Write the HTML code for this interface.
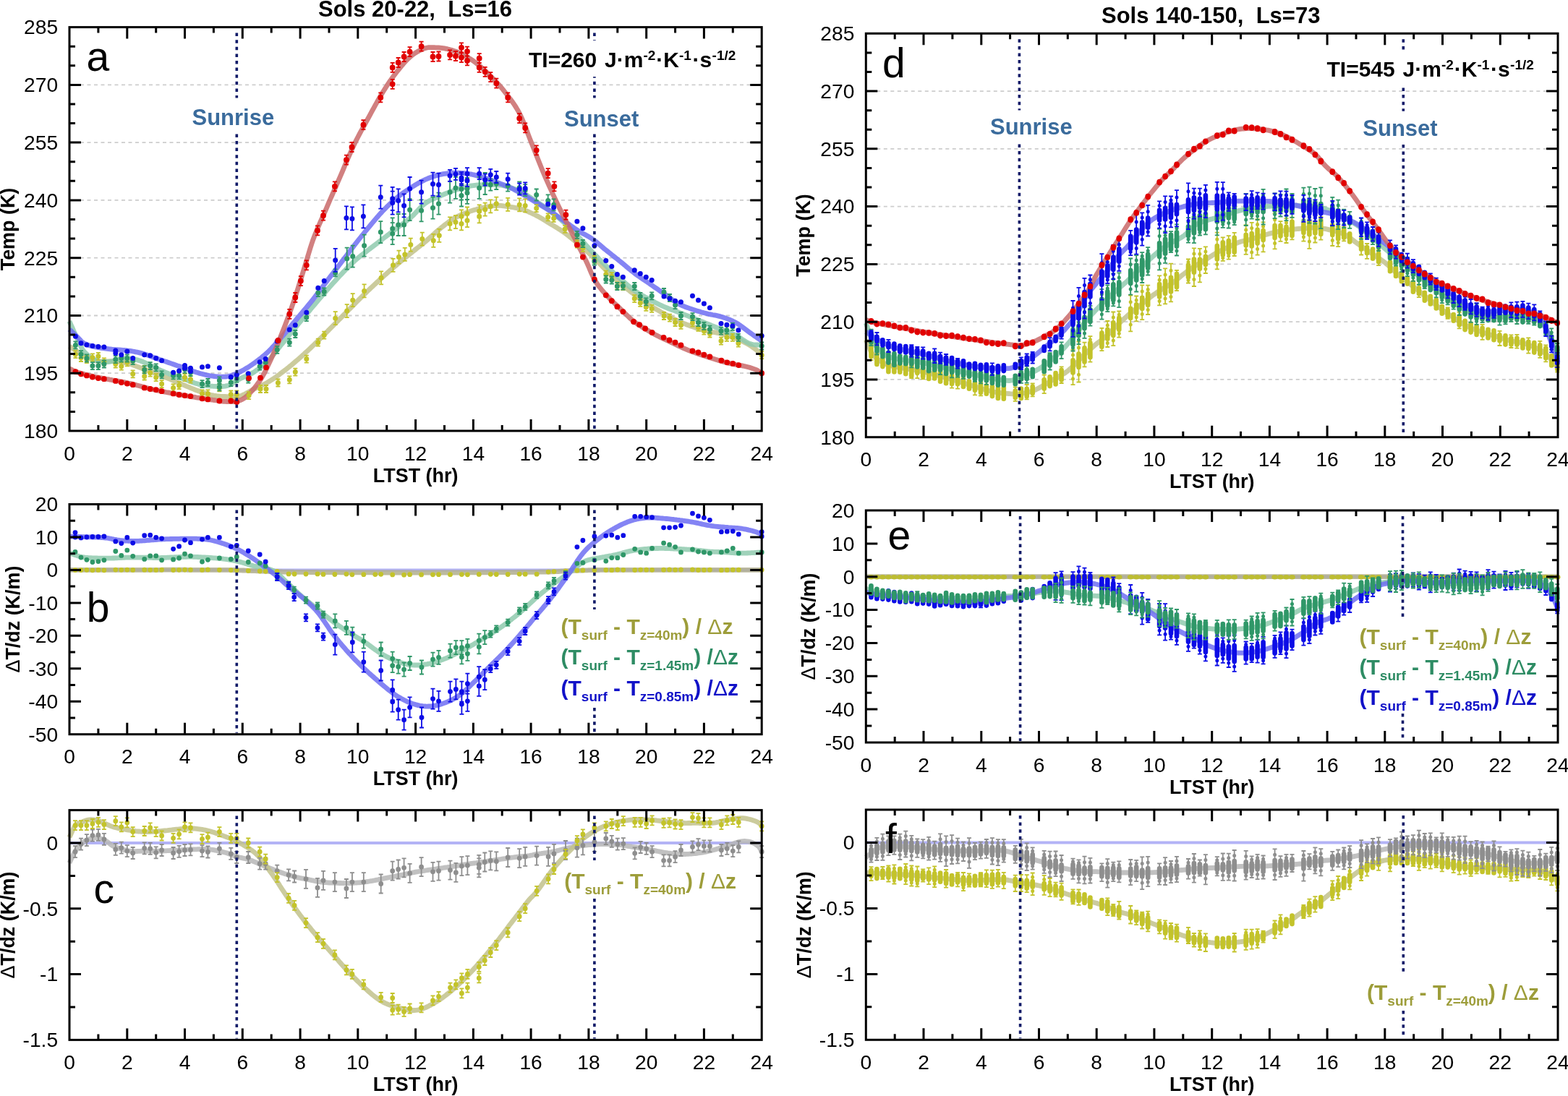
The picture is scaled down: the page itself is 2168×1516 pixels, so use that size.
<!DOCTYPE html>
<html><head><meta charset="utf-8"><title>Figure</title>
<style>html,body{margin:0;padding:0;background:#fff;} svg{display:block;}</style></head>
<body><svg width="2168" height="1516" viewBox="0 0 2168 1516" font-family="'Liberation Sans', Arial, sans-serif">
<rect width="2168" height="1516" fill="#fff"/>
<path d="M111.0 516.2H1038.2M111.0 436.5H1038.2M111.0 356.7H1038.2M111.0 276.9H1038.2M111.0 197.1H1038.2M111.0 117.4H1038.2" stroke="#cdcdcd" stroke-width="1.8" stroke-dasharray="5 4.5" fill="none"/>
<path d="M96.0 479.0L98.0 480.3L100.0 481.6L102.0 483.0L104.0 484.3L106.0 485.7L108.0 487.0L110.0 488.3L112.0 489.5L113.9 490.7L115.9 491.8L117.9 492.8L119.9 493.8L121.9 494.8L123.9 495.7L125.9 496.6L127.9 497.4L129.9 498.1L131.9 498.7L133.9 499.3L135.9 499.7L137.9 500.1L139.9 500.2L141.9 500.2L143.9 500.2L145.9 500.1L147.8 499.9L149.8 499.8L151.8 499.7L153.8 499.7L155.8 499.7L157.8 499.9L159.8 500.0L161.8 500.2L163.8 500.4L165.8 500.6L167.8 500.9L169.8 501.2L171.8 501.6L173.8 502.0L175.8 502.4L177.8 502.9L179.8 503.5L181.7 504.1L183.7 504.8L185.7 505.6L187.7 506.3L189.7 507.1L191.7 507.8L193.7 508.6L195.7 509.3L197.7 510.0L199.7 510.8L201.7 511.5L203.7 512.2L205.7 513.0L207.7 513.7L209.7 514.5L211.7 515.2L213.7 516.0L215.6 516.8L217.6 517.5L219.6 518.3L221.6 519.1L223.6 519.9L225.6 520.7L227.6 521.5L229.6 522.3L231.6 523.1L233.6 523.9L235.6 524.7L237.6 525.6L239.6 526.4L241.6 527.3L243.6 528.1L245.6 529.0L247.6 529.9L249.6 530.7L251.5 531.6L253.5 532.4L255.5 533.2L257.5 534.1L259.5 534.9L261.5 535.7L263.5 536.6L265.5 537.4L267.5 538.2L269.5 539.0L271.5 539.8L273.5 540.5L275.5 541.2L277.5 541.9L279.5 542.6L281.5 543.3L283.5 543.9L285.4 544.5L287.4 545.1L289.4 545.7L291.4 546.2L293.4 546.7L295.4 547.1L297.4 547.4L299.4 547.7L301.4 547.9L303.4 548.1L305.4 548.3L307.4 548.4L309.4 548.5L311.4 548.5L313.4 548.6L315.4 548.7L317.4 548.8L319.3 548.9L321.3 549.0L323.3 549.1L325.3 549.0L327.3 548.9L329.3 548.6L331.3 548.1L333.3 547.5L335.3 546.6L337.3 545.7L339.3 544.7L341.3 543.6L343.3 542.5L345.3 541.3L347.3 540.2L349.3 539.1L351.3 538.0L353.2 537.1L355.2 536.1L357.2 535.2L359.2 534.3L361.2 533.4L363.2 532.4L365.2 531.5L367.2 530.5L369.2 529.4L371.2 528.2L373.2 527.0L375.2 525.7L377.2 524.4L379.2 523.1L381.2 521.7L383.2 520.2L385.2 518.8L387.1 517.3L389.1 515.8L391.1 514.3L393.1 512.8L395.1 511.3L397.1 509.7L399.1 508.1L401.1 506.4L403.1 504.8L405.1 503.1L407.1 501.4L409.1 499.7L411.1 498.0L413.1 496.3L415.1 494.5L417.1 492.7L419.1 490.9L421.0 489.1L423.0 487.3L425.0 485.5L427.0 483.6L429.0 481.7L431.0 479.8L433.0 477.9L435.0 476.0L437.0 474.0L439.0 472.1L441.0 470.1L443.0 468.1L445.0 466.1L447.0 464.1L449.0 462.1L451.0 460.1L453.0 458.1L454.9 456.1L456.9 454.1L458.9 452.1L460.9 450.1L462.9 448.1L464.9 446.1L466.9 444.1L468.9 442.0L470.9 440.0L472.9 438.0L474.9 436.0L476.9 434.0L478.9 431.9L480.9 429.9L482.9 427.9L484.9 425.9L486.9 423.8L488.9 421.8L490.8 419.8L492.8 417.8L494.8 415.9L496.8 413.9L498.8 411.9L500.8 409.9L502.8 407.9L504.8 406.0L506.8 404.0L508.8 402.1L510.8 400.2L512.8 398.3L514.8 396.5L516.8 394.6L518.8 392.7L520.8 390.9L522.8 389.1L524.7 387.3L526.7 385.4L528.7 383.6L530.7 381.8L532.7 380.0L534.7 378.3L536.7 376.5L538.7 374.7L540.7 373.0L542.7 371.2L544.7 369.5L546.7 367.8L548.7 366.1L550.7 364.4L552.7 362.7L554.7 361.1L556.7 359.4L558.6 357.8L560.6 356.2L562.6 354.6L564.6 353.0L566.6 351.4L568.6 349.8L570.6 348.2L572.6 346.6L574.6 345.0L576.6 343.4L578.6 341.9L580.6 340.3L582.6 338.7L584.6 337.1L586.6 335.5L588.6 333.8L590.6 332.1L592.5 330.4L594.5 328.6L596.5 326.8L598.5 325.0L600.5 323.2L602.5 321.4L604.5 319.6L606.5 317.9L608.5 316.3L610.5 314.7L612.5 313.1L614.5 311.5L616.5 309.9L618.5 308.4L620.5 306.9L622.5 305.5L624.5 304.2L626.4 302.9L628.4 301.7L630.4 300.6L632.4 299.6L634.4 298.6L636.4 297.7L638.4 296.8L640.4 295.9L642.4 295.1L644.4 294.3L646.4 293.6L648.4 292.8L650.4 292.1L652.4 291.4L654.4 290.8L656.4 290.2L658.4 289.7L660.3 289.1L662.3 288.6L664.3 288.1L666.3 287.6L668.3 287.2L670.3 286.8L672.3 286.3L674.3 285.9L676.3 285.6L678.3 285.3L680.3 285.0L682.3 284.7L684.3 284.5L686.3 284.4L688.3 284.3L690.3 284.3L692.3 284.4L694.3 284.6L696.2 284.9L698.2 285.1L700.2 285.4L702.2 285.7L704.2 286.0L706.2 286.3L708.2 286.6L710.2 286.9L712.2 287.3L714.2 287.7L716.2 288.1L718.2 288.6L720.2 289.1L722.2 289.8L724.2 290.4L726.2 291.2L728.2 291.9L730.1 292.7L732.1 293.6L734.1 294.5L736.1 295.4L738.1 296.3L740.1 297.3L742.1 298.4L744.1 299.4L746.1 300.6L748.1 301.7L750.1 302.9L752.1 304.2L754.1 305.4L756.1 306.6L758.1 307.9L760.1 309.1L762.1 310.3L764.0 311.4L766.0 312.6L768.0 313.8L770.0 315.0L772.0 316.3L774.0 317.5L776.0 318.9L778.0 320.2L780.0 321.6L782.0 323.1L784.0 324.6L786.0 326.2L788.0 327.8L790.0 329.4L792.0 331.0L794.0 332.7L796.0 334.3L797.9 336.0L799.9 337.7L801.9 339.4L803.9 341.1L805.9 342.8L807.9 344.5L809.9 346.2L811.9 348.0L813.9 349.8L815.9 351.6L817.9 353.4L819.9 355.3L821.9 357.3L823.9 359.2L825.9 361.3L827.9 363.3L829.9 365.4L831.8 367.5L833.8 369.5L835.8 371.5L837.8 373.5L839.8 375.4L841.8 377.3L843.8 379.1L845.8 381.0L847.8 382.8L849.8 384.6L851.8 386.4L853.8 388.1L855.8 389.9L857.8 391.6L859.8 393.3L861.8 395.1L863.8 396.7L865.7 398.4L867.7 400.1L869.7 401.7L871.7 403.3L873.7 404.9L875.7 406.4L877.7 408.0L879.7 409.5L881.7 410.9L883.7 412.4L885.7 413.8L887.7 415.2L889.7 416.6L891.7 417.9L893.7 419.2L895.7 420.6L897.7 421.8L899.6 423.1L901.6 424.4L903.6 425.6L905.6 426.8L907.6 427.9L909.6 429.1L911.6 430.2L913.6 431.4L915.6 432.5L917.6 433.6L919.6 434.7L921.6 435.8L923.6 436.9L925.6 437.9L927.6 439.0L929.6 440.0L931.6 441.0L933.6 442.0L935.5 443.0L937.5 443.9L939.5 444.8L941.5 445.7L943.5 446.5L945.5 447.4L947.5 448.2L949.5 449.0L951.5 449.7L953.5 450.5L955.5 451.2L957.5 451.9L959.5 452.6L961.5 453.2L963.5 453.9L965.5 454.5L967.5 455.1L969.4 455.6L971.4 456.2L973.4 456.7L975.4 457.2L977.4 457.7L979.4 458.2L981.4 458.6L983.4 458.9L985.4 459.3L987.4 459.6L989.4 459.9L991.4 460.3L993.4 460.6L995.4 461.1L997.4 461.6L999.4 462.1L1001.4 462.6L1003.3 463.2L1005.3 463.8L1007.3 464.4L1009.3 465.0L1011.3 465.7L1013.3 466.4L1015.3 467.2L1017.3 468.0L1019.3 468.8L1021.3 469.7L1023.3 470.6L1025.3 471.5L1027.3 472.4L1029.3 473.4L1031.3 474.5L1033.3 475.6L1035.3 476.7L1037.2 477.9L1039.2 479.2L1041.2 480.6L1043.2 482.0L1045.2 483.6L1047.2 485.1L1049.2 486.6L1051.2 488.2L1053.2 489.6" fill="none" stroke="#c2c28c" stroke-width="6.8" stroke-linejoin="round" stroke-linecap="butt" opacity="0.85"/>
<path d="M96.0 444.4L98.0 449.0L100.0 453.5L102.0 458.1L104.0 462.5L106.0 466.8L108.0 471.1L110.0 475.4L112.0 479.6L113.9 483.2L115.9 485.9L117.9 488.0L119.9 489.9L121.9 491.7L123.9 493.3L125.9 494.7L127.9 496.0L129.9 497.1L131.9 498.1L133.9 499.0L135.9 499.7L137.9 500.3L139.9 500.7L141.9 500.9L143.9 501.0L145.9 500.9L147.8 500.7L149.8 500.5L151.8 500.3L153.8 500.0L155.8 499.7L157.8 499.3L159.8 498.7L161.8 497.9L163.8 497.2L165.8 496.5L167.8 496.0L169.8 495.8L171.8 495.6L173.8 495.6L175.8 495.6L177.8 495.8L179.8 496.0L181.7 496.3L183.7 496.6L185.7 497.0L187.7 497.4L189.7 497.9L191.7 498.4L193.7 499.0L195.7 499.7L197.7 500.5L199.7 501.4L201.7 502.3L203.7 503.3L205.7 504.3L207.7 505.4L209.7 506.4L211.7 507.4L213.7 508.4L215.6 509.3L217.6 510.2L219.6 511.1L221.6 512.0L223.6 512.9L225.6 513.7L227.6 514.6L229.6 515.4L231.6 516.2L233.6 517.0L235.6 517.8L237.6 518.6L239.6 519.3L241.6 520.0L243.6 520.7L245.6 521.4L247.6 522.0L249.6 522.7L251.5 523.4L253.5 524.1L255.5 524.7L257.5 525.4L259.5 526.2L261.5 526.9L263.5 527.7L265.5 528.5L267.5 529.2L269.5 529.9L271.5 530.5L273.5 531.1L275.5 531.7L277.5 532.1L279.5 532.5L281.5 532.9L283.5 533.2L285.4 533.5L287.4 533.7L289.4 533.9L291.4 534.1L293.4 534.2L295.4 534.3L297.4 534.4L299.4 534.5L301.4 534.6L303.4 534.6L305.4 534.6L307.4 534.5L309.4 534.4L311.4 534.1L313.4 533.7L315.4 533.2L317.4 532.5L319.3 531.6L321.3 530.5L323.3 529.2L325.3 527.9L327.3 526.6L329.3 525.3L331.3 524.2L333.3 523.2L335.3 522.3L337.3 521.4L339.3 520.6L341.3 519.7L343.3 518.9L345.3 517.9L347.3 516.9L349.3 515.9L351.3 514.6L353.2 513.3L355.2 511.9L357.2 510.5L359.2 509.0L361.2 507.4L363.2 505.7L365.2 504.0L367.2 502.2L369.2 500.3L371.2 498.3L373.2 496.2L375.2 493.9L377.2 491.6L379.2 489.2L381.2 486.7L383.2 484.2L385.2 481.7L387.1 479.2L389.1 476.7L391.1 474.3L393.1 471.8L395.1 469.4L397.1 467.0L399.1 464.5L401.1 462.0L403.1 459.6L405.1 457.1L407.1 454.7L409.1 452.3L411.1 449.8L413.1 447.4L415.1 445.0L417.1 442.6L419.1 440.2L421.0 437.8L423.0 435.4L425.0 433.1L427.0 430.7L429.0 428.3L431.0 425.9L433.0 423.6L435.0 421.2L437.0 418.8L439.0 416.5L441.0 414.1L443.0 411.8L445.0 409.5L447.0 407.2L449.0 404.9L451.0 402.6L453.0 400.3L454.9 398.0L456.9 395.8L458.9 393.5L460.9 391.3L462.9 389.1L464.9 386.9L466.9 384.7L468.9 382.5L470.9 380.4L472.9 378.3L474.9 376.2L476.9 374.1L478.9 372.0L480.9 370.0L482.9 368.0L484.9 366.0L486.9 364.1L488.9 362.2L490.8 360.4L492.8 358.7L494.8 357.0L496.8 355.4L498.8 353.8L500.8 352.3L502.8 350.7L504.8 349.2L506.8 347.7L508.8 346.1L510.8 344.6L512.8 343.0L514.8 341.5L516.8 340.0L518.8 338.5L520.8 337.0L522.8 335.5L524.7 334.0L526.7 332.5L528.7 330.9L530.7 329.4L532.7 327.9L534.7 326.3L536.7 324.8L538.7 323.2L540.7 321.7L542.7 320.1L544.7 318.6L546.7 317.0L548.7 315.5L550.7 314.0L552.7 312.5L554.7 311.1L556.7 309.6L558.6 308.2L560.6 306.7L562.6 305.2L564.6 303.6L566.6 302.0L568.6 300.3L570.6 298.5L572.6 296.5L574.6 294.4L576.6 292.2L578.6 290.0L580.6 287.9L582.6 285.9L584.6 284.0L586.6 282.3L588.6 280.8L590.6 279.5L592.5 278.4L594.5 277.3L596.5 276.3L598.5 275.4L600.5 274.5L602.5 273.7L604.5 272.8L606.5 272.0L608.5 271.1L610.5 270.2L612.5 269.3L614.5 268.5L616.5 267.7L618.5 266.9L620.5 266.1L622.5 265.3L624.5 264.6L626.4 263.9L628.4 263.2L630.4 262.5L632.4 261.8L634.4 261.2L636.4 260.5L638.4 259.9L640.4 259.3L642.4 258.8L644.4 258.3L646.4 257.9L648.4 257.5L650.4 257.1L652.4 256.8L654.4 256.6L656.4 256.4L658.4 256.2L660.3 256.0L662.3 255.9L664.3 255.8L666.3 255.7L668.3 255.6L670.3 255.5L672.3 255.4L674.3 255.4L676.3 255.4L678.3 255.4L680.3 255.4L682.3 255.4L684.3 255.5L686.3 255.6L688.3 255.8L690.3 256.0L692.3 256.2L694.3 256.5L696.2 256.8L698.2 257.3L700.2 257.8L702.2 258.3L704.2 258.9L706.2 259.6L708.2 260.2L710.2 261.0L712.2 261.7L714.2 262.5L716.2 263.3L718.2 264.3L720.2 265.2L722.2 266.3L724.2 267.4L726.2 268.5L728.2 269.8L730.1 271.1L732.1 272.4L734.1 273.7L736.1 275.0L738.1 276.4L740.1 277.7L742.1 279.0L744.1 280.4L746.1 281.7L748.1 283.0L750.1 284.4L752.1 285.8L754.1 287.2L756.1 288.6L758.1 290.1L760.1 291.6L762.1 293.1L764.0 294.6L766.0 296.2L768.0 297.8L770.0 299.4L772.0 301.0L774.0 302.7L776.0 304.4L778.0 306.2L780.0 308.0L782.0 309.8L784.0 311.7L786.0 313.6L788.0 315.5L790.0 317.5L792.0 319.5L794.0 321.6L796.0 323.6L797.9 325.7L799.9 327.7L801.9 329.9L803.9 332.0L805.9 334.2L807.9 336.4L809.9 338.7L811.9 340.9L813.9 343.1L815.9 345.3L817.9 347.4L819.9 349.5L821.9 351.6L823.9 353.7L825.9 355.7L827.9 357.8L829.9 359.8L831.8 361.8L833.8 363.7L835.8 365.7L837.8 367.6L839.8 369.5L841.8 371.4L843.8 373.3L845.8 375.1L847.8 376.9L849.8 378.7L851.8 380.5L853.8 382.3L855.8 384.0L857.8 385.8L859.8 387.5L861.8 389.2L863.8 390.9L865.7 392.7L867.7 394.3L869.7 396.0L871.7 397.6L873.7 399.2L875.7 400.7L877.7 402.1L879.7 403.5L881.7 404.8L883.7 406.1L885.7 407.3L887.7 408.4L889.7 409.6L891.7 410.7L893.7 411.7L895.7 412.8L897.7 413.9L899.6 415.0L901.6 416.1L903.6 417.1L905.6 418.2L907.6 419.2L909.6 420.2L911.6 421.2L913.6 422.2L915.6 423.1L917.6 424.0L919.6 424.9L921.6 425.7L923.6 426.5L925.6 427.3L927.6 428.0L929.6 428.7L931.6 429.4L933.6 430.2L935.5 430.9L937.5 431.7L939.5 432.5L941.5 433.2L943.5 434.0L945.5 434.8L947.5 435.6L949.5 436.4L951.5 437.2L953.5 438.0L955.5 438.8L957.5 439.6L959.5 440.4L961.5 441.2L963.5 442.0L965.5 442.8L967.5 443.6L969.4 444.4L971.4 445.2L973.4 446.0L975.4 446.8L977.4 447.6L979.4 448.4L981.4 449.2L983.4 450.1L985.4 450.9L987.4 451.7L989.4 452.5L991.4 453.3L993.4 454.1L995.4 455.0L997.4 455.8L999.4 456.5L1001.4 457.3L1003.3 458.0L1005.3 458.8L1007.3 459.5L1009.3 460.3L1011.3 461.1L1013.3 461.9L1015.3 462.8L1017.3 463.8L1019.3 464.9L1021.3 466.1L1023.3 467.4L1025.3 468.8L1027.3 470.1L1029.3 471.4L1031.3 472.7L1033.3 473.8L1035.3 474.8L1037.2 475.6L1039.2 476.1L1041.2 476.5L1043.2 476.8L1045.2 476.9L1047.2 477.0L1049.2 477.1L1051.2 477.2L1053.2 477.4" fill="none" stroke="#8fcaae" stroke-width="6.8" stroke-linejoin="round" stroke-linecap="butt" opacity="0.85"/>
<path d="M96.0 455.6L98.0 457.5L100.0 459.4L102.0 461.3L104.0 463.3L106.0 465.2L108.0 467.2L110.0 469.4L112.0 471.6L113.9 473.4L115.9 474.7L117.9 475.7L119.9 476.5L121.9 477.3L123.9 477.9L125.9 478.4L127.9 478.9L129.9 479.4L131.9 479.8L133.9 480.2L135.9 480.6L137.9 481.0L139.9 481.4L141.9 481.7L143.9 481.9L145.9 482.2L147.8 482.4L149.8 482.6L151.8 482.8L153.8 483.0L155.8 483.3L157.8 483.4L159.8 483.6L161.8 483.7L163.8 483.9L165.8 484.0L167.8 484.1L169.8 484.3L171.8 484.4L173.8 484.6L175.8 484.9L177.8 485.1L179.8 485.4L181.7 485.7L183.7 486.0L185.7 486.4L187.7 486.8L189.7 487.2L191.7 487.6L193.7 488.1L195.7 488.6L197.7 489.1L199.7 489.8L201.7 490.4L203.7 491.1L205.7 491.8L207.7 492.6L209.7 493.3L211.7 494.1L213.7 494.8L215.6 495.5L217.6 496.2L219.6 496.9L221.6 497.6L223.6 498.3L225.6 498.9L227.6 499.6L229.6 500.3L231.6 501.0L233.6 501.7L235.6 502.4L237.6 503.1L239.6 503.8L241.6 504.5L243.6 505.2L245.6 505.9L247.6 506.5L249.6 507.2L251.5 507.9L253.5 508.6L255.5 509.3L257.5 510.0L259.5 510.7L261.5 511.5L263.5 512.2L265.5 512.9L267.5 513.7L269.5 514.3L271.5 515.0L273.5 515.6L275.5 516.2L277.5 516.8L279.5 517.3L281.5 517.8L283.5 518.3L285.4 518.8L287.4 519.2L289.4 519.6L291.4 519.9L293.4 520.2L295.4 520.5L297.4 520.7L299.4 520.9L301.4 521.0L303.4 521.1L305.4 521.2L307.4 521.2L309.4 521.1L311.4 521.0L313.4 520.8L315.4 520.5L317.4 520.1L319.3 519.6L321.3 519.0L323.3 518.2L325.3 517.4L327.3 516.6L329.3 515.6L331.3 514.6L333.3 513.6L335.3 512.5L337.3 511.4L339.3 510.2L341.3 509.0L343.3 507.8L345.3 506.5L347.3 505.2L349.3 503.8L351.3 502.4L353.2 501.0L355.2 499.5L357.2 498.0L359.2 496.4L361.2 494.9L363.2 493.2L365.2 491.5L367.2 489.8L369.2 488.0L371.2 486.1L373.2 484.1L375.2 482.1L377.2 479.9L379.2 477.8L381.2 475.6L383.2 473.3L385.2 471.1L387.1 468.8L389.1 466.5L391.1 464.2L393.1 461.9L395.1 459.5L397.1 457.2L399.1 454.8L401.1 452.4L403.1 449.9L405.1 447.5L407.1 445.1L409.1 442.7L411.1 440.3L413.1 437.9L415.1 435.6L417.1 433.2L419.1 430.8L421.0 428.5L423.0 426.1L425.0 423.7L427.0 421.3L429.0 418.8L431.0 416.3L433.0 413.8L435.0 411.2L437.0 408.6L439.0 406.0L441.0 403.4L443.0 400.7L445.0 398.1L447.0 395.4L449.0 392.8L451.0 390.2L453.0 387.6L454.9 385.0L456.9 382.4L458.9 379.8L460.9 377.2L462.9 374.6L464.9 372.0L466.9 369.4L468.9 366.8L470.9 364.2L472.9 361.5L474.9 358.9L476.9 356.3L478.9 353.7L480.9 351.1L482.9 348.4L484.9 345.8L486.9 343.3L488.9 340.7L490.8 338.1L492.8 335.6L494.8 333.0L496.8 330.5L498.8 328.0L500.8 325.5L502.8 323.0L504.8 320.5L506.8 318.1L508.8 315.6L510.8 313.2L512.8 310.8L514.8 308.4L516.8 306.0L518.8 303.6L520.8 301.3L522.8 299.0L524.7 296.8L526.7 294.6L528.7 292.4L530.7 290.4L532.7 288.3L534.7 286.3L536.7 284.4L538.7 282.5L540.7 280.6L542.7 278.8L544.7 277.0L546.7 275.3L548.7 273.6L550.7 272.0L552.7 270.4L554.7 268.9L556.7 267.5L558.6 266.0L560.6 264.7L562.6 263.3L564.6 262.0L566.6 260.7L568.6 259.4L570.6 258.1L572.6 256.9L574.6 255.6L576.6 254.4L578.6 253.3L580.6 252.2L582.6 251.1L584.6 250.1L586.6 249.1L588.6 248.2L590.6 247.3L592.5 246.5L594.5 245.7L596.5 245.0L598.5 244.3L600.5 243.7L602.5 243.1L604.5 242.5L606.5 242.0L608.5 241.5L610.5 241.1L612.5 240.7L614.5 240.4L616.5 240.1L618.5 239.8L620.5 239.6L622.5 239.4L624.5 239.3L626.4 239.2L628.4 239.1L630.4 239.1L632.4 239.1L634.4 239.1L636.4 239.2L638.4 239.3L640.4 239.5L642.4 239.7L644.4 239.9L646.4 240.2L648.4 240.5L650.4 240.8L652.4 241.2L654.4 241.7L656.4 242.1L658.4 242.6L660.3 243.2L662.3 243.7L664.3 244.3L666.3 244.9L668.3 245.5L670.3 246.1L672.3 246.8L674.3 247.5L676.3 248.2L678.3 248.9L680.3 249.7L682.3 250.4L684.3 251.2L686.3 251.9L688.3 252.7L690.3 253.4L692.3 254.2L694.3 254.9L696.2 255.7L698.2 256.5L700.2 257.3L702.2 258.1L704.2 259.0L706.2 259.9L708.2 260.8L710.2 261.8L712.2 262.9L714.2 264.0L716.2 265.1L718.2 266.2L720.2 267.3L722.2 268.5L724.2 269.7L726.2 270.8L728.2 272.0L730.1 273.2L732.1 274.4L734.1 275.6L736.1 276.9L738.1 278.1L740.1 279.3L742.1 280.5L744.1 281.7L746.1 282.9L748.1 284.1L750.1 285.3L752.1 286.5L754.1 287.7L756.1 289.0L758.1 290.2L760.1 291.5L762.1 292.9L764.0 294.3L766.0 295.7L768.0 297.1L770.0 298.5L772.0 300.0L774.0 301.4L776.0 302.8L778.0 304.3L780.0 305.7L782.0 307.1L784.0 308.5L786.0 309.9L788.0 311.3L790.0 312.7L792.0 314.1L794.0 315.5L796.0 316.8L797.9 318.2L799.9 319.4L801.9 320.6L803.9 321.8L805.9 322.9L807.9 324.0L809.9 325.1L811.9 326.2L813.9 327.3L815.9 328.5L817.9 329.8L819.9 331.2L821.9 332.7L823.9 334.2L825.9 335.8L827.9 337.5L829.9 339.2L831.8 340.9L833.8 342.6L835.8 344.3L837.8 345.9L839.8 347.5L841.8 349.1L843.8 350.7L845.8 352.3L847.8 353.9L849.8 355.5L851.8 357.1L853.8 358.7L855.8 360.3L857.8 361.9L859.8 363.5L861.8 365.1L863.8 366.8L865.7 368.5L867.7 370.1L869.7 371.8L871.7 373.4L873.7 375.1L875.7 376.6L877.7 378.2L879.7 379.7L881.7 381.1L883.7 382.5L885.7 383.9L887.7 385.3L889.7 386.6L891.7 388.0L893.7 389.3L895.7 390.7L897.7 392.0L899.6 393.4L901.6 394.8L903.6 396.2L905.6 397.6L907.6 398.9L909.6 400.3L911.6 401.7L913.6 403.1L915.6 404.5L917.6 405.9L919.6 407.3L921.6 408.8L923.6 410.3L925.6 411.8L927.6 413.3L929.6 414.7L931.6 416.2L933.6 417.5L935.5 418.8L937.5 420.0L939.5 421.0L941.5 422.0L943.5 422.9L945.5 423.7L947.5 424.5L949.5 425.2L951.5 425.9L953.5 426.6L955.5 427.3L957.5 427.9L959.5 428.6L961.5 429.3L963.5 429.9L965.5 430.5L967.5 431.1L969.4 431.7L971.4 432.2L973.4 432.8L975.4 433.3L977.4 433.8L979.4 434.3L981.4 434.7L983.4 435.1L985.4 435.5L987.4 435.8L989.4 436.2L991.4 436.6L993.4 437.1L995.4 437.6L997.4 438.2L999.4 438.8L1001.4 439.5L1003.3 440.1L1005.3 440.8L1007.3 441.6L1009.3 442.4L1011.3 443.3L1013.3 444.2L1015.3 445.2L1017.3 446.3L1019.3 447.4L1021.3 448.7L1023.3 450.1L1025.3 451.5L1027.3 453.0L1029.3 454.5L1031.3 456.0L1033.3 457.5L1035.3 459.0L1037.2 460.4L1039.2 461.8L1041.2 463.2L1043.2 464.6L1045.2 466.0L1047.2 467.4L1049.2 468.8L1051.2 470.2L1053.2 471.6" fill="none" stroke="#6e6ef2" stroke-width="6.8" stroke-linejoin="round" stroke-linecap="butt" opacity="0.85"/>
<path d="M96.0 509.8L98.0 510.9L100.0 511.9L102.0 513.0L104.0 513.9L106.0 514.6L108.0 515.2L110.0 515.8L112.0 516.4L113.9 516.9L115.9 517.4L117.9 518.0L119.9 518.5L121.9 518.9L123.9 519.4L125.9 519.9L127.9 520.3L129.9 520.8L131.9 521.2L133.9 521.7L135.9 522.1L137.9 522.5L139.9 522.9L141.9 523.3L143.9 523.7L145.9 524.0L147.8 524.4L149.8 524.7L151.8 525.1L153.8 525.4L155.8 525.8L157.8 526.1L159.8 526.5L161.8 526.8L163.8 527.2L165.8 527.5L167.8 527.9L169.8 528.3L171.8 528.7L173.8 529.1L175.8 529.5L177.8 530.0L179.8 530.4L181.7 530.9L183.7 531.4L185.7 531.9L187.7 532.4L189.7 533.0L191.7 533.5L193.7 534.0L195.7 534.6L197.7 535.1L199.7 535.7L201.7 536.2L203.7 536.7L205.7 537.2L207.7 537.7L209.7 538.2L211.7 538.7L213.7 539.2L215.6 539.6L217.6 540.1L219.6 540.5L221.6 540.9L223.6 541.3L225.6 541.7L227.6 542.1L229.6 542.5L231.6 542.8L233.6 543.2L235.6 543.6L237.6 543.9L239.6 544.3L241.6 544.7L243.6 545.0L245.6 545.3L247.6 545.7L249.6 546.0L251.5 546.4L253.5 546.7L255.5 547.1L257.5 547.4L259.5 547.8L261.5 548.1L263.5 548.4L265.5 548.8L267.5 549.1L269.5 549.4L271.5 549.8L273.5 550.1L275.5 550.4L277.5 550.7L279.5 551.1L281.5 551.4L283.5 551.7L285.4 552.0L287.4 552.3L289.4 552.6L291.4 552.9L293.4 553.2L295.4 553.5L297.4 553.7L299.4 554.0L301.4 554.3L303.4 554.6L305.4 554.8L307.4 555.1L309.4 555.3L311.4 555.4L313.4 555.5L315.4 555.6L317.4 555.6L319.3 555.6L321.3 555.6L323.3 555.5L325.3 555.3L327.3 555.0L329.3 554.6L331.3 554.0L333.3 553.2L335.3 552.2L337.3 551.0L339.3 549.6L341.3 547.9L343.3 546.0L345.3 544.0L347.3 541.8L349.3 539.6L351.3 537.3L353.2 534.9L355.2 532.3L357.2 529.5L359.2 526.7L361.2 523.6L363.2 520.2L365.2 516.6L367.2 512.7L369.2 508.6L371.2 504.4L373.2 500.0L375.2 495.7L377.2 491.3L379.2 486.7L381.2 482.1L383.2 477.5L385.2 472.7L387.1 467.8L389.1 462.8L391.1 457.8L393.1 452.6L395.1 447.4L397.1 442.1L399.1 436.7L401.1 431.2L403.1 425.6L405.1 419.9L407.1 414.0L409.1 408.0L411.1 401.7L413.1 395.4L415.1 389.0L417.1 382.5L419.1 376.0L421.0 369.6L423.0 363.2L425.0 356.6L427.0 349.9L429.0 343.3L431.0 337.0L433.0 331.2L435.0 325.9L437.0 320.9L439.0 316.1L441.0 311.5L443.0 306.9L445.0 302.5L447.0 298.0L449.0 293.4L451.0 288.8L453.0 284.2L454.9 279.6L456.9 275.0L458.9 270.5L460.9 265.9L462.9 261.4L464.9 256.8L466.9 252.2L468.9 247.7L470.9 243.0L472.9 238.3L474.9 233.6L476.9 228.8L478.9 224.1L480.9 219.4L482.9 214.8L484.9 210.3L486.9 205.9L488.9 201.6L490.8 197.5L492.8 193.6L494.8 189.7L496.8 185.9L498.8 182.2L500.8 178.5L502.8 174.9L504.8 171.3L506.8 167.6L508.8 164.0L510.8 160.3L512.8 156.6L514.8 152.9L516.8 149.3L518.8 145.6L520.8 142.1L522.8 138.5L524.7 135.1L526.7 131.7L528.7 128.4L530.7 125.2L532.7 122.1L534.7 119.0L536.7 116.0L538.7 113.0L540.7 110.1L542.7 107.3L544.7 104.6L546.7 101.9L548.7 99.3L550.7 96.8L552.7 94.3L554.7 91.8L556.7 89.5L558.6 87.2L560.6 85.0L562.6 82.9L564.6 80.9L566.6 79.1L568.6 77.4L570.6 75.8L572.6 74.3L574.6 73.0L576.6 71.8L578.6 70.7L580.6 69.6L582.6 68.7L584.6 67.9L586.6 67.1L588.6 66.5L590.6 66.0L592.5 65.7L594.5 65.6L596.5 65.6L598.5 65.6L600.5 65.7L602.5 65.8L604.5 65.8L606.5 65.9L608.5 66.1L610.5 66.3L612.5 66.6L614.5 66.9L616.5 67.3L618.5 67.7L620.5 68.2L622.5 68.8L624.5 69.3L626.4 69.9L628.4 70.6L630.4 71.3L632.4 72.0L634.4 72.8L636.4 73.7L638.4 74.6L640.4 75.6L642.4 76.7L644.4 77.8L646.4 79.0L648.4 80.3L650.4 81.6L652.4 82.9L654.4 84.3L656.4 85.8L658.4 87.3L660.3 88.8L662.3 90.5L664.3 92.2L666.3 93.9L668.3 95.7L670.3 97.5L672.3 99.4L674.3 101.3L676.3 103.3L678.3 105.3L680.3 107.3L682.3 109.3L684.3 111.4L686.3 113.5L688.3 115.7L690.3 117.9L692.3 120.2L694.3 122.5L696.2 124.9L698.2 127.5L700.2 130.0L702.2 132.6L704.2 135.2L706.2 137.8L708.2 140.5L710.2 143.4L712.2 146.4L714.2 149.6L716.2 153.0L718.2 156.7L720.2 160.8L722.2 165.2L724.2 170.0L726.2 175.0L728.2 180.2L730.1 185.4L732.1 190.6L734.1 195.8L736.1 200.8L738.1 205.8L740.1 210.8L742.1 215.9L744.1 221.0L746.1 226.0L748.1 231.0L750.1 235.9L752.1 240.6L754.1 245.3L756.1 249.9L758.1 254.4L760.1 258.8L762.1 263.2L764.0 267.6L766.0 271.9L768.0 276.2L770.0 280.4L772.0 284.6L774.0 288.7L776.0 292.8L778.0 296.8L780.0 300.8L782.0 304.8L784.0 308.8L786.0 312.8L788.0 316.7L790.0 320.6L792.0 324.5L794.0 328.4L796.0 332.3L797.9 336.2L799.9 340.2L801.9 344.1L803.9 348.0L805.9 352.0L807.9 356.0L809.9 360.0L811.9 364.3L813.9 368.8L815.9 373.6L817.9 378.3L819.9 382.7L821.9 386.7L823.9 390.0L825.9 393.0L827.9 395.7L829.9 398.3L831.8 400.7L833.8 403.0L835.8 405.2L837.8 407.4L839.8 409.6L841.8 411.7L843.8 413.8L845.8 415.8L847.8 417.7L849.8 419.6L851.8 421.5L853.8 423.4L855.8 425.3L857.8 427.2L859.8 429.1L861.8 431.1L863.8 433.0L865.7 435.0L867.7 436.9L869.7 438.8L871.7 440.7L873.7 442.4L875.7 444.0L877.7 445.6L879.7 447.0L881.7 448.4L883.7 449.7L885.7 451.0L887.7 452.3L889.7 453.5L891.7 454.7L893.7 455.9L895.7 457.1L897.7 458.2L899.6 459.3L901.6 460.5L903.6 461.6L905.6 462.7L907.6 463.7L909.6 464.8L911.6 465.8L913.6 466.7L915.6 467.7L917.6 468.7L919.6 469.6L921.6 470.5L923.6 471.5L925.6 472.4L927.6 473.4L929.6 474.3L931.6 475.3L933.6 476.2L935.5 477.2L937.5 478.1L939.5 479.1L941.5 480.0L943.5 480.9L945.5 481.8L947.5 482.7L949.5 483.5L951.5 484.4L953.5 485.2L955.5 485.9L957.5 486.7L959.5 487.4L961.5 488.1L963.5 488.8L965.5 489.5L967.5 490.2L969.4 490.8L971.4 491.5L973.4 492.1L975.4 492.7L977.4 493.4L979.4 494.0L981.4 494.7L983.4 495.3L985.4 495.9L987.4 496.6L989.4 497.2L991.4 497.8L993.4 498.4L995.4 499.0L997.4 499.6L999.4 500.2L1001.4 500.7L1003.3 501.3L1005.3 501.8L1007.3 502.3L1009.3 502.7L1011.3 503.1L1013.3 503.5L1015.3 503.9L1017.3 504.3L1019.3 504.6L1021.3 505.0L1023.3 505.4L1025.3 505.7L1027.3 506.1L1029.3 506.5L1031.3 507.0L1033.3 507.5L1035.3 508.0L1037.2 508.6L1039.2 509.2L1041.2 509.9L1043.2 510.6L1045.2 511.4L1047.2 512.4L1049.2 513.7L1051.2 515.0L1053.2 516.2" fill="none" stroke="#c96a6a" stroke-width="6.8" stroke-linejoin="round" stroke-linecap="butt" opacity="0.85"/>
<path d="M104.4 485.2V495.2M101.4 485.2h6M101.4 495.2h6M112.0 490.0V500.0M109.0 490.0h6M109.0 500.0h6M119.9 492.1V502.1M116.9 492.1h6M116.9 502.1h6M127.9 489.4V499.4M124.9 489.4h6M124.9 499.4h6M135.9 487.8V497.8M132.9 487.8h6M132.9 497.8h6M143.9 495.3V505.3M140.9 495.3h6M140.9 505.3h6M159.8 498.5V508.5M156.8 498.5h6M156.8 508.5h6M167.8 501.7V511.7M164.8 501.7h6M164.8 511.7h6M175.8 496.3V506.3M172.8 496.3h6M172.8 506.3h6M183.7 512.3V522.3M180.7 512.3h6M180.7 522.3h6M199.7 505.9V515.9M196.7 505.9h6M196.7 515.9h6M199.7 515.5V525.5M196.7 515.5h6M196.7 525.5h6M207.7 510.7V520.7M204.7 510.7h6M204.7 520.7h6M215.7 517.1V527.1M212.7 517.1h6M212.7 527.1h6M223.6 526.1V536.1M220.6 526.1h6M220.6 536.1h6M239.6 531.4V541.4M236.6 531.4h6M236.6 541.4h6M247.6 528.2V538.2M244.6 528.2h6M244.6 538.2h6M255.5 517.1V527.1M252.5 517.1h6M252.5 527.1h6M263.5 519.7V529.7M260.5 519.7h6M260.5 529.7h6M279.5 539.4V549.4M276.5 539.4h6M276.5 549.4h6M287.4 539.4V549.4M284.4 539.4h6M284.4 549.4h6M303.4 531.4V541.4M300.4 531.4h6M300.4 541.4h6M319.3 540.5V550.5M316.3 540.5h6M316.3 550.5h6M327.3 540.5V550.5M324.3 540.5h6M324.3 550.5h6M344.1 542.1V552.1M341.1 542.1h6M341.1 552.1h6M360.0 533.0V543.0M357.0 533.0h6M357.0 543.0h6M368.0 533.0V543.0M365.0 533.0h6M365.0 543.0h6M384.4 524.5V534.5M381.4 524.5h6M381.4 534.5h6M400.3 520.3V530.3M397.3 520.3h6M397.3 530.3h6M408.3 509.6V519.6M405.3 509.6h6M405.3 519.6h6M423.8 491.6V501.6M420.8 491.6h6M420.8 501.6h6M439.8 468.7V478.7M436.8 468.7h6M436.8 478.7h6M448.2 458.6V468.6M445.2 458.6h6M445.2 468.6h6M463.7 431.2V449.2M460.7 431.2h6M460.7 449.2h6M479.7 421.1V439.1M476.7 421.1h6M476.7 439.1h6M487.7 406.2V424.2M484.7 406.2h6M484.7 424.2h6M503.6 393.4V411.4M500.6 393.4h6M500.6 411.4h6M527.1 375.3V393.3M524.1 375.3h6M524.1 393.3h6M543.5 357.8V375.8M540.5 357.8h6M540.5 375.8h6M551.5 346.6V364.6M548.5 346.6h6M548.5 364.6h6M559.8 342.9V360.9M556.8 342.9h6M556.8 360.9h6M567.8 329.6V347.6M564.8 329.6h6M564.8 347.6h6M583.8 321.6V339.6M580.8 321.6h6M580.8 339.6h6M599.3 323.8V341.8M596.3 323.8h6M596.3 341.8h6M607.3 316.8V334.8M604.3 316.8h6M604.3 334.8h6M622.1 300.4V318.4M619.1 300.4h6M619.1 318.4h6M630.0 298.2V316.2M627.0 298.2h6M627.0 316.2h6M638.0 290.3V308.3M635.0 290.3h6M635.0 308.3h6M638.0 300.4V318.4M635.0 300.4h6M635.0 318.4h6M646.0 286.5V304.5M643.0 286.5h6M643.0 304.5h6M646.0 296.1V314.1M643.0 296.1h6M643.0 314.1h6M662.7 283.3V301.3M659.7 283.3h6M659.7 301.3h6M662.7 290.3V308.3M659.7 290.3h6M659.7 308.3h6M670.7 280.7V298.7M667.7 280.7h6M667.7 298.7h6M678.3 276.4V294.4M675.3 276.4h6M675.3 294.4h6M686.3 272.7V290.7M683.3 272.7h6M683.3 290.7h6M702.2 273.8V291.8M699.2 273.8h6M699.2 291.8h6M718.2 274.3V292.3M715.2 274.3h6M715.2 292.3h6M726.2 275.4V293.4M723.2 275.4h6M723.2 293.4h6M741.7 283.1V293.1M738.7 283.1h6M738.7 293.1h6M757.7 295.3V305.3M754.7 295.3h6M754.7 305.3h6M765.6 296.9V306.9M762.6 296.9h6M762.6 306.9h6M781.2 311.8V321.8M778.2 311.8h6M778.2 321.8h6M797.9 332.5V342.5M794.9 332.5h6M794.9 342.5h6M805.9 337.9V347.9M802.9 337.9h6M802.9 347.9h6M821.9 353.8V363.8M818.9 353.8h6M818.9 363.8h6M837.8 374.6V384.6M834.8 374.6h6M834.8 384.6h6M845.8 377.2V387.2M842.8 377.2h6M842.8 387.2h6M853.4 390.5V400.5M850.4 390.5h6M850.4 400.5h6M861.4 391.0V401.0M858.4 391.0h6M858.4 401.0h6M877.3 408.1V418.1M874.3 408.1h6M874.3 418.1h6M885.3 413.9V423.9M882.3 413.9h6M882.3 423.9h6M893.3 419.8V429.8M890.3 419.8h6M890.3 429.8h6M901.2 421.9V431.9M898.2 421.9h6M898.2 431.9h6M918.0 432.0V442.0M915.0 432.0h6M915.0 442.0h6M926.0 434.6V444.6M923.0 434.6h6M923.0 444.6h6M933.6 441.0V451.0M930.6 441.0h6M930.6 451.0h6M941.5 444.8V454.8M938.5 444.8h6M938.5 454.8h6M957.5 441.6V451.6M954.5 441.6h6M954.5 451.6h6M965.5 447.9V457.9M962.5 447.9h6M962.5 457.9h6M973.4 452.7V462.7M970.4 452.7h6M970.4 462.7h6M981.4 456.5V466.5M978.4 456.5h6M978.4 466.5h6M997.0 466.6V476.6M994.0 466.6h6M994.0 476.6h6M1004.9 461.8V471.8M1001.9 461.8h6M1001.9 471.8h6M1012.9 461.8V471.8M1009.9 461.8h6M1009.9 471.8h6M1020.9 469.7V479.7M1017.9 469.7h6M1017.9 479.7h6M1053.2 486.2V496.2M1050.2 486.2h6M1050.2 496.2h6" stroke="#c3c32a" stroke-width="1.8" fill="none"/><path d="M100.9 490.2a3.5 3.5 0 1 0 7.0 0a3.5 3.5 0 1 0 -7.0 0M108.5 495.0a3.5 3.5 0 1 0 7.0 0a3.5 3.5 0 1 0 -7.0 0M116.4 497.1a3.5 3.5 0 1 0 7.0 0a3.5 3.5 0 1 0 -7.0 0M124.4 494.4a3.5 3.5 0 1 0 7.0 0a3.5 3.5 0 1 0 -7.0 0M132.4 492.8a3.5 3.5 0 1 0 7.0 0a3.5 3.5 0 1 0 -7.0 0M140.4 500.3a3.5 3.5 0 1 0 7.0 0a3.5 3.5 0 1 0 -7.0 0M156.3 503.5a3.5 3.5 0 1 0 7.0 0a3.5 3.5 0 1 0 -7.0 0M164.3 506.7a3.5 3.5 0 1 0 7.0 0a3.5 3.5 0 1 0 -7.0 0M172.3 501.3a3.5 3.5 0 1 0 7.0 0a3.5 3.5 0 1 0 -7.0 0M180.2 517.3a3.5 3.5 0 1 0 7.0 0a3.5 3.5 0 1 0 -7.0 0M196.2 510.9a3.5 3.5 0 1 0 7.0 0a3.5 3.5 0 1 0 -7.0 0M196.2 520.5a3.5 3.5 0 1 0 7.0 0a3.5 3.5 0 1 0 -7.0 0M204.2 515.7a3.5 3.5 0 1 0 7.0 0a3.5 3.5 0 1 0 -7.0 0M212.2 522.1a3.5 3.5 0 1 0 7.0 0a3.5 3.5 0 1 0 -7.0 0M220.1 531.1a3.5 3.5 0 1 0 7.0 0a3.5 3.5 0 1 0 -7.0 0M236.1 536.4a3.5 3.5 0 1 0 7.0 0a3.5 3.5 0 1 0 -7.0 0M244.1 533.2a3.5 3.5 0 1 0 7.0 0a3.5 3.5 0 1 0 -7.0 0M252.0 522.1a3.5 3.5 0 1 0 7.0 0a3.5 3.5 0 1 0 -7.0 0M260.0 524.7a3.5 3.5 0 1 0 7.0 0a3.5 3.5 0 1 0 -7.0 0M276.0 544.4a3.5 3.5 0 1 0 7.0 0a3.5 3.5 0 1 0 -7.0 0M283.9 544.4a3.5 3.5 0 1 0 7.0 0a3.5 3.5 0 1 0 -7.0 0M299.9 536.4a3.5 3.5 0 1 0 7.0 0a3.5 3.5 0 1 0 -7.0 0M315.8 545.5a3.5 3.5 0 1 0 7.0 0a3.5 3.5 0 1 0 -7.0 0M323.8 545.5a3.5 3.5 0 1 0 7.0 0a3.5 3.5 0 1 0 -7.0 0M340.6 547.1a3.5 3.5 0 1 0 7.0 0a3.5 3.5 0 1 0 -7.0 0M356.5 538.0a3.5 3.5 0 1 0 7.0 0a3.5 3.5 0 1 0 -7.0 0M364.5 538.0a3.5 3.5 0 1 0 7.0 0a3.5 3.5 0 1 0 -7.0 0M380.9 529.5a3.5 3.5 0 1 0 7.0 0a3.5 3.5 0 1 0 -7.0 0M396.8 525.3a3.5 3.5 0 1 0 7.0 0a3.5 3.5 0 1 0 -7.0 0M404.8 514.6a3.5 3.5 0 1 0 7.0 0a3.5 3.5 0 1 0 -7.0 0M420.3 496.6a3.5 3.5 0 1 0 7.0 0a3.5 3.5 0 1 0 -7.0 0M436.3 473.7a3.5 3.5 0 1 0 7.0 0a3.5 3.5 0 1 0 -7.0 0M444.7 463.6a3.5 3.5 0 1 0 7.0 0a3.5 3.5 0 1 0 -7.0 0M460.2 440.2a3.5 3.5 0 1 0 7.0 0a3.5 3.5 0 1 0 -7.0 0M476.2 430.1a3.5 3.5 0 1 0 7.0 0a3.5 3.5 0 1 0 -7.0 0M484.2 415.2a3.5 3.5 0 1 0 7.0 0a3.5 3.5 0 1 0 -7.0 0M500.1 402.4a3.5 3.5 0 1 0 7.0 0a3.5 3.5 0 1 0 -7.0 0M523.6 384.3a3.5 3.5 0 1 0 7.0 0a3.5 3.5 0 1 0 -7.0 0M540.0 366.8a3.5 3.5 0 1 0 7.0 0a3.5 3.5 0 1 0 -7.0 0M548.0 355.6a3.5 3.5 0 1 0 7.0 0a3.5 3.5 0 1 0 -7.0 0M556.3 351.9a3.5 3.5 0 1 0 7.0 0a3.5 3.5 0 1 0 -7.0 0M564.3 338.6a3.5 3.5 0 1 0 7.0 0a3.5 3.5 0 1 0 -7.0 0M580.3 330.6a3.5 3.5 0 1 0 7.0 0a3.5 3.5 0 1 0 -7.0 0M595.8 332.8a3.5 3.5 0 1 0 7.0 0a3.5 3.5 0 1 0 -7.0 0M603.8 325.8a3.5 3.5 0 1 0 7.0 0a3.5 3.5 0 1 0 -7.0 0M618.6 309.4a3.5 3.5 0 1 0 7.0 0a3.5 3.5 0 1 0 -7.0 0M626.5 307.2a3.5 3.5 0 1 0 7.0 0a3.5 3.5 0 1 0 -7.0 0M634.5 299.3a3.5 3.5 0 1 0 7.0 0a3.5 3.5 0 1 0 -7.0 0M634.5 309.4a3.5 3.5 0 1 0 7.0 0a3.5 3.5 0 1 0 -7.0 0M642.5 295.5a3.5 3.5 0 1 0 7.0 0a3.5 3.5 0 1 0 -7.0 0M642.5 305.1a3.5 3.5 0 1 0 7.0 0a3.5 3.5 0 1 0 -7.0 0M659.2 292.3a3.5 3.5 0 1 0 7.0 0a3.5 3.5 0 1 0 -7.0 0M659.2 299.3a3.5 3.5 0 1 0 7.0 0a3.5 3.5 0 1 0 -7.0 0M667.2 289.7a3.5 3.5 0 1 0 7.0 0a3.5 3.5 0 1 0 -7.0 0M674.8 285.4a3.5 3.5 0 1 0 7.0 0a3.5 3.5 0 1 0 -7.0 0M682.8 281.7a3.5 3.5 0 1 0 7.0 0a3.5 3.5 0 1 0 -7.0 0M698.7 282.8a3.5 3.5 0 1 0 7.0 0a3.5 3.5 0 1 0 -7.0 0M714.7 283.3a3.5 3.5 0 1 0 7.0 0a3.5 3.5 0 1 0 -7.0 0M722.7 284.4a3.5 3.5 0 1 0 7.0 0a3.5 3.5 0 1 0 -7.0 0M738.2 288.1a3.5 3.5 0 1 0 7.0 0a3.5 3.5 0 1 0 -7.0 0M754.2 300.3a3.5 3.5 0 1 0 7.0 0a3.5 3.5 0 1 0 -7.0 0M762.1 301.9a3.5 3.5 0 1 0 7.0 0a3.5 3.5 0 1 0 -7.0 0M777.7 316.8a3.5 3.5 0 1 0 7.0 0a3.5 3.5 0 1 0 -7.0 0M794.4 337.5a3.5 3.5 0 1 0 7.0 0a3.5 3.5 0 1 0 -7.0 0M802.4 342.9a3.5 3.5 0 1 0 7.0 0a3.5 3.5 0 1 0 -7.0 0M818.4 358.8a3.5 3.5 0 1 0 7.0 0a3.5 3.5 0 1 0 -7.0 0M834.3 379.6a3.5 3.5 0 1 0 7.0 0a3.5 3.5 0 1 0 -7.0 0M842.3 382.2a3.5 3.5 0 1 0 7.0 0a3.5 3.5 0 1 0 -7.0 0M849.9 395.5a3.5 3.5 0 1 0 7.0 0a3.5 3.5 0 1 0 -7.0 0M857.9 396.0a3.5 3.5 0 1 0 7.0 0a3.5 3.5 0 1 0 -7.0 0M873.8 413.1a3.5 3.5 0 1 0 7.0 0a3.5 3.5 0 1 0 -7.0 0M881.8 418.9a3.5 3.5 0 1 0 7.0 0a3.5 3.5 0 1 0 -7.0 0M889.8 424.8a3.5 3.5 0 1 0 7.0 0a3.5 3.5 0 1 0 -7.0 0M897.7 426.9a3.5 3.5 0 1 0 7.0 0a3.5 3.5 0 1 0 -7.0 0M914.5 437.0a3.5 3.5 0 1 0 7.0 0a3.5 3.5 0 1 0 -7.0 0M922.5 439.6a3.5 3.5 0 1 0 7.0 0a3.5 3.5 0 1 0 -7.0 0M930.1 446.0a3.5 3.5 0 1 0 7.0 0a3.5 3.5 0 1 0 -7.0 0M938.0 449.8a3.5 3.5 0 1 0 7.0 0a3.5 3.5 0 1 0 -7.0 0M954.0 446.6a3.5 3.5 0 1 0 7.0 0a3.5 3.5 0 1 0 -7.0 0M962.0 452.9a3.5 3.5 0 1 0 7.0 0a3.5 3.5 0 1 0 -7.0 0M969.9 457.7a3.5 3.5 0 1 0 7.0 0a3.5 3.5 0 1 0 -7.0 0M977.9 461.5a3.5 3.5 0 1 0 7.0 0a3.5 3.5 0 1 0 -7.0 0M993.5 471.6a3.5 3.5 0 1 0 7.0 0a3.5 3.5 0 1 0 -7.0 0M1001.4 466.8a3.5 3.5 0 1 0 7.0 0a3.5 3.5 0 1 0 -7.0 0M1009.4 466.8a3.5 3.5 0 1 0 7.0 0a3.5 3.5 0 1 0 -7.0 0M1017.4 474.7a3.5 3.5 0 1 0 7.0 0a3.5 3.5 0 1 0 -7.0 0M1049.7 491.2a3.5 3.5 0 1 0 7.0 0a3.5 3.5 0 1 0 -7.0 0" fill="#c3c32a"/>
<path d="M104.4 472.4V482.4M101.4 472.4h6M101.4 482.4h6M112.0 485.2V495.2M109.0 485.2h6M109.0 495.2h6M119.9 490.5V500.5M116.9 490.5h6M116.9 500.5h6M127.9 501.1V511.1M124.9 501.1h6M124.9 511.1h6M135.9 501.1V511.1M132.9 501.1h6M132.9 511.1h6M143.9 498.5V508.5M140.9 498.5h6M140.9 508.5h6M159.8 492.1V502.1M156.8 492.1h6M156.8 502.1h6M167.8 490.5V500.5M164.8 490.5h6M164.8 500.5h6M175.8 490.5V500.5M172.8 490.5h6M172.8 500.5h6M183.7 494.2V504.2M180.7 494.2h6M180.7 504.2h6M199.7 506.4V516.4M196.7 506.4h6M196.7 516.4h6M207.7 501.1V511.1M204.7 501.1h6M204.7 511.1h6M215.7 503.3V513.3M212.7 503.3h6M212.7 513.3h6M223.6 513.4V523.4M220.6 513.4h6M220.6 523.4h6M239.6 514.4V524.4M236.6 514.4h6M236.6 524.4h6M247.6 514.4V524.4M244.6 514.4h6M244.6 524.4h6M255.5 505.9V515.9M252.5 505.9h6M252.5 515.9h6M263.5 510.2V520.2M260.5 510.2h6M260.5 520.2h6M279.5 526.1V536.1M276.5 526.1h6M276.5 536.1h6M287.4 524.0V534.0M284.4 524.0h6M284.4 534.0h6M303.4 521.3V531.3M300.4 521.3h6M300.4 531.3h6M303.4 530.4V540.4M300.4 530.4h6M300.4 540.4h6M319.3 524.0V534.0M316.3 524.0h6M316.3 534.0h6M327.3 518.7V528.7M324.3 518.7h6M324.3 528.7h6M343.3 519.7V529.7M340.3 519.7h6M340.3 529.7h6M359.2 501.7V511.7M356.2 501.7h6M356.2 511.7h6M367.2 496.3V506.3M364.2 496.3h6M364.2 506.3h6M383.2 478.8V488.8M380.2 478.8h6M380.2 488.8h6M400.3 468.7V478.7M397.3 468.7h6M397.3 478.7h6M408.3 457.0V467.0M405.3 457.0h6M405.3 467.0h6M423.8 434.1V444.1M420.8 434.1h6M420.8 444.1h6M439.8 400.1V410.1M436.8 400.1h6M436.8 410.1h6M448.2 398.5V408.5M445.2 398.5h6M445.2 408.5h6M463.7 372.4V382.4M460.7 372.4h6M460.7 382.4h6M479.7 342.7V372.7M476.7 342.7h6M476.7 372.7h6M487.7 339.6V369.6M484.7 339.6h6M484.7 369.6h6M503.6 324.7V354.7M500.6 324.7h6M500.6 354.7h6M526.3 306.1V336.1M523.3 306.1h6M523.3 336.1h6M542.7 301.3V331.3M539.7 301.3h6M539.7 331.3h6M542.7 308.2V338.2M539.7 308.2h6M539.7 338.2h6M550.7 296.0V326.0M547.7 296.0h6M547.7 326.0h6M558.6 296.0V326.0M555.6 296.0h6M555.6 326.0h6M566.6 275.2V305.2M563.6 275.2h6M563.6 305.2h6M582.6 276.3V306.3M579.6 276.3h6M579.6 306.3h6M598.5 272.6V302.6M595.5 272.6h6M595.5 302.6h6M606.5 266.7V296.7M603.5 266.7h6M603.5 296.7h6M622.1 250.7V280.7M619.1 250.7h6M619.1 280.7h6M630.0 244.9V274.9M627.0 244.9h6M627.0 274.9h6M638.0 246.5V276.5M635.0 246.5h6M635.0 276.5h6M638.0 255.5V285.5M635.0 255.5h6M635.0 285.5h6M646.0 246.0V276.0M643.0 246.0h6M643.0 276.0h6M646.0 251.8V281.8M643.0 251.8h6M643.0 281.8h6M662.7 244.9V274.9M659.7 244.9h6M659.7 274.9h6M670.7 239.0V269.0M667.7 239.0h6M667.7 269.0h6M678.3 247.6V263.6M675.3 247.6h6M675.3 263.6h6M686.3 246.0V262.0M683.3 246.0h6M683.3 262.0h6M702.2 248.7V264.7M699.2 248.7h6M699.2 264.7h6M718.2 251.4V267.4M715.2 251.4h6M715.2 267.4h6M726.2 255.1V271.1M723.2 255.1h6M723.2 271.1h6M741.7 261.5V277.5M738.7 261.5h6M738.7 277.5h6M757.7 269.4V285.4M754.7 269.4h6M754.7 285.4h6M765.6 275.3V291.3M762.6 275.3h6M762.6 291.3h6M797.9 319.8V329.8M794.9 319.8h6M794.9 329.8h6M805.9 332.0V342.0M802.9 332.0h6M802.9 342.0h6M821.9 356.5V366.5M818.9 356.5h6M818.9 366.5h6M837.8 381.5V391.5M834.8 381.5h6M834.8 391.5h6M845.8 382.5V392.5M842.8 382.5h6M842.8 392.5h6M853.4 391.0V401.0M850.4 391.0h6M850.4 401.0h6M861.4 390.5V400.5M858.4 390.5h6M858.4 400.5h6M877.3 391.0V401.0M874.3 391.0h6M874.3 401.0h6M885.3 404.9V414.9M882.3 404.9h6M882.3 414.9h6M893.3 412.3V422.3M890.3 412.3h6M890.3 422.3h6M901.2 404.3V414.3M898.2 404.3h6M898.2 414.3h6M918.0 399.0V409.0M915.0 399.0h6M915.0 409.0h6M926.0 407.0V417.0M923.0 407.0h6M923.0 417.0h6M933.6 417.1V427.1M930.6 417.1h6M930.6 427.1h6M941.5 432.0V442.0M938.5 432.0h6M938.5 442.0h6M957.5 433.1V443.1M954.5 433.1h6M954.5 443.1h6M965.5 441.0V451.0M962.5 441.0h6M962.5 451.0h6M973.4 445.8V455.8M970.4 445.8h6M970.4 455.8h6M981.4 450.6V460.6M978.4 450.6h6M978.4 460.6h6M997.0 452.7V462.7M994.0 452.7h6M994.0 462.7h6M1004.9 451.7V461.7M1001.9 451.7h6M1001.9 461.7h6M1012.9 446.9V456.9M1009.9 446.9h6M1009.9 456.9h6M1020.9 461.8V471.8M1017.9 461.8h6M1017.9 471.8h6M1053.2 473.5V483.5M1050.2 473.5h6M1050.2 483.5h6" stroke="#2f9768" stroke-width="1.8" fill="none"/><path d="M100.9 477.4a3.5 3.5 0 1 0 7.0 0a3.5 3.5 0 1 0 -7.0 0M108.5 490.2a3.5 3.5 0 1 0 7.0 0a3.5 3.5 0 1 0 -7.0 0M116.4 495.5a3.5 3.5 0 1 0 7.0 0a3.5 3.5 0 1 0 -7.0 0M124.4 506.1a3.5 3.5 0 1 0 7.0 0a3.5 3.5 0 1 0 -7.0 0M132.4 506.1a3.5 3.5 0 1 0 7.0 0a3.5 3.5 0 1 0 -7.0 0M140.4 503.5a3.5 3.5 0 1 0 7.0 0a3.5 3.5 0 1 0 -7.0 0M156.3 497.1a3.5 3.5 0 1 0 7.0 0a3.5 3.5 0 1 0 -7.0 0M164.3 495.5a3.5 3.5 0 1 0 7.0 0a3.5 3.5 0 1 0 -7.0 0M172.3 495.5a3.5 3.5 0 1 0 7.0 0a3.5 3.5 0 1 0 -7.0 0M180.2 499.2a3.5 3.5 0 1 0 7.0 0a3.5 3.5 0 1 0 -7.0 0M196.2 511.4a3.5 3.5 0 1 0 7.0 0a3.5 3.5 0 1 0 -7.0 0M204.2 506.1a3.5 3.5 0 1 0 7.0 0a3.5 3.5 0 1 0 -7.0 0M212.2 508.3a3.5 3.5 0 1 0 7.0 0a3.5 3.5 0 1 0 -7.0 0M220.1 518.4a3.5 3.5 0 1 0 7.0 0a3.5 3.5 0 1 0 -7.0 0M236.1 519.4a3.5 3.5 0 1 0 7.0 0a3.5 3.5 0 1 0 -7.0 0M244.1 519.4a3.5 3.5 0 1 0 7.0 0a3.5 3.5 0 1 0 -7.0 0M252.0 510.9a3.5 3.5 0 1 0 7.0 0a3.5 3.5 0 1 0 -7.0 0M260.0 515.2a3.5 3.5 0 1 0 7.0 0a3.5 3.5 0 1 0 -7.0 0M276.0 531.1a3.5 3.5 0 1 0 7.0 0a3.5 3.5 0 1 0 -7.0 0M283.9 529.0a3.5 3.5 0 1 0 7.0 0a3.5 3.5 0 1 0 -7.0 0M299.9 526.3a3.5 3.5 0 1 0 7.0 0a3.5 3.5 0 1 0 -7.0 0M299.9 535.4a3.5 3.5 0 1 0 7.0 0a3.5 3.5 0 1 0 -7.0 0M315.8 529.0a3.5 3.5 0 1 0 7.0 0a3.5 3.5 0 1 0 -7.0 0M323.8 523.7a3.5 3.5 0 1 0 7.0 0a3.5 3.5 0 1 0 -7.0 0M339.8 524.7a3.5 3.5 0 1 0 7.0 0a3.5 3.5 0 1 0 -7.0 0M355.7 506.7a3.5 3.5 0 1 0 7.0 0a3.5 3.5 0 1 0 -7.0 0M363.7 501.3a3.5 3.5 0 1 0 7.0 0a3.5 3.5 0 1 0 -7.0 0M379.7 483.8a3.5 3.5 0 1 0 7.0 0a3.5 3.5 0 1 0 -7.0 0M396.8 473.7a3.5 3.5 0 1 0 7.0 0a3.5 3.5 0 1 0 -7.0 0M404.8 462.0a3.5 3.5 0 1 0 7.0 0a3.5 3.5 0 1 0 -7.0 0M420.3 439.1a3.5 3.5 0 1 0 7.0 0a3.5 3.5 0 1 0 -7.0 0M436.3 405.1a3.5 3.5 0 1 0 7.0 0a3.5 3.5 0 1 0 -7.0 0M444.7 403.5a3.5 3.5 0 1 0 7.0 0a3.5 3.5 0 1 0 -7.0 0M460.2 377.4a3.5 3.5 0 1 0 7.0 0a3.5 3.5 0 1 0 -7.0 0M476.2 357.7a3.5 3.5 0 1 0 7.0 0a3.5 3.5 0 1 0 -7.0 0M484.2 354.6a3.5 3.5 0 1 0 7.0 0a3.5 3.5 0 1 0 -7.0 0M500.1 339.7a3.5 3.5 0 1 0 7.0 0a3.5 3.5 0 1 0 -7.0 0M522.8 321.1a3.5 3.5 0 1 0 7.0 0a3.5 3.5 0 1 0 -7.0 0M539.2 316.3a3.5 3.5 0 1 0 7.0 0a3.5 3.5 0 1 0 -7.0 0M539.2 323.2a3.5 3.5 0 1 0 7.0 0a3.5 3.5 0 1 0 -7.0 0M547.2 311.0a3.5 3.5 0 1 0 7.0 0a3.5 3.5 0 1 0 -7.0 0M555.1 311.0a3.5 3.5 0 1 0 7.0 0a3.5 3.5 0 1 0 -7.0 0M563.1 290.2a3.5 3.5 0 1 0 7.0 0a3.5 3.5 0 1 0 -7.0 0M579.1 291.3a3.5 3.5 0 1 0 7.0 0a3.5 3.5 0 1 0 -7.0 0M595.0 287.6a3.5 3.5 0 1 0 7.0 0a3.5 3.5 0 1 0 -7.0 0M603.0 281.7a3.5 3.5 0 1 0 7.0 0a3.5 3.5 0 1 0 -7.0 0M618.6 265.7a3.5 3.5 0 1 0 7.0 0a3.5 3.5 0 1 0 -7.0 0M626.5 259.9a3.5 3.5 0 1 0 7.0 0a3.5 3.5 0 1 0 -7.0 0M634.5 261.5a3.5 3.5 0 1 0 7.0 0a3.5 3.5 0 1 0 -7.0 0M634.5 270.5a3.5 3.5 0 1 0 7.0 0a3.5 3.5 0 1 0 -7.0 0M642.5 261.0a3.5 3.5 0 1 0 7.0 0a3.5 3.5 0 1 0 -7.0 0M642.5 266.8a3.5 3.5 0 1 0 7.0 0a3.5 3.5 0 1 0 -7.0 0M659.2 259.9a3.5 3.5 0 1 0 7.0 0a3.5 3.5 0 1 0 -7.0 0M667.2 254.0a3.5 3.5 0 1 0 7.0 0a3.5 3.5 0 1 0 -7.0 0M674.8 255.6a3.5 3.5 0 1 0 7.0 0a3.5 3.5 0 1 0 -7.0 0M682.8 254.0a3.5 3.5 0 1 0 7.0 0a3.5 3.5 0 1 0 -7.0 0M698.7 256.7a3.5 3.5 0 1 0 7.0 0a3.5 3.5 0 1 0 -7.0 0M714.7 259.4a3.5 3.5 0 1 0 7.0 0a3.5 3.5 0 1 0 -7.0 0M722.7 263.1a3.5 3.5 0 1 0 7.0 0a3.5 3.5 0 1 0 -7.0 0M738.2 269.5a3.5 3.5 0 1 0 7.0 0a3.5 3.5 0 1 0 -7.0 0M754.2 277.4a3.5 3.5 0 1 0 7.0 0a3.5 3.5 0 1 0 -7.0 0M762.1 283.3a3.5 3.5 0 1 0 7.0 0a3.5 3.5 0 1 0 -7.0 0M794.4 324.8a3.5 3.5 0 1 0 7.0 0a3.5 3.5 0 1 0 -7.0 0M802.4 337.0a3.5 3.5 0 1 0 7.0 0a3.5 3.5 0 1 0 -7.0 0M818.4 361.5a3.5 3.5 0 1 0 7.0 0a3.5 3.5 0 1 0 -7.0 0M834.3 386.5a3.5 3.5 0 1 0 7.0 0a3.5 3.5 0 1 0 -7.0 0M842.3 387.5a3.5 3.5 0 1 0 7.0 0a3.5 3.5 0 1 0 -7.0 0M849.9 396.0a3.5 3.5 0 1 0 7.0 0a3.5 3.5 0 1 0 -7.0 0M857.9 395.5a3.5 3.5 0 1 0 7.0 0a3.5 3.5 0 1 0 -7.0 0M873.8 396.0a3.5 3.5 0 1 0 7.0 0a3.5 3.5 0 1 0 -7.0 0M881.8 409.9a3.5 3.5 0 1 0 7.0 0a3.5 3.5 0 1 0 -7.0 0M889.8 417.3a3.5 3.5 0 1 0 7.0 0a3.5 3.5 0 1 0 -7.0 0M897.7 409.3a3.5 3.5 0 1 0 7.0 0a3.5 3.5 0 1 0 -7.0 0M914.5 404.0a3.5 3.5 0 1 0 7.0 0a3.5 3.5 0 1 0 -7.0 0M922.5 412.0a3.5 3.5 0 1 0 7.0 0a3.5 3.5 0 1 0 -7.0 0M930.1 422.1a3.5 3.5 0 1 0 7.0 0a3.5 3.5 0 1 0 -7.0 0M938.0 437.0a3.5 3.5 0 1 0 7.0 0a3.5 3.5 0 1 0 -7.0 0M954.0 438.1a3.5 3.5 0 1 0 7.0 0a3.5 3.5 0 1 0 -7.0 0M962.0 446.0a3.5 3.5 0 1 0 7.0 0a3.5 3.5 0 1 0 -7.0 0M969.9 450.8a3.5 3.5 0 1 0 7.0 0a3.5 3.5 0 1 0 -7.0 0M977.9 455.6a3.5 3.5 0 1 0 7.0 0a3.5 3.5 0 1 0 -7.0 0M993.5 457.7a3.5 3.5 0 1 0 7.0 0a3.5 3.5 0 1 0 -7.0 0M1001.4 456.7a3.5 3.5 0 1 0 7.0 0a3.5 3.5 0 1 0 -7.0 0M1009.4 451.9a3.5 3.5 0 1 0 7.0 0a3.5 3.5 0 1 0 -7.0 0M1017.4 466.8a3.5 3.5 0 1 0 7.0 0a3.5 3.5 0 1 0 -7.0 0M1049.7 478.5a3.5 3.5 0 1 0 7.0 0a3.5 3.5 0 1 0 -7.0 0" fill="#2f9768"/>
<path d="M463.7 343.9V375.9M460.7 343.9h6M460.7 375.9h6M478.9 285.4V317.4M475.9 285.4h6M475.9 317.4h6M486.9 286.4V318.4M483.9 286.4h6M483.9 318.4h6M502.4 283.3V315.3M499.4 283.3h6M499.4 315.3h6M526.3 256.7V288.7M523.3 256.7h6M523.3 288.7h6M542.7 258.8V290.8M539.7 258.8h6M539.7 290.8h6M542.7 264.6V296.6M539.7 264.6h6M539.7 296.6h6M550.7 261.4V293.4M547.7 261.4h6M547.7 293.4h6M558.6 268.4V300.4M555.6 268.4h6M555.6 300.4h6M566.6 245.0V277.0M563.6 245.0h6M563.6 277.0h6M582.6 249.7V281.7M579.6 249.7h6M579.6 281.7h6M598.5 238.6V270.6M595.5 238.6h6M595.5 270.6h6M606.5 239.6V271.6M603.5 239.6h6M603.5 271.6h6M622.1 234.9V250.9M619.1 234.9h6M619.1 250.9h6M630.0 232.8V248.8M627.0 232.8h6M627.0 248.8h6M638.0 238.1V254.1M635.0 238.1h6M635.0 254.1h6M638.0 240.7V256.7M635.0 240.7h6M635.0 256.7h6M646.0 232.2V248.2M643.0 232.2h6M643.0 248.2h6M646.0 241.8V257.8M643.0 241.8h6M643.0 257.8h6M662.7 232.2V248.2M659.7 232.2h6M659.7 248.2h6M670.7 240.7V256.7M667.7 240.7h6M667.7 256.7h6M678.3 233.8V249.8M675.3 233.8h6M675.3 249.8h6M686.3 237.0V253.0M683.3 237.0h6M683.3 253.0h6M702.2 239.7V255.7M699.2 239.7h6M699.2 255.7h6M718.2 253.5V269.5M715.2 253.5h6M715.2 269.5h6M726.2 252.4V268.4M723.2 252.4h6M723.2 268.4h6" stroke="#0c0ce6" stroke-width="1.8" fill="none"/><path d="M100.9 465.2a3.5 3.5 0 1 0 7.0 0a3.5 3.5 0 1 0 -7.0 0M108.5 474.7a3.5 3.5 0 1 0 7.0 0a3.5 3.5 0 1 0 -7.0 0M116.4 476.9a3.5 3.5 0 1 0 7.0 0a3.5 3.5 0 1 0 -7.0 0M124.4 478.5a3.5 3.5 0 1 0 7.0 0a3.5 3.5 0 1 0 -7.0 0M132.4 479.5a3.5 3.5 0 1 0 7.0 0a3.5 3.5 0 1 0 -7.0 0M140.4 480.1a3.5 3.5 0 1 0 7.0 0a3.5 3.5 0 1 0 -7.0 0M156.3 484.9a3.5 3.5 0 1 0 7.0 0a3.5 3.5 0 1 0 -7.0 0M156.3 488.6a3.5 3.5 0 1 0 7.0 0a3.5 3.5 0 1 0 -7.0 0M164.3 490.7a3.5 3.5 0 1 0 7.0 0a3.5 3.5 0 1 0 -7.0 0M172.3 485.9a3.5 3.5 0 1 0 7.0 0a3.5 3.5 0 1 0 -7.0 0M180.2 495.5a3.5 3.5 0 1 0 7.0 0a3.5 3.5 0 1 0 -7.0 0M196.2 490.7a3.5 3.5 0 1 0 7.0 0a3.5 3.5 0 1 0 -7.0 0M204.2 491.8a3.5 3.5 0 1 0 7.0 0a3.5 3.5 0 1 0 -7.0 0M212.2 495.5a3.5 3.5 0 1 0 7.0 0a3.5 3.5 0 1 0 -7.0 0M220.1 498.7a3.5 3.5 0 1 0 7.0 0a3.5 3.5 0 1 0 -7.0 0M236.1 515.2a3.5 3.5 0 1 0 7.0 0a3.5 3.5 0 1 0 -7.0 0M244.1 513.0a3.5 3.5 0 1 0 7.0 0a3.5 3.5 0 1 0 -7.0 0M252.0 505.6a3.5 3.5 0 1 0 7.0 0a3.5 3.5 0 1 0 -7.0 0M252.0 509.3a3.5 3.5 0 1 0 7.0 0a3.5 3.5 0 1 0 -7.0 0M260.0 509.3a3.5 3.5 0 1 0 7.0 0a3.5 3.5 0 1 0 -7.0 0M260.0 513.6a3.5 3.5 0 1 0 7.0 0a3.5 3.5 0 1 0 -7.0 0M276.0 507.7a3.5 3.5 0 1 0 7.0 0a3.5 3.5 0 1 0 -7.0 0M283.9 506.7a3.5 3.5 0 1 0 7.0 0a3.5 3.5 0 1 0 -7.0 0M299.9 508.8a3.5 3.5 0 1 0 7.0 0a3.5 3.5 0 1 0 -7.0 0M315.8 521.5a3.5 3.5 0 1 0 7.0 0a3.5 3.5 0 1 0 -7.0 0M323.8 518.4a3.5 3.5 0 1 0 7.0 0a3.5 3.5 0 1 0 -7.0 0M339.8 516.8a3.5 3.5 0 1 0 7.0 0a3.5 3.5 0 1 0 -7.0 0M355.7 500.8a3.5 3.5 0 1 0 7.0 0a3.5 3.5 0 1 0 -7.0 0M363.7 496.6a3.5 3.5 0 1 0 7.0 0a3.5 3.5 0 1 0 -7.0 0M379.7 472.1a3.5 3.5 0 1 0 7.0 0a3.5 3.5 0 1 0 -7.0 0M396.8 456.1a3.5 3.5 0 1 0 7.0 0a3.5 3.5 0 1 0 -7.0 0M404.8 449.8a3.5 3.5 0 1 0 7.0 0a3.5 3.5 0 1 0 -7.0 0M420.3 432.2a3.5 3.5 0 1 0 7.0 0a3.5 3.5 0 1 0 -7.0 0M436.3 398.2a3.5 3.5 0 1 0 7.0 0a3.5 3.5 0 1 0 -7.0 0M444.7 388.6a3.5 3.5 0 1 0 7.0 0a3.5 3.5 0 1 0 -7.0 0M460.2 359.9a3.5 3.5 0 1 0 7.0 0a3.5 3.5 0 1 0 -7.0 0M475.4 301.4a3.5 3.5 0 1 0 7.0 0a3.5 3.5 0 1 0 -7.0 0M483.4 302.4a3.5 3.5 0 1 0 7.0 0a3.5 3.5 0 1 0 -7.0 0M498.9 299.3a3.5 3.5 0 1 0 7.0 0a3.5 3.5 0 1 0 -7.0 0M522.8 272.7a3.5 3.5 0 1 0 7.0 0a3.5 3.5 0 1 0 -7.0 0M539.2 274.8a3.5 3.5 0 1 0 7.0 0a3.5 3.5 0 1 0 -7.0 0M539.2 280.6a3.5 3.5 0 1 0 7.0 0a3.5 3.5 0 1 0 -7.0 0M547.2 277.4a3.5 3.5 0 1 0 7.0 0a3.5 3.5 0 1 0 -7.0 0M555.1 284.4a3.5 3.5 0 1 0 7.0 0a3.5 3.5 0 1 0 -7.0 0M563.1 261.0a3.5 3.5 0 1 0 7.0 0a3.5 3.5 0 1 0 -7.0 0M579.1 265.7a3.5 3.5 0 1 0 7.0 0a3.5 3.5 0 1 0 -7.0 0M595.0 254.6a3.5 3.5 0 1 0 7.0 0a3.5 3.5 0 1 0 -7.0 0M603.0 255.6a3.5 3.5 0 1 0 7.0 0a3.5 3.5 0 1 0 -7.0 0M618.6 242.9a3.5 3.5 0 1 0 7.0 0a3.5 3.5 0 1 0 -7.0 0M626.5 240.8a3.5 3.5 0 1 0 7.0 0a3.5 3.5 0 1 0 -7.0 0M634.5 246.1a3.5 3.5 0 1 0 7.0 0a3.5 3.5 0 1 0 -7.0 0M634.5 248.7a3.5 3.5 0 1 0 7.0 0a3.5 3.5 0 1 0 -7.0 0M642.5 240.2a3.5 3.5 0 1 0 7.0 0a3.5 3.5 0 1 0 -7.0 0M642.5 249.8a3.5 3.5 0 1 0 7.0 0a3.5 3.5 0 1 0 -7.0 0M659.2 240.2a3.5 3.5 0 1 0 7.0 0a3.5 3.5 0 1 0 -7.0 0M667.2 248.7a3.5 3.5 0 1 0 7.0 0a3.5 3.5 0 1 0 -7.0 0M674.8 241.8a3.5 3.5 0 1 0 7.0 0a3.5 3.5 0 1 0 -7.0 0M682.8 245.0a3.5 3.5 0 1 0 7.0 0a3.5 3.5 0 1 0 -7.0 0M698.7 247.7a3.5 3.5 0 1 0 7.0 0a3.5 3.5 0 1 0 -7.0 0M714.7 261.5a3.5 3.5 0 1 0 7.0 0a3.5 3.5 0 1 0 -7.0 0M722.7 260.4a3.5 3.5 0 1 0 7.0 0a3.5 3.5 0 1 0 -7.0 0M754.2 282.2a3.5 3.5 0 1 0 7.0 0a3.5 3.5 0 1 0 -7.0 0M762.1 287.0a3.5 3.5 0 1 0 7.0 0a3.5 3.5 0 1 0 -7.0 0M794.4 306.2a3.5 3.5 0 1 0 7.0 0a3.5 3.5 0 1 0 -7.0 0M802.4 315.7a3.5 3.5 0 1 0 7.0 0a3.5 3.5 0 1 0 -7.0 0M818.4 339.7a3.5 3.5 0 1 0 7.0 0a3.5 3.5 0 1 0 -7.0 0M834.3 360.4a3.5 3.5 0 1 0 7.0 0a3.5 3.5 0 1 0 -7.0 0M842.3 368.4a3.5 3.5 0 1 0 7.0 0a3.5 3.5 0 1 0 -7.0 0M849.9 379.6a3.5 3.5 0 1 0 7.0 0a3.5 3.5 0 1 0 -7.0 0M857.9 383.3a3.5 3.5 0 1 0 7.0 0a3.5 3.5 0 1 0 -7.0 0M873.8 373.7a3.5 3.5 0 1 0 7.0 0a3.5 3.5 0 1 0 -7.0 0M881.8 378.5a3.5 3.5 0 1 0 7.0 0a3.5 3.5 0 1 0 -7.0 0M889.8 383.3a3.5 3.5 0 1 0 7.0 0a3.5 3.5 0 1 0 -7.0 0M897.7 387.5a3.5 3.5 0 1 0 7.0 0a3.5 3.5 0 1 0 -7.0 0M914.5 409.9a3.5 3.5 0 1 0 7.0 0a3.5 3.5 0 1 0 -7.0 0M922.5 413.1a3.5 3.5 0 1 0 7.0 0a3.5 3.5 0 1 0 -7.0 0M930.1 416.2a3.5 3.5 0 1 0 7.0 0a3.5 3.5 0 1 0 -7.0 0M938.0 417.8a3.5 3.5 0 1 0 7.0 0a3.5 3.5 0 1 0 -7.0 0M954.0 409.3a3.5 3.5 0 1 0 7.0 0a3.5 3.5 0 1 0 -7.0 0M962.0 415.2a3.5 3.5 0 1 0 7.0 0a3.5 3.5 0 1 0 -7.0 0M969.9 420.0a3.5 3.5 0 1 0 7.0 0a3.5 3.5 0 1 0 -7.0 0M977.9 425.8a3.5 3.5 0 1 0 7.0 0a3.5 3.5 0 1 0 -7.0 0M993.5 447.6a3.5 3.5 0 1 0 7.0 0a3.5 3.5 0 1 0 -7.0 0M1001.4 449.2a3.5 3.5 0 1 0 7.0 0a3.5 3.5 0 1 0 -7.0 0M1009.4 450.8a3.5 3.5 0 1 0 7.0 0a3.5 3.5 0 1 0 -7.0 0M1017.4 456.7a3.5 3.5 0 1 0 7.0 0a3.5 3.5 0 1 0 -7.0 0M1049.7 464.6a3.5 3.5 0 1 0 7.0 0a3.5 3.5 0 1 0 -7.0 0" fill="#0c0ce6"/>
<path d="M400.3 427.8V440.8M397.3 427.8h6M397.3 440.8h6M408.3 405.0V418.0M405.3 405.0h6M405.3 418.0h6M415.9 382.1V395.1M412.9 382.1h6M412.9 395.1h6M423.8 360.3V373.3M420.8 360.3h6M420.8 373.3h6M439.0 312.4V325.4M436.0 312.4h6M436.0 325.4h6M447.0 291.7V304.7M444.0 291.7h6M444.0 304.7h6M462.9 251.3V264.3M459.9 251.3h6M459.9 264.3h6M478.9 214.6V227.6M475.9 214.6h6M475.9 227.6h6M486.5 197.0V210.0M483.5 197.0h6M483.5 210.0h6M502.4 166.2V179.2M499.4 166.2h6M499.4 179.2h6M526.3 128.4V141.4M523.3 128.4h6M523.3 141.4h6M542.7 109.8V122.8M539.7 109.8h6M539.7 122.8h6M542.7 86.9V99.9M539.7 86.9h6M539.7 99.9h6M550.7 80.0V93.0M547.7 80.0h6M547.7 93.0h6M558.6 72.0V85.0M555.6 72.0h6M555.6 85.0h6M566.6 65.1V78.1M563.6 65.1h6M563.6 78.1h6M582.6 57.7V70.7M579.6 57.7h6M579.6 70.7h6M598.5 72.0V85.0M595.5 72.0h6M595.5 85.0h6M606.5 71.5V84.5M603.5 71.5h6M603.5 84.5h6M622.1 69.4V82.4M619.1 69.4h6M619.1 82.4h6M630.0 71.0V84.0M627.0 71.0h6M627.0 84.0h6M638.0 59.3V72.3M635.0 59.3h6M635.0 72.3h6M638.0 73.1V86.1M635.0 73.1h6M635.0 86.1h6M646.0 64.6V77.6M643.0 64.6h6M643.0 77.6h6M646.0 77.4V90.4M643.0 77.4h6M643.0 90.4h6M662.7 74.2V87.2M659.7 74.2h6M659.7 87.2h6M662.7 86.9V99.9M659.7 86.9h6M659.7 99.9h6M670.7 92.8V105.8M667.7 92.8h6M667.7 105.8h6M678.3 100.2V113.2M675.3 100.2h6M675.3 113.2h6M686.3 108.7V121.7M683.3 108.7h6M683.3 121.7h6M702.2 128.4V141.4M699.2 128.4h6M699.2 141.4h6M718.2 157.1V170.1M715.2 157.1h6M715.2 170.1h6M726.2 170.4V183.4M723.2 170.4h6M723.2 183.4h6M741.7 201.3V214.3M738.7 201.3h6M738.7 214.3h6M757.7 233.2V246.2M754.7 233.2h6M754.7 246.2h6M766.4 251.3V264.3M763.4 251.3h6M763.4 264.3h6M782.4 290.6V303.6M779.4 290.6h6M779.4 303.6h6" stroke="#e10000" stroke-width="1.8" fill="none"/><path d="M100.5 514.1a3.9 3.9 0 1 0 7.8 0a3.9 3.9 0 1 0 -7.8 0M108.1 517.3a3.9 3.9 0 1 0 7.8 0a3.9 3.9 0 1 0 -7.8 0M116.0 519.4a3.9 3.9 0 1 0 7.8 0a3.9 3.9 0 1 0 -7.8 0M124.0 521.5a3.9 3.9 0 1 0 7.8 0a3.9 3.9 0 1 0 -7.8 0M132.0 523.1a3.9 3.9 0 1 0 7.8 0a3.9 3.9 0 1 0 -7.8 0M140.0 524.2a3.9 3.9 0 1 0 7.8 0a3.9 3.9 0 1 0 -7.8 0M155.9 526.9a3.9 3.9 0 1 0 7.8 0a3.9 3.9 0 1 0 -7.8 0M163.9 529.0a3.9 3.9 0 1 0 7.8 0a3.9 3.9 0 1 0 -7.8 0M171.9 530.6a3.9 3.9 0 1 0 7.8 0a3.9 3.9 0 1 0 -7.8 0M179.8 532.2a3.9 3.9 0 1 0 7.8 0a3.9 3.9 0 1 0 -7.8 0M195.8 536.4a3.9 3.9 0 1 0 7.8 0a3.9 3.9 0 1 0 -7.8 0M203.8 538.0a3.9 3.9 0 1 0 7.8 0a3.9 3.9 0 1 0 -7.8 0M211.8 539.1a3.9 3.9 0 1 0 7.8 0a3.9 3.9 0 1 0 -7.8 0M219.7 541.2a3.9 3.9 0 1 0 7.8 0a3.9 3.9 0 1 0 -7.8 0M235.7 544.4a3.9 3.9 0 1 0 7.8 0a3.9 3.9 0 1 0 -7.8 0M243.7 546.0a3.9 3.9 0 1 0 7.8 0a3.9 3.9 0 1 0 -7.8 0M251.6 547.1a3.9 3.9 0 1 0 7.8 0a3.9 3.9 0 1 0 -7.8 0M259.6 548.1a3.9 3.9 0 1 0 7.8 0a3.9 3.9 0 1 0 -7.8 0M275.6 551.3a3.9 3.9 0 1 0 7.8 0a3.9 3.9 0 1 0 -7.8 0M283.5 552.4a3.9 3.9 0 1 0 7.8 0a3.9 3.9 0 1 0 -7.8 0M299.5 554.5a3.9 3.9 0 1 0 7.8 0a3.9 3.9 0 1 0 -7.8 0M315.4 554.5a3.9 3.9 0 1 0 7.8 0a3.9 3.9 0 1 0 -7.8 0M323.4 556.1a3.9 3.9 0 1 0 7.8 0a3.9 3.9 0 1 0 -7.8 0M340.2 523.1a3.9 3.9 0 1 0 7.8 0a3.9 3.9 0 1 0 -7.8 0M356.1 522.6a3.9 3.9 0 1 0 7.8 0a3.9 3.9 0 1 0 -7.8 0M364.1 508.3a3.9 3.9 0 1 0 7.8 0a3.9 3.9 0 1 0 -7.8 0M380.5 471.0a3.9 3.9 0 1 0 7.8 0a3.9 3.9 0 1 0 -7.8 0M396.4 434.3a3.9 3.9 0 1 0 7.8 0a3.9 3.9 0 1 0 -7.8 0M404.4 411.5a3.9 3.9 0 1 0 7.8 0a3.9 3.9 0 1 0 -7.8 0M412.0 388.6a3.9 3.9 0 1 0 7.8 0a3.9 3.9 0 1 0 -7.8 0M419.9 366.8a3.9 3.9 0 1 0 7.8 0a3.9 3.9 0 1 0 -7.8 0M435.1 318.9a3.9 3.9 0 1 0 7.8 0a3.9 3.9 0 1 0 -7.8 0M443.1 298.2a3.9 3.9 0 1 0 7.8 0a3.9 3.9 0 1 0 -7.8 0M459.0 257.8a3.9 3.9 0 1 0 7.8 0a3.9 3.9 0 1 0 -7.8 0M475.0 221.1a3.9 3.9 0 1 0 7.8 0a3.9 3.9 0 1 0 -7.8 0M482.6 203.5a3.9 3.9 0 1 0 7.8 0a3.9 3.9 0 1 0 -7.8 0M498.5 172.7a3.9 3.9 0 1 0 7.8 0a3.9 3.9 0 1 0 -7.8 0M522.4 134.9a3.9 3.9 0 1 0 7.8 0a3.9 3.9 0 1 0 -7.8 0M538.8 116.3a3.9 3.9 0 1 0 7.8 0a3.9 3.9 0 1 0 -7.8 0M538.8 93.4a3.9 3.9 0 1 0 7.8 0a3.9 3.9 0 1 0 -7.8 0M546.8 86.5a3.9 3.9 0 1 0 7.8 0a3.9 3.9 0 1 0 -7.8 0M554.7 78.5a3.9 3.9 0 1 0 7.8 0a3.9 3.9 0 1 0 -7.8 0M562.7 71.6a3.9 3.9 0 1 0 7.8 0a3.9 3.9 0 1 0 -7.8 0M578.7 64.2a3.9 3.9 0 1 0 7.8 0a3.9 3.9 0 1 0 -7.8 0M594.6 78.5a3.9 3.9 0 1 0 7.8 0a3.9 3.9 0 1 0 -7.8 0M602.6 78.0a3.9 3.9 0 1 0 7.8 0a3.9 3.9 0 1 0 -7.8 0M618.2 75.9a3.9 3.9 0 1 0 7.8 0a3.9 3.9 0 1 0 -7.8 0M626.1 77.5a3.9 3.9 0 1 0 7.8 0a3.9 3.9 0 1 0 -7.8 0M634.1 65.8a3.9 3.9 0 1 0 7.8 0a3.9 3.9 0 1 0 -7.8 0M634.1 79.6a3.9 3.9 0 1 0 7.8 0a3.9 3.9 0 1 0 -7.8 0M642.1 71.1a3.9 3.9 0 1 0 7.8 0a3.9 3.9 0 1 0 -7.8 0M642.1 83.9a3.9 3.9 0 1 0 7.8 0a3.9 3.9 0 1 0 -7.8 0M658.8 80.7a3.9 3.9 0 1 0 7.8 0a3.9 3.9 0 1 0 -7.8 0M658.8 93.4a3.9 3.9 0 1 0 7.8 0a3.9 3.9 0 1 0 -7.8 0M666.8 99.3a3.9 3.9 0 1 0 7.8 0a3.9 3.9 0 1 0 -7.8 0M674.4 106.7a3.9 3.9 0 1 0 7.8 0a3.9 3.9 0 1 0 -7.8 0M682.4 115.2a3.9 3.9 0 1 0 7.8 0a3.9 3.9 0 1 0 -7.8 0M698.3 134.9a3.9 3.9 0 1 0 7.8 0a3.9 3.9 0 1 0 -7.8 0M714.3 163.6a3.9 3.9 0 1 0 7.8 0a3.9 3.9 0 1 0 -7.8 0M722.3 176.9a3.9 3.9 0 1 0 7.8 0a3.9 3.9 0 1 0 -7.8 0M737.8 207.8a3.9 3.9 0 1 0 7.8 0a3.9 3.9 0 1 0 -7.8 0M753.8 239.7a3.9 3.9 0 1 0 7.8 0a3.9 3.9 0 1 0 -7.8 0M762.5 257.8a3.9 3.9 0 1 0 7.8 0a3.9 3.9 0 1 0 -7.8 0M778.5 297.1a3.9 3.9 0 1 0 7.8 0a3.9 3.9 0 1 0 -7.8 0M794.0 338.6a3.9 3.9 0 1 0 7.8 0a3.9 3.9 0 1 0 -7.8 0M802.0 355.6a3.9 3.9 0 1 0 7.8 0a3.9 3.9 0 1 0 -7.8 0M818.0 386.5a3.9 3.9 0 1 0 7.8 0a3.9 3.9 0 1 0 -7.8 0M833.9 408.3a3.9 3.9 0 1 0 7.8 0a3.9 3.9 0 1 0 -7.8 0M841.9 416.2a3.9 3.9 0 1 0 7.8 0a3.9 3.9 0 1 0 -7.8 0M849.5 424.2a3.9 3.9 0 1 0 7.8 0a3.9 3.9 0 1 0 -7.8 0M857.5 431.1a3.9 3.9 0 1 0 7.8 0a3.9 3.9 0 1 0 -7.8 0M872.2 445.0a3.9 3.9 0 1 0 7.8 0a3.9 3.9 0 1 0 -7.8 0M880.2 449.2a3.9 3.9 0 1 0 7.8 0a3.9 3.9 0 1 0 -7.8 0M888.2 454.5a3.9 3.9 0 1 0 7.8 0a3.9 3.9 0 1 0 -7.8 0M897.7 459.9a3.9 3.9 0 1 0 7.8 0a3.9 3.9 0 1 0 -7.8 0M913.7 466.8a3.9 3.9 0 1 0 7.8 0a3.9 3.9 0 1 0 -7.8 0M921.7 470.5a3.9 3.9 0 1 0 7.8 0a3.9 3.9 0 1 0 -7.8 0M929.7 473.7a3.9 3.9 0 1 0 7.8 0a3.9 3.9 0 1 0 -7.8 0M937.6 477.4a3.9 3.9 0 1 0 7.8 0a3.9 3.9 0 1 0 -7.8 0M953.6 485.4a3.9 3.9 0 1 0 7.8 0a3.9 3.9 0 1 0 -7.8 0M961.6 487.5a3.9 3.9 0 1 0 7.8 0a3.9 3.9 0 1 0 -7.8 0M969.5 490.7a3.9 3.9 0 1 0 7.8 0a3.9 3.9 0 1 0 -7.8 0M977.5 493.4a3.9 3.9 0 1 0 7.8 0a3.9 3.9 0 1 0 -7.8 0M993.5 498.7a3.9 3.9 0 1 0 7.8 0a3.9 3.9 0 1 0 -7.8 0M1001.4 501.3a3.9 3.9 0 1 0 7.8 0a3.9 3.9 0 1 0 -7.8 0M1009.4 502.9a3.9 3.9 0 1 0 7.8 0a3.9 3.9 0 1 0 -7.8 0M1017.4 505.1a3.9 3.9 0 1 0 7.8 0a3.9 3.9 0 1 0 -7.8 0M1049.3 516.2a3.9 3.9 0 1 0 7.8 0a3.9 3.9 0 1 0 -7.8 0" fill="#e10000"/>
<path d="M1212.3 524.9H2139.0M1212.3 445.2H2139.0M1212.3 365.4H2139.0M1212.3 285.6H2139.0M1212.3 205.8H2139.0M1212.3 126.1H2139.0" stroke="#cdcdcd" stroke-width="1.8" stroke-dasharray="5 4.5" fill="none"/>
<path d="M1197.3 470.2L1199.3 474.7L1201.3 479.5L1203.3 484.1L1205.3 488.0L1207.3 490.8L1209.3 493.1L1211.3 495.1L1213.2 496.8L1215.2 498.2L1217.2 499.5L1219.2 500.7L1221.2 501.8L1223.2 502.9L1225.2 503.8L1227.2 504.5L1229.2 505.1L1231.2 505.6L1233.2 506.1L1235.2 506.5L1237.2 506.9L1239.2 507.4L1241.1 507.8L1243.1 508.2L1245.1 508.5L1247.1 508.9L1249.1 509.3L1251.1 509.6L1253.1 509.9L1255.1 510.3L1257.1 510.6L1259.1 510.9L1261.1 511.3L1263.1 511.6L1265.1 512.0L1267.1 512.3L1269.1 512.7L1271.0 513.1L1273.0 513.5L1275.0 513.9L1277.0 514.4L1279.0 514.8L1281.0 515.3L1283.0 515.8L1285.0 516.3L1287.0 516.8L1289.0 517.3L1291.0 517.9L1293.0 518.4L1295.0 518.9L1297.0 519.5L1298.9 520.0L1300.9 520.6L1302.9 521.2L1304.9 521.7L1306.9 522.3L1308.9 522.9L1310.9 523.4L1312.9 524.0L1314.9 524.6L1316.9 525.2L1318.9 525.7L1320.9 526.3L1322.9 526.9L1324.9 527.5L1326.9 528.2L1328.8 528.8L1330.8 529.4L1332.8 530.0L1334.8 530.6L1336.8 531.3L1338.8 531.9L1340.8 532.5L1342.8 533.1L1344.8 533.8L1346.8 534.4L1348.8 535.0L1350.8 535.6L1352.8 536.2L1354.8 536.8L1356.7 537.4L1358.7 538.0L1360.7 538.6L1362.7 539.2L1364.7 539.7L1366.7 540.3L1368.7 540.8L1370.7 541.3L1372.7 541.7L1374.7 542.1L1376.7 542.4L1378.7 542.8L1380.7 543.1L1382.7 543.3L1384.7 543.6L1386.6 543.8L1388.6 544.0L1390.6 544.2L1392.6 544.4L1394.6 544.5L1396.6 544.7L1398.6 544.8L1400.6 544.9L1402.6 545.0L1404.6 545.0L1406.6 544.9L1408.6 544.8L1410.6 544.6L1412.6 544.3L1414.6 544.0L1416.5 543.7L1418.5 543.3L1420.5 542.8L1422.5 542.3L1424.5 541.8L1426.5 541.2L1428.5 540.5L1430.5 539.7L1432.5 538.8L1434.5 537.8L1436.5 536.7L1438.5 535.6L1440.5 534.4L1442.5 533.3L1444.4 532.1L1446.4 531.0L1448.4 529.8L1450.4 528.6L1452.4 527.4L1454.4 526.2L1456.4 525.0L1458.4 523.8L1460.4 522.6L1462.4 521.5L1464.4 520.5L1466.4 519.4L1468.4 518.4L1470.4 517.2L1472.4 516.0L1474.3 514.6L1476.3 513.1L1478.3 511.4L1480.3 509.7L1482.3 507.8L1484.3 505.9L1486.3 504.0L1488.3 502.0L1490.3 500.1L1492.3 498.0L1494.3 495.8L1496.3 493.6L1498.3 491.4L1500.3 489.5L1502.2 487.6L1504.2 485.8L1506.2 484.0L1508.2 482.3L1510.2 480.6L1512.2 478.9L1514.2 477.2L1516.2 475.5L1518.2 473.9L1520.2 472.4L1522.2 470.8L1524.2 469.3L1526.2 467.7L1528.2 466.0L1530.2 464.3L1532.1 462.5L1534.1 460.5L1536.1 458.5L1538.1 456.5L1540.1 454.4L1542.1 452.4L1544.1 450.4L1546.1 448.5L1548.1 446.6L1550.1 444.7L1552.1 442.9L1554.1 441.1L1556.1 439.3L1558.1 437.5L1560.0 435.7L1562.0 434.0L1564.0 432.4L1566.0 430.8L1568.0 429.2L1570.0 427.6L1572.0 426.0L1574.0 424.4L1576.0 422.8L1578.0 421.2L1580.0 419.6L1582.0 417.9L1584.0 416.3L1586.0 414.6L1588.0 413.0L1589.9 411.5L1591.9 410.0L1593.9 408.5L1595.9 407.1L1597.9 405.8L1599.9 404.4L1601.9 403.1L1603.9 401.8L1605.9 400.5L1607.9 399.2L1609.9 398.0L1611.9 396.9L1613.9 395.8L1615.9 394.6L1617.8 393.5L1619.8 392.3L1621.8 390.9L1623.8 389.4L1625.8 387.9L1627.8 386.2L1629.8 384.6L1631.8 382.9L1633.8 381.2L1635.8 379.6L1637.8 378.1L1639.8 376.6L1641.8 375.1L1643.8 373.7L1645.8 372.3L1647.7 371.0L1649.7 369.6L1651.7 368.3L1653.7 367.0L1655.7 365.8L1657.7 364.6L1659.7 363.5L1661.7 362.3L1663.7 361.1L1665.7 360.0L1667.7 358.8L1669.7 357.5L1671.7 356.2L1673.7 354.9L1675.7 353.6L1677.6 352.3L1679.6 351.1L1681.6 349.9L1683.6 348.8L1685.6 347.7L1687.6 346.8L1689.6 345.8L1691.6 344.9L1693.6 344.0L1695.6 343.1L1697.6 342.2L1699.6 341.2L1701.6 340.3L1703.6 339.3L1705.5 338.3L1707.5 337.4L1709.5 336.5L1711.5 335.7L1713.5 334.9L1715.5 334.3L1717.5 333.8L1719.5 333.3L1721.5 332.9L1723.5 332.5L1725.5 332.1L1727.5 331.6L1729.5 331.0L1731.5 330.4L1733.5 329.8L1735.4 329.1L1737.4 328.5L1739.4 327.8L1741.4 327.2L1743.4 326.6L1745.4 326.0L1747.4 325.4L1749.4 324.8L1751.4 324.2L1753.4 323.7L1755.4 323.1L1757.4 322.6L1759.4 322.1L1761.4 321.7L1763.3 321.2L1765.3 320.8L1767.3 320.4L1769.3 320.0L1771.3 319.6L1773.3 319.3L1775.3 318.9L1777.3 318.6L1779.3 318.3L1781.3 318.0L1783.3 317.7L1785.3 317.4L1787.3 317.2L1789.3 317.0L1791.3 316.8L1793.2 316.6L1795.2 316.5L1797.2 316.4L1799.2 316.2L1801.2 316.1L1803.2 316.0L1805.2 315.9L1807.2 315.7L1809.2 315.5L1811.2 315.2L1813.2 315.0L1815.2 314.9L1817.2 314.8L1819.2 314.8L1821.1 314.9L1823.1 315.1L1825.1 315.4L1827.1 315.6L1829.1 316.0L1831.1 316.3L1833.1 316.7L1835.1 317.1L1837.1 317.6L1839.1 318.1L1841.1 318.5L1843.1 319.0L1845.1 319.4L1847.1 319.9L1849.1 320.5L1851.0 321.0L1853.0 321.7L1855.0 322.5L1857.0 323.3L1859.0 324.3L1861.0 325.4L1863.0 326.7L1865.0 328.1L1867.0 329.5L1869.0 331.0L1871.0 332.5L1873.0 334.0L1875.0 335.5L1877.0 336.9L1878.9 338.3L1880.9 339.7L1882.9 341.1L1884.9 342.5L1886.9 343.8L1888.9 345.2L1890.9 346.6L1892.9 348.0L1894.9 349.4L1896.9 350.8L1898.9 352.1L1900.9 353.5L1902.9 354.8L1904.9 356.1L1906.9 357.4L1908.8 358.8L1910.8 360.2L1912.8 361.6L1914.8 363.2L1916.8 364.8L1918.8 366.5L1920.8 368.3L1922.8 370.2L1924.8 372.1L1926.8 374.0L1928.8 375.9L1930.8 377.8L1932.8 379.6L1934.8 381.3L1936.7 383.0L1938.7 384.6L1940.7 386.2L1942.7 387.7L1944.7 389.2L1946.7 390.7L1948.7 392.2L1950.7 393.7L1952.7 395.3L1954.7 396.9L1956.7 398.5L1958.7 400.0L1960.7 401.7L1962.7 403.3L1964.7 404.9L1966.6 406.5L1968.6 408.1L1970.6 409.7L1972.6 411.3L1974.6 412.9L1976.6 414.6L1978.6 416.2L1980.6 417.9L1982.6 419.5L1984.6 421.1L1986.6 422.7L1988.6 424.3L1990.6 425.9L1992.6 427.4L1994.6 428.9L1996.5 430.3L1998.5 431.7L2000.5 433.1L2002.5 434.5L2004.5 435.9L2006.5 437.2L2008.5 438.5L2010.5 439.8L2012.5 441.2L2014.5 442.5L2016.5 443.8L2018.5 445.1L2020.5 446.3L2022.5 447.6L2024.4 448.8L2026.4 449.9L2028.4 451.0L2030.4 452.1L2032.4 453.0L2034.4 453.9L2036.4 454.8L2038.4 455.6L2040.4 456.3L2042.4 457.0L2044.4 457.7L2046.4 458.4L2048.4 459.1L2050.4 459.8L2052.4 460.5L2054.3 461.1L2056.3 461.7L2058.3 462.3L2060.3 462.9L2062.3 463.5L2064.3 464.1L2066.3 464.6L2068.3 465.2L2070.3 465.9L2072.3 466.5L2074.3 467.1L2076.3 467.8L2078.3 468.4L2080.3 469.1L2082.2 469.7L2084.2 470.3L2086.2 470.8L2088.2 471.3L2090.2 471.8L2092.2 472.1L2094.2 472.5L2096.2 472.8L2098.2 473.1L2100.2 473.4L2102.2 473.8L2104.2 474.2L2106.2 474.7L2108.2 475.3L2110.2 475.9L2112.1 476.6L2114.1 477.3L2116.1 478.1L2118.1 478.9L2120.1 479.7L2122.1 480.6L2124.1 481.5L2126.1 482.4L2128.1 483.4L2130.1 484.4L2132.1 485.6L2134.1 487.0L2136.1 488.6L2138.1 490.3L2140.0 492.2L2142.0 494.3L2144.0 496.5L2146.0 498.7L2148.0 501.2L2150.0 503.8L2152.0 506.4L2154.0 509.0" fill="none" stroke="#c2c28c" stroke-width="6.8" stroke-linejoin="round" stroke-linecap="butt" opacity="0.85"/>
<path d="M1197.3 446.8L1199.3 452.4L1201.3 458.3L1203.3 463.9L1205.3 468.8L1207.3 472.6L1209.3 475.8L1211.3 478.7L1213.2 481.4L1215.2 483.7L1217.2 485.9L1219.2 487.8L1221.2 489.5L1223.2 491.0L1225.2 492.2L1227.2 493.1L1229.2 493.9L1231.2 494.4L1233.2 494.9L1235.2 495.3L1237.2 495.8L1239.2 496.2L1241.1 496.6L1243.1 497.0L1245.1 497.3L1247.1 497.6L1249.1 497.9L1251.1 498.2L1253.1 498.5L1255.1 498.8L1257.1 499.1L1259.1 499.3L1261.1 499.6L1263.1 499.9L1265.1 500.2L1267.1 500.4L1269.1 500.8L1271.0 501.1L1273.0 501.4L1275.0 501.8L1277.0 502.1L1279.0 502.5L1281.0 502.9L1283.0 503.4L1285.0 503.8L1287.0 504.2L1289.0 504.7L1291.0 505.2L1293.0 505.6L1295.0 506.1L1297.0 506.6L1298.9 507.0L1300.9 507.5L1302.9 508.0L1304.9 508.5L1306.9 509.0L1308.9 509.4L1310.9 509.9L1312.9 510.4L1314.9 510.8L1316.9 511.3L1318.9 511.7L1320.9 512.2L1322.9 512.7L1324.9 513.1L1326.9 513.6L1328.8 514.1L1330.8 514.6L1332.8 515.0L1334.8 515.5L1336.8 516.0L1338.8 516.4L1340.8 516.9L1342.8 517.4L1344.8 517.8L1346.8 518.2L1348.8 518.7L1350.8 519.1L1352.8 519.5L1354.8 519.9L1356.7 520.3L1358.7 520.7L1360.7 521.1L1362.7 521.5L1364.7 521.9L1366.7 522.4L1368.7 522.8L1370.7 523.2L1372.7 523.6L1374.7 524.0L1376.7 524.3L1378.7 524.7L1380.7 525.0L1382.7 525.3L1384.7 525.6L1386.6 525.9L1388.6 526.1L1390.6 526.3L1392.6 526.4L1394.6 526.5L1396.6 526.5L1398.6 526.2L1400.6 525.7L1402.6 525.0L1404.6 524.2L1406.6 523.4L1408.6 522.5L1410.6 521.7L1412.6 521.0L1414.6 520.3L1416.5 519.5L1418.5 518.8L1420.5 518.0L1422.5 517.2L1424.5 516.3L1426.5 515.4L1428.5 514.5L1430.5 513.5L1432.5 512.4L1434.5 511.3L1436.5 510.2L1438.5 509.0L1440.5 507.7L1442.5 506.4L1444.4 505.0L1446.4 503.5L1448.4 502.0L1450.4 500.5L1452.4 498.9L1454.4 497.2L1456.4 495.5L1458.4 493.7L1460.4 491.9L1462.4 490.1L1464.4 488.2L1466.4 486.3L1468.4 484.3L1470.4 482.3L1472.4 480.2L1474.3 478.0L1476.3 475.8L1478.3 473.5L1480.3 471.1L1482.3 468.6L1484.3 466.1L1486.3 463.6L1488.3 461.0L1490.3 458.5L1492.3 455.8L1494.3 453.1L1496.3 450.3L1498.3 447.7L1500.3 445.2L1502.2 442.9L1504.2 440.7L1506.2 438.5L1508.2 436.3L1510.2 434.2L1512.2 432.1L1514.2 430.0L1516.2 427.9L1518.2 425.9L1520.2 423.8L1522.2 421.7L1524.2 419.7L1526.2 417.7L1528.2 415.7L1530.2 413.8L1532.1 411.9L1534.1 410.1L1536.1 408.3L1538.1 406.6L1540.1 404.8L1542.1 403.1L1544.1 401.4L1546.1 399.6L1548.1 397.9L1550.1 396.1L1552.1 394.4L1554.1 392.7L1556.1 391.0L1558.1 389.2L1560.0 387.4L1562.0 385.5L1564.0 383.6L1566.0 381.7L1568.0 379.7L1570.0 377.7L1572.0 375.7L1574.0 373.7L1576.0 371.8L1578.0 369.8L1580.0 367.9L1582.0 366.0L1584.0 364.1L1586.0 362.2L1588.0 360.3L1589.9 358.5L1591.9 356.7L1593.9 354.9L1595.9 353.1L1597.9 351.3L1599.9 349.6L1601.9 347.9L1603.9 346.3L1605.9 344.7L1607.9 343.2L1609.9 341.9L1611.9 340.5L1613.9 339.3L1615.9 338.1L1617.8 336.9L1619.8 335.7L1621.8 334.5L1623.8 333.4L1625.8 332.4L1627.8 331.4L1629.8 330.4L1631.8 329.3L1633.8 328.2L1635.8 326.9L1637.8 325.4L1639.8 323.6L1641.8 321.7L1643.8 319.6L1645.8 317.5L1647.7 315.4L1649.7 313.6L1651.7 312.0L1653.7 310.7L1655.7 309.6L1657.7 308.6L1659.7 307.9L1661.7 307.1L1663.7 306.5L1665.7 305.8L1667.7 305.2L1669.7 304.5L1671.7 303.9L1673.7 303.4L1675.7 302.9L1677.6 302.3L1679.6 301.8L1681.6 301.3L1683.6 300.7L1685.6 300.1L1687.6 299.5L1689.6 298.9L1691.6 298.2L1693.6 297.6L1695.6 297.0L1697.6 296.4L1699.6 295.7L1701.6 295.1L1703.6 294.4L1705.5 293.7L1707.5 293.1L1709.5 292.5L1711.5 291.9L1713.5 291.4L1715.5 290.9L1717.5 290.5L1719.5 290.2L1721.5 289.9L1723.5 289.6L1725.5 289.3L1727.5 288.9L1729.5 288.6L1731.5 288.2L1733.5 287.8L1735.4 287.5L1737.4 287.1L1739.4 286.7L1741.4 286.4L1743.4 286.1L1745.4 285.9L1747.4 285.8L1749.4 285.6L1751.4 285.5L1753.4 285.4L1755.4 285.3L1757.4 285.2L1759.4 285.0L1761.4 284.9L1763.3 284.7L1765.3 284.6L1767.3 284.4L1769.3 284.3L1771.3 284.1L1773.3 284.0L1775.3 284.0L1777.3 283.9L1779.3 283.9L1781.3 283.9L1783.3 283.9L1785.3 283.9L1787.3 284.0L1789.3 284.0L1791.3 284.1L1793.2 284.2L1795.2 284.4L1797.2 284.6L1799.2 284.7L1801.2 284.9L1803.2 285.0L1805.2 285.1L1807.2 285.1L1809.2 285.1L1811.2 285.1L1813.2 285.1L1815.2 285.1L1817.2 285.2L1819.2 285.5L1821.1 285.8L1823.1 286.3L1825.1 286.8L1827.1 287.3L1829.1 287.9L1831.1 288.5L1833.1 289.2L1835.1 289.9L1837.1 290.7L1839.1 291.5L1841.1 292.3L1843.1 293.2L1845.1 294.1L1847.1 295.1L1849.1 296.1L1851.0 297.2L1853.0 298.2L1855.0 299.3L1857.0 300.4L1859.0 301.5L1861.0 302.5L1863.0 303.6L1865.0 304.7L1867.0 305.8L1869.0 306.9L1871.0 308.1L1873.0 309.3L1875.0 310.6L1877.0 311.9L1878.9 313.3L1880.9 314.8L1882.9 316.3L1884.9 317.9L1886.9 319.6L1888.9 321.2L1890.9 322.9L1892.9 324.6L1894.9 326.3L1896.9 328.0L1898.9 329.7L1900.9 331.5L1902.9 333.2L1904.9 335.0L1906.9 336.9L1908.8 338.7L1910.8 340.5L1912.8 342.2L1914.8 344.0L1916.8 345.7L1918.8 347.3L1920.8 348.9L1922.8 350.5L1924.8 352.1L1926.8 353.7L1928.8 355.3L1930.8 356.9L1932.8 358.5L1934.8 360.1L1936.7 361.7L1938.7 363.3L1940.7 364.9L1942.7 366.5L1944.7 368.1L1946.7 369.7L1948.7 371.3L1950.7 372.9L1952.7 374.5L1954.7 376.1L1956.7 377.7L1958.7 379.4L1960.7 381.0L1962.7 382.6L1964.7 384.2L1966.6 385.8L1968.6 387.4L1970.6 389.0L1972.6 390.6L1974.6 392.2L1976.6 393.8L1978.6 395.3L1980.6 396.9L1982.6 398.5L1984.6 400.0L1986.6 401.6L1988.6 403.1L1990.6 404.6L1992.6 406.1L1994.6 407.6L1996.5 409.1L1998.5 410.6L2000.5 412.1L2002.5 413.5L2004.5 415.0L2006.5 416.4L2008.5 417.8L2010.5 419.1L2012.5 420.4L2014.5 421.7L2016.5 423.0L2018.5 424.2L2020.5 425.5L2022.5 426.7L2024.4 427.8L2026.4 428.9L2028.4 429.9L2030.4 430.8L2032.4 431.7L2034.4 432.4L2036.4 433.2L2038.4 433.8L2040.4 434.4L2042.4 435.0L2044.4 435.5L2046.4 436.0L2048.4 436.4L2050.4 436.8L2052.4 437.1L2054.3 437.4L2056.3 437.6L2058.3 437.8L2060.3 437.9L2062.3 438.0L2064.3 438.1L2066.3 438.1L2068.3 438.2L2070.3 438.3L2072.3 438.3L2074.3 438.4L2076.3 438.4L2078.3 438.3L2080.3 438.3L2082.2 438.3L2084.2 438.3L2086.2 438.2L2088.2 438.2L2090.2 438.2L2092.2 438.2L2094.2 438.1L2096.2 438.0L2098.2 438.0L2100.2 437.9L2102.2 437.9L2104.2 438.0L2106.2 438.2L2108.2 438.4L2110.2 438.6L2112.1 438.8L2114.1 439.1L2116.1 439.4L2118.1 439.8L2120.1 440.3L2122.1 440.9L2124.1 441.6L2126.1 442.5L2128.1 443.7L2130.1 445.4L2132.1 447.5L2134.1 449.9L2136.1 452.6L2138.1 455.8L2140.0 459.3L2142.0 463.0L2144.0 466.8L2146.0 470.6L2148.0 474.4L2150.0 478.3L2152.0 482.2L2154.0 486.1" fill="none" stroke="#8fcaae" stroke-width="6.8" stroke-linejoin="round" stroke-linecap="butt" opacity="0.85"/>
<path d="M1197.3 459.0L1199.3 460.4L1201.3 461.8L1203.3 463.2L1205.3 464.6L1207.3 465.9L1209.3 467.1L1211.3 468.4L1213.2 469.6L1215.2 470.8L1217.2 472.0L1219.2 473.1L1221.2 474.2L1223.2 475.2L1225.2 476.2L1227.2 477.1L1229.2 478.0L1231.2 478.9L1233.2 479.6L1235.2 480.3L1237.2 480.9L1239.2 481.4L1241.1 482.0L1243.1 482.5L1245.1 482.9L1247.1 483.4L1249.1 483.8L1251.1 484.3L1253.1 484.7L1255.1 485.1L1257.1 485.6L1259.1 486.0L1261.1 486.4L1263.1 486.8L1265.1 487.2L1267.1 487.6L1269.1 488.1L1271.0 488.5L1273.0 489.0L1275.0 489.4L1277.0 489.9L1279.0 490.4L1281.0 491.0L1283.0 491.5L1285.0 492.0L1287.0 492.6L1289.0 493.1L1291.0 493.7L1293.0 494.3L1295.0 494.8L1297.0 495.4L1298.9 496.0L1300.9 496.5L1302.9 497.1L1304.9 497.6L1306.9 498.2L1308.9 498.7L1310.9 499.2L1312.9 499.7L1314.9 500.2L1316.9 500.6L1318.9 501.1L1320.9 501.5L1322.9 502.0L1324.9 502.4L1326.9 502.9L1328.8 503.3L1330.8 503.7L1332.8 504.1L1334.8 504.5L1336.8 504.9L1338.8 505.3L1340.8 505.7L1342.8 506.0L1344.8 506.3L1346.8 506.7L1348.8 507.0L1350.8 507.3L1352.8 507.5L1354.8 507.8L1356.7 508.0L1358.7 508.2L1360.7 508.4L1362.7 508.6L1364.7 508.8L1366.7 509.0L1368.7 509.2L1370.7 509.3L1372.7 509.5L1374.7 509.6L1376.7 509.7L1378.7 509.8L1380.7 509.8L1382.7 509.9L1384.7 509.9L1386.6 509.9L1388.6 509.9L1390.6 509.8L1392.6 509.7L1394.6 509.6L1396.6 509.4L1398.6 508.9L1400.6 508.3L1402.6 507.5L1404.6 506.6L1406.6 505.7L1408.6 504.7L1410.6 503.7L1412.6 502.7L1414.6 501.6L1416.5 500.6L1418.5 499.5L1420.5 498.3L1422.5 497.1L1424.5 495.9L1426.5 494.6L1428.5 493.3L1430.5 491.9L1432.5 490.4L1434.5 488.8L1436.5 487.1L1438.5 485.5L1440.5 483.8L1442.5 482.1L1444.4 480.5L1446.4 478.9L1448.4 477.3L1450.4 475.8L1452.4 474.2L1454.4 472.6L1456.4 471.0L1458.4 469.3L1460.4 467.5L1462.4 465.7L1464.4 463.8L1466.4 461.9L1468.4 459.9L1470.4 457.9L1472.4 455.8L1474.3 453.6L1476.3 451.3L1478.3 449.0L1480.3 446.6L1482.3 444.2L1484.3 441.6L1486.3 438.9L1488.3 435.9L1490.3 432.8L1492.3 428.9L1494.3 424.5L1496.3 419.9L1498.3 415.6L1500.3 412.1L1502.2 409.1L1504.2 406.3L1506.2 403.7L1508.2 401.2L1510.2 398.8L1512.2 396.4L1514.2 394.0L1516.2 391.6L1518.2 389.3L1520.2 387.0L1522.2 384.7L1524.2 382.5L1526.2 380.2L1528.2 377.9L1530.2 375.5L1532.1 372.9L1534.1 370.3L1536.1 367.5L1538.1 364.7L1540.1 362.0L1542.1 359.3L1544.1 356.7L1546.1 354.3L1548.1 352.0L1550.1 349.9L1552.1 347.9L1554.1 345.9L1556.1 343.9L1558.1 341.8L1560.0 339.7L1562.0 337.4L1564.0 335.0L1566.0 332.5L1568.0 329.9L1570.0 327.4L1572.0 324.9L1574.0 322.5L1576.0 320.2L1578.0 318.0L1580.0 315.8L1582.0 313.7L1584.0 311.7L1586.0 309.8L1588.0 308.0L1589.9 306.2L1591.9 304.7L1593.9 303.3L1595.9 302.0L1597.9 300.8L1599.9 299.7L1601.9 298.6L1603.9 297.6L1605.9 296.6L1607.9 295.7L1609.9 294.8L1611.9 294.0L1613.9 293.2L1615.9 292.5L1617.8 291.8L1619.8 291.1L1621.8 290.4L1623.8 289.7L1625.8 289.0L1627.8 288.4L1629.8 287.7L1631.8 287.1L1633.8 286.5L1635.8 285.9L1637.8 285.4L1639.8 284.9L1641.8 284.4L1643.8 284.0L1645.8 283.6L1647.7 283.2L1649.7 282.8L1651.7 282.5L1653.7 282.2L1655.7 281.9L1657.7 281.7L1659.7 281.5L1661.7 281.3L1663.7 281.1L1665.7 280.9L1667.7 280.8L1669.7 280.7L1671.7 280.6L1673.7 280.6L1675.7 280.5L1677.6 280.5L1679.6 280.4L1681.6 280.3L1683.6 280.2L1685.6 280.0L1687.6 279.8L1689.6 279.6L1691.6 279.3L1693.6 279.1L1695.6 278.9L1697.6 278.7L1699.6 278.6L1701.6 278.5L1703.6 278.4L1705.5 278.3L1707.5 278.3L1709.5 278.2L1711.5 278.2L1713.5 278.2L1715.5 278.1L1717.5 278.1L1719.5 278.1L1721.5 278.1L1723.5 278.2L1725.5 278.2L1727.5 278.2L1729.5 278.2L1731.5 278.2L1733.5 278.1L1735.4 278.1L1737.4 278.1L1739.4 278.1L1741.4 278.1L1743.4 278.2L1745.4 278.2L1747.4 278.2L1749.4 278.3L1751.4 278.3L1753.4 278.4L1755.4 278.5L1757.4 278.6L1759.4 278.8L1761.4 278.9L1763.3 279.1L1765.3 279.2L1767.3 279.4L1769.3 279.6L1771.3 279.9L1773.3 280.2L1775.3 280.5L1777.3 280.8L1779.3 281.2L1781.3 281.7L1783.3 282.1L1785.3 282.6L1787.3 283.0L1789.3 283.5L1791.3 283.9L1793.2 284.4L1795.2 284.9L1797.2 285.4L1799.2 285.9L1801.2 286.4L1803.2 286.9L1805.2 287.4L1807.2 288.0L1809.2 288.5L1811.2 289.1L1813.2 289.7L1815.2 290.2L1817.2 290.8L1819.2 291.3L1821.1 291.7L1823.1 292.1L1825.1 292.5L1827.1 292.9L1829.1 293.2L1831.1 293.6L1833.1 293.9L1835.1 294.3L1837.1 294.7L1839.1 295.2L1841.1 295.7L1843.1 296.2L1845.1 296.7L1847.1 297.3L1849.1 297.9L1851.0 298.5L1853.0 299.1L1855.0 299.8L1857.0 300.6L1859.0 301.4L1861.0 302.2L1863.0 303.1L1865.0 304.0L1867.0 305.0L1869.0 306.0L1871.0 307.0L1873.0 308.1L1875.0 309.2L1877.0 310.4L1878.9 311.6L1880.9 312.9L1882.9 314.2L1884.9 315.6L1886.9 317.0L1888.9 318.5L1890.9 319.9L1892.9 321.4L1894.9 322.8L1896.9 324.2L1898.9 325.6L1900.9 326.9L1902.9 328.3L1904.9 329.6L1906.9 331.0L1908.8 332.3L1910.8 333.7L1912.8 335.1L1914.8 336.6L1916.8 338.1L1918.8 339.6L1920.8 341.2L1922.8 342.8L1924.8 344.5L1926.8 346.1L1928.8 347.7L1930.8 349.4L1932.8 351.0L1934.8 352.6L1936.7 354.2L1938.7 355.8L1940.7 357.5L1942.7 359.1L1944.7 360.7L1946.7 362.3L1948.7 363.9L1950.7 365.5L1952.7 367.1L1954.7 368.7L1956.7 370.3L1958.7 371.8L1960.7 373.4L1962.7 375.0L1964.7 376.6L1966.6 378.1L1968.6 379.6L1970.6 381.2L1972.6 382.6L1974.6 384.1L1976.6 385.5L1978.6 386.9L1980.6 388.3L1982.6 389.6L1984.6 391.0L1986.6 392.4L1988.6 393.7L1990.6 395.1L1992.6 396.5L1994.6 397.9L1996.5 399.4L1998.5 400.8L2000.5 402.3L2002.5 403.7L2004.5 405.2L2006.5 406.6L2008.5 408.1L2010.5 409.5L2012.5 410.9L2014.5 412.4L2016.5 413.9L2018.5 415.3L2020.5 416.8L2022.5 418.3L2024.4 419.6L2026.4 421.0L2028.4 422.2L2030.4 423.4L2032.4 424.4L2034.4 425.4L2036.4 426.4L2038.4 427.2L2040.4 428.1L2042.4 428.8L2044.4 429.5L2046.4 430.1L2048.4 430.5L2050.4 430.9L2052.4 431.2L2054.3 431.4L2056.3 431.4L2058.3 431.4L2060.3 431.3L2062.3 431.2L2064.3 431.1L2066.3 431.0L2068.3 430.8L2070.3 430.7L2072.3 430.5L2074.3 430.3L2076.3 430.0L2078.3 429.7L2080.3 429.5L2082.2 429.2L2084.2 429.0L2086.2 428.8L2088.2 428.6L2090.2 428.5L2092.2 428.4L2094.2 428.2L2096.2 428.1L2098.2 428.0L2100.2 428.0L2102.2 428.1L2104.2 428.2L2106.2 428.5L2108.2 428.9L2110.2 429.4L2112.1 429.9L2114.1 430.5L2116.1 431.2L2118.1 432.0L2120.1 433.0L2122.1 434.0L2124.1 435.3L2126.1 436.6L2128.1 438.4L2130.1 440.7L2132.1 443.6L2134.1 446.9L2136.1 450.8L2138.1 455.3L2140.0 460.4L2142.0 465.9L2144.0 471.6L2146.0 477.2L2148.0 483.1L2150.0 489.2L2152.0 495.4L2154.0 501.5" fill="none" stroke="#6e6ef2" stroke-width="6.8" stroke-linejoin="round" stroke-linecap="butt" opacity="0.85"/>
<path d="M1197.3 442.5L1199.3 443.2L1201.3 444.0L1203.3 444.7L1205.3 445.4L1207.3 445.9L1209.3 446.3L1211.3 446.7L1213.2 447.1L1215.2 447.5L1217.2 447.9L1219.2 448.3L1221.2 448.7L1223.2 449.1L1225.2 449.4L1227.2 449.8L1229.2 450.1L1231.2 450.5L1233.2 450.9L1235.2 451.2L1237.2 451.6L1239.2 452.0L1241.1 452.4L1243.1 452.8L1245.1 453.1L1247.1 453.5L1249.1 453.9L1251.1 454.3L1253.1 454.7L1255.1 455.0L1257.1 455.4L1259.1 455.8L1261.1 456.2L1263.1 456.5L1265.1 456.9L1267.1 457.3L1269.1 457.6L1271.0 458.0L1273.0 458.4L1275.0 458.7L1277.0 459.1L1279.0 459.4L1281.0 459.7L1283.0 460.1L1285.0 460.4L1287.0 460.7L1289.0 461.1L1291.0 461.4L1293.0 461.7L1295.0 462.0L1297.0 462.4L1298.9 462.7L1300.9 463.0L1302.9 463.3L1304.9 463.6L1306.9 463.9L1308.9 464.3L1310.9 464.6L1312.9 464.9L1314.9 465.2L1316.9 465.5L1318.9 465.8L1320.9 466.1L1322.9 466.4L1324.9 466.7L1326.9 467.0L1328.8 467.3L1330.8 467.6L1332.8 467.9L1334.8 468.2L1336.8 468.5L1338.8 468.8L1340.8 469.1L1342.8 469.3L1344.8 469.6L1346.8 469.9L1348.8 470.2L1350.8 470.5L1352.8 470.8L1354.8 471.0L1356.7 471.3L1358.7 471.6L1360.7 471.9L1362.7 472.2L1364.7 472.5L1366.7 472.7L1368.7 473.0L1370.7 473.3L1372.7 473.6L1374.7 473.9L1376.7 474.1L1378.7 474.4L1380.7 474.7L1382.7 474.9L1384.7 475.2L1386.6 475.5L1388.6 475.7L1390.6 476.0L1392.6 476.2L1394.6 476.4L1396.6 476.7L1398.6 476.9L1400.6 477.2L1402.6 477.5L1404.6 477.6L1406.6 477.7L1408.6 477.7L1410.6 477.6L1412.6 477.3L1414.6 477.0L1416.5 476.6L1418.5 476.1L1420.5 475.6L1422.5 475.0L1424.5 474.3L1426.5 473.7L1428.5 473.0L1430.5 472.2L1432.5 471.3L1434.5 470.4L1436.5 469.4L1438.5 468.4L1440.5 467.3L1442.5 466.2L1444.4 465.1L1446.4 464.1L1448.4 463.0L1450.4 462.0L1452.4 460.9L1454.4 459.7L1456.4 458.4L1458.4 456.9L1460.4 455.3L1462.4 453.6L1464.4 451.8L1466.4 449.8L1468.4 447.8L1470.4 445.7L1472.4 443.5L1474.3 441.3L1476.3 439.1L1478.3 436.8L1480.3 434.4L1482.3 432.0L1484.3 429.5L1486.3 427.0L1488.3 424.4L1490.3 421.8L1492.3 419.1L1494.3 416.5L1496.3 413.8L1498.3 411.1L1500.3 408.3L1502.2 405.4L1504.2 402.3L1506.2 399.0L1508.2 395.2L1510.2 391.2L1512.2 387.2L1514.2 383.3L1516.2 379.8L1518.2 376.4L1520.2 373.0L1522.2 369.7L1524.2 366.5L1526.2 363.3L1528.2 360.1L1530.2 356.9L1532.1 353.7L1534.1 350.5L1536.1 347.4L1538.1 344.3L1540.1 341.2L1542.1 338.0L1544.1 334.9L1546.1 331.8L1548.1 328.6L1550.1 325.4L1552.1 322.2L1554.1 319.0L1556.1 315.8L1558.1 312.7L1560.0 309.7L1562.0 306.7L1564.0 303.8L1566.0 300.9L1568.0 298.1L1570.0 295.4L1572.0 292.6L1574.0 289.9L1576.0 287.2L1578.0 284.5L1580.0 281.9L1582.0 279.3L1584.0 276.7L1586.0 274.1L1588.0 271.5L1589.9 269.0L1591.9 266.5L1593.9 264.1L1595.9 261.6L1597.9 259.1L1599.9 256.7L1601.9 254.4L1603.9 252.0L1605.9 249.8L1607.9 247.6L1609.9 245.6L1611.9 243.6L1613.9 241.7L1615.9 239.8L1617.8 237.9L1619.8 236.0L1621.8 234.0L1623.8 232.0L1625.8 229.9L1627.8 227.8L1629.8 225.7L1631.8 223.7L1633.8 221.7L1635.8 219.7L1637.8 217.9L1639.8 216.1L1641.8 214.5L1643.8 212.8L1645.8 211.2L1647.7 209.7L1649.7 208.2L1651.7 206.7L1653.7 205.2L1655.7 203.7L1657.7 202.2L1659.7 200.8L1661.7 199.4L1663.7 198.0L1665.7 196.7L1667.7 195.5L1669.7 194.4L1671.7 193.3L1673.7 192.3L1675.7 191.3L1677.6 190.4L1679.6 189.5L1681.6 188.6L1683.6 187.8L1685.6 186.9L1687.6 186.1L1689.6 185.4L1691.6 184.6L1693.6 183.9L1695.6 183.2L1697.6 182.6L1699.6 182.0L1701.6 181.4L1703.6 180.8L1705.5 180.3L1707.5 179.8L1709.5 179.4L1711.5 179.0L1713.5 178.7L1715.5 178.4L1717.5 178.2L1719.5 178.0L1721.5 177.8L1723.5 177.7L1725.5 177.7L1727.5 177.7L1729.5 177.7L1731.5 177.7L1733.5 177.8L1735.4 177.9L1737.4 178.1L1739.4 178.3L1741.4 178.5L1743.4 178.7L1745.4 179.0L1747.4 179.2L1749.4 179.5L1751.4 179.9L1753.4 180.2L1755.4 180.6L1757.4 181.1L1759.4 181.6L1761.4 182.1L1763.3 182.7L1765.3 183.4L1767.3 184.0L1769.3 184.8L1771.3 185.5L1773.3 186.4L1775.3 187.2L1777.3 188.2L1779.3 189.2L1781.3 190.2L1783.3 191.3L1785.3 192.4L1787.3 193.6L1789.3 194.7L1791.3 195.8L1793.2 196.9L1795.2 198.1L1797.2 199.3L1799.2 200.5L1801.2 201.7L1803.2 202.9L1805.2 204.2L1807.2 205.5L1809.2 206.7L1811.2 208.0L1813.2 209.3L1815.2 210.8L1817.2 212.3L1819.2 214.0L1821.1 215.9L1823.1 218.1L1825.1 220.5L1827.1 222.9L1829.1 225.4L1831.1 227.7L1833.1 229.9L1835.1 231.8L1837.1 233.6L1839.1 235.3L1841.1 236.9L1843.1 238.5L1845.1 240.2L1847.1 242.0L1849.1 244.0L1851.0 246.2L1853.0 248.4L1855.0 250.7L1857.0 253.0L1859.0 255.4L1861.0 257.9L1863.0 260.4L1865.0 262.9L1867.0 265.4L1869.0 268.0L1871.0 270.7L1873.0 273.4L1875.0 276.2L1877.0 279.1L1878.9 281.9L1880.9 284.7L1882.9 287.6L1884.9 290.3L1886.9 293.1L1888.9 295.7L1890.9 298.4L1892.9 301.0L1894.9 303.5L1896.9 306.1L1898.9 308.7L1900.9 311.3L1902.9 313.8L1904.9 316.5L1906.9 319.1L1908.8 321.9L1910.8 324.7L1912.8 327.6L1914.8 330.4L1916.8 333.2L1918.8 335.9L1920.8 338.4L1922.8 340.7L1924.8 342.9L1926.8 345.0L1928.8 347.1L1930.8 349.0L1932.8 350.9L1934.8 352.7L1936.7 354.6L1938.7 356.3L1940.7 358.1L1942.7 359.9L1944.7 361.6L1946.7 363.2L1948.7 364.9L1950.7 366.4L1952.7 368.0L1954.7 369.5L1956.7 370.9L1958.7 372.3L1960.7 373.6L1962.7 374.8L1964.7 376.0L1966.6 377.1L1968.6 378.2L1970.6 379.3L1972.6 380.4L1974.6 381.5L1976.6 382.7L1978.6 383.9L1980.6 385.2L1982.6 386.4L1984.6 387.7L1986.6 389.0L1988.6 390.3L1990.6 391.5L1992.6 392.7L1994.6 393.8L1996.5 394.8L1998.5 395.8L2000.5 396.6L2002.5 397.4L2004.5 398.2L2006.5 398.9L2008.5 399.6L2010.5 400.3L2012.5 401.0L2014.5 401.8L2016.5 402.6L2018.5 403.4L2020.5 404.2L2022.5 405.1L2024.4 406.0L2026.4 406.8L2028.4 407.7L2030.4 408.5L2032.4 409.3L2034.4 410.1L2036.4 410.8L2038.4 411.5L2040.4 412.2L2042.4 412.9L2044.4 413.5L2046.4 414.2L2048.4 414.8L2050.4 415.4L2052.4 416.1L2054.3 416.7L2056.3 417.3L2058.3 418.0L2060.3 418.6L2062.3 419.2L2064.3 419.8L2066.3 420.4L2068.3 421.0L2070.3 421.6L2072.3 422.2L2074.3 422.7L2076.3 423.3L2078.3 423.8L2080.3 424.3L2082.2 424.7L2084.2 425.2L2086.2 425.7L2088.2 426.2L2090.2 426.7L2092.2 427.2L2094.2 427.7L2096.2 428.2L2098.2 428.7L2100.2 429.2L2102.2 429.7L2104.2 430.2L2106.2 430.7L2108.2 431.2L2110.2 431.7L2112.1 432.2L2114.1 432.6L2116.1 433.1L2118.1 433.6L2120.1 434.0L2122.1 434.5L2124.1 435.0L2126.1 435.5L2128.1 436.1L2130.1 436.6L2132.1 437.3L2134.1 438.0L2136.1 438.7L2138.1 439.5L2140.0 440.3L2142.0 441.1L2144.0 442.0L2146.0 442.9L2148.0 443.9L2150.0 445.0L2152.0 446.2L2154.0 447.3" fill="none" stroke="#c96a6a" stroke-width="6.8" stroke-linejoin="round" stroke-linecap="butt" opacity="0.85"/>
<path d="M1204.5 477.2V498.2M1201.5 477.2h6M1201.5 498.2h6M1260.3 498.7V523.0M1257.3 498.7h6M1257.3 523.0h6M1268.3 499.2V523.2M1265.3 499.2h6M1265.3 523.2h6M1276.2 505.3V524.3M1273.2 505.3h6M1273.2 524.3h6M1316.1 515.8V536.6M1313.1 515.8h6M1313.1 536.6h6M1324.1 512.7V537.7M1321.1 512.7h6M1321.1 537.7h6M1348.0 522.7V546.4M1345.0 522.7h6M1345.0 546.4h6M1356.0 528.9V547.3M1353.0 528.9h6M1353.0 547.3h6M1403.8 535.5V554.9M1400.8 535.5h6M1400.8 554.9h6M1419.7 532.0V552.4M1416.7 532.0h6M1416.7 552.4h6M1427.7 530.5V548.3M1424.7 530.5h6M1424.7 548.3h6M1443.7 518.5V544.2M1440.7 518.5h6M1440.7 544.2h6M1467.6 507.4V530.0M1464.6 507.4h6M1464.6 530.0h6M1483.5 483.6V532.1M1480.5 483.6h6M1480.5 532.1h6M1491.5 472.5V528.5M1488.5 472.5h6M1488.5 528.5h6M1499.5 473.7V507.4M1496.5 473.7h6M1496.5 507.4h6M1507.4 465.1V500.7M1504.4 465.1h6M1504.4 500.7h6M1523.4 453.8V485.2M1520.4 453.8h6M1520.4 485.2h6M1531.3 444.0V480.0M1528.3 444.0h6M1528.3 480.0h6M1539.3 431.5V478.1M1536.3 431.5h6M1536.3 478.1h6M1547.3 430.5V466.6M1544.3 430.5h6M1544.3 466.6h6M1563.2 408.5V458.3M1560.2 408.5h6M1560.2 458.3h6M1571.2 409.5V444.4M1568.2 409.5h6M1568.2 444.4h6M1579.2 394.3V442.2M1576.2 394.3h6M1576.2 442.2h6M1587.2 394.7V435.0M1584.2 394.7h6M1584.2 435.0h6M1603.1 381.4V422.4M1600.1 381.4h6M1600.1 422.4h6M1611.1 371.4V420.4M1608.1 371.4h6M1608.1 420.4h6M1619.0 364.6V417.3M1616.0 364.6h6M1616.0 417.3h6M1627.0 373.8V402.1M1624.0 373.8h6M1624.0 402.1h6M1643.0 358.5V391.5M1640.0 358.5h6M1640.0 391.5h6M1650.9 343.3V396.0M1647.9 343.3h6M1647.9 396.0h6M1658.9 343.8V390.3M1655.9 343.8h6M1655.9 390.3h6M1666.9 341.3V378.0M1663.9 341.3h6M1663.9 378.0h6M1682.8 321.6V372.3M1679.8 321.6h6M1679.8 372.3h6M1690.8 328.3V360.9M1687.8 328.3h6M1687.8 360.9h6M1698.8 326.2V358.7M1695.8 326.2h6M1695.8 358.7h6M1706.7 321.8V354.0M1703.7 321.8h6M1703.7 354.0h6M1722.7 311.2V351.9M1719.7 311.2h6M1719.7 351.9h6M1730.7 307.9V357.4M1727.7 307.9h6M1727.7 357.4h6M1738.6 303.2V352.6M1735.6 303.2h6M1735.6 352.6h6M1746.6 307.4V348.3M1743.6 307.4h6M1743.6 348.3h6M1762.6 295.4V344.3M1759.6 295.4h6M1759.6 344.3h6M1770.5 306.1V333.8M1767.5 306.1h6M1767.5 333.8h6M1778.5 302.1V336.0M1775.5 302.1h6M1775.5 336.0h6M1786.5 300.7V331.3M1783.5 300.7h6M1783.5 331.3h6M1802.4 299.3V333.6M1799.4 299.3h6M1799.4 333.6h6M1810.4 292.0V343.9M1807.4 292.0h6M1807.4 343.9h6M1818.4 291.4V335.5M1815.4 291.4h6M1815.4 335.5h6M1826.3 300.0V331.6M1823.3 300.0h6M1823.3 331.6h6M1842.3 292.7V340.0M1839.3 292.7h6M1839.3 340.0h6M1850.2 299.4V341.1M1847.2 299.4h6M1847.2 341.1h6M1858.2 314.0V333.3M1855.2 314.0h6M1855.2 333.3h6M1882.1 329.2V352.5M1879.1 329.2h6M1879.1 352.5h6M1890.1 337.0V357.9M1887.1 337.0h6M1887.1 357.9h6M1906.1 346.0V367.1M1903.1 346.0h6M1903.1 367.1h6M1961.9 393.2V411.2M1958.9 393.2h6M1958.9 411.2h6M2001.7 425.4V440.9M1998.7 425.4h6M1998.7 440.9h6M2017.7 431.8V454.3M2014.7 431.8h6M2014.7 454.3h6M2049.6 448.9V469.8M2046.6 448.9h6M2046.6 469.8h6M2073.5 457.8V478.0M2070.5 457.8h6M2070.5 478.0h6M2089.4 463.4V481.0M2086.4 463.4h6M2086.4 481.0h6M2097.4 462.8V481.6M2094.4 462.8h6M2094.4 481.6h6M2113.3 467.4V488.7M2110.3 467.4h6M2110.3 488.7h6M2129.3 471.8V494.9M2126.3 471.8h6M2126.3 494.9h6M2137.3 477.4V500.3M2134.3 477.4h6M2134.3 500.3h6M2153.2 498.6V514.5M2150.2 498.6h6M2150.2 514.5h6" stroke="#c3c32a" stroke-width="1.8" fill="none"/><path d="M1321.6 516.8a2.5 2.5 0 1 0 5.0 0a2.5 2.5 0 1 0 -5.0 0M1481.0 491.0a2.5 2.5 0 1 0 5.0 0a2.5 2.5 0 1 0 -5.0 0M1481.0 523.9a2.5 2.5 0 1 0 5.0 0a2.5 2.5 0 1 0 -5.0 0M1489.0 481.1a2.5 2.5 0 1 0 5.0 0a2.5 2.5 0 1 0 -5.0 0M1489.0 518.2a2.5 2.5 0 1 0 5.0 0a2.5 2.5 0 1 0 -5.0 0M1504.9 469.8a2.5 2.5 0 1 0 5.0 0a2.5 2.5 0 1 0 -5.0 0M1528.8 449.9a2.5 2.5 0 1 0 5.0 0a2.5 2.5 0 1 0 -5.0 0M1528.8 474.4a2.5 2.5 0 1 0 5.0 0a2.5 2.5 0 1 0 -5.0 0M1536.8 438.9a2.5 2.5 0 1 0 5.0 0a2.5 2.5 0 1 0 -5.0 0M1536.8 471.0a2.5 2.5 0 1 0 5.0 0a2.5 2.5 0 1 0 -5.0 0M1544.8 435.2a2.5 2.5 0 1 0 5.0 0a2.5 2.5 0 1 0 -5.0 0M1544.8 461.2a2.5 2.5 0 1 0 5.0 0a2.5 2.5 0 1 0 -5.0 0M1560.7 417.7a2.5 2.5 0 1 0 5.0 0a2.5 2.5 0 1 0 -5.0 0M1560.7 449.1a2.5 2.5 0 1 0 5.0 0a2.5 2.5 0 1 0 -5.0 0M1568.7 415.3a2.5 2.5 0 1 0 5.0 0a2.5 2.5 0 1 0 -5.0 0M1568.7 438.7a2.5 2.5 0 1 0 5.0 0a2.5 2.5 0 1 0 -5.0 0M1576.7 403.1a2.5 2.5 0 1 0 5.0 0a2.5 2.5 0 1 0 -5.0 0M1576.7 434.6a2.5 2.5 0 1 0 5.0 0a2.5 2.5 0 1 0 -5.0 0M1584.7 400.5a2.5 2.5 0 1 0 5.0 0a2.5 2.5 0 1 0 -5.0 0M1584.7 428.5a2.5 2.5 0 1 0 5.0 0a2.5 2.5 0 1 0 -5.0 0M1600.6 387.2a2.5 2.5 0 1 0 5.0 0a2.5 2.5 0 1 0 -5.0 0M1600.6 416.5a2.5 2.5 0 1 0 5.0 0a2.5 2.5 0 1 0 -5.0 0M1608.6 380.0a2.5 2.5 0 1 0 5.0 0a2.5 2.5 0 1 0 -5.0 0M1608.6 413.1a2.5 2.5 0 1 0 5.0 0a2.5 2.5 0 1 0 -5.0 0M1616.5 374.2a2.5 2.5 0 1 0 5.0 0a2.5 2.5 0 1 0 -5.0 0M1616.5 410.4a2.5 2.5 0 1 0 5.0 0a2.5 2.5 0 1 0 -5.0 0M1640.5 362.6a2.5 2.5 0 1 0 5.0 0a2.5 2.5 0 1 0 -5.0 0M1640.5 387.4a2.5 2.5 0 1 0 5.0 0a2.5 2.5 0 1 0 -5.0 0M1648.4 350.9a2.5 2.5 0 1 0 5.0 0a2.5 2.5 0 1 0 -5.0 0M1648.4 386.4a2.5 2.5 0 1 0 5.0 0a2.5 2.5 0 1 0 -5.0 0M1656.4 351.3a2.5 2.5 0 1 0 5.0 0a2.5 2.5 0 1 0 -5.0 0M1656.4 381.0a2.5 2.5 0 1 0 5.0 0a2.5 2.5 0 1 0 -5.0 0M1664.4 348.0a2.5 2.5 0 1 0 5.0 0a2.5 2.5 0 1 0 -5.0 0M1664.4 372.0a2.5 2.5 0 1 0 5.0 0a2.5 2.5 0 1 0 -5.0 0M1680.3 330.9a2.5 2.5 0 1 0 5.0 0a2.5 2.5 0 1 0 -5.0 0M1680.3 365.4a2.5 2.5 0 1 0 5.0 0a2.5 2.5 0 1 0 -5.0 0M1688.3 356.7a2.5 2.5 0 1 0 5.0 0a2.5 2.5 0 1 0 -5.0 0M1696.3 354.1a2.5 2.5 0 1 0 5.0 0a2.5 2.5 0 1 0 -5.0 0M1720.2 318.0a2.5 2.5 0 1 0 5.0 0a2.5 2.5 0 1 0 -5.0 0M1720.2 345.7a2.5 2.5 0 1 0 5.0 0a2.5 2.5 0 1 0 -5.0 0M1728.2 315.5a2.5 2.5 0 1 0 5.0 0a2.5 2.5 0 1 0 -5.0 0M1728.2 348.9a2.5 2.5 0 1 0 5.0 0a2.5 2.5 0 1 0 -5.0 0M1736.1 310.5a2.5 2.5 0 1 0 5.0 0a2.5 2.5 0 1 0 -5.0 0M1736.1 344.5a2.5 2.5 0 1 0 5.0 0a2.5 2.5 0 1 0 -5.0 0M1744.1 313.2a2.5 2.5 0 1 0 5.0 0a2.5 2.5 0 1 0 -5.0 0M1744.1 340.1a2.5 2.5 0 1 0 5.0 0a2.5 2.5 0 1 0 -5.0 0M1760.1 303.8a2.5 2.5 0 1 0 5.0 0a2.5 2.5 0 1 0 -5.0 0M1760.1 336.5a2.5 2.5 0 1 0 5.0 0a2.5 2.5 0 1 0 -5.0 0M1776.0 308.0a2.5 2.5 0 1 0 5.0 0a2.5 2.5 0 1 0 -5.0 0M1776.0 330.8a2.5 2.5 0 1 0 5.0 0a2.5 2.5 0 1 0 -5.0 0M1799.9 304.2a2.5 2.5 0 1 0 5.0 0a2.5 2.5 0 1 0 -5.0 0M1799.9 327.8a2.5 2.5 0 1 0 5.0 0a2.5 2.5 0 1 0 -5.0 0M1807.9 299.1a2.5 2.5 0 1 0 5.0 0a2.5 2.5 0 1 0 -5.0 0M1807.9 334.1a2.5 2.5 0 1 0 5.0 0a2.5 2.5 0 1 0 -5.0 0M1815.9 299.5a2.5 2.5 0 1 0 5.0 0a2.5 2.5 0 1 0 -5.0 0M1815.9 329.0a2.5 2.5 0 1 0 5.0 0a2.5 2.5 0 1 0 -5.0 0M1839.8 302.0a2.5 2.5 0 1 0 5.0 0a2.5 2.5 0 1 0 -5.0 0M1839.8 332.6a2.5 2.5 0 1 0 5.0 0a2.5 2.5 0 1 0 -5.0 0M1847.7 306.6a2.5 2.5 0 1 0 5.0 0a2.5 2.5 0 1 0 -5.0 0M1847.7 335.7a2.5 2.5 0 1 0 5.0 0a2.5 2.5 0 1 0 -5.0 0" fill="#c3c32a"/><g fill="#c3c32a"><rect x="1201.2" y="477.4" width="6.6" height="18.8" rx="3.3"/><rect x="1209.1" y="486.9" width="6.6" height="20.4" rx="3.3"/><rect x="1217.1" y="492.4" width="6.6" height="18.0" rx="3.3"/><rect x="1225.1" y="494.8" width="6.6" height="22.8" rx="3.3"/><rect x="1233.1" y="497.8" width="6.6" height="20.0" rx="3.3"/><rect x="1241.0" y="497.5" width="6.6" height="20.5" rx="3.3"/><rect x="1249.0" y="500.1" width="6.6" height="20.4" rx="3.3"/><rect x="1257.0" y="500.6" width="6.6" height="22.7" rx="3.3"/><rect x="1265.0" y="502.7" width="6.6" height="16.7" rx="3.3"/><rect x="1272.9" y="506.4" width="6.6" height="17.9" rx="3.3"/><rect x="1280.9" y="505.5" width="6.6" height="21.7" rx="3.3"/><rect x="1288.9" y="508.0" width="6.6" height="18.7" rx="3.3"/><rect x="1296.8" y="509.6" width="6.6" height="21.5" rx="3.3"/><rect x="1304.8" y="511.8" width="6.6" height="21.8" rx="3.3"/><rect x="1312.8" y="515.9" width="6.6" height="18.4" rx="3.3"/><rect x="1320.8" y="517.6" width="6.6" height="16.9" rx="3.3"/><rect x="1328.7" y="520.8" width="6.6" height="17.5" rx="3.3"/><rect x="1336.7" y="524.1" width="6.6" height="17.0" rx="3.3"/><rect x="1344.7" y="526.2" width="6.6" height="16.9" rx="3.3"/><rect x="1352.7" y="528.0" width="6.6" height="18.2" rx="3.3"/><rect x="1360.6" y="530.0" width="6.6" height="18.0" rx="3.3"/><rect x="1368.6" y="531.5" width="6.6" height="19.9" rx="3.3"/><rect x="1376.6" y="533.8" width="6.6" height="20.5" rx="3.3"/><rect x="1384.5" y="532.9" width="6.6" height="22.2" rx="3.3"/><rect x="1400.5" y="537.2" width="6.6" height="16.1" rx="3.3"/><rect x="1408.5" y="534.3" width="6.6" height="19.9" rx="3.3"/><rect x="1416.4" y="534.6" width="6.6" height="16.9" rx="3.3"/><rect x="1424.4" y="531.5" width="6.6" height="15.7" rx="3.3"/><rect x="1440.4" y="522.0" width="6.6" height="18.9" rx="3.3"/><rect x="1448.3" y="518.1" width="6.6" height="19.3" rx="3.3"/><rect x="1456.3" y="512.7" width="6.6" height="22.1" rx="3.3"/><rect x="1464.3" y="508.4" width="6.6" height="20.3" rx="3.3"/><rect x="1480.2" y="495.1" width="6.6" height="23.8" rx="3.3"/><rect x="1488.2" y="486.3" width="6.6" height="24.9" rx="3.3"/><rect x="1496.2" y="478.1" width="6.6" height="25.6" rx="3.3"/><rect x="1504.1" y="471.1" width="6.6" height="26.4" rx="3.3"/><rect x="1520.1" y="457.2" width="6.6" height="25.9" rx="3.3"/><rect x="1528.0" y="452.5" width="6.6" height="19.6" rx="3.3"/><rect x="1536.0" y="443.0" width="6.6" height="24.3" rx="3.3"/><rect x="1544.0" y="436.5" width="6.6" height="22.7" rx="3.3"/><rect x="1559.9" y="423.6" width="6.6" height="19.6" rx="3.3"/><rect x="1567.9" y="417.9" width="6.6" height="18.4" rx="3.3"/><rect x="1575.9" y="408.6" width="6.6" height="21.8" rx="3.3"/><rect x="1583.9" y="403.1" width="6.6" height="22.3" rx="3.3"/><rect x="1599.8" y="389.7" width="6.6" height="24.2" rx="3.3"/><rect x="1607.8" y="385.3" width="6.6" height="23.9" rx="3.3"/><rect x="1615.7" y="380.5" width="6.6" height="26.3" rx="3.3"/><rect x="1623.7" y="375.4" width="6.6" height="25.2" rx="3.3"/><rect x="1639.7" y="363.4" width="6.6" height="23.2" rx="3.3"/><rect x="1647.6" y="355.2" width="6.6" height="24.8" rx="3.3"/><rect x="1655.6" y="355.5" width="6.6" height="19.5" rx="3.3"/><rect x="1663.6" y="351.4" width="6.6" height="17.9" rx="3.3"/><rect x="1679.5" y="336.8" width="6.6" height="24.9" rx="3.3"/><rect x="1687.5" y="332.0" width="6.6" height="23.9" rx="3.3"/><rect x="1695.5" y="329.8" width="6.6" height="23.1" rx="3.3"/><rect x="1703.4" y="325.5" width="6.6" height="26.6" rx="3.3"/><rect x="1719.4" y="321.6" width="6.6" height="21.3" rx="3.3"/><rect x="1727.4" y="319.7" width="6.6" height="24.0" rx="3.3"/><rect x="1735.3" y="314.6" width="6.6" height="25.1" rx="3.3"/><rect x="1743.3" y="315.7" width="6.6" height="19.5" rx="3.3"/><rect x="1759.3" y="308.8" width="6.6" height="23.4" rx="3.3"/><rect x="1767.2" y="308.8" width="6.6" height="21.1" rx="3.3"/><rect x="1775.2" y="310.6" width="6.6" height="18.2" rx="3.3"/><rect x="1783.2" y="303.3" width="6.6" height="26.1" rx="3.3"/><rect x="1799.1" y="305.8" width="6.6" height="19.5" rx="3.3"/><rect x="1807.1" y="302.9" width="6.6" height="24.6" rx="3.3"/><rect x="1815.1" y="304.3" width="6.6" height="21.5" rx="3.3"/><rect x="1823.0" y="301.2" width="6.6" height="26.2" rx="3.3"/><rect x="1839.0" y="308.0" width="6.6" height="20.4" rx="3.3"/><rect x="1846.9" y="310.4" width="6.6" height="23.3" rx="3.3"/><rect x="1854.9" y="313.7" width="6.6" height="18.4" rx="3.3"/><rect x="1862.9" y="319.9" width="6.6" height="17.8" rx="3.3"/><rect x="1878.8" y="331.5" width="6.6" height="16.5" rx="3.3"/><rect x="1886.8" y="338.8" width="6.6" height="14.8" rx="3.3"/><rect x="1894.8" y="341.2" width="6.6" height="19.9" rx="3.3"/><rect x="1902.8" y="347.4" width="6.6" height="18.1" rx="3.3"/><rect x="1918.7" y="359.2" width="6.6" height="19.3" rx="3.3"/><rect x="1926.7" y="367.3" width="6.6" height="18.0" rx="3.3"/><rect x="1934.6" y="374.9" width="6.6" height="17.6" rx="3.3"/><rect x="1942.6" y="381.4" width="6.6" height="14.5" rx="3.3"/><rect x="1950.6" y="386.9" width="6.6" height="20.2" rx="3.3"/><rect x="1958.6" y="395.1" width="6.6" height="14.4" rx="3.3"/><rect x="1966.5" y="401.5" width="6.6" height="17.6" rx="3.3"/><rect x="1974.5" y="406.6" width="6.6" height="17.1" rx="3.3"/><rect x="1982.5" y="411.6" width="6.6" height="18.1" rx="3.3"/><rect x="1990.5" y="420.6" width="6.6" height="16.5" rx="3.3"/><rect x="1998.4" y="425.6" width="6.6" height="15.4" rx="3.3"/><rect x="2006.4" y="431.8" width="6.6" height="15.2" rx="3.3"/><rect x="2014.4" y="434.1" width="6.6" height="18.6" rx="3.3"/><rect x="2022.3" y="440.5" width="6.6" height="18.9" rx="3.3"/><rect x="2030.3" y="444.3" width="6.6" height="18.6" rx="3.3"/><rect x="2038.3" y="448.0" width="6.6" height="18.2" rx="3.3"/><rect x="2046.3" y="450.6" width="6.6" height="16.2" rx="3.3"/><rect x="2054.2" y="452.5" width="6.6" height="18.3" rx="3.3"/><rect x="2062.2" y="454.1" width="6.6" height="19.4" rx="3.3"/><rect x="2070.2" y="460.0" width="6.6" height="14.5" rx="3.3"/><rect x="2078.2" y="460.9" width="6.6" height="19.0" rx="3.3"/><rect x="2086.1" y="464.5" width="6.6" height="15.2" rx="3.3"/><rect x="2094.1" y="464.5" width="6.6" height="15.6" rx="3.3"/><rect x="2102.1" y="467.0" width="6.6" height="17.7" rx="3.3"/><rect x="2110.0" y="469.4" width="6.6" height="16.2" rx="3.3"/><rect x="2118.0" y="470.7" width="6.6" height="20.2" rx="3.3"/><rect x="2126.0" y="474.1" width="6.6" height="19.0" rx="3.3"/><rect x="2134.0" y="478.3" width="6.6" height="20.3" rx="3.3"/><rect x="2141.9" y="488.9" width="6.6" height="19.8" rx="3.3"/><rect x="2149.9" y="499.4" width="6.6" height="14.7" rx="3.3"/></g>
<path d="M1204.5 455.7V478.2M1201.5 455.7h6M1201.5 478.2h6M1212.4 471.2V490.5M1209.4 471.2h6M1209.4 490.5h6M1260.3 490.1V508.4M1257.3 490.1h6M1257.3 508.4h6M1300.1 496.6V518.2M1297.1 496.6h6M1297.1 518.2h6M1316.1 498.5V522.4M1313.1 498.5h6M1313.1 522.4h6M1324.1 502.1V521.7M1321.1 502.1h6M1321.1 521.7h6M1332.0 501.2V523.8M1329.0 501.2h6M1329.0 523.8h6M1348.0 510.2V527.8M1345.0 510.2h6M1345.0 527.8h6M1356.0 512.2V530.4M1353.0 512.2h6M1353.0 530.4h6M1363.9 508.3V531.8M1360.9 508.3h6M1360.9 531.8h6M1411.8 511.3V529.8M1408.8 511.3h6M1408.8 529.8h6M1419.7 506.5V529.7M1416.7 506.5h6M1416.7 529.7h6M1451.6 488.2V511.5M1448.6 488.2h6M1448.6 511.5h6M1467.6 473.3V496.1M1464.6 473.3h6M1464.6 496.1h6M1483.5 446.5V485.5M1480.5 446.5h6M1480.5 485.5h6M1491.5 440.5V476.1M1488.5 440.5h6M1488.5 476.1h6M1499.5 423.7V467.9M1496.5 423.7h6M1496.5 467.9h6M1507.4 423.2V450.6M1504.4 423.2h6M1504.4 450.6h6M1523.4 400.2V441.7M1520.4 400.2h6M1520.4 441.7h6M1531.3 394.4V431.2M1528.3 394.4h6M1528.3 431.2h6M1539.3 378.5V423.3M1536.3 378.5h6M1536.3 423.3h6M1547.3 377.4V425.1M1544.3 377.4h6M1544.3 425.1h6M1563.2 357.5V407.6M1560.2 357.5h6M1560.2 407.6h6M1571.2 353.2V403.5M1568.2 353.2h6M1568.2 403.5h6M1579.2 349.2V391.0M1576.2 349.2h6M1576.2 391.0h6M1587.2 342.2V380.5M1584.2 342.2h6M1584.2 380.5h6M1603.1 316.8V373.4M1600.1 316.8h6M1600.1 373.4h6M1611.1 320.1V363.8M1608.1 320.1h6M1608.1 363.8h6M1619.0 320.1V349.2M1616.0 320.1h6M1616.0 349.2h6M1627.0 310.3V353.5M1624.0 310.3h6M1624.0 353.5h6M1643.0 301.1V335.7M1640.0 301.1h6M1640.0 335.7h6M1650.9 290.0V336.1M1647.9 290.0h6M1647.9 336.1h6M1658.9 291.6V325.5M1655.9 291.6h6M1655.9 325.5h6M1666.9 287.6V324.3M1663.9 287.6h6M1663.9 324.3h6M1682.8 273.3V325.4M1679.8 273.3h6M1679.8 325.4h6M1690.8 284.0V314.8M1687.8 284.0h6M1687.8 314.8h6M1698.8 273.7V315.5M1695.8 273.7h6M1695.8 315.5h6M1706.7 277.4V311.1M1703.7 277.4h6M1703.7 311.1h6M1722.7 267.8V312.0M1719.7 267.8h6M1719.7 312.0h6M1730.7 273.8V302.6M1727.7 273.8h6M1727.7 302.6h6M1738.6 274.3V304.2M1735.6 274.3h6M1735.6 304.2h6M1746.6 261.8V310.5M1743.6 261.8h6M1743.6 310.5h6M1762.6 267.5V302.1M1759.6 267.5h6M1759.6 302.1h6M1770.5 269.1V299.5M1767.5 269.1h6M1767.5 299.5h6M1778.5 261.5V305.2M1775.5 261.5h6M1775.5 305.2h6M1786.5 267.8V300.9M1783.5 267.8h6M1783.5 300.9h6M1802.4 259.7V304.6M1799.4 259.7h6M1799.4 304.6h6M1810.4 258.6V308.6M1807.4 258.6h6M1807.4 308.6h6M1818.4 261.0V309.5M1815.4 261.0h6M1815.4 309.5h6M1826.3 259.4V316.1M1823.3 259.4h6M1823.3 316.1h6M1842.3 272.9V312.7M1839.3 272.9h6M1839.3 312.7h6M1850.2 276.7V317.1M1847.2 276.7h6M1847.2 317.1h6M1858.2 289.7V315.2M1855.2 289.7h6M1855.2 315.2h6M1866.2 292.9V315.9M1863.2 292.9h6M1863.2 315.9h6M1882.1 301.8V330.8M1879.1 301.8h6M1879.1 330.8h6M1898.1 317.9V338.2M1895.1 317.9h6M1895.1 338.2h6M1906.1 325.5V347.2M1903.1 325.5h6M1903.1 347.2h6M1930.0 345.9V367.5M1927.0 345.9h6M1927.0 367.5h6M1937.9 352.7V376.1M1934.9 352.7h6M1934.9 376.1h6M1945.9 355.9V382.1M1942.9 355.9h6M1942.9 382.1h6M1953.9 365.1V388.9M1950.9 365.1h6M1950.9 388.9h6M1961.9 373.6V393.8M1958.9 373.6h6M1958.9 393.8h6M1969.8 379.1V399.2M1966.8 379.1h6M1966.8 399.2h6M1985.8 393.5V411.3M1982.8 393.5h6M1982.8 411.3h6M1993.8 396.1V419.1M1990.8 396.1h6M1990.8 419.1h6M2001.7 403.3V421.3M1998.7 403.3h6M1998.7 421.3h6M2009.7 407.9V427.7M2006.7 407.9h6M2006.7 427.7h6M2017.7 410.8V436.0M2014.7 410.8h6M2014.7 436.0h6M2033.6 419.9V445.8M2030.6 419.9h6M2030.6 445.8h6M2041.6 420.1V448.8M2038.6 420.1h6M2038.6 448.8h6M2049.6 427.6V446.2M2046.6 427.6h6M2046.6 446.2h6M2073.5 421.8V449.6M2070.5 421.8h6M2070.5 449.6h6M2081.5 426.7V448.3M2078.5 426.7h6M2078.5 448.3h6M2089.4 428.9V444.9M2086.4 428.9h6M2086.4 444.9h6M2097.4 430.1V448.0M2094.4 430.1h6M2094.4 448.0h6M2113.3 426.1V447.9M2110.3 426.1h6M2110.3 447.9h6M2121.3 429.7V449.5M2118.3 429.7h6M2118.3 449.5h6M2137.3 444.9V463.7M2134.3 444.9h6M2134.3 463.7h6M2145.2 454.3V483.6M2142.2 454.3h6M2142.2 483.6h6M2153.2 475.0V496.0M2150.2 475.0h6M2150.2 496.0h6" stroke="#2f9768" stroke-width="1.8" fill="none"/><path d="M1481.0 451.3a2.5 2.5 0 1 0 5.0 0a2.5 2.5 0 1 0 -5.0 0M1481.0 481.1a2.5 2.5 0 1 0 5.0 0a2.5 2.5 0 1 0 -5.0 0M1489.0 445.7a2.5 2.5 0 1 0 5.0 0a2.5 2.5 0 1 0 -5.0 0M1489.0 470.1a2.5 2.5 0 1 0 5.0 0a2.5 2.5 0 1 0 -5.0 0M1497.0 431.3a2.5 2.5 0 1 0 5.0 0a2.5 2.5 0 1 0 -5.0 0M1497.0 461.0a2.5 2.5 0 1 0 5.0 0a2.5 2.5 0 1 0 -5.0 0M1520.9 407.0a2.5 2.5 0 1 0 5.0 0a2.5 2.5 0 1 0 -5.0 0M1520.9 434.7a2.5 2.5 0 1 0 5.0 0a2.5 2.5 0 1 0 -5.0 0M1528.8 398.9a2.5 2.5 0 1 0 5.0 0a2.5 2.5 0 1 0 -5.0 0M1528.8 427.0a2.5 2.5 0 1 0 5.0 0a2.5 2.5 0 1 0 -5.0 0M1536.8 385.9a2.5 2.5 0 1 0 5.0 0a2.5 2.5 0 1 0 -5.0 0M1536.8 419.1a2.5 2.5 0 1 0 5.0 0a2.5 2.5 0 1 0 -5.0 0M1544.8 383.9a2.5 2.5 0 1 0 5.0 0a2.5 2.5 0 1 0 -5.0 0M1544.8 416.4a2.5 2.5 0 1 0 5.0 0a2.5 2.5 0 1 0 -5.0 0M1560.7 365.8a2.5 2.5 0 1 0 5.0 0a2.5 2.5 0 1 0 -5.0 0M1560.7 399.9a2.5 2.5 0 1 0 5.0 0a2.5 2.5 0 1 0 -5.0 0M1568.7 360.0a2.5 2.5 0 1 0 5.0 0a2.5 2.5 0 1 0 -5.0 0M1568.7 395.4a2.5 2.5 0 1 0 5.0 0a2.5 2.5 0 1 0 -5.0 0M1576.7 354.3a2.5 2.5 0 1 0 5.0 0a2.5 2.5 0 1 0 -5.0 0M1576.7 385.7a2.5 2.5 0 1 0 5.0 0a2.5 2.5 0 1 0 -5.0 0M1584.7 347.1a2.5 2.5 0 1 0 5.0 0a2.5 2.5 0 1 0 -5.0 0M1584.7 375.6a2.5 2.5 0 1 0 5.0 0a2.5 2.5 0 1 0 -5.0 0M1600.6 326.5a2.5 2.5 0 1 0 5.0 0a2.5 2.5 0 1 0 -5.0 0M1600.6 364.2a2.5 2.5 0 1 0 5.0 0a2.5 2.5 0 1 0 -5.0 0M1608.6 325.5a2.5 2.5 0 1 0 5.0 0a2.5 2.5 0 1 0 -5.0 0M1608.6 357.2a2.5 2.5 0 1 0 5.0 0a2.5 2.5 0 1 0 -5.0 0M1624.5 315.8a2.5 2.5 0 1 0 5.0 0a2.5 2.5 0 1 0 -5.0 0M1624.5 347.1a2.5 2.5 0 1 0 5.0 0a2.5 2.5 0 1 0 -5.0 0M1640.5 307.2a2.5 2.5 0 1 0 5.0 0a2.5 2.5 0 1 0 -5.0 0M1640.5 330.9a2.5 2.5 0 1 0 5.0 0a2.5 2.5 0 1 0 -5.0 0M1648.4 295.4a2.5 2.5 0 1 0 5.0 0a2.5 2.5 0 1 0 -5.0 0M1648.4 329.2a2.5 2.5 0 1 0 5.0 0a2.5 2.5 0 1 0 -5.0 0M1656.4 321.4a2.5 2.5 0 1 0 5.0 0a2.5 2.5 0 1 0 -5.0 0M1664.4 291.8a2.5 2.5 0 1 0 5.0 0a2.5 2.5 0 1 0 -5.0 0M1680.3 283.1a2.5 2.5 0 1 0 5.0 0a2.5 2.5 0 1 0 -5.0 0M1680.3 316.0a2.5 2.5 0 1 0 5.0 0a2.5 2.5 0 1 0 -5.0 0M1688.3 289.0a2.5 2.5 0 1 0 5.0 0a2.5 2.5 0 1 0 -5.0 0M1688.3 310.3a2.5 2.5 0 1 0 5.0 0a2.5 2.5 0 1 0 -5.0 0M1696.3 281.2a2.5 2.5 0 1 0 5.0 0a2.5 2.5 0 1 0 -5.0 0M1696.3 308.5a2.5 2.5 0 1 0 5.0 0a2.5 2.5 0 1 0 -5.0 0M1704.2 281.5a2.5 2.5 0 1 0 5.0 0a2.5 2.5 0 1 0 -5.0 0M1704.2 307.0a2.5 2.5 0 1 0 5.0 0a2.5 2.5 0 1 0 -5.0 0M1720.2 276.8a2.5 2.5 0 1 0 5.0 0a2.5 2.5 0 1 0 -5.0 0M1720.2 303.9a2.5 2.5 0 1 0 5.0 0a2.5 2.5 0 1 0 -5.0 0M1728.2 279.0a2.5 2.5 0 1 0 5.0 0a2.5 2.5 0 1 0 -5.0 0M1728.2 298.4a2.5 2.5 0 1 0 5.0 0a2.5 2.5 0 1 0 -5.0 0M1736.1 298.9a2.5 2.5 0 1 0 5.0 0a2.5 2.5 0 1 0 -5.0 0M1744.1 270.1a2.5 2.5 0 1 0 5.0 0a2.5 2.5 0 1 0 -5.0 0M1744.1 301.8a2.5 2.5 0 1 0 5.0 0a2.5 2.5 0 1 0 -5.0 0M1760.1 273.6a2.5 2.5 0 1 0 5.0 0a2.5 2.5 0 1 0 -5.0 0M1760.1 296.6a2.5 2.5 0 1 0 5.0 0a2.5 2.5 0 1 0 -5.0 0M1776.0 269.5a2.5 2.5 0 1 0 5.0 0a2.5 2.5 0 1 0 -5.0 0M1776.0 298.3a2.5 2.5 0 1 0 5.0 0a2.5 2.5 0 1 0 -5.0 0M1784.0 272.1a2.5 2.5 0 1 0 5.0 0a2.5 2.5 0 1 0 -5.0 0M1799.9 268.5a2.5 2.5 0 1 0 5.0 0a2.5 2.5 0 1 0 -5.0 0M1799.9 297.5a2.5 2.5 0 1 0 5.0 0a2.5 2.5 0 1 0 -5.0 0M1807.9 267.8a2.5 2.5 0 1 0 5.0 0a2.5 2.5 0 1 0 -5.0 0M1807.9 301.1a2.5 2.5 0 1 0 5.0 0a2.5 2.5 0 1 0 -5.0 0M1815.9 270.6a2.5 2.5 0 1 0 5.0 0a2.5 2.5 0 1 0 -5.0 0M1815.9 300.5a2.5 2.5 0 1 0 5.0 0a2.5 2.5 0 1 0 -5.0 0M1823.8 270.7a2.5 2.5 0 1 0 5.0 0a2.5 2.5 0 1 0 -5.0 0M1823.8 304.8a2.5 2.5 0 1 0 5.0 0a2.5 2.5 0 1 0 -5.0 0M1839.8 278.9a2.5 2.5 0 1 0 5.0 0a2.5 2.5 0 1 0 -5.0 0M1839.8 306.8a2.5 2.5 0 1 0 5.0 0a2.5 2.5 0 1 0 -5.0 0M1847.7 283.9a2.5 2.5 0 1 0 5.0 0a2.5 2.5 0 1 0 -5.0 0M1847.7 309.3a2.5 2.5 0 1 0 5.0 0a2.5 2.5 0 1 0 -5.0 0M1855.7 309.9a2.5 2.5 0 1 0 5.0 0a2.5 2.5 0 1 0 -5.0 0M1879.6 306.0a2.5 2.5 0 1 0 5.0 0a2.5 2.5 0 1 0 -5.0 0M1879.6 326.0a2.5 2.5 0 1 0 5.0 0a2.5 2.5 0 1 0 -5.0 0M1935.4 371.9a2.5 2.5 0 1 0 5.0 0a2.5 2.5 0 1 0 -5.0 0M1943.4 360.2a2.5 2.5 0 1 0 5.0 0a2.5 2.5 0 1 0 -5.0 0M1943.4 377.9a2.5 2.5 0 1 0 5.0 0a2.5 2.5 0 1 0 -5.0 0M1951.4 384.3a2.5 2.5 0 1 0 5.0 0a2.5 2.5 0 1 0 -5.0 0M1991.3 415.0a2.5 2.5 0 1 0 5.0 0a2.5 2.5 0 1 0 -5.0 0M2039.1 426.0a2.5 2.5 0 1 0 5.0 0a2.5 2.5 0 1 0 -5.0 0M2039.1 444.5a2.5 2.5 0 1 0 5.0 0a2.5 2.5 0 1 0 -5.0 0M2071.0 426.9a2.5 2.5 0 1 0 5.0 0a2.5 2.5 0 1 0 -5.0 0M2142.7 459.9a2.5 2.5 0 1 0 5.0 0a2.5 2.5 0 1 0 -5.0 0M2142.7 478.1a2.5 2.5 0 1 0 5.0 0a2.5 2.5 0 1 0 -5.0 0" fill="#2f9768"/><g fill="#2f9768"><rect x="1201.2" y="457.0" width="6.6" height="19.7" rx="3.3"/><rect x="1209.1" y="472.1" width="6.6" height="17.0" rx="3.3"/><rect x="1217.1" y="478.7" width="6.6" height="17.9" rx="3.3"/><rect x="1225.1" y="484.2" width="6.6" height="20.7" rx="3.3"/><rect x="1233.1" y="485.7" width="6.6" height="22.6" rx="3.3"/><rect x="1241.0" y="489.1" width="6.6" height="16.8" rx="3.3"/><rect x="1249.0" y="490.4" width="6.6" height="16.1" rx="3.3"/><rect x="1257.0" y="490.8" width="6.6" height="15.9" rx="3.3"/><rect x="1265.0" y="490.5" width="6.6" height="20.3" rx="3.3"/><rect x="1272.9" y="493.0" width="6.6" height="19.0" rx="3.3"/><rect x="1280.9" y="493.7" width="6.6" height="22.8" rx="3.3"/><rect x="1288.9" y="497.1" width="6.6" height="18.0" rx="3.3"/><rect x="1296.8" y="498.6" width="6.6" height="16.2" rx="3.3"/><rect x="1304.8" y="497.6" width="6.6" height="22.6" rx="3.3"/><rect x="1312.8" y="501.0" width="6.6" height="17.2" rx="3.3"/><rect x="1320.8" y="504.5" width="6.6" height="16.2" rx="3.3"/><rect x="1328.7" y="504.6" width="6.6" height="18.1" rx="3.3"/><rect x="1336.7" y="507.7" width="6.6" height="16.4" rx="3.3"/><rect x="1344.7" y="510.9" width="6.6" height="17.0" rx="3.3"/><rect x="1352.7" y="512.5" width="6.6" height="16.6" rx="3.3"/><rect x="1360.6" y="512.1" width="6.6" height="17.6" rx="3.3"/><rect x="1368.6" y="516.0" width="6.6" height="17.2" rx="3.3"/><rect x="1376.6" y="515.8" width="6.6" height="20.3" rx="3.3"/><rect x="1384.5" y="518.8" width="6.6" height="17.2" rx="3.3"/><rect x="1400.5" y="516.4" width="6.6" height="18.1" rx="3.3"/><rect x="1408.5" y="511.8" width="6.6" height="16.3" rx="3.3"/><rect x="1416.4" y="508.5" width="6.6" height="18.9" rx="3.3"/><rect x="1424.4" y="507.5" width="6.6" height="17.0" rx="3.3"/><rect x="1440.4" y="496.0" width="6.6" height="21.5" rx="3.3"/><rect x="1448.3" y="488.1" width="6.6" height="21.0" rx="3.3"/><rect x="1456.3" y="483.8" width="6.6" height="20.0" rx="3.3"/><rect x="1464.3" y="475.9" width="6.6" height="16.0" rx="3.3"/><rect x="1480.2" y="452.7" width="6.6" height="27.4" rx="3.3"/><rect x="1488.2" y="447.6" width="6.6" height="19.9" rx="3.3"/><rect x="1496.2" y="435.5" width="6.6" height="22.0" rx="3.3"/><rect x="1504.1" y="424.7" width="6.6" height="23.6" rx="3.3"/><rect x="1520.1" y="410.5" width="6.6" height="20.5" rx="3.3"/><rect x="1528.0" y="400.1" width="6.6" height="26.0" rx="3.3"/><rect x="1536.0" y="390.0" width="6.6" height="28.2" rx="3.3"/><rect x="1544.0" y="387.0" width="6.6" height="24.0" rx="3.3"/><rect x="1559.9" y="370.8" width="6.6" height="24.6" rx="3.3"/><rect x="1567.9" y="363.6" width="6.6" height="27.1" rx="3.3"/><rect x="1575.9" y="356.0" width="6.6" height="27.8" rx="3.3"/><rect x="1583.9" y="348.6" width="6.6" height="25.4" rx="3.3"/><rect x="1599.8" y="332.9" width="6.6" height="25.5" rx="3.3"/><rect x="1607.8" y="327.5" width="6.6" height="26.5" rx="3.3"/><rect x="1615.7" y="321.6" width="6.6" height="26.6" rx="3.3"/><rect x="1623.7" y="317.9" width="6.6" height="26.1" rx="3.3"/><rect x="1639.7" y="310.0" width="6.6" height="19.3" rx="3.3"/><rect x="1647.6" y="297.5" width="6.6" height="28.2" rx="3.3"/><rect x="1655.6" y="294.7" width="6.6" height="25.8" rx="3.3"/><rect x="1663.6" y="292.7" width="6.6" height="27.9" rx="3.3"/><rect x="1679.5" y="289.7" width="6.6" height="20.2" rx="3.3"/><rect x="1687.5" y="290.6" width="6.6" height="18.5" rx="3.3"/><rect x="1695.5" y="285.3" width="6.6" height="19.6" rx="3.3"/><rect x="1703.4" y="282.4" width="6.6" height="24.0" rx="3.3"/><rect x="1719.4" y="282.5" width="6.6" height="16.7" rx="3.3"/><rect x="1727.4" y="281.0" width="6.6" height="16.5" rx="3.3"/><rect x="1735.3" y="278.7" width="6.6" height="18.2" rx="3.3"/><rect x="1743.3" y="275.0" width="6.6" height="21.3" rx="3.3"/><rect x="1759.3" y="276.4" width="6.6" height="17.9" rx="3.3"/><rect x="1767.2" y="273.2" width="6.6" height="21.9" rx="3.3"/><rect x="1775.2" y="274.3" width="6.6" height="20.4" rx="3.3"/><rect x="1783.2" y="273.1" width="6.6" height="23.4" rx="3.3"/><rect x="1799.1" y="273.9" width="6.6" height="19.9" rx="3.3"/><rect x="1807.1" y="273.7" width="6.6" height="23.2" rx="3.3"/><rect x="1815.1" y="276.8" width="6.6" height="18.0" rx="3.3"/><rect x="1823.0" y="278.7" width="6.6" height="18.0" rx="3.3"/><rect x="1839.0" y="281.7" width="6.6" height="22.5" rx="3.3"/><rect x="1846.9" y="287.8" width="6.6" height="17.0" rx="3.3"/><rect x="1854.9" y="294.1" width="6.6" height="13.8" rx="3.3"/><rect x="1862.9" y="296.7" width="6.6" height="15.4" rx="3.3"/><rect x="1878.8" y="307.0" width="6.6" height="17.6" rx="3.3"/><rect x="1886.8" y="312.8" width="6.6" height="18.8" rx="3.3"/><rect x="1894.8" y="319.9" width="6.6" height="16.5" rx="3.3"/><rect x="1902.8" y="327.1" width="6.6" height="18.2" rx="3.3"/><rect x="1918.7" y="341.7" width="6.6" height="18.6" rx="3.3"/><rect x="1926.7" y="347.8" width="6.6" height="18.9" rx="3.3"/><rect x="1934.6" y="354.6" width="6.6" height="16.4" rx="3.3"/><rect x="1942.6" y="361.2" width="6.6" height="15.8" rx="3.3"/><rect x="1950.6" y="369.1" width="6.6" height="14.0" rx="3.3"/><rect x="1958.6" y="375.7" width="6.6" height="15.1" rx="3.3"/><rect x="1966.5" y="380.0" width="6.6" height="18.6" rx="3.3"/><rect x="1974.5" y="385.7" width="6.6" height="18.7" rx="3.3"/><rect x="1982.5" y="394.9" width="6.6" height="13.7" rx="3.3"/><rect x="1990.5" y="398.7" width="6.6" height="15.6" rx="3.3"/><rect x="1998.4" y="403.6" width="6.6" height="16.4" rx="3.3"/><rect x="2006.4" y="410.6" width="6.6" height="15.7" rx="3.3"/><rect x="2014.4" y="414.3" width="6.6" height="17.1" rx="3.3"/><rect x="2022.3" y="419.6" width="6.6" height="18.3" rx="3.3"/><rect x="2030.3" y="423.8" width="6.6" height="18.1" rx="3.3"/><rect x="2038.3" y="428.7" width="6.6" height="14.8" rx="3.3"/><rect x="2046.3" y="427.1" width="6.6" height="17.6" rx="3.3"/><rect x="2054.2" y="428.5" width="6.6" height="17.9" rx="3.3"/><rect x="2062.2" y="429.1" width="6.6" height="17.4" rx="3.3"/><rect x="2070.2" y="428.8" width="6.6" height="17.4" rx="3.3"/><rect x="2078.2" y="429.4" width="6.6" height="17.8" rx="3.3"/><rect x="2086.1" y="429.8" width="6.6" height="14.2" rx="3.3"/><rect x="2094.1" y="431.0" width="6.6" height="14.4" rx="3.3"/><rect x="2102.1" y="430.2" width="6.6" height="18.7" rx="3.3"/><rect x="2110.0" y="428.2" width="6.6" height="18.8" rx="3.3"/><rect x="2118.0" y="432.3" width="6.6" height="16.4" rx="3.3"/><rect x="2126.0" y="436.2" width="6.6" height="18.2" rx="3.3"/><rect x="2134.0" y="445.5" width="6.6" height="17.7" rx="3.3"/><rect x="2141.9" y="462.3" width="6.6" height="13.7" rx="3.3"/><rect x="2149.9" y="477.1" width="6.6" height="17.1" rx="3.3"/></g>
<path d="M1204.5 457.1V470.5M1201.5 457.1h6M1201.5 470.5h6M1212.4 460.0V477.3M1209.4 460.0h6M1209.4 477.3h6M1228.4 469.9V487.0M1225.4 469.9h6M1225.4 487.0h6M1260.3 477.1V493.7M1257.3 477.1h6M1257.3 493.7h6M1268.3 480.0V494.8M1265.3 480.0h6M1265.3 494.8h6M1276.2 480.3V496.5M1273.2 480.3h6M1273.2 496.5h6M1292.2 482.4V502.0M1289.2 482.4h6M1289.2 502.0h6M1300.1 487.7V502.8M1297.1 487.7h6M1297.1 502.8h6M1308.1 490.0V504.8M1305.1 490.0h6M1305.1 504.8h6M1324.1 495.8V509.6M1321.1 495.8h6M1321.1 509.6h6M1371.9 502.4V518.8M1368.9 502.4h6M1368.9 518.8h6M1411.8 494.3V511.2M1408.8 494.3h6M1408.8 511.2h6M1419.7 489.5V506.0M1416.7 489.5h6M1416.7 506.0h6M1427.7 486.9V502.5M1424.7 486.9h6M1424.7 502.5h6M1451.6 467.1V485.4M1448.6 467.1h6M1448.6 485.4h6M1467.6 453.0V468.7M1464.6 453.0h6M1464.6 468.7h6M1483.5 416.0V465.9M1480.5 416.0h6M1480.5 465.9h6M1491.5 397.9V460.8M1488.5 397.9h6M1488.5 460.8h6M1499.5 384.8V440.5M1496.5 384.8h6M1496.5 440.5h6M1507.4 380.5V428.2M1504.4 380.5h6M1504.4 428.2h6M1523.4 351.2V414.7M1520.4 351.2h6M1520.4 414.7h6M1531.3 357.4V392.0M1528.3 357.4h6M1528.3 392.0h6M1539.3 338.9V386.2M1536.3 338.9h6M1536.3 386.2h6M1547.3 332.2V374.9M1544.3 332.2h6M1544.3 374.9h6M1563.2 318.9V353.2M1560.2 318.9h6M1560.2 353.2h6M1571.2 296.7V351.7M1568.2 296.7h6M1568.2 351.7h6M1579.2 294.3V339.6M1576.2 294.3h6M1576.2 339.6h6M1587.2 283.8V326.5M1584.2 283.8h6M1584.2 326.5h6M1603.1 278.3V315.6M1600.1 278.3h6M1600.1 315.6h6M1611.1 271.4V322.1M1608.1 271.4h6M1608.1 322.1h6M1619.0 271.5V314.3M1616.0 271.5h6M1616.0 314.3h6M1627.0 263.1V313.4M1624.0 263.1h6M1624.0 313.4h6M1643.0 253.4V317.2M1640.0 253.4h6M1640.0 317.2h6M1650.9 260.7V302.7M1647.9 260.7h6M1647.9 302.7h6M1658.9 260.6V299.5M1655.9 260.6h6M1655.9 299.5h6M1666.9 255.8V301.0M1663.9 255.8h6M1663.9 301.0h6M1682.8 251.8V306.3M1679.8 251.8h6M1679.8 306.3h6M1690.8 252.1V304.7M1687.8 252.1h6M1687.8 304.7h6M1698.8 266.3V291.8M1695.8 266.3h6M1695.8 291.8h6M1706.7 267.8V288.4M1703.7 267.8h6M1703.7 288.4h6M1722.7 268.3V291.0M1719.7 268.3h6M1719.7 291.0h6M1730.7 264.1V293.4M1727.7 264.1h6M1727.7 293.4h6M1738.6 266.3V289.1M1735.6 266.3h6M1735.6 289.1h6M1746.6 267.6V289.6M1743.6 267.6h6M1743.6 289.6h6M1762.6 267.7V291.0M1759.6 267.7h6M1759.6 291.0h6M1770.5 264.4V295.4M1767.5 264.4h6M1767.5 295.4h6M1778.5 264.6V298.4M1775.5 264.6h6M1775.5 298.4h6M1786.5 270.0V295.9M1783.5 270.0h6M1783.5 295.9h6M1802.4 269.8V306.8M1799.4 269.8h6M1799.4 306.8h6M1810.4 274.3V304.5M1807.4 274.3h6M1807.4 304.5h6M1818.4 276.4V306.0M1815.4 276.4h6M1815.4 306.0h6M1826.3 282.8V301.1M1823.3 282.8h6M1823.3 301.1h6M1842.3 277.8V311.9M1839.3 277.8h6M1839.3 311.9h6M1850.2 289.8V310.3M1847.2 289.8h6M1847.2 310.3h6M1858.2 290.8V311.5M1855.2 290.8h6M1855.2 311.5h6M1882.1 301.4V327.1M1879.1 301.4h6M1879.1 327.1h6M1890.1 307.3V330.8M1887.1 307.3h6M1887.1 330.8h6M1898.1 314.0V333.3M1895.1 314.0h6M1895.1 333.3h6M1906.1 321.9V340.8M1903.1 321.9h6M1903.1 340.8h6M1922.0 332.4V351.4M1919.0 332.4h6M1919.0 351.4h6M1930.0 339.4V357.6M1927.0 339.4h6M1927.0 357.6h6M1945.9 350.7V370.7M1942.9 350.7h6M1942.9 370.7h6M1953.9 359.1V377.1M1950.9 359.1h6M1950.9 377.1h6M1977.8 378.3V393.7M1974.8 378.3h6M1974.8 393.7h6M1985.8 384.7V401.0M1982.8 384.7h6M1982.8 401.0h6M2001.7 395.3V412.4M1998.7 395.3h6M1998.7 412.4h6M2009.7 401.3V419.0M2006.7 401.3h6M2006.7 419.0h6M2017.7 403.8V424.0M2014.7 403.8h6M2014.7 424.0h6M2025.6 410.5V428.9M2022.6 410.5h6M2022.6 428.9h6M2033.6 414.0V434.3M2030.6 414.0h6M2030.6 434.3h6M2041.6 419.2V437.9M2038.6 419.2h6M2038.6 437.9h6M2049.6 424.6V440.3M2046.6 424.6h6M2046.6 440.3h6M2057.5 419.4V442.6M2054.5 419.4h6M2054.5 442.6h6M2065.5 424.6V439.8M2062.5 424.6h6M2062.5 439.8h6M2073.5 422.5V435.2M2070.5 422.5h6M2070.5 435.2h6M2089.4 418.4V439.0M2086.4 418.4h6M2086.4 439.0h6M2097.4 417.7V440.0M2094.4 417.7h6M2094.4 440.0h6M2105.4 416.9V438.8M2102.4 416.9h6M2102.4 438.8h6M2113.3 419.7V441.2M2110.3 419.7h6M2110.3 441.2h6M2121.3 421.4V443.3M2118.3 421.4h6M2118.3 443.3h6M2129.3 430.3V445.5M2126.3 430.3h6M2126.3 445.5h6M2137.3 444.4V465.1M2134.3 444.4h6M2134.3 465.1h6M2145.2 464.6V487.3M2142.2 464.6h6M2142.2 487.3h6M2153.2 488.2V508.2M2150.2 488.2h6M2150.2 508.2h6" stroke="#0c0ce6" stroke-width="1.8" fill="none"/><path d="M1481.0 425.9a2.5 2.5 0 1 0 5.0 0a2.5 2.5 0 1 0 -5.0 0M1481.0 457.5a2.5 2.5 0 1 0 5.0 0a2.5 2.5 0 1 0 -5.0 0M1489.0 409.6a2.5 2.5 0 1 0 5.0 0a2.5 2.5 0 1 0 -5.0 0M1489.0 450.7a2.5 2.5 0 1 0 5.0 0a2.5 2.5 0 1 0 -5.0 0M1497.0 394.4a2.5 2.5 0 1 0 5.0 0a2.5 2.5 0 1 0 -5.0 0M1497.0 431.9a2.5 2.5 0 1 0 5.0 0a2.5 2.5 0 1 0 -5.0 0M1504.9 386.7a2.5 2.5 0 1 0 5.0 0a2.5 2.5 0 1 0 -5.0 0M1504.9 419.4a2.5 2.5 0 1 0 5.0 0a2.5 2.5 0 1 0 -5.0 0M1520.9 363.4a2.5 2.5 0 1 0 5.0 0a2.5 2.5 0 1 0 -5.0 0M1520.9 404.2a2.5 2.5 0 1 0 5.0 0a2.5 2.5 0 1 0 -5.0 0M1528.8 362.5a2.5 2.5 0 1 0 5.0 0a2.5 2.5 0 1 0 -5.0 0M1528.8 387.1a2.5 2.5 0 1 0 5.0 0a2.5 2.5 0 1 0 -5.0 0M1536.8 347.3a2.5 2.5 0 1 0 5.0 0a2.5 2.5 0 1 0 -5.0 0M1536.8 379.6a2.5 2.5 0 1 0 5.0 0a2.5 2.5 0 1 0 -5.0 0M1544.8 338.3a2.5 2.5 0 1 0 5.0 0a2.5 2.5 0 1 0 -5.0 0M1544.8 368.3a2.5 2.5 0 1 0 5.0 0a2.5 2.5 0 1 0 -5.0 0M1560.7 348.6a2.5 2.5 0 1 0 5.0 0a2.5 2.5 0 1 0 -5.0 0M1568.7 307.1a2.5 2.5 0 1 0 5.0 0a2.5 2.5 0 1 0 -5.0 0M1568.7 343.6a2.5 2.5 0 1 0 5.0 0a2.5 2.5 0 1 0 -5.0 0M1576.7 300.9a2.5 2.5 0 1 0 5.0 0a2.5 2.5 0 1 0 -5.0 0M1576.7 331.3a2.5 2.5 0 1 0 5.0 0a2.5 2.5 0 1 0 -5.0 0M1584.7 292.7a2.5 2.5 0 1 0 5.0 0a2.5 2.5 0 1 0 -5.0 0M1584.7 320.7a2.5 2.5 0 1 0 5.0 0a2.5 2.5 0 1 0 -5.0 0M1600.6 284.5a2.5 2.5 0 1 0 5.0 0a2.5 2.5 0 1 0 -5.0 0M1600.6 310.0a2.5 2.5 0 1 0 5.0 0a2.5 2.5 0 1 0 -5.0 0M1608.6 279.6a2.5 2.5 0 1 0 5.0 0a2.5 2.5 0 1 0 -5.0 0M1608.6 312.7a2.5 2.5 0 1 0 5.0 0a2.5 2.5 0 1 0 -5.0 0M1616.5 277.0a2.5 2.5 0 1 0 5.0 0a2.5 2.5 0 1 0 -5.0 0M1616.5 307.6a2.5 2.5 0 1 0 5.0 0a2.5 2.5 0 1 0 -5.0 0M1624.5 273.1a2.5 2.5 0 1 0 5.0 0a2.5 2.5 0 1 0 -5.0 0M1624.5 304.8a2.5 2.5 0 1 0 5.0 0a2.5 2.5 0 1 0 -5.0 0M1640.5 264.8a2.5 2.5 0 1 0 5.0 0a2.5 2.5 0 1 0 -5.0 0M1640.5 305.2a2.5 2.5 0 1 0 5.0 0a2.5 2.5 0 1 0 -5.0 0M1648.4 267.0a2.5 2.5 0 1 0 5.0 0a2.5 2.5 0 1 0 -5.0 0M1648.4 296.9a2.5 2.5 0 1 0 5.0 0a2.5 2.5 0 1 0 -5.0 0M1656.4 267.7a2.5 2.5 0 1 0 5.0 0a2.5 2.5 0 1 0 -5.0 0M1656.4 293.3a2.5 2.5 0 1 0 5.0 0a2.5 2.5 0 1 0 -5.0 0M1664.4 263.1a2.5 2.5 0 1 0 5.0 0a2.5 2.5 0 1 0 -5.0 0M1664.4 294.8a2.5 2.5 0 1 0 5.0 0a2.5 2.5 0 1 0 -5.0 0M1680.3 261.2a2.5 2.5 0 1 0 5.0 0a2.5 2.5 0 1 0 -5.0 0M1680.3 297.8a2.5 2.5 0 1 0 5.0 0a2.5 2.5 0 1 0 -5.0 0M1688.3 261.3a2.5 2.5 0 1 0 5.0 0a2.5 2.5 0 1 0 -5.0 0M1688.3 296.9a2.5 2.5 0 1 0 5.0 0a2.5 2.5 0 1 0 -5.0 0M1696.3 270.5a2.5 2.5 0 1 0 5.0 0a2.5 2.5 0 1 0 -5.0 0M1696.3 287.5a2.5 2.5 0 1 0 5.0 0a2.5 2.5 0 1 0 -5.0 0M1728.2 269.4a2.5 2.5 0 1 0 5.0 0a2.5 2.5 0 1 0 -5.0 0M1728.2 288.5a2.5 2.5 0 1 0 5.0 0a2.5 2.5 0 1 0 -5.0 0M1744.1 285.4a2.5 2.5 0 1 0 5.0 0a2.5 2.5 0 1 0 -5.0 0M1760.1 286.7a2.5 2.5 0 1 0 5.0 0a2.5 2.5 0 1 0 -5.0 0M1768.0 270.4a2.5 2.5 0 1 0 5.0 0a2.5 2.5 0 1 0 -5.0 0M1768.0 289.7a2.5 2.5 0 1 0 5.0 0a2.5 2.5 0 1 0 -5.0 0M1776.0 270.2a2.5 2.5 0 1 0 5.0 0a2.5 2.5 0 1 0 -5.0 0M1776.0 292.4a2.5 2.5 0 1 0 5.0 0a2.5 2.5 0 1 0 -5.0 0M1799.9 276.4a2.5 2.5 0 1 0 5.0 0a2.5 2.5 0 1 0 -5.0 0M1799.9 299.2a2.5 2.5 0 1 0 5.0 0a2.5 2.5 0 1 0 -5.0 0M1807.9 278.8a2.5 2.5 0 1 0 5.0 0a2.5 2.5 0 1 0 -5.0 0M1807.9 300.1a2.5 2.5 0 1 0 5.0 0a2.5 2.5 0 1 0 -5.0 0M1815.9 281.1a2.5 2.5 0 1 0 5.0 0a2.5 2.5 0 1 0 -5.0 0M1815.9 301.5a2.5 2.5 0 1 0 5.0 0a2.5 2.5 0 1 0 -5.0 0M1839.8 283.6a2.5 2.5 0 1 0 5.0 0a2.5 2.5 0 1 0 -5.0 0M1839.8 306.0a2.5 2.5 0 1 0 5.0 0a2.5 2.5 0 1 0 -5.0 0M1879.6 323.0a2.5 2.5 0 1 0 5.0 0a2.5 2.5 0 1 0 -5.0 0M1887.6 311.4a2.5 2.5 0 1 0 5.0 0a2.5 2.5 0 1 0 -5.0 0M1887.6 326.6a2.5 2.5 0 1 0 5.0 0a2.5 2.5 0 1 0 -5.0 0M2055.0 424.0a2.5 2.5 0 1 0 5.0 0a2.5 2.5 0 1 0 -5.0 0M2142.7 483.2a2.5 2.5 0 1 0 5.0 0a2.5 2.5 0 1 0 -5.0 0" fill="#0c0ce6"/><g fill="#0c0ce6"><rect x="1201.2" y="457.0" width="6.6" height="14.0" rx="3.3"/><rect x="1209.1" y="462.5" width="6.6" height="12.6" rx="3.3"/><rect x="1217.1" y="466.9" width="6.6" height="14.0" rx="3.3"/><rect x="1225.1" y="471.4" width="6.6" height="12.1" rx="3.3"/><rect x="1233.1" y="472.3" width="6.6" height="14.1" rx="3.3"/><rect x="1241.0" y="475.1" width="6.6" height="14.7" rx="3.3"/><rect x="1249.0" y="475.7" width="6.6" height="15.0" rx="3.3"/><rect x="1257.0" y="477.3" width="6.6" height="15.3" rx="3.3"/><rect x="1265.0" y="480.4" width="6.6" height="12.7" rx="3.3"/><rect x="1272.9" y="482.3" width="6.6" height="12.2" rx="3.3"/><rect x="1280.9" y="485.4" width="6.6" height="13.3" rx="3.3"/><rect x="1288.9" y="485.5" width="6.6" height="14.3" rx="3.3"/><rect x="1296.8" y="489.4" width="6.6" height="12.9" rx="3.3"/><rect x="1304.8" y="491.3" width="6.6" height="12.9" rx="3.3"/><rect x="1312.8" y="491.7" width="6.6" height="14.7" rx="3.3"/><rect x="1320.8" y="496.1" width="6.6" height="12.4" rx="3.3"/><rect x="1328.7" y="496.0" width="6.6" height="13.6" rx="3.3"/><rect x="1336.7" y="500.3" width="6.6" height="11.6" rx="3.3"/><rect x="1344.7" y="499.4" width="6.6" height="14.0" rx="3.3"/><rect x="1352.7" y="501.6" width="6.6" height="12.3" rx="3.3"/><rect x="1360.6" y="501.1" width="6.6" height="15.2" rx="3.3"/><rect x="1368.6" y="504.7" width="6.6" height="12.1" rx="3.3"/><rect x="1376.6" y="503.1" width="6.6" height="15.0" rx="3.3"/><rect x="1384.5" y="501.9" width="6.6" height="14.5" rx="3.3"/><rect x="1400.5" y="500.5" width="6.6" height="11.5" rx="3.3"/><rect x="1408.5" y="495.8" width="6.6" height="15.3" rx="3.3"/><rect x="1416.4" y="491.0" width="6.6" height="14.5" rx="3.3"/><rect x="1424.4" y="487.2" width="6.6" height="13.3" rx="3.3"/><rect x="1440.4" y="476.2" width="6.6" height="12.1" rx="3.3"/><rect x="1448.3" y="469.7" width="6.6" height="12.6" rx="3.3"/><rect x="1456.3" y="462.6" width="6.6" height="12.3" rx="3.3"/><rect x="1464.3" y="452.9" width="6.6" height="14.1" rx="3.3"/><rect x="1480.2" y="432.4" width="6.6" height="19.9" rx="3.3"/><rect x="1488.2" y="418.0" width="6.6" height="25.9" rx="3.3"/><rect x="1496.2" y="400.8" width="6.6" height="25.7" rx="3.3"/><rect x="1504.1" y="389.6" width="6.6" height="24.3" rx="3.3"/><rect x="1520.1" y="372.2" width="6.6" height="24.8" rx="3.3"/><rect x="1528.0" y="364.3" width="6.6" height="21.1" rx="3.3"/><rect x="1536.0" y="352.5" width="6.6" height="23.9" rx="3.3"/><rect x="1544.0" y="341.0" width="6.6" height="24.0" rx="3.3"/><rect x="1559.9" y="323.5" width="6.6" height="23.8" rx="3.3"/><rect x="1567.9" y="314.2" width="6.6" height="24.5" rx="3.3"/><rect x="1575.9" y="304.2" width="6.6" height="22.1" rx="3.3"/><rect x="1583.9" y="298.2" width="6.6" height="19.9" rx="3.3"/><rect x="1599.8" y="287.5" width="6.6" height="20.3" rx="3.3"/><rect x="1607.8" y="284.5" width="6.6" height="22.2" rx="3.3"/><rect x="1615.7" y="279.1" width="6.6" height="25.2" rx="3.3"/><rect x="1623.7" y="279.7" width="6.6" height="19.8" rx="3.3"/><rect x="1639.7" y="272.9" width="6.6" height="23.6" rx="3.3"/><rect x="1647.6" y="270.0" width="6.6" height="24.2" rx="3.3"/><rect x="1655.6" y="271.5" width="6.6" height="19.0" rx="3.3"/><rect x="1663.6" y="267.1" width="6.6" height="24.9" rx="3.3"/><rect x="1679.5" y="267.2" width="6.6" height="25.5" rx="3.3"/><rect x="1687.5" y="267.2" width="6.6" height="25.2" rx="3.3"/><rect x="1695.5" y="271.5" width="6.6" height="15.0" rx="3.3"/><rect x="1703.4" y="269.0" width="6.6" height="18.0" rx="3.3"/><rect x="1719.4" y="271.3" width="6.6" height="16.5" rx="3.3"/><rect x="1727.4" y="271.3" width="6.6" height="15.6" rx="3.3"/><rect x="1735.3" y="270.1" width="6.6" height="18.2" rx="3.3"/><rect x="1743.3" y="270.8" width="6.6" height="13.7" rx="3.3"/><rect x="1759.3" y="271.1" width="6.6" height="14.6" rx="3.3"/><rect x="1767.2" y="273.0" width="6.6" height="14.2" rx="3.3"/><rect x="1775.2" y="272.6" width="6.6" height="17.2" rx="3.3"/><rect x="1783.2" y="274.2" width="6.6" height="17.1" rx="3.3"/><rect x="1799.1" y="279.8" width="6.6" height="15.1" rx="3.3"/><rect x="1807.1" y="280.0" width="6.6" height="18.9" rx="3.3"/><rect x="1815.1" y="282.5" width="6.6" height="17.7" rx="3.3"/><rect x="1823.0" y="284.5" width="6.6" height="14.1" rx="3.3"/><rect x="1839.0" y="286.2" width="6.6" height="17.4" rx="3.3"/><rect x="1846.9" y="289.6" width="6.6" height="18.8" rx="3.3"/><rect x="1854.9" y="294.4" width="6.6" height="13.1" rx="3.3"/><rect x="1862.9" y="297.4" width="6.6" height="13.3" rx="3.3"/><rect x="1878.8" y="305.8" width="6.6" height="16.4" rx="3.3"/><rect x="1886.8" y="312.2" width="6.6" height="13.5" rx="3.3"/><rect x="1894.8" y="316.9" width="6.6" height="13.2" rx="3.3"/><rect x="1902.8" y="324.3" width="6.6" height="13.7" rx="3.3"/><rect x="1918.7" y="335.6" width="6.6" height="13.1" rx="3.3"/><rect x="1926.7" y="341.0" width="6.6" height="13.9" rx="3.3"/><rect x="1934.6" y="348.8" width="6.6" height="15.5" rx="3.3"/><rect x="1942.6" y="355.1" width="6.6" height="12.7" rx="3.3"/><rect x="1950.6" y="360.8" width="6.6" height="14.8" rx="3.3"/><rect x="1958.6" y="365.6" width="6.6" height="16.6" rx="3.3"/><rect x="1966.5" y="373.4" width="6.6" height="14.2" rx="3.3"/><rect x="1974.5" y="379.5" width="6.6" height="13.1" rx="3.3"/><rect x="1982.5" y="386.4" width="6.6" height="13.5" rx="3.3"/><rect x="1990.5" y="389.9" width="6.6" height="15.0" rx="3.3"/><rect x="1998.4" y="397.3" width="6.6" height="12.6" rx="3.3"/><rect x="2006.4" y="403.0" width="6.6" height="13.0" rx="3.3"/><rect x="2014.4" y="407.4" width="6.6" height="13.1" rx="3.3"/><rect x="2022.3" y="412.2" width="6.6" height="16.4" rx="3.3"/><rect x="2030.3" y="418.0" width="6.6" height="13.8" rx="3.3"/><rect x="2038.3" y="420.9" width="6.6" height="15.4" rx="3.3"/><rect x="2046.3" y="424.6" width="6.6" height="13.8" rx="3.3"/><rect x="2054.2" y="425.3" width="6.6" height="13.9" rx="3.3"/><rect x="2062.2" y="425.0" width="6.6" height="14.1" rx="3.3"/><rect x="2070.2" y="422.8" width="6.6" height="12.4" rx="3.3"/><rect x="2078.2" y="420.2" width="6.6" height="15.9" rx="3.3"/><rect x="2086.1" y="421.1" width="6.6" height="14.8" rx="3.3"/><rect x="2094.1" y="421.0" width="6.6" height="16.2" rx="3.3"/><rect x="2102.1" y="419.3" width="6.6" height="16.2" rx="3.3"/><rect x="2110.0" y="422.3" width="6.6" height="14.5" rx="3.3"/><rect x="2118.0" y="424.7" width="6.6" height="15.9" rx="3.3"/><rect x="2126.0" y="431.1" width="6.6" height="14.4" rx="3.3"/><rect x="2134.0" y="447.4" width="6.6" height="14.5" rx="3.3"/><rect x="2141.9" y="467.8" width="6.6" height="14.6" rx="3.3"/><rect x="2149.9" y="489.8" width="6.6" height="15.7" rx="3.3"/></g>
<g fill="#e10000"><rect x="1200.7" y="440.0" width="7.6" height="8.9" rx="3.8"/><rect x="1208.6" y="443.8" width="7.6" height="8.6" rx="3.8"/><rect x="1216.6" y="443.2" width="7.6" height="8.6" rx="3.8"/><rect x="1224.6" y="444.5" width="7.6" height="8.8" rx="3.8"/><rect x="1232.6" y="446.5" width="7.6" height="8.7" rx="3.8"/><rect x="1240.5" y="449.1" width="7.6" height="8.4" rx="3.8"/><rect x="1248.5" y="448.9" width="7.6" height="9.0" rx="3.8"/><rect x="1256.5" y="452.4" width="7.6" height="9.0" rx="3.8"/><rect x="1264.5" y="454.4" width="7.6" height="9.0" rx="3.8"/><rect x="1272.4" y="455.6" width="7.6" height="8.8" rx="3.8"/><rect x="1280.4" y="456.1" width="7.6" height="8.7" rx="3.8"/><rect x="1288.4" y="457.1" width="7.6" height="8.6" rx="3.8"/><rect x="1296.3" y="459.4" width="7.6" height="9.0" rx="3.8"/><rect x="1304.3" y="460.3" width="7.6" height="8.8" rx="3.8"/><rect x="1312.3" y="459.8" width="7.6" height="8.9" rx="3.8"/><rect x="1320.3" y="461.3" width="7.6" height="8.6" rx="3.8"/><rect x="1328.2" y="462.7" width="7.6" height="8.7" rx="3.8"/><rect x="1336.2" y="464.4" width="7.6" height="8.5" rx="3.8"/><rect x="1344.2" y="465.0" width="7.6" height="8.6" rx="3.8"/><rect x="1352.2" y="466.6" width="7.6" height="8.5" rx="3.8"/><rect x="1360.1" y="469.4" width="7.6" height="8.7" rx="3.8"/><rect x="1368.1" y="470.5" width="7.6" height="8.5" rx="3.8"/><rect x="1376.1" y="471.0" width="7.6" height="9.0" rx="3.8"/><rect x="1384.0" y="470.2" width="7.6" height="8.7" rx="3.8"/><rect x="1400.0" y="474.2" width="7.6" height="9.0" rx="3.8"/><rect x="1408.0" y="474.2" width="7.6" height="8.7" rx="3.8"/><rect x="1415.9" y="470.2" width="7.6" height="9.1" rx="3.8"/><rect x="1423.9" y="469.6" width="7.6" height="8.6" rx="3.8"/><rect x="1439.9" y="461.4" width="7.6" height="8.8" rx="3.8"/><rect x="1447.8" y="457.7" width="7.6" height="8.7" rx="3.8"/><rect x="1455.8" y="450.6" width="7.6" height="8.9" rx="3.8"/><rect x="1463.8" y="443.5" width="7.6" height="8.5" rx="3.8"/><rect x="1479.7" y="426.3" width="7.6" height="8.8" rx="3.8"/><rect x="1487.7" y="415.7" width="7.6" height="8.7" rx="3.8"/><rect x="1495.7" y="403.4" width="7.6" height="9.1" rx="3.8"/><rect x="1503.6" y="391.9" width="7.6" height="8.6" rx="3.8"/><rect x="1519.6" y="362.2" width="7.6" height="8.8" rx="3.8"/><rect x="1527.5" y="351.7" width="7.6" height="8.4" rx="3.8"/><rect x="1535.5" y="337.8" width="7.6" height="9.1" rx="3.8"/><rect x="1543.5" y="325.4" width="7.6" height="8.9" rx="3.8"/><rect x="1559.4" y="299.2" width="7.6" height="8.8" rx="3.8"/><rect x="1567.4" y="290.1" width="7.6" height="8.6" rx="3.8"/><rect x="1575.4" y="279.7" width="7.6" height="8.6" rx="3.8"/><rect x="1583.4" y="267.8" width="7.6" height="8.6" rx="3.8"/><rect x="1599.3" y="247.7" width="7.6" height="8.7" rx="3.8"/><rect x="1607.3" y="239.8" width="7.6" height="8.5" rx="3.8"/><rect x="1615.2" y="232.8" width="7.6" height="8.4" rx="3.8"/><rect x="1623.2" y="223.4" width="7.6" height="8.8" rx="3.8"/><rect x="1639.2" y="208.7" width="7.6" height="8.6" rx="3.8"/><rect x="1647.1" y="201.7" width="7.6" height="9.0" rx="3.8"/><rect x="1655.1" y="198.0" width="7.6" height="8.6" rx="3.8"/><rect x="1663.1" y="191.4" width="7.6" height="8.5" rx="3.8"/><rect x="1679.0" y="183.3" width="7.6" height="8.7" rx="3.8"/><rect x="1687.0" y="182.1" width="7.6" height="8.5" rx="3.8"/><rect x="1695.0" y="176.6" width="7.6" height="9.0" rx="3.8"/><rect x="1702.9" y="176.8" width="7.6" height="8.8" rx="3.8"/><rect x="1718.9" y="172.0" width="7.6" height="8.6" rx="3.8"/><rect x="1726.9" y="172.3" width="7.6" height="8.8" rx="3.8"/><rect x="1734.8" y="173.2" width="7.6" height="9.0" rx="3.8"/><rect x="1742.8" y="175.3" width="7.6" height="8.9" rx="3.8"/><rect x="1758.8" y="178.0" width="7.6" height="9.0" rx="3.8"/><rect x="1766.7" y="181.0" width="7.6" height="8.8" rx="3.8"/><rect x="1774.7" y="185.7" width="7.6" height="8.5" rx="3.8"/><rect x="1782.7" y="188.7" width="7.6" height="9.0" rx="3.8"/><rect x="1798.6" y="197.3" width="7.6" height="9.1" rx="3.8"/><rect x="1806.6" y="202.0" width="7.6" height="8.5" rx="3.8"/><rect x="1814.6" y="209.7" width="7.6" height="8.5" rx="3.8"/><rect x="1822.5" y="218.5" width="7.6" height="9.1" rx="3.8"/><rect x="1838.5" y="233.2" width="7.6" height="8.9" rx="3.8"/><rect x="1846.4" y="241.6" width="7.6" height="8.6" rx="3.8"/><rect x="1854.4" y="249.0" width="7.6" height="8.6" rx="3.8"/><rect x="1862.4" y="260.0" width="7.6" height="8.6" rx="3.8"/><rect x="1878.3" y="282.1" width="7.6" height="8.4" rx="3.8"/><rect x="1886.3" y="292.3" width="7.6" height="8.7" rx="3.8"/><rect x="1894.3" y="302.4" width="7.6" height="9.0" rx="3.8"/><rect x="1902.3" y="313.3" width="7.6" height="9.1" rx="3.8"/><rect x="1918.2" y="335.4" width="7.6" height="8.6" rx="3.8"/><rect x="1926.2" y="345.0" width="7.6" height="8.8" rx="3.8"/><rect x="1934.1" y="350.9" width="7.6" height="8.8" rx="3.8"/><rect x="1942.1" y="358.6" width="7.6" height="8.5" rx="3.8"/><rect x="1950.1" y="363.7" width="7.6" height="8.5" rx="3.8"/><rect x="1958.1" y="369.3" width="7.6" height="9.0" rx="3.8"/><rect x="1966.0" y="374.5" width="7.6" height="9.0" rx="3.8"/><rect x="1974.0" y="379.7" width="7.6" height="8.9" rx="3.8"/><rect x="1982.0" y="385.7" width="7.6" height="8.5" rx="3.8"/><rect x="1990.0" y="387.8" width="7.6" height="9.0" rx="3.8"/><rect x="1997.9" y="391.4" width="7.6" height="8.8" rx="3.8"/><rect x="2005.9" y="394.9" width="7.6" height="8.8" rx="3.8"/><rect x="2013.9" y="397.9" width="7.6" height="8.8" rx="3.8"/><rect x="2021.8" y="401.9" width="7.6" height="8.9" rx="3.8"/><rect x="2029.8" y="404.7" width="7.6" height="8.5" rx="3.8"/><rect x="2037.8" y="407.9" width="7.6" height="9.0" rx="3.8"/><rect x="2045.8" y="409.5" width="7.6" height="9.0" rx="3.8"/><rect x="2053.7" y="414.2" width="7.6" height="9.0" rx="3.8"/><rect x="2061.7" y="416.4" width="7.6" height="8.9" rx="3.8"/><rect x="2069.7" y="417.5" width="7.6" height="8.5" rx="3.8"/><rect x="2077.7" y="420.6" width="7.6" height="8.5" rx="3.8"/><rect x="2085.6" y="422.4" width="7.6" height="8.8" rx="3.8"/><rect x="2093.6" y="425.3" width="7.6" height="8.7" rx="3.8"/><rect x="2101.6" y="426.1" width="7.6" height="8.8" rx="3.8"/><rect x="2109.5" y="429.4" width="7.6" height="8.7" rx="3.8"/><rect x="2117.5" y="429.4" width="7.6" height="8.9" rx="3.8"/><rect x="2125.5" y="432.6" width="7.6" height="8.7" rx="3.8"/><rect x="2133.5" y="434.7" width="7.6" height="8.7" rx="3.8"/><rect x="2141.4" y="438.8" width="7.6" height="9.1" rx="3.8"/><rect x="2149.4" y="442.2" width="7.6" height="8.8" rx="3.8"/></g>
<path d="M96.0 788.4H1053.2" stroke="#b3b3f6" stroke-width="4"/>
<path d="M96.0 788.4L98.0 788.4L100.0 788.4L102.0 788.4L104.0 788.4L106.0 788.4L108.0 788.4L110.0 788.4L112.0 788.4L113.9 788.4L115.9 788.4L117.9 788.4L119.9 788.4L121.9 788.4L123.9 788.4L125.9 788.4L127.9 788.4L129.9 788.4L131.9 788.4L133.9 788.4L135.9 788.4L137.9 788.4L139.9 788.4L141.9 788.4L143.9 788.4L145.9 788.4L147.8 788.4L149.8 788.4L151.8 788.4L153.8 788.4L155.8 788.4L157.8 788.3L159.8 788.3L161.8 788.3L163.8 788.3L165.8 788.3L167.8 788.3L169.8 788.3L171.8 788.3L173.8 788.3L175.8 788.3L177.8 788.3L179.8 788.3L181.7 788.3L183.7 788.3L185.7 788.3L187.7 788.3L189.7 788.3L191.7 788.3L193.7 788.3L195.7 788.3L197.7 788.3L199.7 788.3L201.7 788.3L203.7 788.3L205.7 788.3L207.7 788.3L209.7 788.3L211.7 788.3L213.7 788.3L215.6 788.3L217.6 788.3L219.6 788.3L221.6 788.3L223.6 788.3L225.6 788.2L227.6 788.2L229.6 788.2L231.6 788.2L233.6 788.2L235.6 788.2L237.6 788.2L239.6 788.2L241.6 788.2L243.6 788.2L245.6 788.2L247.6 788.2L249.6 788.2L251.5 788.2L253.5 788.2L255.5 788.2L257.5 788.2L259.5 788.3L261.5 788.3L263.5 788.3L265.5 788.3L267.5 788.3L269.5 788.3L271.5 788.3L273.5 788.3L275.5 788.3L277.5 788.3L279.5 788.3L281.5 788.3L283.5 788.3L285.4 788.3L287.4 788.3L289.4 788.3L291.4 788.3L293.4 788.3L295.4 788.3L297.4 788.3L299.4 788.3L301.4 788.3L303.4 788.4L305.4 788.4L307.4 788.4L309.4 788.4L311.4 788.4L313.4 788.4L315.4 788.4L317.4 788.4L319.3 788.5L321.3 788.5L323.3 788.5L325.3 788.6L327.3 788.7L329.3 788.7L331.3 788.8L333.3 788.9L335.3 789.0L337.3 789.0L339.3 789.1L341.3 789.2L343.3 789.3L345.3 789.4L347.3 789.5L349.3 789.6L351.3 789.6L353.2 789.7L355.2 789.8L357.2 789.8L359.2 789.9L361.2 790.0L363.2 790.1L365.2 790.2L367.2 790.2L369.2 790.3L371.2 790.4L373.2 790.5L375.2 790.6L377.2 790.7L379.2 790.7L381.2 790.8L383.2 790.9L385.2 790.9L387.1 791.0L389.1 791.0L391.1 791.1L393.1 791.1L395.1 791.1L397.1 791.2L399.1 791.2L401.1 791.2L403.1 791.2L405.1 791.2L407.1 791.3L409.1 791.3L411.1 791.3L413.1 791.3L415.1 791.3L417.1 791.4L419.1 791.4L421.0 791.4L423.0 791.4L425.0 791.4L427.0 791.4L429.0 791.5L431.0 791.5L433.0 791.5L435.0 791.5L437.0 791.5L439.0 791.5L441.0 791.6L443.0 791.6L445.0 791.6L447.0 791.6L449.0 791.6L451.0 791.6L453.0 791.6L454.9 791.7L456.9 791.7L458.9 791.7L460.9 791.7L462.9 791.7L464.9 791.7L466.9 791.7L468.9 791.7L470.9 791.8L472.9 791.8L474.9 791.8L476.9 791.8L478.9 791.8L480.9 791.8L482.9 791.8L484.9 791.8L486.9 791.8L488.9 791.8L490.8 791.9L492.8 791.9L494.8 791.9L496.8 791.9L498.8 791.9L500.8 791.9L502.8 791.9L504.8 791.9L506.8 791.9L508.8 791.9L510.8 791.9L512.8 791.9L514.8 792.0L516.8 792.0L518.8 792.0L520.8 792.0L522.8 792.0L524.7 792.0L526.7 792.0L528.7 792.0L530.7 792.0L532.7 792.0L534.7 792.0L536.7 792.0L538.7 792.0L540.7 792.0L542.7 792.0L544.7 792.0L546.7 792.0L548.7 792.0L550.7 792.0L552.7 792.0L554.7 792.0L556.7 792.0L558.6 792.0L560.6 792.0L562.6 792.0L564.6 792.0L566.6 792.0L568.6 792.0L570.6 792.1L572.6 792.1L574.6 792.1L576.6 792.1L578.6 792.1L580.6 792.1L582.6 792.0L584.6 792.0L586.6 792.0L588.6 792.0L590.6 792.0L592.5 792.0L594.5 792.0L596.5 792.0L598.5 792.0L600.5 792.0L602.5 792.0L604.5 792.0L606.5 792.0L608.5 792.0L610.5 792.0L612.5 792.0L614.5 792.0L616.5 792.0L618.5 792.0L620.5 792.0L622.5 792.0L624.5 792.0L626.4 792.0L628.4 792.0L630.4 792.0L632.4 792.0L634.4 792.0L636.4 792.0L638.4 792.0L640.4 792.0L642.4 792.0L644.4 792.0L646.4 791.9L648.4 791.9L650.4 791.9L652.4 791.9L654.4 791.9L656.4 791.9L658.4 791.9L660.3 791.9L662.3 791.9L664.3 791.9L666.3 791.9L668.3 791.9L670.3 791.8L672.3 791.8L674.3 791.8L676.3 791.8L678.3 791.8L680.3 791.8L682.3 791.8L684.3 791.8L686.3 791.8L688.3 791.7L690.3 791.7L692.3 791.7L694.3 791.7L696.2 791.7L698.2 791.7L700.2 791.7L702.2 791.7L704.2 791.6L706.2 791.6L708.2 791.6L710.2 791.6L712.2 791.6L714.2 791.6L716.2 791.5L718.2 791.5L720.2 791.5L722.2 791.5L724.2 791.5L726.2 791.4L728.2 791.4L730.1 791.4L732.1 791.4L734.1 791.4L736.1 791.3L738.1 791.3L740.1 791.3L742.1 791.3L744.1 791.3L746.1 791.2L748.1 791.2L750.1 791.2L752.1 791.2L754.1 791.1L756.1 791.1L758.1 791.1L760.1 791.0L762.1 790.9L764.0 790.9L766.0 790.8L768.0 790.7L770.0 790.6L772.0 790.5L774.0 790.3L776.0 790.2L778.0 790.1L780.0 790.0L782.0 789.9L784.0 789.8L786.0 789.7L788.0 789.6L790.0 789.5L792.0 789.4L794.0 789.3L796.0 789.3L797.9 789.2L799.9 789.1L801.9 789.1L803.9 789.0L805.9 788.9L807.9 788.9L809.9 788.8L811.9 788.8L813.9 788.7L815.9 788.7L817.9 788.6L819.9 788.6L821.9 788.5L823.9 788.5L825.9 788.5L827.9 788.5L829.9 788.4L831.8 788.4L833.8 788.4L835.8 788.4L837.8 788.4L839.8 788.4L841.8 788.4L843.8 788.4L845.8 788.4L847.8 788.4L849.8 788.4L851.8 788.4L853.8 788.4L855.8 788.4L857.8 788.3L859.8 788.3L861.8 788.3L863.8 788.3L865.7 788.3L867.7 788.3L869.7 788.3L871.7 788.3L873.7 788.3L875.7 788.3L877.7 788.3L879.7 788.3L881.7 788.3L883.7 788.3L885.7 788.3L887.7 788.3L889.7 788.3L891.7 788.3L893.7 788.3L895.7 788.3L897.7 788.3L899.6 788.3L901.6 788.3L903.6 788.3L905.6 788.3L907.6 788.3L909.6 788.3L911.6 788.3L913.6 788.3L915.6 788.3L917.6 788.3L919.6 788.3L921.6 788.3L923.6 788.3L925.6 788.3L927.6 788.3L929.6 788.3L931.6 788.3L933.6 788.3L935.5 788.3L937.5 788.3L939.5 788.3L941.5 788.3L943.5 788.3L945.5 788.3L947.5 788.3L949.5 788.3L951.5 788.3L953.5 788.3L955.5 788.3L957.5 788.3L959.5 788.3L961.5 788.3L963.5 788.3L965.5 788.3L967.5 788.3L969.4 788.3L971.4 788.3L973.4 788.3L975.4 788.4L977.4 788.4L979.4 788.4L981.4 788.4L983.4 788.4L985.4 788.4L987.4 788.4L989.4 788.4L991.4 788.4L993.4 788.4L995.4 788.4L997.4 788.4L999.4 788.4L1001.4 788.4L1003.3 788.4L1005.3 788.4L1007.3 788.4L1009.3 788.4L1011.3 788.4L1013.3 788.4L1015.3 788.4L1017.3 788.4L1019.3 788.4L1021.3 788.4L1023.3 788.4L1025.3 788.4L1027.3 788.4L1029.3 788.4L1031.3 788.4L1033.3 788.4L1035.3 788.4L1037.2 788.4L1039.2 788.4L1041.2 788.4L1043.2 788.4L1045.2 788.4L1047.2 788.4L1049.2 788.4L1051.2 788.4L1053.2 788.4" fill="none" stroke="#b0ae8e" stroke-width="6.8" stroke-linejoin="round" stroke-linecap="butt" opacity="0.85"/>
<path d="M96.0 764.8L98.0 765.5L100.0 766.2L102.0 767.0L104.0 767.7L106.0 768.4L108.0 769.1L110.0 769.7L112.0 770.2L113.9 770.5L115.9 770.8L117.9 771.1L119.9 771.3L121.9 771.5L123.9 771.6L125.9 771.7L127.9 771.8L129.9 771.9L131.9 772.0L133.9 772.0L135.9 772.1L137.9 772.2L139.9 772.2L141.9 772.2L143.9 772.2L145.9 772.2L147.8 772.2L149.8 772.2L151.8 772.1L153.8 772.1L155.8 772.0L157.8 772.0L159.8 771.9L161.8 771.8L163.8 771.7L165.8 771.6L167.8 771.5L169.8 771.4L171.8 771.3L173.8 771.2L175.8 771.2L177.8 771.1L179.8 771.1L181.7 771.1L183.7 771.1L185.7 771.1L187.7 771.1L189.7 771.1L191.7 771.1L193.7 771.1L195.7 771.1L197.7 771.1L199.7 771.1L201.7 771.2L203.7 771.2L205.7 771.3L207.7 771.3L209.7 771.4L211.7 771.5L213.7 771.5L215.6 771.6L217.6 771.6L219.6 771.6L221.6 771.6L223.6 771.5L225.6 771.5L227.6 771.4L229.6 771.3L231.6 771.2L233.6 771.1L235.6 771.0L237.6 770.9L239.6 770.8L241.6 770.7L243.6 770.6L245.6 770.6L247.6 770.5L249.6 770.5L251.5 770.4L253.5 770.3L255.5 770.3L257.5 770.3L259.5 770.2L261.5 770.2L263.5 770.2L265.5 770.2L267.5 770.3L269.5 770.3L271.5 770.4L273.5 770.5L275.5 770.6L277.5 770.7L279.5 770.8L281.5 770.9L283.5 771.0L285.4 771.1L287.4 771.2L289.4 771.4L291.4 771.5L293.4 771.6L295.4 771.8L297.4 771.9L299.4 772.1L301.4 772.3L303.4 772.5L305.4 772.7L307.4 772.9L309.4 773.2L311.4 773.4L313.4 773.7L315.4 774.0L317.4 774.3L319.3 774.6L321.3 775.0L323.3 775.3L325.3 775.7L327.3 776.2L329.3 776.6L331.3 777.1L333.3 777.6L335.3 778.2L337.3 778.8L339.3 779.4L341.3 780.0L343.3 780.7L345.3 781.3L347.3 781.9L349.3 782.4L351.3 783.0L353.2 783.4L355.2 783.9L357.2 784.2L359.2 784.6L361.2 785.0L363.2 785.3L365.2 785.7L367.2 786.1L369.2 786.5L371.2 787.1L373.2 787.6L375.2 788.3L377.2 789.1L379.2 790.2L381.2 791.4L383.2 792.9L385.2 794.6L387.1 796.4L389.1 798.2L391.1 800.2L393.1 802.1L395.1 804.1L397.1 806.1L399.1 808.0L401.1 809.8L403.1 811.7L405.1 813.7L407.1 815.6L409.1 817.5L411.1 819.4L413.1 821.2L415.1 823.0L417.1 824.8L419.1 826.5L421.0 828.2L423.0 829.8L425.0 831.4L427.0 833.0L429.0 834.6L431.0 836.2L433.0 837.8L435.0 839.3L437.0 840.9L439.0 842.5L441.0 844.1L443.0 845.8L445.0 847.4L447.0 849.0L449.0 850.7L451.0 852.3L453.0 853.9L454.9 855.5L456.9 857.1L458.9 858.6L460.9 860.1L462.9 861.5L464.9 863.0L466.9 864.4L468.9 865.8L470.9 867.1L472.9 868.5L474.9 869.8L476.9 871.1L478.9 872.4L480.9 873.7L482.9 875.0L484.9 876.3L486.9 877.5L488.9 878.7L490.8 879.9L492.8 881.1L494.8 882.3L496.8 883.5L498.8 884.7L500.8 885.9L502.8 887.2L504.8 888.5L506.8 889.9L508.8 891.3L510.8 892.7L512.8 894.2L514.8 895.7L516.8 897.2L518.8 898.6L520.8 900.0L522.8 901.4L524.7 902.7L526.7 903.9L528.7 905.1L530.7 906.2L532.7 907.3L534.7 908.4L536.7 909.4L538.7 910.4L540.7 911.3L542.7 912.2L544.7 913.1L546.7 913.9L548.7 914.6L550.7 915.3L552.7 916.0L554.7 916.7L556.7 917.3L558.6 917.8L560.6 918.3L562.6 918.8L564.6 919.1L566.6 919.5L568.6 919.7L570.6 919.9L572.6 920.0L574.6 920.0L576.6 920.0L578.6 920.0L580.6 919.8L582.6 919.7L584.6 919.4L586.6 919.2L588.6 918.9L590.6 918.6L592.5 918.2L594.5 917.8L596.5 917.3L598.5 916.8L600.5 916.2L602.5 915.7L604.5 915.0L606.5 914.4L608.5 913.7L610.5 912.9L612.5 912.2L614.5 911.4L616.5 910.6L618.5 909.8L620.5 908.9L622.5 908.0L624.5 907.1L626.4 906.2L628.4 905.2L630.4 904.2L632.4 903.3L634.4 902.3L636.4 901.2L638.4 900.2L640.4 899.2L642.4 898.1L644.4 897.0L646.4 895.9L648.4 894.8L650.4 893.7L652.4 892.5L654.4 891.4L656.4 890.2L658.4 889.1L660.3 887.9L662.3 886.8L664.3 885.6L666.3 884.4L668.3 883.2L670.3 882.0L672.3 880.8L674.3 879.6L676.3 878.3L678.3 877.1L680.3 875.8L682.3 874.5L684.3 873.2L686.3 871.8L688.3 870.5L690.3 869.1L692.3 867.8L694.3 866.4L696.2 865.0L698.2 863.5L700.2 862.1L702.2 860.6L704.2 859.0L706.2 857.5L708.2 855.9L710.2 854.4L712.2 852.8L714.2 851.1L716.2 849.5L718.2 847.8L720.2 846.1L722.2 844.4L724.2 842.7L726.2 840.9L728.2 839.1L730.1 837.2L732.1 835.3L734.1 833.5L736.1 831.6L738.1 829.8L740.1 827.9L742.1 826.2L744.1 824.4L746.1 822.7L748.1 821.1L750.1 819.4L752.1 817.8L754.1 816.2L756.1 814.6L758.1 813.0L760.1 811.4L762.1 809.9L764.0 808.4L766.0 806.9L768.0 805.5L770.0 804.1L772.0 802.7L774.0 801.3L776.0 800.0L778.0 798.6L780.0 797.3L782.0 795.9L784.0 794.5L786.0 793.1L788.0 791.7L790.0 790.1L792.0 788.5L794.0 786.8L796.0 785.1L797.9 783.4L799.9 781.8L801.9 780.3L803.9 778.9L805.9 777.7L807.9 776.7L809.9 775.8L811.9 775.1L813.9 774.5L815.9 774.0L817.9 773.6L819.9 773.2L821.9 772.9L823.9 772.6L825.9 772.2L827.9 771.8L829.9 771.4L831.8 771.0L833.8 770.6L835.8 770.3L837.8 769.9L839.8 769.5L841.8 769.2L843.8 768.8L845.8 768.5L847.8 768.1L849.8 767.7L851.8 767.2L853.8 766.8L855.8 766.2L857.8 765.7L859.8 765.2L861.8 764.6L863.8 764.1L865.7 763.6L867.7 763.1L869.7 762.6L871.7 762.2L873.7 761.8L875.7 761.5L877.7 761.2L879.7 760.9L881.7 760.6L883.7 760.4L885.7 760.1L887.7 759.9L889.7 759.7L891.7 759.5L893.7 759.4L895.7 759.2L897.7 759.0L899.6 758.9L901.6 758.8L903.6 758.7L905.6 758.6L907.6 758.5L909.6 758.5L911.6 758.4L913.6 758.4L915.6 758.4L917.6 758.4L919.6 758.5L921.6 758.5L923.6 758.6L925.6 758.7L927.6 758.8L929.6 758.9L931.6 759.0L933.6 759.1L935.5 759.2L937.5 759.3L939.5 759.4L941.5 759.5L943.5 759.6L945.5 759.7L947.5 759.8L949.5 760.0L951.5 760.1L953.5 760.2L955.5 760.4L957.5 760.5L959.5 760.7L961.5 760.9L963.5 761.1L965.5 761.3L967.5 761.5L969.4 761.7L971.4 762.0L973.4 762.2L975.4 762.4L977.4 762.6L979.4 762.8L981.4 763.0L983.4 763.1L985.4 763.2L987.4 763.3L989.4 763.4L991.4 763.4L993.4 763.5L995.4 763.6L997.4 763.6L999.4 763.7L1001.4 763.8L1003.3 763.9L1005.3 764.0L1007.3 764.2L1009.3 764.3L1011.3 764.5L1013.3 764.6L1015.3 764.8L1017.3 764.9L1019.3 765.1L1021.3 765.2L1023.3 765.2L1025.3 765.2L1027.3 765.2L1029.3 765.2L1031.3 765.1L1033.3 765.0L1035.3 764.9L1037.2 764.8L1039.2 764.7L1041.2 764.6L1043.2 764.5L1045.2 764.3L1047.2 764.2L1049.2 764.1L1051.2 764.0L1053.2 763.9" fill="none" stroke="#8fcaae" stroke-width="6.8" stroke-linejoin="round" stroke-linecap="butt" opacity="0.85"/>
<path d="M96.0 742.0L98.0 742.1L100.0 742.2L102.0 742.2L104.0 742.3L106.0 742.4L108.0 742.4L110.0 742.5L112.0 742.5L113.9 742.6L115.9 742.6L117.9 742.7L119.9 742.7L121.9 742.8L123.9 742.8L125.9 742.9L127.9 743.0L129.9 743.0L131.9 743.1L133.9 743.2L135.9 743.3L137.9 743.4L139.9 743.5L141.9 743.7L143.9 743.8L145.9 744.0L147.8 744.2L149.8 744.5L151.8 744.9L153.8 745.2L155.8 745.7L157.8 746.1L159.8 746.4L161.8 746.8L163.8 747.1L165.8 747.4L167.8 747.6L169.8 747.8L171.8 748.0L173.8 748.1L175.8 748.2L177.8 748.3L179.8 748.4L181.7 748.4L183.7 748.5L185.7 748.5L187.7 748.4L189.7 748.4L191.7 748.3L193.7 748.2L195.7 748.1L197.7 747.9L199.7 747.8L201.7 747.6L203.7 747.4L205.7 747.3L207.7 747.1L209.7 746.9L211.7 746.8L213.7 746.6L215.6 746.5L217.6 746.3L219.6 746.2L221.6 746.1L223.6 746.0L225.6 745.9L227.6 745.8L229.6 745.7L231.6 745.7L233.6 745.6L235.6 745.5L237.6 745.5L239.6 745.4L241.6 745.4L243.6 745.3L245.6 745.3L247.6 745.3L249.6 745.2L251.5 745.2L253.5 745.2L255.5 745.2L257.5 745.2L259.5 745.2L261.5 745.2L263.5 745.2L265.5 745.2L267.5 745.2L269.5 745.2L271.5 745.2L273.5 745.3L275.5 745.4L277.5 745.4L279.5 745.6L281.5 745.7L283.5 745.9L285.4 746.1L287.4 746.3L289.4 746.7L291.4 747.0L293.4 747.5L295.4 747.9L297.4 748.5L299.4 749.0L301.4 749.6L303.4 750.2L305.4 750.8L307.4 751.5L309.4 752.1L311.4 752.8L313.4 753.5L315.4 754.2L317.4 755.0L319.3 755.8L321.3 756.6L323.3 757.4L325.3 758.3L327.3 759.3L329.3 760.2L331.3 761.3L333.3 762.3L335.3 763.4L337.3 764.6L339.3 765.8L341.3 767.0L343.3 768.2L345.3 769.5L347.3 770.8L349.3 772.1L351.3 773.4L353.2 774.8L355.2 776.2L357.2 777.6L359.2 779.1L361.2 780.6L363.2 782.1L365.2 783.6L367.2 785.1L369.2 786.6L371.2 788.1L373.2 789.6L375.2 791.1L377.2 792.6L379.2 794.1L381.2 795.6L383.2 797.3L385.2 799.0L387.1 800.7L389.1 802.5L391.1 804.3L393.1 806.1L395.1 807.9L397.1 809.7L399.1 811.4L401.1 813.0L403.1 814.7L405.1 816.2L407.1 817.8L409.1 819.3L411.1 820.9L413.1 822.4L415.1 824.0L417.1 825.6L419.1 827.3L421.0 829.0L423.0 830.7L425.0 832.5L427.0 834.3L429.0 836.1L431.0 838.0L433.0 840.0L435.0 842.0L437.0 844.2L439.0 846.6L441.0 849.1L443.0 851.8L445.0 854.6L447.0 857.5L449.0 860.4L451.0 863.4L453.0 866.3L454.9 869.3L456.9 872.2L458.9 874.9L460.9 877.6L462.9 880.2L464.9 882.7L466.9 885.2L468.9 887.6L470.9 890.1L472.9 892.4L474.9 894.8L476.9 897.1L478.9 899.4L480.9 901.6L482.9 903.9L484.9 906.0L486.9 908.2L488.9 910.3L490.8 912.3L492.8 914.4L494.8 916.3L496.8 918.3L498.8 920.3L500.8 922.2L502.8 924.1L504.8 926.0L506.8 927.9L508.8 929.7L510.8 931.6L512.8 933.4L514.8 935.1L516.8 936.9L518.8 938.7L520.8 940.4L522.8 942.1L524.7 943.8L526.7 945.5L528.7 947.1L530.7 948.8L532.7 950.5L534.7 952.2L536.7 953.8L538.7 955.4L540.7 956.9L542.7 958.4L544.7 959.9L546.7 961.3L548.7 962.6L550.7 963.8L552.7 965.0L554.7 966.2L556.7 967.3L558.6 968.3L560.6 969.3L562.6 970.3L564.6 971.1L566.6 971.9L568.6 972.7L570.6 973.4L572.6 974.0L574.6 974.6L576.6 975.1L578.6 975.6L580.6 976.0L582.6 976.3L584.6 976.6L586.6 976.8L588.6 977.0L590.6 977.1L592.5 977.0L594.5 977.0L596.5 976.8L598.5 976.6L600.5 976.2L602.5 975.9L604.5 975.4L606.5 974.9L608.5 974.4L610.5 973.8L612.5 973.1L614.5 972.4L616.5 971.7L618.5 970.9L620.5 970.0L622.5 969.2L624.5 968.2L626.4 967.2L628.4 966.1L630.4 964.9L632.4 963.7L634.4 962.3L636.4 960.9L638.4 959.3L640.4 957.7L642.4 955.9L644.4 954.1L646.4 952.2L648.4 950.3L650.4 948.3L652.4 946.4L654.4 944.4L656.4 942.5L658.4 940.6L660.3 938.7L662.3 936.7L664.3 934.7L666.3 932.7L668.3 930.7L670.3 928.7L672.3 926.7L674.3 924.7L676.3 922.7L678.3 920.7L680.3 918.7L682.3 916.8L684.3 914.8L686.3 912.9L688.3 910.9L690.3 909.0L692.3 907.0L694.3 905.0L696.2 903.0L698.2 901.0L700.2 898.9L702.2 896.8L704.2 894.6L706.2 892.4L708.2 890.2L710.2 888.0L712.2 885.7L714.2 883.5L716.2 881.2L718.2 878.9L720.2 876.6L722.2 874.3L724.2 872.0L726.2 869.7L728.2 867.4L730.1 865.0L732.1 862.7L734.1 860.3L736.1 857.9L738.1 855.5L740.1 853.2L742.1 850.8L744.1 848.4L746.1 846.0L748.1 843.7L750.1 841.4L752.1 839.0L754.1 836.7L756.1 834.3L758.1 831.9L760.1 829.5L762.1 827.0L764.0 824.5L766.0 821.9L768.0 819.3L770.0 816.6L772.0 813.9L774.0 811.1L776.0 808.3L778.0 805.5L780.0 802.7L782.0 799.9L784.0 797.0L786.0 794.2L788.0 791.4L790.0 788.5L792.0 785.5L794.0 782.4L796.0 779.4L797.9 776.3L799.9 773.4L801.9 770.5L803.9 767.8L805.9 765.3L807.9 763.0L809.9 760.8L811.9 758.7L813.9 756.8L815.9 755.0L817.9 753.2L819.9 751.6L821.9 749.9L823.9 748.3L825.9 746.8L827.9 745.2L829.9 743.7L831.8 742.2L833.8 740.8L835.8 739.4L837.8 738.0L839.8 736.7L841.8 735.4L843.8 734.2L845.8 733.0L847.8 731.8L849.8 730.7L851.8 729.6L853.8 728.5L855.8 727.4L857.8 726.4L859.8 725.4L861.8 724.5L863.8 723.6L865.7 722.8L867.7 721.9L869.7 721.2L871.7 720.5L873.7 719.9L875.7 719.3L877.7 718.7L879.7 718.3L881.7 717.8L883.7 717.4L885.7 717.1L887.7 716.8L889.7 716.6L891.7 716.3L893.7 716.2L895.7 716.0L897.7 716.0L899.6 716.0L901.6 716.0L903.6 716.1L905.6 716.2L907.6 716.4L909.6 716.5L911.6 716.7L913.6 716.9L915.6 717.0L917.6 717.2L919.6 717.3L921.6 717.5L923.6 717.7L925.6 717.9L927.6 718.1L929.6 718.3L931.6 718.5L933.6 718.8L935.5 719.0L937.5 719.3L939.5 719.5L941.5 719.8L943.5 720.0L945.5 720.3L947.5 720.6L949.5 720.9L951.5 721.2L953.5 721.5L955.5 721.8L957.5 722.2L959.5 722.5L961.5 722.9L963.5 723.3L965.5 723.7L967.5 724.2L969.4 724.6L971.4 725.1L973.4 725.5L975.4 725.9L977.4 726.3L979.4 726.7L981.4 727.0L983.4 727.3L985.4 727.6L987.4 727.9L989.4 728.1L991.4 728.3L993.4 728.5L995.4 728.6L997.4 728.8L999.4 729.0L1001.4 729.2L1003.3 729.4L1005.3 729.5L1007.3 729.7L1009.3 729.8L1011.3 729.9L1013.3 730.1L1015.3 730.2L1017.3 730.3L1019.3 730.5L1021.3 730.7L1023.3 730.9L1025.3 731.2L1027.3 731.5L1029.3 731.8L1031.3 732.2L1033.3 732.6L1035.3 733.1L1037.2 733.5L1039.2 734.0L1041.2 734.6L1043.2 735.1L1045.2 735.8L1047.2 736.5L1049.2 737.3L1051.2 738.1L1053.2 738.9" fill="none" stroke="#6e6ef2" stroke-width="6.8" stroke-linejoin="round" stroke-linecap="butt" opacity="0.85"/>
<path d="M100.6 788.6a3.4 3.4 0 1 0 6.8 0a3.4 3.4 0 1 0 -6.8 0M108.6 788.6a3.4 3.4 0 1 0 6.8 0a3.4 3.4 0 1 0 -6.8 0M116.5 788.3a3.4 3.4 0 1 0 6.8 0a3.4 3.4 0 1 0 -6.8 0M124.5 788.8a3.4 3.4 0 1 0 6.8 0a3.4 3.4 0 1 0 -6.8 0M132.5 788.4a3.4 3.4 0 1 0 6.8 0a3.4 3.4 0 1 0 -6.8 0M140.5 788.8a3.4 3.4 0 1 0 6.8 0a3.4 3.4 0 1 0 -6.8 0M156.4 788.1a3.4 3.4 0 1 0 6.8 0a3.4 3.4 0 1 0 -6.8 0M164.4 788.3a3.4 3.4 0 1 0 6.8 0a3.4 3.4 0 1 0 -6.8 0M172.4 788.1a3.4 3.4 0 1 0 6.8 0a3.4 3.4 0 1 0 -6.8 0M180.3 788.4a3.4 3.4 0 1 0 6.8 0a3.4 3.4 0 1 0 -6.8 0M196.3 788.2a3.4 3.4 0 1 0 6.8 0a3.4 3.4 0 1 0 -6.8 0M204.3 788.3a3.4 3.4 0 1 0 6.8 0a3.4 3.4 0 1 0 -6.8 0M212.3 788.4a3.4 3.4 0 1 0 6.8 0a3.4 3.4 0 1 0 -6.8 0M220.2 788.2a3.4 3.4 0 1 0 6.8 0a3.4 3.4 0 1 0 -6.8 0M236.2 788.5a3.4 3.4 0 1 0 6.8 0a3.4 3.4 0 1 0 -6.8 0M244.2 788.3a3.4 3.4 0 1 0 6.8 0a3.4 3.4 0 1 0 -6.8 0M252.1 788.1a3.4 3.4 0 1 0 6.8 0a3.4 3.4 0 1 0 -6.8 0M260.1 788.2a3.4 3.4 0 1 0 6.8 0a3.4 3.4 0 1 0 -6.8 0M276.1 788.4a3.4 3.4 0 1 0 6.8 0a3.4 3.4 0 1 0 -6.8 0M284.0 787.9a3.4 3.4 0 1 0 6.8 0a3.4 3.4 0 1 0 -6.8 0M300.0 788.3a3.4 3.4 0 1 0 6.8 0a3.4 3.4 0 1 0 -6.8 0M315.9 788.6a3.4 3.4 0 1 0 6.8 0a3.4 3.4 0 1 0 -6.8 0M323.9 788.6a3.4 3.4 0 1 0 6.8 0a3.4 3.4 0 1 0 -6.8 0M339.9 789.4a3.4 3.4 0 1 0 6.8 0a3.4 3.4 0 1 0 -6.8 0M355.8 790.0a3.4 3.4 0 1 0 6.8 0a3.4 3.4 0 1 0 -6.8 0M363.8 790.3a3.4 3.4 0 1 0 6.8 0a3.4 3.4 0 1 0 -6.8 0M379.8 790.5a3.4 3.4 0 1 0 6.8 0a3.4 3.4 0 1 0 -6.8 0M395.7 793.9a3.4 3.4 0 1 0 6.8 0a3.4 3.4 0 1 0 -6.8 0M403.7 794.0a3.4 3.4 0 1 0 6.8 0a3.4 3.4 0 1 0 -6.8 0M419.6 794.0a3.4 3.4 0 1 0 6.8 0a3.4 3.4 0 1 0 -6.8 0M435.6 793.9a3.4 3.4 0 1 0 6.8 0a3.4 3.4 0 1 0 -6.8 0M443.6 794.4a3.4 3.4 0 1 0 6.8 0a3.4 3.4 0 1 0 -6.8 0M459.5 794.5a3.4 3.4 0 1 0 6.8 0a3.4 3.4 0 1 0 -6.8 0M475.5 794.1a3.4 3.4 0 1 0 6.8 0a3.4 3.4 0 1 0 -6.8 0M483.5 794.8a3.4 3.4 0 1 0 6.8 0a3.4 3.4 0 1 0 -6.8 0M499.4 794.7a3.4 3.4 0 1 0 6.8 0a3.4 3.4 0 1 0 -6.8 0M515.4 794.6a3.4 3.4 0 1 0 6.8 0a3.4 3.4 0 1 0 -6.8 0M523.3 794.3a3.4 3.4 0 1 0 6.8 0a3.4 3.4 0 1 0 -6.8 0M539.3 794.9a3.4 3.4 0 1 0 6.8 0a3.4 3.4 0 1 0 -6.8 0M555.2 795.2a3.4 3.4 0 1 0 6.8 0a3.4 3.4 0 1 0 -6.8 0M563.2 794.7a3.4 3.4 0 1 0 6.8 0a3.4 3.4 0 1 0 -6.8 0M579.2 794.9a3.4 3.4 0 1 0 6.8 0a3.4 3.4 0 1 0 -6.8 0M595.1 794.8a3.4 3.4 0 1 0 6.8 0a3.4 3.4 0 1 0 -6.8 0M603.1 794.7a3.4 3.4 0 1 0 6.8 0a3.4 3.4 0 1 0 -6.8 0M619.1 794.7a3.4 3.4 0 1 0 6.8 0a3.4 3.4 0 1 0 -6.8 0M635.0 794.6a3.4 3.4 0 1 0 6.8 0a3.4 3.4 0 1 0 -6.8 0M643.0 794.8a3.4 3.4 0 1 0 6.8 0a3.4 3.4 0 1 0 -6.8 0M658.9 794.4a3.4 3.4 0 1 0 6.8 0a3.4 3.4 0 1 0 -6.8 0M674.9 794.3a3.4 3.4 0 1 0 6.8 0a3.4 3.4 0 1 0 -6.8 0M682.9 794.5a3.4 3.4 0 1 0 6.8 0a3.4 3.4 0 1 0 -6.8 0M698.8 794.5a3.4 3.4 0 1 0 6.8 0a3.4 3.4 0 1 0 -6.8 0M714.8 794.1a3.4 3.4 0 1 0 6.8 0a3.4 3.4 0 1 0 -6.8 0M722.8 794.1a3.4 3.4 0 1 0 6.8 0a3.4 3.4 0 1 0 -6.8 0M738.7 794.2a3.4 3.4 0 1 0 6.8 0a3.4 3.4 0 1 0 -6.8 0M754.7 791.1a3.4 3.4 0 1 0 6.8 0a3.4 3.4 0 1 0 -6.8 0M762.6 790.6a3.4 3.4 0 1 0 6.8 0a3.4 3.4 0 1 0 -6.8 0M778.6 789.9a3.4 3.4 0 1 0 6.8 0a3.4 3.4 0 1 0 -6.8 0M794.5 789.2a3.4 3.4 0 1 0 6.8 0a3.4 3.4 0 1 0 -6.8 0M802.5 788.9a3.4 3.4 0 1 0 6.8 0a3.4 3.4 0 1 0 -6.8 0M818.5 788.6a3.4 3.4 0 1 0 6.8 0a3.4 3.4 0 1 0 -6.8 0M834.4 788.4a3.4 3.4 0 1 0 6.8 0a3.4 3.4 0 1 0 -6.8 0M842.4 788.7a3.4 3.4 0 1 0 6.8 0a3.4 3.4 0 1 0 -6.8 0M850.4 788.0a3.4 3.4 0 1 0 6.8 0a3.4 3.4 0 1 0 -6.8 0M858.4 788.3a3.4 3.4 0 1 0 6.8 0a3.4 3.4 0 1 0 -6.8 0M874.3 788.5a3.4 3.4 0 1 0 6.8 0a3.4 3.4 0 1 0 -6.8 0M882.3 788.1a3.4 3.4 0 1 0 6.8 0a3.4 3.4 0 1 0 -6.8 0M890.3 788.2a3.4 3.4 0 1 0 6.8 0a3.4 3.4 0 1 0 -6.8 0M898.2 788.3a3.4 3.4 0 1 0 6.8 0a3.4 3.4 0 1 0 -6.8 0M914.2 788.1a3.4 3.4 0 1 0 6.8 0a3.4 3.4 0 1 0 -6.8 0M922.2 787.9a3.4 3.4 0 1 0 6.8 0a3.4 3.4 0 1 0 -6.8 0M930.2 788.2a3.4 3.4 0 1 0 6.8 0a3.4 3.4 0 1 0 -6.8 0M938.1 788.0a3.4 3.4 0 1 0 6.8 0a3.4 3.4 0 1 0 -6.8 0M954.1 787.9a3.4 3.4 0 1 0 6.8 0a3.4 3.4 0 1 0 -6.8 0M962.1 788.5a3.4 3.4 0 1 0 6.8 0a3.4 3.4 0 1 0 -6.8 0M970.0 788.4a3.4 3.4 0 1 0 6.8 0a3.4 3.4 0 1 0 -6.8 0M978.0 788.2a3.4 3.4 0 1 0 6.8 0a3.4 3.4 0 1 0 -6.8 0M994.0 788.7a3.4 3.4 0 1 0 6.8 0a3.4 3.4 0 1 0 -6.8 0M1001.9 788.4a3.4 3.4 0 1 0 6.8 0a3.4 3.4 0 1 0 -6.8 0M1009.9 788.2a3.4 3.4 0 1 0 6.8 0a3.4 3.4 0 1 0 -6.8 0M1017.9 788.2a3.4 3.4 0 1 0 6.8 0a3.4 3.4 0 1 0 -6.8 0M1049.8 788.3a3.4 3.4 0 1 0 6.8 0a3.4 3.4 0 1 0 -6.8 0" fill="#c3c32a"/>
<path d="M383.2 792.6V801.6M380.2 792.6h6M380.2 801.6h6M399.1 804.4V813.4M396.1 804.4h6M396.1 813.4h6M406.7 811.6V820.6M403.7 811.6h6M403.7 820.6h6M423.0 825.7V834.7M420.0 825.7h6M420.0 834.7h6M439.0 833.5V842.5M436.0 833.5h6M436.0 842.5h6M447.0 845.7V854.7M444.0 845.7h6M444.0 854.7h6M463.3 849.4V868.4M460.3 849.4h6M460.3 868.4h6M478.9 858.9V877.9M475.9 858.9h6M475.9 877.9h6M487.3 867.6V886.6M484.3 867.6h6M484.3 886.6h6M502.8 877.6V896.6M499.8 877.6h6M499.8 896.6h6M526.7 888.5V907.5M523.7 888.5h6M523.7 907.5h6M542.7 901.6V920.6M539.7 901.6h6M539.7 920.6h6M542.7 911.2V930.2M539.7 911.2h6M539.7 930.2h6M550.7 912.6V931.6M547.7 912.6h6M547.7 931.6h6M558.6 916.6V935.6M555.6 916.6h6M555.6 935.6h6M566.6 908.0V927.0M563.6 908.0h6M563.6 927.0h6M583.0 913.5V932.5M580.0 913.5h6M580.0 932.5h6M598.5 902.6V921.6M595.5 902.6h6M595.5 921.6h6M606.5 899.8V918.8M603.5 899.8h6M603.5 918.8h6M622.5 890.7V909.7M619.5 890.7h6M619.5 909.7h6M630.4 886.2V905.2M627.4 886.2h6M627.4 905.2h6M638.4 886.2V905.2M635.4 886.2h6M635.4 905.2h6M638.4 899.4V918.4M635.4 899.4h6M635.4 918.4h6M646.4 883.9V902.9M643.4 883.9h6M643.4 902.9h6M646.4 894.8V913.8M643.4 894.8h6M643.4 913.8h6M662.3 876.6V895.6M659.3 876.6h6M659.3 895.6h6M662.3 885.3V904.3M659.3 885.3h6M659.3 904.3h6M670.3 872.1V891.1M667.3 872.1h6M667.3 891.1h6M678.3 872.6V881.6M675.3 872.6h6M675.3 881.6h6M686.3 865.3V874.3M683.3 865.3h6M683.3 874.3h6M702.2 856.6V865.6M699.2 856.6h6M699.2 865.6h6M718.2 840.3V849.3M715.2 840.3h6M715.2 849.3h6M726.2 834.8V843.8M723.2 834.8h6M723.2 843.8h6M742.1 818.5V827.5M739.1 818.5h6M739.1 827.5h6M758.1 805.3V814.3M755.1 805.3h6M755.1 814.3h6M766.0 798.9V807.9M763.0 798.9h6M763.0 807.9h6M782.0 789.8V798.8M779.0 789.8h6M779.0 798.8h6" stroke="#2f9768" stroke-width="1.8" fill="none"/><path d="M100.6 763.4a3.4 3.4 0 1 0 6.8 0a3.4 3.4 0 1 0 -6.8 0M108.6 771.1a3.4 3.4 0 1 0 6.8 0a3.4 3.4 0 1 0 -6.8 0M116.5 774.3a3.4 3.4 0 1 0 6.8 0a3.4 3.4 0 1 0 -6.8 0M124.5 777.5a3.4 3.4 0 1 0 6.8 0a3.4 3.4 0 1 0 -6.8 0M132.5 776.6a3.4 3.4 0 1 0 6.8 0a3.4 3.4 0 1 0 -6.8 0M140.5 774.8a3.4 3.4 0 1 0 6.8 0a3.4 3.4 0 1 0 -6.8 0M156.4 762.5a3.4 3.4 0 1 0 6.8 0a3.4 3.4 0 1 0 -6.8 0M164.4 768.4a3.4 3.4 0 1 0 6.8 0a3.4 3.4 0 1 0 -6.8 0M172.4 761.1a3.4 3.4 0 1 0 6.8 0a3.4 3.4 0 1 0 -6.8 0M180.3 769.3a3.4 3.4 0 1 0 6.8 0a3.4 3.4 0 1 0 -6.8 0M196.3 773.4a3.4 3.4 0 1 0 6.8 0a3.4 3.4 0 1 0 -6.8 0M204.3 768.9a3.4 3.4 0 1 0 6.8 0a3.4 3.4 0 1 0 -6.8 0M212.3 768.9a3.4 3.4 0 1 0 6.8 0a3.4 3.4 0 1 0 -6.8 0M220.2 774.8a3.4 3.4 0 1 0 6.8 0a3.4 3.4 0 1 0 -6.8 0M236.2 773.9a3.4 3.4 0 1 0 6.8 0a3.4 3.4 0 1 0 -6.8 0M244.2 772.0a3.4 3.4 0 1 0 6.8 0a3.4 3.4 0 1 0 -6.8 0M252.1 766.1a3.4 3.4 0 1 0 6.8 0a3.4 3.4 0 1 0 -6.8 0M260.1 768.9a3.4 3.4 0 1 0 6.8 0a3.4 3.4 0 1 0 -6.8 0M276.1 777.0a3.4 3.4 0 1 0 6.8 0a3.4 3.4 0 1 0 -6.8 0M284.0 774.3a3.4 3.4 0 1 0 6.8 0a3.4 3.4 0 1 0 -6.8 0M300.0 772.0a3.4 3.4 0 1 0 6.8 0a3.4 3.4 0 1 0 -6.8 0M315.9 773.4a3.4 3.4 0 1 0 6.8 0a3.4 3.4 0 1 0 -6.8 0M323.9 770.2a3.4 3.4 0 1 0 6.8 0a3.4 3.4 0 1 0 -6.8 0M339.9 777.5a3.4 3.4 0 1 0 6.8 0a3.4 3.4 0 1 0 -6.8 0M355.8 778.9a3.4 3.4 0 1 0 6.8 0a3.4 3.4 0 1 0 -6.8 0M363.8 783.0a3.4 3.4 0 1 0 6.8 0a3.4 3.4 0 1 0 -6.8 0M379.8 797.1a3.4 3.4 0 1 0 6.8 0a3.4 3.4 0 1 0 -6.8 0M395.7 808.9a3.4 3.4 0 1 0 6.8 0a3.4 3.4 0 1 0 -6.8 0M403.3 816.1a3.4 3.4 0 1 0 6.8 0a3.4 3.4 0 1 0 -6.8 0M419.6 830.2a3.4 3.4 0 1 0 6.8 0a3.4 3.4 0 1 0 -6.8 0M435.6 838.0a3.4 3.4 0 1 0 6.8 0a3.4 3.4 0 1 0 -6.8 0M443.6 850.2a3.4 3.4 0 1 0 6.8 0a3.4 3.4 0 1 0 -6.8 0M459.9 858.9a3.4 3.4 0 1 0 6.8 0a3.4 3.4 0 1 0 -6.8 0M475.5 868.4a3.4 3.4 0 1 0 6.8 0a3.4 3.4 0 1 0 -6.8 0M483.9 877.1a3.4 3.4 0 1 0 6.8 0a3.4 3.4 0 1 0 -6.8 0M499.4 887.1a3.4 3.4 0 1 0 6.8 0a3.4 3.4 0 1 0 -6.8 0M523.3 898.0a3.4 3.4 0 1 0 6.8 0a3.4 3.4 0 1 0 -6.8 0M539.3 911.1a3.4 3.4 0 1 0 6.8 0a3.4 3.4 0 1 0 -6.8 0M539.3 920.7a3.4 3.4 0 1 0 6.8 0a3.4 3.4 0 1 0 -6.8 0M547.3 922.1a3.4 3.4 0 1 0 6.8 0a3.4 3.4 0 1 0 -6.8 0M555.2 926.1a3.4 3.4 0 1 0 6.8 0a3.4 3.4 0 1 0 -6.8 0M563.2 917.5a3.4 3.4 0 1 0 6.8 0a3.4 3.4 0 1 0 -6.8 0M579.6 923.0a3.4 3.4 0 1 0 6.8 0a3.4 3.4 0 1 0 -6.8 0M595.1 912.1a3.4 3.4 0 1 0 6.8 0a3.4 3.4 0 1 0 -6.8 0M603.1 909.3a3.4 3.4 0 1 0 6.8 0a3.4 3.4 0 1 0 -6.8 0M619.1 900.2a3.4 3.4 0 1 0 6.8 0a3.4 3.4 0 1 0 -6.8 0M627.0 895.7a3.4 3.4 0 1 0 6.8 0a3.4 3.4 0 1 0 -6.8 0M635.0 895.7a3.4 3.4 0 1 0 6.8 0a3.4 3.4 0 1 0 -6.8 0M635.0 908.9a3.4 3.4 0 1 0 6.8 0a3.4 3.4 0 1 0 -6.8 0M643.0 893.4a3.4 3.4 0 1 0 6.8 0a3.4 3.4 0 1 0 -6.8 0M643.0 904.3a3.4 3.4 0 1 0 6.8 0a3.4 3.4 0 1 0 -6.8 0M658.9 886.1a3.4 3.4 0 1 0 6.8 0a3.4 3.4 0 1 0 -6.8 0M658.9 894.8a3.4 3.4 0 1 0 6.8 0a3.4 3.4 0 1 0 -6.8 0M666.9 881.6a3.4 3.4 0 1 0 6.8 0a3.4 3.4 0 1 0 -6.8 0M674.9 877.1a3.4 3.4 0 1 0 6.8 0a3.4 3.4 0 1 0 -6.8 0M682.9 869.8a3.4 3.4 0 1 0 6.8 0a3.4 3.4 0 1 0 -6.8 0M698.8 861.1a3.4 3.4 0 1 0 6.8 0a3.4 3.4 0 1 0 -6.8 0M714.8 844.8a3.4 3.4 0 1 0 6.8 0a3.4 3.4 0 1 0 -6.8 0M722.8 839.3a3.4 3.4 0 1 0 6.8 0a3.4 3.4 0 1 0 -6.8 0M738.7 823.0a3.4 3.4 0 1 0 6.8 0a3.4 3.4 0 1 0 -6.8 0M754.7 809.8a3.4 3.4 0 1 0 6.8 0a3.4 3.4 0 1 0 -6.8 0M762.6 803.4a3.4 3.4 0 1 0 6.8 0a3.4 3.4 0 1 0 -6.8 0M778.6 794.3a3.4 3.4 0 1 0 6.8 0a3.4 3.4 0 1 0 -6.8 0M794.5 779.3a3.4 3.4 0 1 0 6.8 0a3.4 3.4 0 1 0 -6.8 0M802.5 778.4a3.4 3.4 0 1 0 6.8 0a3.4 3.4 0 1 0 -6.8 0M818.5 774.8a3.4 3.4 0 1 0 6.8 0a3.4 3.4 0 1 0 -6.8 0M834.4 776.1a3.4 3.4 0 1 0 6.8 0a3.4 3.4 0 1 0 -6.8 0M842.4 771.6a3.4 3.4 0 1 0 6.8 0a3.4 3.4 0 1 0 -6.8 0M850.4 771.6a3.4 3.4 0 1 0 6.8 0a3.4 3.4 0 1 0 -6.8 0M858.4 767.5a3.4 3.4 0 1 0 6.8 0a3.4 3.4 0 1 0 -6.8 0M874.3 759.3a3.4 3.4 0 1 0 6.8 0a3.4 3.4 0 1 0 -6.8 0M882.3 763.9a3.4 3.4 0 1 0 6.8 0a3.4 3.4 0 1 0 -6.8 0M890.3 765.2a3.4 3.4 0 1 0 6.8 0a3.4 3.4 0 1 0 -6.8 0M898.2 758.4a3.4 3.4 0 1 0 6.8 0a3.4 3.4 0 1 0 -6.8 0M914.2 751.1a3.4 3.4 0 1 0 6.8 0a3.4 3.4 0 1 0 -6.8 0M922.2 753.4a3.4 3.4 0 1 0 6.8 0a3.4 3.4 0 1 0 -6.8 0M930.2 756.6a3.4 3.4 0 1 0 6.8 0a3.4 3.4 0 1 0 -6.8 0M938.1 763.9a3.4 3.4 0 1 0 6.8 0a3.4 3.4 0 1 0 -6.8 0M954.1 759.8a3.4 3.4 0 1 0 6.8 0a3.4 3.4 0 1 0 -6.8 0M962.1 763.0a3.4 3.4 0 1 0 6.8 0a3.4 3.4 0 1 0 -6.8 0M970.0 763.9a3.4 3.4 0 1 0 6.8 0a3.4 3.4 0 1 0 -6.8 0M978.0 765.2a3.4 3.4 0 1 0 6.8 0a3.4 3.4 0 1 0 -6.8 0M994.0 763.9a3.4 3.4 0 1 0 6.8 0a3.4 3.4 0 1 0 -6.8 0M1001.9 762.0a3.4 3.4 0 1 0 6.8 0a3.4 3.4 0 1 0 -6.8 0M1009.9 758.4a3.4 3.4 0 1 0 6.8 0a3.4 3.4 0 1 0 -6.8 0M1017.9 765.2a3.4 3.4 0 1 0 6.8 0a3.4 3.4 0 1 0 -6.8 0M1049.8 763.9a3.4 3.4 0 1 0 6.8 0a3.4 3.4 0 1 0 -6.8 0" fill="#2f9768"/>
<path d="M383.2 793.0V803.0M380.2 793.0h6M380.2 803.0h6M399.1 805.2V815.2M396.1 805.2h6M396.1 815.2h6M406.7 821.1V831.1M403.7 821.1h6M403.7 831.1h6M423.0 849.3V859.3M420.0 849.3h6M420.0 859.3h6M439.0 863.4V873.4M436.0 863.4h6M436.0 873.4h6M447.0 875.7V885.7M444.0 875.7h6M444.0 885.7h6M463.3 877.6V905.6M460.3 877.6h6M460.3 905.6h6M487.3 874.4V902.4M484.3 874.4h6M484.3 902.4h6M502.8 901.7V929.7M499.8 901.7h6M499.8 929.7h6M526.7 913.5V941.5M523.7 913.5h6M523.7 941.5h6M542.7 940.3V968.3M539.7 940.3h6M539.7 968.3h6M542.7 956.7V984.7M539.7 956.7h6M539.7 984.7h6M550.7 967.6V995.6M547.7 967.6h6M547.7 995.6h6M558.6 981.7V1009.7M555.6 981.7h6M555.6 1009.7h6M566.6 964.4V992.4M563.6 964.4h6M563.6 992.4h6M583.0 978.5V1006.5M580.0 978.5h6M580.0 1006.5h6M598.5 952.6V980.6M595.5 952.6h6M595.5 980.6h6M606.5 955.8V983.8M603.5 955.8h6M603.5 983.8h6M622.5 942.6V970.6M619.5 942.6h6M619.5 970.6h6M630.4 939.4V967.4M627.4 939.4h6M627.4 967.4h6M638.4 942.6V970.6M635.4 942.6h6M635.4 970.6h6M638.4 959.9V987.9M635.4 959.9h6M635.4 987.9h6M646.4 931.7V959.7M643.4 931.7h6M643.4 959.7h6M646.4 955.8V983.8M643.4 955.8h6M643.4 983.8h6M662.3 922.2V950.2M659.3 922.2h6M659.3 950.2h6M662.3 934.9V962.9M659.3 934.9h6M659.3 962.9h6M670.3 926.2V954.2M667.3 926.2h6M667.3 954.2h6M678.3 920.2V930.2M675.3 920.2h6M675.3 930.2h6M686.3 914.8V924.8M683.3 914.8h6M683.3 924.8h6M702.2 896.1V906.1M699.2 896.1h6M699.2 906.1h6M718.2 882.1V892.1M715.2 882.1h6M715.2 892.1h6M726.2 868.0V878.0M723.2 868.0h6M723.2 878.0h6M742.1 846.1V856.1M739.1 846.1h6M739.1 856.1h6M758.1 825.2V835.2M755.1 825.2h6M755.1 835.2h6M766.0 813.4V823.4M763.0 813.4h6M763.0 823.4h6M782.0 791.6V801.6M779.0 791.6h6M779.0 801.6h6" stroke="#0c0ce6" stroke-width="1.8" fill="none"/><path d="M100.6 736.6a3.4 3.4 0 1 0 6.8 0a3.4 3.4 0 1 0 -6.8 0M100.6 743.0a3.4 3.4 0 1 0 6.8 0a3.4 3.4 0 1 0 -6.8 0M108.6 743.9a3.4 3.4 0 1 0 6.8 0a3.4 3.4 0 1 0 -6.8 0M116.5 743.0a3.4 3.4 0 1 0 6.8 0a3.4 3.4 0 1 0 -6.8 0M124.5 742.5a3.4 3.4 0 1 0 6.8 0a3.4 3.4 0 1 0 -6.8 0M132.5 742.5a3.4 3.4 0 1 0 6.8 0a3.4 3.4 0 1 0 -6.8 0M140.5 742.0a3.4 3.4 0 1 0 6.8 0a3.4 3.4 0 1 0 -6.8 0M156.4 748.9a3.4 3.4 0 1 0 6.8 0a3.4 3.4 0 1 0 -6.8 0M164.4 751.6a3.4 3.4 0 1 0 6.8 0a3.4 3.4 0 1 0 -6.8 0M172.4 743.4a3.4 3.4 0 1 0 6.8 0a3.4 3.4 0 1 0 -6.8 0M180.3 751.1a3.4 3.4 0 1 0 6.8 0a3.4 3.4 0 1 0 -6.8 0M196.3 740.7a3.4 3.4 0 1 0 6.8 0a3.4 3.4 0 1 0 -6.8 0M204.3 740.2a3.4 3.4 0 1 0 6.8 0a3.4 3.4 0 1 0 -6.8 0M212.3 743.4a3.4 3.4 0 1 0 6.8 0a3.4 3.4 0 1 0 -6.8 0M220.2 744.8a3.4 3.4 0 1 0 6.8 0a3.4 3.4 0 1 0 -6.8 0M236.2 759.3a3.4 3.4 0 1 0 6.8 0a3.4 3.4 0 1 0 -6.8 0M244.2 755.7a3.4 3.4 0 1 0 6.8 0a3.4 3.4 0 1 0 -6.8 0M252.1 747.0a3.4 3.4 0 1 0 6.8 0a3.4 3.4 0 1 0 -6.8 0M260.1 750.7a3.4 3.4 0 1 0 6.8 0a3.4 3.4 0 1 0 -6.8 0M276.1 746.1a3.4 3.4 0 1 0 6.8 0a3.4 3.4 0 1 0 -6.8 0M284.0 743.4a3.4 3.4 0 1 0 6.8 0a3.4 3.4 0 1 0 -6.8 0M300.0 743.4a3.4 3.4 0 1 0 6.8 0a3.4 3.4 0 1 0 -6.8 0M315.9 756.1a3.4 3.4 0 1 0 6.8 0a3.4 3.4 0 1 0 -6.8 0M323.9 754.3a3.4 3.4 0 1 0 6.8 0a3.4 3.4 0 1 0 -6.8 0M339.9 762.0a3.4 3.4 0 1 0 6.8 0a3.4 3.4 0 1 0 -6.8 0M355.8 767.0a3.4 3.4 0 1 0 6.8 0a3.4 3.4 0 1 0 -6.8 0M363.8 777.0a3.4 3.4 0 1 0 6.8 0a3.4 3.4 0 1 0 -6.8 0M379.8 798.0a3.4 3.4 0 1 0 6.8 0a3.4 3.4 0 1 0 -6.8 0M395.7 810.2a3.4 3.4 0 1 0 6.8 0a3.4 3.4 0 1 0 -6.8 0M403.3 826.1a3.4 3.4 0 1 0 6.8 0a3.4 3.4 0 1 0 -6.8 0M419.6 854.3a3.4 3.4 0 1 0 6.8 0a3.4 3.4 0 1 0 -6.8 0M435.6 868.4a3.4 3.4 0 1 0 6.8 0a3.4 3.4 0 1 0 -6.8 0M443.6 880.7a3.4 3.4 0 1 0 6.8 0a3.4 3.4 0 1 0 -6.8 0M459.9 891.6a3.4 3.4 0 1 0 6.8 0a3.4 3.4 0 1 0 -6.8 0M483.9 888.4a3.4 3.4 0 1 0 6.8 0a3.4 3.4 0 1 0 -6.8 0M499.4 915.7a3.4 3.4 0 1 0 6.8 0a3.4 3.4 0 1 0 -6.8 0M523.3 927.5a3.4 3.4 0 1 0 6.8 0a3.4 3.4 0 1 0 -6.8 0M539.3 954.3a3.4 3.4 0 1 0 6.8 0a3.4 3.4 0 1 0 -6.8 0M539.3 970.7a3.4 3.4 0 1 0 6.8 0a3.4 3.4 0 1 0 -6.8 0M547.3 981.6a3.4 3.4 0 1 0 6.8 0a3.4 3.4 0 1 0 -6.8 0M555.2 995.7a3.4 3.4 0 1 0 6.8 0a3.4 3.4 0 1 0 -6.8 0M563.2 978.4a3.4 3.4 0 1 0 6.8 0a3.4 3.4 0 1 0 -6.8 0M579.6 992.5a3.4 3.4 0 1 0 6.8 0a3.4 3.4 0 1 0 -6.8 0M595.1 966.6a3.4 3.4 0 1 0 6.8 0a3.4 3.4 0 1 0 -6.8 0M603.1 969.8a3.4 3.4 0 1 0 6.8 0a3.4 3.4 0 1 0 -6.8 0M619.1 956.6a3.4 3.4 0 1 0 6.8 0a3.4 3.4 0 1 0 -6.8 0M627.0 953.4a3.4 3.4 0 1 0 6.8 0a3.4 3.4 0 1 0 -6.8 0M635.0 956.6a3.4 3.4 0 1 0 6.8 0a3.4 3.4 0 1 0 -6.8 0M635.0 973.9a3.4 3.4 0 1 0 6.8 0a3.4 3.4 0 1 0 -6.8 0M643.0 945.7a3.4 3.4 0 1 0 6.8 0a3.4 3.4 0 1 0 -6.8 0M643.0 969.8a3.4 3.4 0 1 0 6.8 0a3.4 3.4 0 1 0 -6.8 0M658.9 936.2a3.4 3.4 0 1 0 6.8 0a3.4 3.4 0 1 0 -6.8 0M658.9 948.9a3.4 3.4 0 1 0 6.8 0a3.4 3.4 0 1 0 -6.8 0M666.9 940.2a3.4 3.4 0 1 0 6.8 0a3.4 3.4 0 1 0 -6.8 0M674.9 925.2a3.4 3.4 0 1 0 6.8 0a3.4 3.4 0 1 0 -6.8 0M682.9 919.8a3.4 3.4 0 1 0 6.8 0a3.4 3.4 0 1 0 -6.8 0M698.8 901.1a3.4 3.4 0 1 0 6.8 0a3.4 3.4 0 1 0 -6.8 0M714.8 887.1a3.4 3.4 0 1 0 6.8 0a3.4 3.4 0 1 0 -6.8 0M722.8 873.0a3.4 3.4 0 1 0 6.8 0a3.4 3.4 0 1 0 -6.8 0M738.7 851.1a3.4 3.4 0 1 0 6.8 0a3.4 3.4 0 1 0 -6.8 0M754.7 830.2a3.4 3.4 0 1 0 6.8 0a3.4 3.4 0 1 0 -6.8 0M762.6 818.4a3.4 3.4 0 1 0 6.8 0a3.4 3.4 0 1 0 -6.8 0M778.6 796.6a3.4 3.4 0 1 0 6.8 0a3.4 3.4 0 1 0 -6.8 0M794.5 756.6a3.4 3.4 0 1 0 6.8 0a3.4 3.4 0 1 0 -6.8 0M802.5 747.5a3.4 3.4 0 1 0 6.8 0a3.4 3.4 0 1 0 -6.8 0M818.5 742.0a3.4 3.4 0 1 0 6.8 0a3.4 3.4 0 1 0 -6.8 0M834.4 741.1a3.4 3.4 0 1 0 6.8 0a3.4 3.4 0 1 0 -6.8 0M842.4 740.2a3.4 3.4 0 1 0 6.8 0a3.4 3.4 0 1 0 -6.8 0M850.4 743.4a3.4 3.4 0 1 0 6.8 0a3.4 3.4 0 1 0 -6.8 0M858.4 740.7a3.4 3.4 0 1 0 6.8 0a3.4 3.4 0 1 0 -6.8 0M874.3 714.3a3.4 3.4 0 1 0 6.8 0a3.4 3.4 0 1 0 -6.8 0M882.3 714.3a3.4 3.4 0 1 0 6.8 0a3.4 3.4 0 1 0 -6.8 0M890.3 715.2a3.4 3.4 0 1 0 6.8 0a3.4 3.4 0 1 0 -6.8 0M898.2 715.7a3.4 3.4 0 1 0 6.8 0a3.4 3.4 0 1 0 -6.8 0M914.2 729.8a3.4 3.4 0 1 0 6.8 0a3.4 3.4 0 1 0 -6.8 0M922.2 729.8a3.4 3.4 0 1 0 6.8 0a3.4 3.4 0 1 0 -6.8 0M930.2 729.3a3.4 3.4 0 1 0 6.8 0a3.4 3.4 0 1 0 -6.8 0M938.1 727.0a3.4 3.4 0 1 0 6.8 0a3.4 3.4 0 1 0 -6.8 0M954.1 710.2a3.4 3.4 0 1 0 6.8 0a3.4 3.4 0 1 0 -6.8 0M962.1 713.9a3.4 3.4 0 1 0 6.8 0a3.4 3.4 0 1 0 -6.8 0M970.0 716.1a3.4 3.4 0 1 0 6.8 0a3.4 3.4 0 1 0 -6.8 0M978.0 719.3a3.4 3.4 0 1 0 6.8 0a3.4 3.4 0 1 0 -6.8 0M994.0 735.7a3.4 3.4 0 1 0 6.8 0a3.4 3.4 0 1 0 -6.8 0M1001.9 735.2a3.4 3.4 0 1 0 6.8 0a3.4 3.4 0 1 0 -6.8 0M1009.9 734.8a3.4 3.4 0 1 0 6.8 0a3.4 3.4 0 1 0 -6.8 0M1017.9 738.9a3.4 3.4 0 1 0 6.8 0a3.4 3.4 0 1 0 -6.8 0M1049.8 735.7a3.4 3.4 0 1 0 6.8 0a3.4 3.4 0 1 0 -6.8 0M1049.8 742.0a3.4 3.4 0 1 0 6.8 0a3.4 3.4 0 1 0 -6.8 0" fill="#0c0ce6"/>
<path d="M1197.3 797.7H2154.0" stroke="#b3b3f6" stroke-width="4"/>
<path d="M1197.3 797.7L1199.3 797.7L1201.3 797.7L1203.3 797.7L1205.3 797.7L1207.3 797.7L1209.3 797.7L1211.3 797.7L1213.2 797.7L1215.2 797.7L1217.2 797.7L1219.2 797.7L1221.2 797.7L1223.2 797.7L1225.2 797.7L1227.2 797.7L1229.2 797.7L1231.2 797.7L1233.2 797.7L1235.2 797.7L1237.2 797.7L1239.2 797.7L1241.1 797.7L1243.1 797.7L1245.1 797.7L1247.1 797.7L1249.1 797.7L1251.1 797.7L1253.1 797.7L1255.1 797.7L1257.1 797.7L1259.1 797.7L1261.1 797.7L1263.1 797.7L1265.1 797.7L1267.1 797.7L1269.1 797.7L1271.0 797.7L1273.0 797.7L1275.0 797.7L1277.0 797.7L1279.0 797.7L1281.0 797.7L1283.0 797.7L1285.0 797.7L1287.0 797.7L1289.0 797.7L1291.0 797.7L1293.0 797.7L1295.0 797.7L1297.0 797.7L1298.9 797.7L1300.9 797.7L1302.9 797.7L1304.9 797.7L1306.9 797.7L1308.9 797.7L1310.9 797.7L1312.9 797.7L1314.9 797.7L1316.9 797.7L1318.9 797.7L1320.9 797.7L1322.9 797.7L1324.9 797.7L1326.9 797.7L1328.8 797.7L1330.8 797.7L1332.8 797.7L1334.8 797.7L1336.8 797.7L1338.8 797.7L1340.8 797.7L1342.8 797.7L1344.8 797.7L1346.8 797.7L1348.8 797.7L1350.8 797.7L1352.8 797.7L1354.8 797.7L1356.7 797.7L1358.7 797.7L1360.7 797.7L1362.7 797.7L1364.7 797.7L1366.7 797.7L1368.7 797.7L1370.7 797.7L1372.7 797.7L1374.7 797.7L1376.7 797.7L1378.7 797.7L1380.7 797.7L1382.7 797.7L1384.7 797.7L1386.6 797.7L1388.6 797.7L1390.6 797.7L1392.6 797.7L1394.6 797.7L1396.6 797.7L1398.6 797.7L1400.6 797.7L1402.6 797.7L1404.6 797.7L1406.6 797.7L1408.6 797.7L1410.6 797.7L1412.6 797.7L1414.6 797.7L1416.5 797.7L1418.5 797.7L1420.5 797.7L1422.5 797.7L1424.5 797.7L1426.5 797.7L1428.5 797.7L1430.5 797.7L1432.5 797.7L1434.5 797.7L1436.5 797.7L1438.5 797.7L1440.5 797.7L1442.5 797.7L1444.4 797.7L1446.4 797.7L1448.4 797.7L1450.4 797.7L1452.4 797.7L1454.4 797.7L1456.4 797.7L1458.4 797.7L1460.4 797.7L1462.4 797.7L1464.4 797.7L1466.4 797.7L1468.4 797.7L1470.4 797.7L1472.4 797.7L1474.3 797.7L1476.3 797.7L1478.3 797.7L1480.3 797.7L1482.3 797.7L1484.3 797.7L1486.3 797.7L1488.3 797.7L1490.3 797.7L1492.3 797.7L1494.3 797.7L1496.3 797.7L1498.3 797.7L1500.3 797.7L1502.2 797.7L1504.2 797.7L1506.2 797.7L1508.2 797.7L1510.2 797.7L1512.2 797.7L1514.2 797.7L1516.2 797.7L1518.2 797.7L1520.2 797.7L1522.2 797.7L1524.2 797.7L1526.2 797.7L1528.2 797.7L1530.2 797.7L1532.1 797.7L1534.1 797.7L1536.1 797.7L1538.1 797.7L1540.1 797.7L1542.1 797.7L1544.1 797.7L1546.1 797.7L1548.1 797.7L1550.1 797.7L1552.1 797.7L1554.1 797.7L1556.1 797.7L1558.1 797.7L1560.0 797.7L1562.0 797.7L1564.0 797.7L1566.0 797.7L1568.0 797.7L1570.0 797.7L1572.0 797.7L1574.0 797.7L1576.0 797.7L1578.0 797.7L1580.0 797.7L1582.0 797.7L1584.0 797.7L1586.0 797.7L1588.0 797.7L1589.9 797.7L1591.9 797.7L1593.9 797.7L1595.9 797.7L1597.9 797.7L1599.9 797.7L1601.9 797.7L1603.9 797.7L1605.9 797.7L1607.9 797.7L1609.9 797.7L1611.9 797.7L1613.9 797.7L1615.9 797.7L1617.8 797.7L1619.8 797.7L1621.8 797.7L1623.8 797.7L1625.8 797.7L1627.8 797.7L1629.8 797.7L1631.8 797.7L1633.8 797.7L1635.8 797.7L1637.8 797.7L1639.8 797.7L1641.8 797.7L1643.8 797.7L1645.8 797.7L1647.7 797.7L1649.7 797.7L1651.7 797.7L1653.7 797.7L1655.7 797.7L1657.7 797.7L1659.7 797.7L1661.7 797.7L1663.7 797.7L1665.7 797.7L1667.7 797.7L1669.7 797.7L1671.7 797.7L1673.7 797.7L1675.7 797.7L1677.6 797.7L1679.6 797.7L1681.6 797.7L1683.6 797.7L1685.6 797.7L1687.6 797.7L1689.6 797.7L1691.6 797.7L1693.6 797.7L1695.6 797.7L1697.6 797.7L1699.6 797.7L1701.6 797.7L1703.6 797.7L1705.5 797.7L1707.5 797.7L1709.5 797.7L1711.5 797.7L1713.5 797.7L1715.5 797.7L1717.5 797.7L1719.5 797.7L1721.5 797.7L1723.5 797.7L1725.5 797.7L1727.5 797.7L1729.5 797.7L1731.5 797.7L1733.5 797.7L1735.4 797.7L1737.4 797.7L1739.4 797.7L1741.4 797.7L1743.4 797.7L1745.4 797.7L1747.4 797.7L1749.4 797.7L1751.4 797.7L1753.4 797.7L1755.4 797.7L1757.4 797.7L1759.4 797.7L1761.4 797.7L1763.3 797.7L1765.3 797.7L1767.3 797.7L1769.3 797.7L1771.3 797.7L1773.3 797.7L1775.3 797.7L1777.3 797.7L1779.3 797.7L1781.3 797.7L1783.3 797.7L1785.3 797.7L1787.3 797.7L1789.3 797.7L1791.3 797.7L1793.2 797.7L1795.2 797.7L1797.2 797.7L1799.2 797.7L1801.2 797.7L1803.2 797.7L1805.2 797.7L1807.2 797.7L1809.2 797.7L1811.2 797.7L1813.2 797.7L1815.2 797.7L1817.2 797.7L1819.2 797.7L1821.1 797.7L1823.1 797.7L1825.1 797.7L1827.1 797.7L1829.1 797.7L1831.1 797.7L1833.1 797.7L1835.1 797.7L1837.1 797.7L1839.1 797.7L1841.1 797.7L1843.1 797.7L1845.1 797.7L1847.1 797.7L1849.1 797.7L1851.0 797.7L1853.0 797.7L1855.0 797.7L1857.0 797.7L1859.0 797.7L1861.0 797.7L1863.0 797.7L1865.0 797.7L1867.0 797.7L1869.0 797.7L1871.0 797.7L1873.0 797.7L1875.0 797.7L1877.0 797.7L1878.9 797.7L1880.9 797.7L1882.9 797.7L1884.9 797.7L1886.9 797.7L1888.9 797.7L1890.9 797.7L1892.9 797.7L1894.9 797.7L1896.9 797.7L1898.9 797.7L1900.9 797.7L1902.9 797.7L1904.9 797.7L1906.9 797.7L1908.8 797.7L1910.8 797.7L1912.8 797.7L1914.8 797.7L1916.8 797.7L1918.8 797.7L1920.8 797.7L1922.8 797.7L1924.8 797.7L1926.8 797.7L1928.8 797.7L1930.8 797.7L1932.8 797.7L1934.8 797.7L1936.7 797.7L1938.7 797.7L1940.7 797.7L1942.7 797.7L1944.7 797.7L1946.7 797.7L1948.7 797.7L1950.7 797.7L1952.7 797.7L1954.7 797.7L1956.7 797.7L1958.7 797.7L1960.7 797.7L1962.7 797.7L1964.7 797.7L1966.6 797.7L1968.6 797.7L1970.6 797.7L1972.6 797.7L1974.6 797.7L1976.6 797.7L1978.6 797.7L1980.6 797.7L1982.6 797.7L1984.6 797.7L1986.6 797.7L1988.6 797.7L1990.6 797.7L1992.6 797.7L1994.6 797.7L1996.5 797.7L1998.5 797.7L2000.5 797.7L2002.5 797.7L2004.5 797.7L2006.5 797.7L2008.5 797.7L2010.5 797.7L2012.5 797.7L2014.5 797.7L2016.5 797.7L2018.5 797.7L2020.5 797.7L2022.5 797.7L2024.4 797.7L2026.4 797.7L2028.4 797.7L2030.4 797.7L2032.4 797.7L2034.4 797.7L2036.4 797.7L2038.4 797.7L2040.4 797.7L2042.4 797.7L2044.4 797.7L2046.4 797.7L2048.4 797.7L2050.4 797.7L2052.4 797.7L2054.3 797.7L2056.3 797.7L2058.3 797.7L2060.3 797.7L2062.3 797.7L2064.3 797.7L2066.3 797.7L2068.3 797.7L2070.3 797.7L2072.3 797.7L2074.3 797.7L2076.3 797.7L2078.3 797.7L2080.3 797.7L2082.2 797.7L2084.2 797.7L2086.2 797.7L2088.2 797.7L2090.2 797.7L2092.2 797.7L2094.2 797.7L2096.2 797.7L2098.2 797.7L2100.2 797.7L2102.2 797.7L2104.2 797.7L2106.2 797.7L2108.2 797.7L2110.2 797.7L2112.1 797.7L2114.1 797.7L2116.1 797.7L2118.1 797.7L2120.1 797.7L2122.1 797.7L2124.1 797.7L2126.1 797.7L2128.1 797.7L2130.1 797.7L2132.1 797.7L2134.1 797.7L2136.1 797.7L2138.1 797.7L2140.0 797.7L2142.0 797.7L2144.0 797.7L2146.0 797.7L2148.0 797.7L2150.0 797.7L2152.0 797.7L2154.0 797.7" fill="none" stroke="#b0ae8e" stroke-width="6.8" stroke-linejoin="round" stroke-linecap="butt" opacity="0.85"/>
<path d="M1197.3 814.2L1199.3 814.9L1201.3 815.5L1203.3 816.2L1205.3 816.8L1207.3 817.5L1209.3 818.1L1211.3 818.7L1213.2 819.2L1215.2 819.6L1217.2 820.0L1219.2 820.4L1221.2 820.8L1223.2 821.2L1225.2 821.5L1227.2 821.8L1229.2 822.1L1231.2 822.4L1233.2 822.7L1235.2 822.9L1237.2 823.2L1239.2 823.4L1241.1 823.6L1243.1 823.8L1245.1 823.9L1247.1 824.1L1249.1 824.2L1251.1 824.4L1253.1 824.5L1255.1 824.6L1257.1 824.8L1259.1 824.9L1261.1 825.1L1263.1 825.2L1265.1 825.3L1267.1 825.5L1269.1 825.6L1271.0 825.7L1273.0 825.8L1275.0 825.9L1277.0 826.1L1279.0 826.2L1281.0 826.3L1283.0 826.4L1285.0 826.5L1287.0 826.6L1289.0 826.7L1291.0 826.8L1293.0 826.8L1295.0 826.9L1297.0 827.0L1298.9 827.0L1300.9 827.1L1302.9 827.1L1304.9 827.1L1306.9 827.1L1308.9 827.1L1310.9 827.1L1312.9 827.1L1314.9 827.1L1316.9 827.1L1318.9 827.1L1320.9 827.1L1322.9 827.1L1324.9 827.1L1326.9 827.1L1328.8 827.1L1330.8 827.1L1332.8 827.1L1334.8 827.1L1336.8 827.1L1338.8 827.1L1340.8 827.1L1342.8 827.1L1344.8 827.0L1346.8 827.0L1348.8 826.9L1350.8 826.8L1352.8 826.8L1354.8 826.7L1356.7 826.6L1358.7 826.5L1360.7 826.4L1362.7 826.3L1364.7 826.2L1366.7 826.1L1368.7 826.0L1370.7 825.8L1372.7 825.7L1374.7 825.6L1376.7 825.4L1378.7 825.3L1380.7 825.2L1382.7 825.0L1384.7 824.9L1386.6 824.8L1388.6 824.7L1390.6 824.6L1392.6 824.6L1394.6 824.5L1396.6 824.5L1398.6 824.4L1400.6 824.4L1402.6 824.3L1404.6 824.2L1406.6 824.1L1408.6 823.9L1410.6 823.7L1412.6 823.5L1414.6 823.2L1416.5 822.9L1418.5 822.6L1420.5 822.3L1422.5 821.9L1424.5 821.6L1426.5 821.3L1428.5 820.9L1430.5 820.6L1432.5 820.3L1434.5 820.0L1436.5 819.6L1438.5 819.3L1440.5 818.9L1442.5 818.5L1444.4 818.2L1446.4 817.9L1448.4 817.7L1450.4 817.5L1452.4 817.4L1454.4 817.4L1456.4 817.4L1458.4 817.5L1460.4 817.6L1462.4 817.8L1464.4 818.0L1466.4 818.3L1468.4 818.5L1470.4 818.8L1472.4 819.0L1474.3 819.3L1476.3 819.6L1478.3 820.0L1480.3 820.4L1482.3 820.8L1484.3 821.3L1486.3 821.7L1488.3 822.1L1490.3 822.5L1492.3 822.9L1494.3 823.2L1496.3 823.4L1498.3 823.6L1500.3 823.8L1502.2 823.9L1504.2 823.9L1506.2 824.0L1508.2 824.0L1510.2 824.1L1512.2 824.1L1514.2 824.2L1516.2 824.3L1518.2 824.4L1520.2 824.6L1522.2 824.8L1524.2 825.1L1526.2 825.4L1528.2 825.8L1530.2 826.2L1532.1 826.6L1534.1 827.1L1536.1 827.6L1538.1 828.0L1540.1 828.5L1542.1 829.1L1544.1 829.6L1546.1 830.1L1548.1 830.6L1550.1 831.2L1552.1 831.8L1554.1 832.4L1556.1 833.0L1558.1 833.6L1560.0 834.2L1562.0 834.8L1564.0 835.4L1566.0 836.0L1568.0 836.6L1570.0 837.1L1572.0 837.7L1574.0 838.2L1576.0 838.8L1578.0 839.3L1580.0 839.9L1582.0 840.5L1584.0 841.1L1586.0 841.8L1588.0 842.5L1589.9 843.2L1591.9 844.0L1593.9 844.8L1595.9 845.6L1597.9 846.4L1599.9 847.3L1601.9 848.1L1603.9 848.9L1605.9 849.8L1607.9 850.6L1609.9 851.4L1611.9 852.2L1613.9 853.0L1615.9 853.8L1617.8 854.6L1619.8 855.5L1621.8 856.3L1623.8 857.1L1625.8 857.8L1627.8 858.6L1629.8 859.3L1631.8 860.1L1633.8 860.8L1635.8 861.5L1637.8 862.2L1639.8 862.9L1641.8 863.5L1643.8 864.2L1645.8 864.8L1647.7 865.4L1649.7 865.9L1651.7 866.4L1653.7 866.9L1655.7 867.3L1657.7 867.6L1659.7 868.0L1661.7 868.3L1663.7 868.6L1665.7 868.8L1667.7 869.1L1669.7 869.3L1671.7 869.5L1673.7 869.7L1675.7 869.9L1677.6 870.0L1679.6 870.1L1681.6 870.3L1683.6 870.4L1685.6 870.4L1687.6 870.5L1689.6 870.6L1691.6 870.6L1693.6 870.6L1695.6 870.6L1697.6 870.6L1699.6 870.6L1701.6 870.6L1703.6 870.5L1705.5 870.5L1707.5 870.4L1709.5 870.3L1711.5 870.2L1713.5 870.0L1715.5 869.9L1717.5 869.7L1719.5 869.5L1721.5 869.3L1723.5 869.1L1725.5 868.9L1727.5 868.6L1729.5 868.3L1731.5 868.0L1733.5 867.7L1735.4 867.3L1737.4 866.9L1739.4 866.5L1741.4 866.0L1743.4 865.5L1745.4 864.9L1747.4 864.3L1749.4 863.7L1751.4 863.0L1753.4 862.3L1755.4 861.6L1757.4 860.9L1759.4 860.2L1761.4 859.5L1763.3 858.8L1765.3 858.0L1767.3 857.3L1769.3 856.5L1771.3 855.7L1773.3 854.9L1775.3 854.1L1777.3 853.3L1779.3 852.5L1781.3 851.6L1783.3 850.7L1785.3 849.8L1787.3 848.9L1789.3 847.9L1791.3 846.9L1793.2 845.9L1795.2 844.8L1797.2 843.8L1799.2 842.9L1801.2 841.9L1803.2 841.0L1805.2 840.2L1807.2 839.5L1809.2 838.8L1811.2 838.2L1813.2 837.6L1815.2 837.1L1817.2 836.6L1819.2 836.0L1821.1 835.4L1823.1 834.9L1825.1 834.3L1827.1 833.7L1829.1 833.2L1831.1 832.7L1833.1 832.1L1835.1 831.5L1837.1 830.9L1839.1 830.3L1841.1 829.6L1843.1 828.9L1845.1 828.2L1847.1 827.4L1849.1 826.6L1851.0 825.8L1853.0 825.0L1855.0 824.1L1857.0 823.3L1859.0 822.4L1861.0 821.6L1863.0 820.8L1865.0 820.0L1867.0 819.2L1869.0 818.3L1871.0 817.5L1873.0 816.7L1875.0 815.8L1877.0 815.0L1878.9 814.2L1880.9 813.5L1882.9 812.7L1884.9 812.1L1886.9 811.4L1888.9 810.8L1890.9 810.2L1892.9 809.7L1894.9 809.1L1896.9 808.6L1898.9 808.2L1900.9 807.7L1902.9 807.3L1904.9 806.9L1906.9 806.5L1908.8 806.2L1910.8 805.8L1912.8 805.6L1914.8 805.3L1916.8 805.1L1918.8 804.9L1920.8 804.7L1922.8 804.6L1924.8 804.4L1926.8 804.3L1928.8 804.1L1930.8 804.0L1932.8 803.8L1934.8 803.7L1936.7 803.6L1938.7 803.4L1940.7 803.3L1942.7 803.3L1944.7 803.2L1946.7 803.2L1948.7 803.2L1950.7 803.2L1952.7 803.3L1954.7 803.5L1956.7 803.6L1958.7 803.9L1960.7 804.1L1962.7 804.3L1964.7 804.6L1966.6 804.9L1968.6 805.1L1970.6 805.3L1972.6 805.5L1974.6 805.7L1976.6 805.9L1978.6 806.1L1980.6 806.3L1982.6 806.5L1984.6 806.7L1986.6 806.9L1988.6 807.0L1990.6 807.2L1992.6 807.3L1994.6 807.4L1996.5 807.4L1998.5 807.5L2000.5 807.5L2002.5 807.5L2004.5 807.5L2006.5 807.4L2008.5 807.4L2010.5 807.4L2012.5 807.4L2014.5 807.3L2016.5 807.3L2018.5 807.4L2020.5 807.4L2022.5 807.4L2024.4 807.4L2026.4 807.5L2028.4 807.5L2030.4 807.5L2032.4 807.5L2034.4 807.4L2036.4 807.4L2038.4 807.3L2040.4 807.2L2042.4 807.1L2044.4 806.9L2046.4 806.8L2048.4 806.6L2050.4 806.4L2052.4 806.2L2054.3 806.0L2056.3 805.8L2058.3 805.6L2060.3 805.4L2062.3 805.2L2064.3 805.0L2066.3 804.8L2068.3 804.6L2070.3 804.3L2072.3 804.1L2074.3 803.9L2076.3 803.7L2078.3 803.5L2080.3 803.3L2082.2 803.1L2084.2 802.9L2086.2 802.8L2088.2 802.6L2090.2 802.4L2092.2 802.3L2094.2 802.1L2096.2 802.0L2098.2 801.9L2100.2 801.9L2102.2 801.8L2104.2 801.8L2106.2 801.9L2108.2 801.9L2110.2 801.9L2112.1 802.0L2114.1 802.1L2116.1 802.2L2118.1 802.4L2120.1 802.6L2122.1 802.8L2124.1 803.1L2126.1 803.5L2128.1 804.0L2130.1 804.7L2132.1 805.6L2134.1 806.5L2136.1 807.5L2138.1 808.6L2140.0 809.7L2142.0 811.0L2144.0 812.3L2146.0 813.9L2148.0 815.8L2150.0 818.1L2152.0 820.5L2154.0 822.9" fill="none" stroke="#8fcaae" stroke-width="6.8" stroke-linejoin="round" stroke-linecap="butt" opacity="0.85"/>
<path d="M1197.3 819.3L1199.3 819.7L1201.3 820.2L1203.3 820.7L1205.3 821.2L1207.3 821.7L1209.3 822.1L1211.3 822.5L1213.2 822.9L1215.2 823.2L1217.2 823.4L1219.2 823.6L1221.2 823.8L1223.2 823.9L1225.2 824.0L1227.2 824.2L1229.2 824.3L1231.2 824.4L1233.2 824.6L1235.2 824.8L1237.2 825.0L1239.2 825.2L1241.1 825.4L1243.1 825.6L1245.1 825.8L1247.1 826.0L1249.1 826.2L1251.1 826.4L1253.1 826.6L1255.1 826.9L1257.1 827.1L1259.1 827.3L1261.1 827.5L1263.1 827.7L1265.1 827.9L1267.1 828.1L1269.1 828.3L1271.0 828.5L1273.0 828.7L1275.0 828.9L1277.0 829.2L1279.0 829.4L1281.0 829.7L1283.0 830.0L1285.0 830.3L1287.0 830.6L1289.0 830.9L1291.0 831.3L1293.0 831.6L1295.0 831.9L1297.0 832.2L1298.9 832.4L1300.9 832.6L1302.9 832.8L1304.9 832.9L1306.9 833.0L1308.9 833.1L1310.9 833.2L1312.9 833.3L1314.9 833.3L1316.9 833.4L1318.9 833.4L1320.9 833.5L1322.9 833.5L1324.9 833.5L1326.9 833.6L1328.8 833.6L1330.8 833.6L1332.8 833.7L1334.8 833.7L1336.8 833.6L1338.8 833.6L1340.8 833.6L1342.8 833.5L1344.8 833.4L1346.8 833.3L1348.8 833.2L1350.8 833.1L1352.8 832.9L1354.8 832.8L1356.7 832.6L1358.7 832.4L1360.7 832.2L1362.7 832.0L1364.7 831.7L1366.7 831.5L1368.7 831.2L1370.7 830.9L1372.7 830.5L1374.7 830.2L1376.7 829.8L1378.7 829.5L1380.7 829.1L1382.7 828.7L1384.7 828.4L1386.6 828.0L1388.6 827.7L1390.6 827.5L1392.6 827.2L1394.6 826.9L1396.6 826.7L1398.6 826.4L1400.6 826.1L1402.6 825.9L1404.6 825.6L1406.6 825.2L1408.6 824.8L1410.6 824.4L1412.6 824.0L1414.6 823.6L1416.5 823.1L1418.5 822.6L1420.5 822.1L1422.5 821.5L1424.5 821.0L1426.5 820.4L1428.5 819.9L1430.5 819.3L1432.5 818.7L1434.5 818.0L1436.5 817.3L1438.5 816.7L1440.5 816.0L1442.5 815.2L1444.4 814.5L1446.4 813.9L1448.4 813.2L1450.4 812.5L1452.4 811.9L1454.4 811.3L1456.4 810.7L1458.4 810.2L1460.4 809.6L1462.4 809.0L1464.4 808.5L1466.4 808.0L1468.4 807.5L1470.4 807.1L1472.4 806.7L1474.3 806.4L1476.3 806.1L1478.3 805.8L1480.3 805.5L1482.3 805.3L1484.3 805.2L1486.3 805.0L1488.3 804.9L1490.3 804.9L1492.3 804.9L1494.3 805.0L1496.3 805.1L1498.3 805.2L1500.3 805.4L1502.2 805.7L1504.2 805.9L1506.2 806.2L1508.2 806.5L1510.2 806.9L1512.2 807.3L1514.2 807.7L1516.2 808.2L1518.2 808.7L1520.2 809.2L1522.2 809.7L1524.2 810.3L1526.2 811.0L1528.2 811.7L1530.2 812.4L1532.1 813.2L1534.1 814.1L1536.1 814.9L1538.1 815.8L1540.1 816.8L1542.1 817.7L1544.1 818.8L1546.1 819.8L1548.1 821.0L1550.1 822.2L1552.1 823.4L1554.1 824.6L1556.1 825.9L1558.1 827.2L1560.0 828.4L1562.0 829.7L1564.0 830.9L1566.0 832.1L1568.0 833.3L1570.0 834.4L1572.0 835.6L1574.0 836.7L1576.0 837.8L1578.0 839.0L1580.0 840.1L1582.0 841.3L1584.0 842.5L1586.0 843.7L1588.0 845.0L1589.9 846.3L1591.9 847.7L1593.9 849.1L1595.9 850.6L1597.9 852.0L1599.9 853.5L1601.9 854.9L1603.9 856.4L1605.9 857.7L1607.9 859.1L1609.9 860.4L1611.9 861.7L1613.9 863.0L1615.9 864.2L1617.8 865.5L1619.8 866.7L1621.8 867.9L1623.8 869.1L1625.8 870.2L1627.8 871.4L1629.8 872.5L1631.8 873.6L1633.8 874.6L1635.8 875.6L1637.8 876.6L1639.8 877.6L1641.8 878.5L1643.8 879.5L1645.8 880.4L1647.7 881.3L1649.7 882.3L1651.7 883.3L1653.7 884.3L1655.7 885.3L1657.7 886.4L1659.7 887.4L1661.7 888.5L1663.7 889.6L1665.7 890.6L1667.7 891.6L1669.7 892.6L1671.7 893.5L1673.7 894.3L1675.7 895.1L1677.6 895.8L1679.6 896.5L1681.6 897.2L1683.6 897.8L1685.6 898.4L1687.6 898.9L1689.6 899.5L1691.6 899.9L1693.6 900.4L1695.6 900.8L1697.6 901.2L1699.6 901.6L1701.6 901.9L1703.6 902.2L1705.5 902.4L1707.5 902.7L1709.5 902.8L1711.5 903.0L1713.5 903.1L1715.5 903.2L1717.5 903.2L1719.5 903.2L1721.5 903.1L1723.5 903.0L1725.5 902.9L1727.5 902.7L1729.5 902.5L1731.5 902.2L1733.5 901.9L1735.4 901.6L1737.4 901.3L1739.4 900.9L1741.4 900.5L1743.4 900.0L1745.4 899.5L1747.4 898.9L1749.4 898.3L1751.4 897.7L1753.4 897.1L1755.4 896.4L1757.4 895.7L1759.4 895.0L1761.4 894.3L1763.3 893.6L1765.3 892.9L1767.3 892.2L1769.3 891.5L1771.3 890.7L1773.3 890.0L1775.3 889.2L1777.3 888.3L1779.3 887.4L1781.3 886.5L1783.3 885.6L1785.3 884.6L1787.3 883.5L1789.3 882.4L1791.3 881.3L1793.2 880.1L1795.2 878.9L1797.2 877.7L1799.2 876.5L1801.2 875.2L1803.2 873.9L1805.2 872.7L1807.2 871.3L1809.2 869.7L1811.2 868.2L1813.2 866.6L1815.2 865.0L1817.2 863.6L1819.2 862.4L1821.1 861.3L1823.1 860.4L1825.1 859.6L1827.1 858.9L1829.1 858.3L1831.1 857.7L1833.1 857.0L1835.1 856.4L1837.1 855.6L1839.1 854.7L1841.1 853.7L1843.1 852.5L1845.1 851.1L1847.1 849.6L1849.1 848.0L1851.0 846.3L1853.0 844.5L1855.0 842.8L1857.0 841.0L1859.0 839.3L1861.0 837.6L1863.0 836.1L1865.0 834.6L1867.0 833.1L1869.0 831.6L1871.0 830.2L1873.0 828.8L1875.0 827.4L1877.0 826.0L1878.9 824.7L1880.9 823.4L1882.9 822.1L1884.9 820.9L1886.9 819.7L1888.9 818.5L1890.9 817.4L1892.9 816.3L1894.9 815.2L1896.9 814.2L1898.9 813.2L1900.9 812.2L1902.9 811.3L1904.9 810.5L1906.9 809.8L1908.8 809.1L1910.8 808.5L1912.8 808.0L1914.8 807.6L1916.8 807.2L1918.8 806.9L1920.8 806.6L1922.8 806.3L1924.8 806.1L1926.8 805.8L1928.8 805.5L1930.8 805.2L1932.8 804.9L1934.8 804.6L1936.7 804.3L1938.7 804.1L1940.7 803.8L1942.7 803.6L1944.7 803.5L1946.7 803.3L1948.7 803.2L1950.7 803.2L1952.7 803.3L1954.7 803.4L1956.7 803.6L1958.7 803.8L1960.7 804.1L1962.7 804.4L1964.7 804.7L1966.6 805.0L1968.6 805.2L1970.6 805.4L1972.6 805.5L1974.6 805.6L1976.6 805.7L1978.6 805.7L1980.6 805.8L1982.6 805.8L1984.6 805.8L1986.6 805.8L1988.6 805.7L1990.6 805.7L1992.6 805.6L1994.6 805.5L1996.5 805.3L1998.5 805.2L2000.5 804.9L2002.5 804.7L2004.5 804.4L2006.5 804.2L2008.5 803.9L2010.5 803.7L2012.5 803.5L2014.5 803.3L2016.5 803.2L2018.5 803.1L2020.5 803.1L2022.5 803.1L2024.4 803.1L2026.4 803.1L2028.4 803.1L2030.4 803.1L2032.4 803.2L2034.4 803.2L2036.4 803.2L2038.4 803.2L2040.4 803.2L2042.4 803.2L2044.4 803.2L2046.4 803.2L2048.4 803.2L2050.4 803.2L2052.4 803.2L2054.3 803.2L2056.3 803.2L2058.3 803.2L2060.3 803.2L2062.3 803.2L2064.3 803.2L2066.3 803.2L2068.3 803.2L2070.3 803.2L2072.3 803.2L2074.3 803.2L2076.3 803.2L2078.3 803.2L2080.3 803.2L2082.2 803.2L2084.2 803.2L2086.2 803.2L2088.2 803.1L2090.2 803.1L2092.2 803.1L2094.2 803.1L2096.2 803.0L2098.2 803.1L2100.2 803.1L2102.2 803.2L2104.2 803.3L2106.2 803.4L2108.2 803.4L2110.2 803.5L2112.1 803.7L2114.1 803.8L2116.1 804.0L2118.1 804.2L2120.1 804.5L2122.1 804.9L2124.1 805.3L2126.1 805.9L2128.1 806.7L2130.1 807.8L2132.1 809.1L2134.1 810.6L2136.1 812.3L2138.1 814.2L2140.0 816.2L2142.0 818.5L2144.0 821.1L2146.0 824.1L2148.0 827.8L2150.0 832.4L2152.0 837.4L2154.0 842.2" fill="none" stroke="#6e6ef2" stroke-width="6.8" stroke-linejoin="round" stroke-linecap="butt" opacity="0.85"/>
<g fill="#bdbd32"><ellipse cx="1204.5" cy="798.3" rx="4.3" ry="3.3"/><ellipse cx="1212.4" cy="798.3" rx="4.3" ry="3.3"/><ellipse cx="1220.4" cy="798.3" rx="4.3" ry="3.3"/><ellipse cx="1228.4" cy="798.3" rx="4.3" ry="3.3"/><ellipse cx="1236.4" cy="798.3" rx="4.3" ry="3.3"/><ellipse cx="1244.3" cy="798.3" rx="4.3" ry="3.3"/><ellipse cx="1252.3" cy="798.3" rx="4.3" ry="3.3"/><ellipse cx="1260.3" cy="798.3" rx="4.3" ry="3.3"/><ellipse cx="1268.3" cy="798.3" rx="4.3" ry="3.3"/><ellipse cx="1276.2" cy="798.3" rx="4.3" ry="3.3"/><ellipse cx="1284.2" cy="798.3" rx="4.3" ry="3.3"/><ellipse cx="1292.2" cy="798.3" rx="4.3" ry="3.3"/><ellipse cx="1300.1" cy="798.3" rx="4.3" ry="3.3"/><ellipse cx="1308.1" cy="798.3" rx="4.3" ry="3.3"/><ellipse cx="1316.1" cy="798.3" rx="4.3" ry="3.3"/><ellipse cx="1324.1" cy="798.3" rx="4.3" ry="3.3"/><ellipse cx="1332.0" cy="798.3" rx="4.3" ry="3.3"/><ellipse cx="1340.0" cy="798.3" rx="4.3" ry="3.3"/><ellipse cx="1348.0" cy="798.3" rx="4.3" ry="3.3"/><ellipse cx="1356.0" cy="798.3" rx="4.3" ry="3.3"/><ellipse cx="1363.9" cy="798.3" rx="4.3" ry="3.3"/><ellipse cx="1371.9" cy="798.3" rx="4.3" ry="3.3"/><ellipse cx="1379.9" cy="798.3" rx="4.3" ry="3.3"/><ellipse cx="1387.8" cy="798.3" rx="4.3" ry="3.3"/><ellipse cx="1403.8" cy="798.3" rx="4.3" ry="3.3"/><ellipse cx="1411.8" cy="798.3" rx="4.3" ry="3.3"/><ellipse cx="1419.7" cy="798.3" rx="4.3" ry="3.3"/><ellipse cx="1427.7" cy="798.3" rx="4.3" ry="3.3"/><ellipse cx="1443.7" cy="798.3" rx="4.3" ry="3.3"/><ellipse cx="1451.6" cy="798.3" rx="4.3" ry="3.3"/><ellipse cx="1459.6" cy="798.3" rx="4.3" ry="3.3"/><ellipse cx="1467.6" cy="798.3" rx="4.3" ry="3.3"/><ellipse cx="1483.5" cy="798.3" rx="4.3" ry="3.3"/><ellipse cx="1491.5" cy="798.3" rx="4.3" ry="3.3"/><ellipse cx="1499.5" cy="798.3" rx="4.3" ry="3.3"/><ellipse cx="1507.4" cy="798.3" rx="4.3" ry="3.3"/><ellipse cx="1523.4" cy="798.3" rx="4.3" ry="3.3"/><ellipse cx="1531.3" cy="798.3" rx="4.3" ry="3.3"/><ellipse cx="1539.3" cy="798.3" rx="4.3" ry="3.3"/><ellipse cx="1547.3" cy="798.3" rx="4.3" ry="3.3"/><ellipse cx="1563.2" cy="798.3" rx="4.3" ry="3.3"/><ellipse cx="1571.2" cy="798.3" rx="4.3" ry="3.3"/><ellipse cx="1579.2" cy="798.3" rx="4.3" ry="3.3"/><ellipse cx="1587.2" cy="798.3" rx="4.3" ry="3.3"/><ellipse cx="1603.1" cy="798.3" rx="4.3" ry="3.3"/><ellipse cx="1611.1" cy="798.3" rx="4.3" ry="3.3"/><ellipse cx="1619.0" cy="798.3" rx="4.3" ry="3.3"/><ellipse cx="1627.0" cy="798.3" rx="4.3" ry="3.3"/><ellipse cx="1643.0" cy="798.3" rx="4.3" ry="3.3"/><ellipse cx="1650.9" cy="798.3" rx="4.3" ry="3.3"/><ellipse cx="1658.9" cy="798.3" rx="4.3" ry="3.3"/><ellipse cx="1666.9" cy="798.3" rx="4.3" ry="3.3"/><ellipse cx="1682.8" cy="798.3" rx="4.3" ry="3.3"/><ellipse cx="1690.8" cy="798.3" rx="4.3" ry="3.3"/><ellipse cx="1698.8" cy="798.3" rx="4.3" ry="3.3"/><ellipse cx="1706.7" cy="798.3" rx="4.3" ry="3.3"/><ellipse cx="1722.7" cy="798.3" rx="4.3" ry="3.3"/><ellipse cx="1730.7" cy="798.3" rx="4.3" ry="3.3"/><ellipse cx="1738.6" cy="798.3" rx="4.3" ry="3.3"/><ellipse cx="1746.6" cy="798.3" rx="4.3" ry="3.3"/><ellipse cx="1762.6" cy="798.3" rx="4.3" ry="3.3"/><ellipse cx="1770.5" cy="798.3" rx="4.3" ry="3.3"/><ellipse cx="1778.5" cy="798.3" rx="4.3" ry="3.3"/><ellipse cx="1786.5" cy="798.3" rx="4.3" ry="3.3"/><ellipse cx="1802.4" cy="798.3" rx="4.3" ry="3.3"/><ellipse cx="1810.4" cy="798.3" rx="4.3" ry="3.3"/><ellipse cx="1818.4" cy="798.3" rx="4.3" ry="3.3"/><ellipse cx="1826.3" cy="798.3" rx="4.3" ry="3.3"/><ellipse cx="1842.3" cy="798.3" rx="4.3" ry="3.3"/><ellipse cx="1850.2" cy="798.3" rx="4.3" ry="3.3"/><ellipse cx="1858.2" cy="798.3" rx="4.3" ry="3.3"/><ellipse cx="1866.2" cy="798.3" rx="4.3" ry="3.3"/><ellipse cx="1882.1" cy="798.3" rx="4.3" ry="3.3"/><ellipse cx="1890.1" cy="798.3" rx="4.3" ry="3.3"/><ellipse cx="1898.1" cy="798.3" rx="4.3" ry="3.3"/><ellipse cx="1906.1" cy="798.3" rx="4.3" ry="3.3"/><ellipse cx="1922.0" cy="798.3" rx="4.3" ry="3.3"/><ellipse cx="1930.0" cy="798.3" rx="4.3" ry="3.3"/><ellipse cx="1937.9" cy="798.3" rx="4.3" ry="3.3"/><ellipse cx="1945.9" cy="798.3" rx="4.3" ry="3.3"/><ellipse cx="1953.9" cy="798.3" rx="4.3" ry="3.3"/><ellipse cx="1961.9" cy="798.3" rx="4.3" ry="3.3"/><ellipse cx="1969.8" cy="798.3" rx="4.3" ry="3.3"/><ellipse cx="1977.8" cy="798.3" rx="4.3" ry="3.3"/><ellipse cx="1985.8" cy="798.3" rx="4.3" ry="3.3"/><ellipse cx="1993.8" cy="798.3" rx="4.3" ry="3.3"/><ellipse cx="2001.7" cy="798.3" rx="4.3" ry="3.3"/><ellipse cx="2009.7" cy="798.3" rx="4.3" ry="3.3"/><ellipse cx="2017.7" cy="798.3" rx="4.3" ry="3.3"/><ellipse cx="2025.6" cy="798.3" rx="4.3" ry="3.3"/><ellipse cx="2033.6" cy="798.3" rx="4.3" ry="3.3"/><ellipse cx="2041.6" cy="798.3" rx="4.3" ry="3.3"/><ellipse cx="2049.6" cy="798.3" rx="4.3" ry="3.3"/><ellipse cx="2057.5" cy="798.3" rx="4.3" ry="3.3"/><ellipse cx="2065.5" cy="798.3" rx="4.3" ry="3.3"/><ellipse cx="2073.5" cy="798.3" rx="4.3" ry="3.3"/><ellipse cx="2081.5" cy="798.3" rx="4.3" ry="3.3"/><ellipse cx="2089.4" cy="798.3" rx="4.3" ry="3.3"/><ellipse cx="2097.4" cy="798.3" rx="4.3" ry="3.3"/><ellipse cx="2105.4" cy="798.3" rx="4.3" ry="3.3"/><ellipse cx="2113.3" cy="798.3" rx="4.3" ry="3.3"/><ellipse cx="2121.3" cy="798.3" rx="4.3" ry="3.3"/><ellipse cx="2129.3" cy="798.3" rx="4.3" ry="3.3"/><ellipse cx="2137.3" cy="798.3" rx="4.3" ry="3.3"/><ellipse cx="2145.2" cy="798.3" rx="4.3" ry="3.3"/><ellipse cx="2153.2" cy="798.3" rx="4.3" ry="3.3"/></g>
<path d="M1356.0 825.3V840.4M1353.0 825.3h6M1353.0 840.4h6M1459.6 792.1V829.8M1456.6 792.1h6M1456.6 829.8h6M1467.6 790.3V830.2M1464.6 790.3h6M1464.6 830.2h6M1483.5 791.2V819.0M1480.5 791.2h6M1480.5 819.0h6M1491.5 783.4V823.5M1488.5 783.4h6M1488.5 823.5h6M1499.5 785.7V823.8M1496.5 785.7h6M1496.5 823.8h6M1507.4 791.8V820.2M1504.4 791.8h6M1504.4 820.2h6M1539.3 798.5V832.3M1536.3 798.5h6M1536.3 832.3h6M1547.3 807.1V832.8M1544.3 807.1h6M1544.3 832.8h6M1563.2 809.0V849.1M1560.2 809.0h6M1560.2 849.1h6M1579.2 819.9V863.7M1576.2 819.9h6M1576.2 863.7h6M1587.2 829.0V860.9M1584.2 829.0h6M1584.2 860.9h6M1603.1 835.0V878.3M1600.1 835.0h6M1600.1 878.3h6M1611.1 835.2V885.6M1608.1 835.2h6M1608.1 885.6h6M1619.0 847.5V884.6M1616.0 847.5h6M1616.0 884.6h6M1627.0 848.6V891.9M1624.0 848.6h6M1624.0 891.9h6M1643.0 859.5V900.9M1640.0 859.5h6M1640.0 900.9h6M1650.9 867.9V896.7M1647.9 867.9h6M1647.9 896.7h6M1658.9 863.6V904.7M1655.9 863.6h6M1655.9 904.7h6M1666.9 870.0V914.3M1663.9 870.0h6M1663.9 914.3h6M1682.8 871.8V920.5M1679.8 871.8h6M1679.8 920.5h6M1690.8 882.4V916.8M1687.8 882.4h6M1687.8 916.8h6M1698.8 879.6V923.0M1695.8 879.6h6M1695.8 923.0h6M1706.7 878.5V928.8M1703.7 878.5h6M1703.7 928.8h6M1722.7 887.5V918.6M1719.7 887.5h6M1719.7 918.6h6M1730.7 890.1V916.2M1727.7 890.1h6M1727.7 916.2h6M1738.6 884.9V916.6M1735.6 884.9h6M1735.6 916.6h6M1746.6 880.8V918.4M1743.6 880.8h6M1743.6 918.4h6M1762.6 878.9V909.8M1759.6 878.9h6M1759.6 909.8h6M1770.5 874.3V905.2M1767.5 874.3h6M1767.5 905.2h6M1778.5 865.4V910.2M1775.5 865.4h6M1775.5 910.2h6M1786.5 870.7V899.1M1783.5 870.7h6M1783.5 899.1h6M1802.4 855.4V892.6M1799.4 855.4h6M1799.4 892.6h6M1810.4 848.2V890.0M1807.4 848.2h6M1807.4 890.0h6M1818.4 845.7V878.5M1815.4 845.7h6M1815.4 878.5h6M1826.3 835.9V876.9M1823.3 835.9h6M1823.3 876.9h6M1850.2 833.0V859.6M1847.2 833.0h6M1847.2 859.6h6M1858.2 828.5V850.7M1855.2 828.5h6M1855.2 850.7h6M1866.2 820.1V847.0M1863.2 820.1h6M1863.2 847.0h6M1882.1 810.9V833.3M1879.1 810.9h6M1879.1 833.3h6M1890.1 805.5V832.8M1887.1 805.5h6M1887.1 832.8h6M1898.1 804.5V825.0M1895.1 804.5h6M1895.1 825.0h6M1922.0 794.3V818.5M1919.0 794.3h6M1919.0 818.5h6M1930.0 793.1V814.4M1927.0 793.1h6M1927.0 814.4h6M1953.9 792.3V811.6M1950.9 792.3h6M1950.9 811.6h6M1961.9 793.8V815.5M1958.9 793.8h6M1958.9 815.5h6M1969.8 795.7V813.3M1966.8 795.7h6M1966.8 813.3h6M1977.8 791.3V819.4M1974.8 791.3h6M1974.8 819.4h6M1985.8 794.9V815.9M1982.8 794.9h6M1982.8 815.9h6M2009.7 792.6V816.7M2006.7 792.6h6M2006.7 816.7h6M2017.7 787.5V817.0M2014.7 787.5h6M2014.7 817.0h6M2025.6 789.7V814.1M2022.6 789.7h6M2022.6 814.1h6M2033.6 790.9V814.6M2030.6 790.9h6M2030.6 814.6h6M2041.6 791.3V818.0M2038.6 791.3h6M2038.6 818.0h6M2057.5 788.2V815.3M2054.5 788.2h6M2054.5 815.3h6M2065.5 790.6V813.6M2062.5 790.6h6M2062.5 813.6h6M2073.5 794.5V810.9M2070.5 794.5h6M2070.5 810.9h6M2081.5 789.8V816.0M2078.5 789.8h6M2078.5 816.0h6M2089.4 791.9V815.4M2086.4 791.9h6M2086.4 815.4h6M2097.4 790.8V812.3M2094.4 790.8h6M2094.4 812.3h6M2113.3 793.6V813.8M2110.3 793.6h6M2110.3 813.8h6M2137.3 803.8V823.0M2134.3 803.8h6M2134.3 823.0h6M2153.2 827.5V848.4M2150.2 827.5h6M2150.2 848.4h6" stroke="#0c0ce6" stroke-width="1.8" fill="none"/><path d="M1457.1 824.7a2.5 2.5 0 1 0 5.0 0a2.5 2.5 0 1 0 -5.0 0M1465.1 794.8a2.5 2.5 0 1 0 5.0 0a2.5 2.5 0 1 0 -5.0 0M1465.1 824.1a2.5 2.5 0 1 0 5.0 0a2.5 2.5 0 1 0 -5.0 0M1489.0 790.5a2.5 2.5 0 1 0 5.0 0a2.5 2.5 0 1 0 -5.0 0M1489.0 817.1a2.5 2.5 0 1 0 5.0 0a2.5 2.5 0 1 0 -5.0 0M1497.0 791.3a2.5 2.5 0 1 0 5.0 0a2.5 2.5 0 1 0 -5.0 0M1497.0 818.0a2.5 2.5 0 1 0 5.0 0a2.5 2.5 0 1 0 -5.0 0M1536.8 802.6a2.5 2.5 0 1 0 5.0 0a2.5 2.5 0 1 0 -5.0 0M1536.8 828.3a2.5 2.5 0 1 0 5.0 0a2.5 2.5 0 1 0 -5.0 0M1560.7 816.5a2.5 2.5 0 1 0 5.0 0a2.5 2.5 0 1 0 -5.0 0M1560.7 843.6a2.5 2.5 0 1 0 5.0 0a2.5 2.5 0 1 0 -5.0 0M1576.7 826.5a2.5 2.5 0 1 0 5.0 0a2.5 2.5 0 1 0 -5.0 0M1576.7 854.9a2.5 2.5 0 1 0 5.0 0a2.5 2.5 0 1 0 -5.0 0M1600.6 839.9a2.5 2.5 0 1 0 5.0 0a2.5 2.5 0 1 0 -5.0 0M1600.6 872.1a2.5 2.5 0 1 0 5.0 0a2.5 2.5 0 1 0 -5.0 0M1608.6 844.8a2.5 2.5 0 1 0 5.0 0a2.5 2.5 0 1 0 -5.0 0M1608.6 877.2a2.5 2.5 0 1 0 5.0 0a2.5 2.5 0 1 0 -5.0 0M1616.5 880.4a2.5 2.5 0 1 0 5.0 0a2.5 2.5 0 1 0 -5.0 0M1624.5 854.0a2.5 2.5 0 1 0 5.0 0a2.5 2.5 0 1 0 -5.0 0M1624.5 886.1a2.5 2.5 0 1 0 5.0 0a2.5 2.5 0 1 0 -5.0 0M1640.5 866.4a2.5 2.5 0 1 0 5.0 0a2.5 2.5 0 1 0 -5.0 0M1640.5 894.3a2.5 2.5 0 1 0 5.0 0a2.5 2.5 0 1 0 -5.0 0M1656.4 871.4a2.5 2.5 0 1 0 5.0 0a2.5 2.5 0 1 0 -5.0 0M1656.4 899.4a2.5 2.5 0 1 0 5.0 0a2.5 2.5 0 1 0 -5.0 0M1664.4 875.4a2.5 2.5 0 1 0 5.0 0a2.5 2.5 0 1 0 -5.0 0M1664.4 908.1a2.5 2.5 0 1 0 5.0 0a2.5 2.5 0 1 0 -5.0 0M1680.3 878.5a2.5 2.5 0 1 0 5.0 0a2.5 2.5 0 1 0 -5.0 0M1680.3 913.8a2.5 2.5 0 1 0 5.0 0a2.5 2.5 0 1 0 -5.0 0M1688.3 887.2a2.5 2.5 0 1 0 5.0 0a2.5 2.5 0 1 0 -5.0 0M1688.3 911.0a2.5 2.5 0 1 0 5.0 0a2.5 2.5 0 1 0 -5.0 0M1696.3 887.0a2.5 2.5 0 1 0 5.0 0a2.5 2.5 0 1 0 -5.0 0M1696.3 917.0a2.5 2.5 0 1 0 5.0 0a2.5 2.5 0 1 0 -5.0 0M1704.2 885.8a2.5 2.5 0 1 0 5.0 0a2.5 2.5 0 1 0 -5.0 0M1704.2 921.9a2.5 2.5 0 1 0 5.0 0a2.5 2.5 0 1 0 -5.0 0M1720.2 891.6a2.5 2.5 0 1 0 5.0 0a2.5 2.5 0 1 0 -5.0 0M1736.1 888.9a2.5 2.5 0 1 0 5.0 0a2.5 2.5 0 1 0 -5.0 0M1744.1 913.7a2.5 2.5 0 1 0 5.0 0a2.5 2.5 0 1 0 -5.0 0M1760.1 883.0a2.5 2.5 0 1 0 5.0 0a2.5 2.5 0 1 0 -5.0 0M1768.0 878.8a2.5 2.5 0 1 0 5.0 0a2.5 2.5 0 1 0 -5.0 0M1768.0 901.2a2.5 2.5 0 1 0 5.0 0a2.5 2.5 0 1 0 -5.0 0M1776.0 870.3a2.5 2.5 0 1 0 5.0 0a2.5 2.5 0 1 0 -5.0 0M1776.0 903.9a2.5 2.5 0 1 0 5.0 0a2.5 2.5 0 1 0 -5.0 0M1799.9 861.0a2.5 2.5 0 1 0 5.0 0a2.5 2.5 0 1 0 -5.0 0M1807.9 853.6a2.5 2.5 0 1 0 5.0 0a2.5 2.5 0 1 0 -5.0 0M1807.9 884.8a2.5 2.5 0 1 0 5.0 0a2.5 2.5 0 1 0 -5.0 0M1815.9 850.2a2.5 2.5 0 1 0 5.0 0a2.5 2.5 0 1 0 -5.0 0M1815.9 873.3a2.5 2.5 0 1 0 5.0 0a2.5 2.5 0 1 0 -5.0 0M1823.8 842.8a2.5 2.5 0 1 0 5.0 0a2.5 2.5 0 1 0 -5.0 0M1823.8 871.9a2.5 2.5 0 1 0 5.0 0a2.5 2.5 0 1 0 -5.0 0M1863.7 824.8a2.5 2.5 0 1 0 5.0 0a2.5 2.5 0 1 0 -5.0 0M1887.6 828.1a2.5 2.5 0 1 0 5.0 0a2.5 2.5 0 1 0 -5.0 0M1919.5 798.5a2.5 2.5 0 1 0 5.0 0a2.5 2.5 0 1 0 -5.0 0M1975.3 795.7a2.5 2.5 0 1 0 5.0 0a2.5 2.5 0 1 0 -5.0 0M1975.3 814.2a2.5 2.5 0 1 0 5.0 0a2.5 2.5 0 1 0 -5.0 0M2015.2 793.0a2.5 2.5 0 1 0 5.0 0a2.5 2.5 0 1 0 -5.0 0M2015.2 812.5a2.5 2.5 0 1 0 5.0 0a2.5 2.5 0 1 0 -5.0 0M2023.1 794.0a2.5 2.5 0 1 0 5.0 0a2.5 2.5 0 1 0 -5.0 0M2039.1 795.3a2.5 2.5 0 1 0 5.0 0a2.5 2.5 0 1 0 -5.0 0M2039.1 813.0a2.5 2.5 0 1 0 5.0 0a2.5 2.5 0 1 0 -5.0 0M2055.0 792.6a2.5 2.5 0 1 0 5.0 0a2.5 2.5 0 1 0 -5.0 0M2055.0 811.2a2.5 2.5 0 1 0 5.0 0a2.5 2.5 0 1 0 -5.0 0M2079.0 794.5a2.5 2.5 0 1 0 5.0 0a2.5 2.5 0 1 0 -5.0 0" fill="#0c0ce6"/><g fill="#0c0ce6"><rect x="1201.2" y="815.2" width="6.6" height="14.4" rx="3.3"/><rect x="1209.1" y="816.9" width="6.6" height="14.6" rx="3.3"/><rect x="1217.1" y="816.4" width="6.6" height="15.5" rx="3.3"/><rect x="1225.1" y="814.0" width="6.6" height="18.9" rx="3.3"/><rect x="1233.1" y="815.8" width="6.6" height="18.7" rx="3.3"/><rect x="1241.0" y="818.2" width="6.6" height="17.5" rx="3.3"/><rect x="1249.0" y="819.3" width="6.6" height="16.8" rx="3.3"/><rect x="1257.0" y="817.3" width="6.6" height="18.3" rx="3.3"/><rect x="1265.0" y="820.6" width="6.6" height="17.9" rx="3.3"/><rect x="1272.9" y="820.5" width="6.6" height="17.4" rx="3.3"/><rect x="1280.9" y="820.0" width="6.6" height="18.9" rx="3.3"/><rect x="1288.9" y="822.9" width="6.6" height="18.9" rx="3.3"/><rect x="1296.8" y="822.4" width="6.6" height="18.1" rx="3.3"/><rect x="1304.8" y="825.2" width="6.6" height="13.9" rx="3.3"/><rect x="1312.8" y="822.6" width="6.6" height="18.7" rx="3.3"/><rect x="1320.8" y="825.7" width="6.6" height="15.9" rx="3.3"/><rect x="1328.7" y="827.3" width="6.6" height="15.3" rx="3.3"/><rect x="1336.7" y="826.2" width="6.6" height="15.2" rx="3.3"/><rect x="1344.7" y="825.4" width="6.6" height="16.0" rx="3.3"/><rect x="1352.7" y="825.7" width="6.6" height="14.1" rx="3.3"/><rect x="1360.6" y="822.2" width="6.6" height="18.7" rx="3.3"/><rect x="1368.6" y="822.8" width="6.6" height="15.8" rx="3.3"/><rect x="1376.6" y="823.1" width="6.6" height="14.5" rx="3.3"/><rect x="1384.5" y="819.7" width="6.6" height="15.4" rx="3.3"/><rect x="1400.5" y="817.9" width="6.6" height="13.8" rx="3.3"/><rect x="1408.5" y="816.5" width="6.6" height="17.2" rx="3.3"/><rect x="1416.4" y="815.9" width="6.6" height="13.9" rx="3.3"/><rect x="1424.4" y="811.7" width="6.6" height="18.7" rx="3.3"/><rect x="1440.4" y="807.7" width="6.6" height="16.3" rx="3.3"/><rect x="1448.3" y="802.9" width="6.6" height="19.1" rx="3.3"/><rect x="1456.3" y="796.5" width="6.6" height="26.4" rx="3.3"/><rect x="1464.3" y="796.0" width="6.6" height="25.2" rx="3.3"/><rect x="1480.2" y="794.3" width="6.6" height="22.6" rx="3.3"/><rect x="1488.2" y="794.4" width="6.6" height="19.6" rx="3.3"/><rect x="1496.2" y="793.6" width="6.6" height="21.7" rx="3.3"/><rect x="1504.1" y="793.3" width="6.6" height="23.9" rx="3.3"/><rect x="1520.1" y="797.6" width="6.6" height="27.5" rx="3.3"/><rect x="1528.0" y="798.7" width="6.6" height="27.6" rx="3.3"/><rect x="1536.0" y="803.5" width="6.6" height="24.1" rx="3.3"/><rect x="1544.0" y="809.6" width="6.6" height="21.7" rx="3.3"/><rect x="1559.9" y="820.6" width="6.6" height="20.8" rx="3.3"/><rect x="1567.9" y="822.5" width="6.6" height="25.2" rx="3.3"/><rect x="1575.9" y="829.9" width="6.6" height="19.5" rx="3.3"/><rect x="1583.9" y="832.2" width="6.6" height="27.6" rx="3.3"/><rect x="1599.8" y="841.4" width="6.6" height="27.8" rx="3.3"/><rect x="1607.8" y="851.1" width="6.6" height="20.9" rx="3.3"/><rect x="1615.7" y="852.0" width="6.6" height="27.6" rx="3.3"/><rect x="1623.7" y="856.1" width="6.6" height="27.5" rx="3.3"/><rect x="1639.7" y="870.0" width="6.6" height="21.1" rx="3.3"/><rect x="1647.6" y="869.7" width="6.6" height="25.7" rx="3.3"/><rect x="1655.6" y="875.9" width="6.6" height="21.5" rx="3.3"/><rect x="1663.6" y="877.5" width="6.6" height="27.8" rx="3.3"/><rect x="1679.5" y="881.8" width="6.6" height="28.6" rx="3.3"/><rect x="1687.5" y="888.6" width="6.6" height="19.9" rx="3.3"/><rect x="1695.5" y="891.0" width="6.6" height="23.3" rx="3.3"/><rect x="1703.4" y="889.7" width="6.6" height="28.5" rx="3.3"/><rect x="1719.4" y="892.3" width="6.6" height="22.4" rx="3.3"/><rect x="1727.4" y="892.5" width="6.6" height="22.2" rx="3.3"/><rect x="1735.3" y="889.6" width="6.6" height="22.5" rx="3.3"/><rect x="1743.3" y="885.1" width="6.6" height="27.3" rx="3.3"/><rect x="1759.3" y="883.8" width="6.6" height="22.9" rx="3.3"/><rect x="1767.2" y="880.0" width="6.6" height="20.5" rx="3.3"/><rect x="1775.2" y="871.9" width="6.6" height="29.0" rx="3.3"/><rect x="1783.2" y="872.7" width="6.6" height="24.2" rx="3.3"/><rect x="1799.1" y="863.2" width="6.6" height="25.0" rx="3.3"/><rect x="1807.1" y="855.8" width="6.6" height="27.2" rx="3.3"/><rect x="1815.1" y="851.4" width="6.6" height="20.0" rx="3.3"/><rect x="1823.0" y="846.4" width="6.6" height="23.9" rx="3.3"/><rect x="1839.0" y="844.8" width="6.6" height="18.9" rx="3.3"/><rect x="1846.9" y="836.4" width="6.6" height="19.5" rx="3.3"/><rect x="1854.9" y="832.1" width="6.6" height="16.2" rx="3.3"/><rect x="1862.9" y="826.3" width="6.6" height="16.7" rx="3.3"/><rect x="1878.8" y="812.9" width="6.6" height="19.5" rx="3.3"/><rect x="1886.8" y="809.3" width="6.6" height="17.3" rx="3.3"/><rect x="1894.8" y="805.5" width="6.6" height="16.5" rx="3.3"/><rect x="1902.8" y="799.2" width="6.6" height="19.0" rx="3.3"/><rect x="1918.7" y="799.4" width="6.6" height="15.8" rx="3.3"/><rect x="1926.7" y="795.5" width="6.6" height="17.5" rx="3.3"/><rect x="1934.6" y="793.8" width="6.6" height="20.3" rx="3.3"/><rect x="1942.6" y="795.5" width="6.6" height="18.4" rx="3.3"/><rect x="1950.6" y="793.4" width="6.6" height="17.4" rx="3.3"/><rect x="1958.6" y="795.9" width="6.6" height="16.7" rx="3.3"/><rect x="1966.5" y="797.3" width="6.6" height="16.5" rx="3.3"/><rect x="1974.5" y="796.9" width="6.6" height="15.5" rx="3.3"/><rect x="1982.5" y="797.6" width="6.6" height="17.2" rx="3.3"/><rect x="1990.5" y="797.6" width="6.6" height="17.7" rx="3.3"/><rect x="1998.4" y="795.0" width="6.6" height="18.7" rx="3.3"/><rect x="2006.4" y="794.4" width="6.6" height="21.1" rx="3.3"/><rect x="2014.4" y="795.2" width="6.6" height="16.0" rx="3.3"/><rect x="2022.3" y="795.0" width="6.6" height="15.5" rx="3.3"/><rect x="2030.3" y="793.0" width="6.6" height="19.0" rx="3.3"/><rect x="2038.3" y="796.0" width="6.6" height="15.3" rx="3.3"/><rect x="2046.3" y="795.0" width="6.6" height="16.1" rx="3.3"/><rect x="2054.2" y="793.7" width="6.6" height="16.7" rx="3.3"/><rect x="2062.2" y="792.9" width="6.6" height="19.4" rx="3.3"/><rect x="2070.2" y="794.9" width="6.6" height="16.5" rx="3.3"/><rect x="2078.2" y="796.0" width="6.6" height="16.9" rx="3.3"/><rect x="2086.1" y="794.1" width="6.6" height="20.3" rx="3.3"/><rect x="2094.1" y="793.6" width="6.6" height="16.0" rx="3.3"/><rect x="2102.1" y="793.5" width="6.6" height="17.3" rx="3.3"/><rect x="2110.0" y="794.3" width="6.6" height="17.3" rx="3.3"/><rect x="2118.0" y="793.5" width="6.6" height="20.9" rx="3.3"/><rect x="2126.0" y="797.1" width="6.6" height="20.1" rx="3.3"/><rect x="2134.0" y="804.8" width="6.6" height="15.8" rx="3.3"/><rect x="2141.9" y="812.6" width="6.6" height="19.7" rx="3.3"/><rect x="2149.9" y="830.5" width="6.6" height="17.0" rx="3.3"/></g>
<path d="M1268.3 818.2V832.4M1265.3 818.2h6M1265.3 832.4h6M1459.6 806.8V833.2M1456.6 806.8h6M1456.6 833.2h6M1467.6 799.5V833.9M1464.6 799.5h6M1464.6 833.9h6M1483.5 810.9V833.8M1480.5 810.9h6M1480.5 833.8h6M1491.5 807.6V836.2M1488.5 807.6h6M1488.5 836.2h6M1499.5 810.9V836.5M1496.5 810.9h6M1496.5 836.5h6M1507.4 811.9V837.3M1504.4 811.9h6M1504.4 837.3h6M1523.4 812.4V840.9M1520.4 812.4h6M1520.4 840.9h6M1531.3 812.8V836.2M1528.3 812.8h6M1528.3 836.2h6M1547.3 813.3V846.4M1544.3 813.3h6M1544.3 846.4h6M1563.2 819.4V850.2M1560.2 819.4h6M1560.2 850.2h6M1571.2 824.1V851.3M1568.2 824.1h6M1568.2 851.3h6M1579.2 826.6V854.4M1576.2 826.6h6M1576.2 854.4h6M1587.2 830.4V853.4M1584.2 830.4h6M1584.2 853.4h6M1603.1 831.2V865.8M1600.1 831.2h6M1600.1 865.8h6M1611.1 840.8V867.5M1608.1 840.8h6M1608.1 867.5h6M1619.0 841.5V865.4M1616.0 841.5h6M1616.0 865.4h6M1627.0 843.0V868.6M1624.0 843.0h6M1624.0 868.6h6M1643.0 848.3V882.2M1640.0 848.3h6M1640.0 882.2h6M1650.9 849.3V885.2M1647.9 849.3h6M1647.9 885.2h6M1666.9 857.8V884.6M1663.9 857.8h6M1663.9 884.6h6M1682.8 857.8V880.4M1679.8 857.8h6M1679.8 880.4h6M1698.8 857.4V884.8M1695.8 857.4h6M1695.8 884.8h6M1706.7 857.2V883.9M1703.7 857.2h6M1703.7 883.9h6M1722.7 857.6V883.3M1719.7 857.6h6M1719.7 883.3h6M1730.7 852.5V885.9M1727.7 852.5h6M1727.7 885.9h6M1738.6 847.9V884.6M1735.6 847.9h6M1735.6 884.6h6M1746.6 847.3V883.3M1743.6 847.3h6M1743.6 883.3h6M1762.6 844.8V872.6M1759.6 844.8h6M1759.6 872.6h6M1778.5 840.5V865.5M1775.5 840.5h6M1775.5 865.5h6M1786.5 829.0V865.5M1783.5 829.0h6M1783.5 865.5h6M1802.4 825.9V855.1M1799.4 825.9h6M1799.4 855.1h6M1810.4 825.2V850.2M1807.4 825.2h6M1807.4 850.2h6M1826.3 820.7V848.8M1823.3 820.7h6M1823.3 848.8h6M1842.3 819.6V840.4M1839.3 819.6h6M1839.3 840.4h6M1850.2 816.5V836.0M1847.2 816.5h6M1847.2 836.0h6M1858.2 806.7V833.3M1855.2 806.7h6M1855.2 833.3h6M1866.2 807.1V830.3M1863.2 807.1h6M1863.2 830.3h6M1890.1 796.8V822.0M1887.1 796.8h6M1887.1 822.0h6M1898.1 799.5V819.4M1895.1 799.5h6M1895.1 819.4h6M1922.0 790.2V817.4M1919.0 790.2h6M1919.0 817.4h6M1930.0 789.6V819.0M1927.0 789.6h6M1927.0 819.0h6M1937.9 789.1V816.1M1934.9 789.1h6M1934.9 816.1h6M1953.9 792.7V813.5M1950.9 792.7h6M1950.9 813.5h6M1961.9 791.3V813.0M1958.9 791.3h6M1958.9 813.0h6M1977.8 795.3V816.6M1974.8 795.3h6M1974.8 816.6h6M1985.8 797.1V819.2M1982.8 797.1h6M1982.8 819.2h6M1993.8 795.4V818.7M1990.8 795.4h6M1990.8 818.7h6M2001.7 796.3V819.6M1998.7 796.3h6M1998.7 819.6h6M2009.7 792.8V822.3M2006.7 792.8h6M2006.7 822.3h6M2017.7 793.5V820.8M2014.7 793.5h6M2014.7 820.8h6M2033.6 797.7V821.1M2030.6 797.7h6M2030.6 821.1h6M2041.6 794.2V818.9M2038.6 794.2h6M2038.6 818.9h6M2049.6 795.4V823.3M2046.6 795.4h6M2046.6 823.3h6M2057.5 791.8V817.9M2054.5 791.8h6M2054.5 817.9h6M2081.5 791.3V811.1M2078.5 791.3h6M2078.5 811.1h6M2097.4 789.6V815.3M2094.4 789.6h6M2094.4 815.3h6M2105.4 788.2V813.9M2102.4 788.2h6M2102.4 813.9h6M2113.3 792.3V813.0M2110.3 792.3h6M2110.3 813.0h6M2121.3 792.8V813.8M2118.3 792.8h6M2118.3 813.8h6M2129.3 791.3V819.1M2126.3 791.3h6M2126.3 819.1h6M2145.2 800.5V824.2M2142.2 800.5h6M2142.2 824.2h6M2153.2 808.2V832.5M2150.2 808.2h6M2150.2 832.5h6" stroke="#2f9768" stroke-width="1.8" fill="none"/><path d="M1465.1 805.8a2.5 2.5 0 1 0 5.0 0a2.5 2.5 0 1 0 -5.0 0M1465.1 828.2a2.5 2.5 0 1 0 5.0 0a2.5 2.5 0 1 0 -5.0 0M1489.0 812.1a2.5 2.5 0 1 0 5.0 0a2.5 2.5 0 1 0 -5.0 0M1489.0 831.6a2.5 2.5 0 1 0 5.0 0a2.5 2.5 0 1 0 -5.0 0M1544.8 818.3a2.5 2.5 0 1 0 5.0 0a2.5 2.5 0 1 0 -5.0 0M1544.8 842.2a2.5 2.5 0 1 0 5.0 0a2.5 2.5 0 1 0 -5.0 0M1568.7 846.3a2.5 2.5 0 1 0 5.0 0a2.5 2.5 0 1 0 -5.0 0M1576.7 830.7a2.5 2.5 0 1 0 5.0 0a2.5 2.5 0 1 0 -5.0 0M1576.7 850.0a2.5 2.5 0 1 0 5.0 0a2.5 2.5 0 1 0 -5.0 0M1600.6 837.4a2.5 2.5 0 1 0 5.0 0a2.5 2.5 0 1 0 -5.0 0M1600.6 859.8a2.5 2.5 0 1 0 5.0 0a2.5 2.5 0 1 0 -5.0 0M1608.6 862.6a2.5 2.5 0 1 0 5.0 0a2.5 2.5 0 1 0 -5.0 0M1640.5 852.6a2.5 2.5 0 1 0 5.0 0a2.5 2.5 0 1 0 -5.0 0M1640.5 876.6a2.5 2.5 0 1 0 5.0 0a2.5 2.5 0 1 0 -5.0 0M1648.4 853.9a2.5 2.5 0 1 0 5.0 0a2.5 2.5 0 1 0 -5.0 0M1648.4 879.6a2.5 2.5 0 1 0 5.0 0a2.5 2.5 0 1 0 -5.0 0M1704.2 879.3a2.5 2.5 0 1 0 5.0 0a2.5 2.5 0 1 0 -5.0 0M1728.2 856.6a2.5 2.5 0 1 0 5.0 0a2.5 2.5 0 1 0 -5.0 0M1728.2 880.7a2.5 2.5 0 1 0 5.0 0a2.5 2.5 0 1 0 -5.0 0M1736.1 853.5a2.5 2.5 0 1 0 5.0 0a2.5 2.5 0 1 0 -5.0 0M1736.1 879.5a2.5 2.5 0 1 0 5.0 0a2.5 2.5 0 1 0 -5.0 0M1744.1 852.6a2.5 2.5 0 1 0 5.0 0a2.5 2.5 0 1 0 -5.0 0M1744.1 878.0a2.5 2.5 0 1 0 5.0 0a2.5 2.5 0 1 0 -5.0 0M1784.0 835.5a2.5 2.5 0 1 0 5.0 0a2.5 2.5 0 1 0 -5.0 0M1784.0 859.8a2.5 2.5 0 1 0 5.0 0a2.5 2.5 0 1 0 -5.0 0M1823.8 824.8a2.5 2.5 0 1 0 5.0 0a2.5 2.5 0 1 0 -5.0 0M1823.8 844.5a2.5 2.5 0 1 0 5.0 0a2.5 2.5 0 1 0 -5.0 0M1863.7 811.1a2.5 2.5 0 1 0 5.0 0a2.5 2.5 0 1 0 -5.0 0M1919.5 794.4a2.5 2.5 0 1 0 5.0 0a2.5 2.5 0 1 0 -5.0 0M1927.5 794.7a2.5 2.5 0 1 0 5.0 0a2.5 2.5 0 1 0 -5.0 0M1927.5 813.9a2.5 2.5 0 1 0 5.0 0a2.5 2.5 0 1 0 -5.0 0M1935.4 793.6a2.5 2.5 0 1 0 5.0 0a2.5 2.5 0 1 0 -5.0 0M1935.4 811.5a2.5 2.5 0 1 0 5.0 0a2.5 2.5 0 1 0 -5.0 0M2007.2 797.7a2.5 2.5 0 1 0 5.0 0a2.5 2.5 0 1 0 -5.0 0M2007.2 817.2a2.5 2.5 0 1 0 5.0 0a2.5 2.5 0 1 0 -5.0 0M2015.2 798.2a2.5 2.5 0 1 0 5.0 0a2.5 2.5 0 1 0 -5.0 0M2015.2 816.8a2.5 2.5 0 1 0 5.0 0a2.5 2.5 0 1 0 -5.0 0M2047.1 818.5a2.5 2.5 0 1 0 5.0 0a2.5 2.5 0 1 0 -5.0 0" fill="#2f9768"/><g fill="#2f9768"><rect x="1201.2" y="806.9" width="6.6" height="17.4" rx="3.3"/><rect x="1209.1" y="811.5" width="6.6" height="14.8" rx="3.3"/><rect x="1217.1" y="813.4" width="6.6" height="16.4" rx="3.3"/><rect x="1225.1" y="814.4" width="6.6" height="13.6" rx="3.3"/><rect x="1233.1" y="816.3" width="6.6" height="14.0" rx="3.3"/><rect x="1241.0" y="815.6" width="6.6" height="14.9" rx="3.3"/><rect x="1249.0" y="817.1" width="6.6" height="17.7" rx="3.3"/><rect x="1257.0" y="818.5" width="6.6" height="13.8" rx="3.3"/><rect x="1265.0" y="818.4" width="6.6" height="14.2" rx="3.3"/><rect x="1272.9" y="819.8" width="6.6" height="14.3" rx="3.3"/><rect x="1280.9" y="818.0" width="6.6" height="16.6" rx="3.3"/><rect x="1288.9" y="819.4" width="6.6" height="14.6" rx="3.3"/><rect x="1296.8" y="820.7" width="6.6" height="14.9" rx="3.3"/><rect x="1304.8" y="816.8" width="6.6" height="18.9" rx="3.3"/><rect x="1312.8" y="819.0" width="6.6" height="17.8" rx="3.3"/><rect x="1320.8" y="820.6" width="6.6" height="14.3" rx="3.3"/><rect x="1328.7" y="820.7" width="6.6" height="14.7" rx="3.3"/><rect x="1336.7" y="820.4" width="6.6" height="15.9" rx="3.3"/><rect x="1344.7" y="818.9" width="6.6" height="15.7" rx="3.3"/><rect x="1352.7" y="819.4" width="6.6" height="13.7" rx="3.3"/><rect x="1360.6" y="817.4" width="6.6" height="19.1" rx="3.3"/><rect x="1368.6" y="817.4" width="6.6" height="16.6" rx="3.3"/><rect x="1376.6" y="815.9" width="6.6" height="16.9" rx="3.3"/><rect x="1384.5" y="817.8" width="6.6" height="14.6" rx="3.3"/><rect x="1400.5" y="814.4" width="6.6" height="18.7" rx="3.3"/><rect x="1408.5" y="816.2" width="6.6" height="15.3" rx="3.3"/><rect x="1416.4" y="812.0" width="6.6" height="18.1" rx="3.3"/><rect x="1424.4" y="812.0" width="6.6" height="17.4" rx="3.3"/><rect x="1440.4" y="810.1" width="6.6" height="18.9" rx="3.3"/><rect x="1448.3" y="809.5" width="6.6" height="18.9" rx="3.3"/><rect x="1456.3" y="808.6" width="6.6" height="20.2" rx="3.3"/><rect x="1464.3" y="808.9" width="6.6" height="16.9" rx="3.3"/><rect x="1480.2" y="813.7" width="6.6" height="16.8" rx="3.3"/><rect x="1488.2" y="813.3" width="6.6" height="16.9" rx="3.3"/><rect x="1496.2" y="814.4" width="6.6" height="20.1" rx="3.3"/><rect x="1504.1" y="816.4" width="6.6" height="16.6" rx="3.3"/><rect x="1520.1" y="815.6" width="6.6" height="21.0" rx="3.3"/><rect x="1528.0" y="815.6" width="6.6" height="20.5" rx="3.3"/><rect x="1536.0" y="817.0" width="6.6" height="23.7" rx="3.3"/><rect x="1544.0" y="820.0" width="6.6" height="21.4" rx="3.3"/><rect x="1559.9" y="823.0" width="6.6" height="23.8" rx="3.3"/><rect x="1567.9" y="827.9" width="6.6" height="16.6" rx="3.3"/><rect x="1575.9" y="831.5" width="6.6" height="17.4" rx="3.3"/><rect x="1583.9" y="832.5" width="6.6" height="17.7" rx="3.3"/><rect x="1599.8" y="840.4" width="6.6" height="16.8" rx="3.3"/><rect x="1607.8" y="844.5" width="6.6" height="16.5" rx="3.3"/><rect x="1615.7" y="843.2" width="6.6" height="21.9" rx="3.3"/><rect x="1623.7" y="847.2" width="6.6" height="19.4" rx="3.3"/><rect x="1639.7" y="853.6" width="6.6" height="20.6" rx="3.3"/><rect x="1647.6" y="855.2" width="6.6" height="22.1" rx="3.3"/><rect x="1655.6" y="857.6" width="6.6" height="20.7" rx="3.3"/><rect x="1663.6" y="857.9" width="6.6" height="23.9" rx="3.3"/><rect x="1679.5" y="860.7" width="6.6" height="17.0" rx="3.3"/><rect x="1687.5" y="859.8" width="6.6" height="21.2" rx="3.3"/><rect x="1695.5" y="861.1" width="6.6" height="19.8" rx="3.3"/><rect x="1703.4" y="861.2" width="6.6" height="16.8" rx="3.3"/><rect x="1719.4" y="859.2" width="6.6" height="22.0" rx="3.3"/><rect x="1727.4" y="857.5" width="6.6" height="21.3" rx="3.3"/><rect x="1735.3" y="855.7" width="6.6" height="21.9" rx="3.3"/><rect x="1743.3" y="854.6" width="6.6" height="21.5" rx="3.3"/><rect x="1759.3" y="846.6" width="6.6" height="23.5" rx="3.3"/><rect x="1767.2" y="845.4" width="6.6" height="24.0" rx="3.3"/><rect x="1775.2" y="842.8" width="6.6" height="18.8" rx="3.3"/><rect x="1783.2" y="838.6" width="6.6" height="18.7" rx="3.3"/><rect x="1799.1" y="828.3" width="6.6" height="23.8" rx="3.3"/><rect x="1807.1" y="828.0" width="6.6" height="21.6" rx="3.3"/><rect x="1815.1" y="824.0" width="6.6" height="22.9" rx="3.3"/><rect x="1823.0" y="825.5" width="6.6" height="17.9" rx="3.3"/><rect x="1839.0" y="821.5" width="6.6" height="18.1" rx="3.3"/><rect x="1846.9" y="816.4" width="6.6" height="17.5" rx="3.3"/><rect x="1854.9" y="811.2" width="6.6" height="20.3" rx="3.3"/><rect x="1862.9" y="811.9" width="6.6" height="15.3" rx="3.3"/><rect x="1878.8" y="802.3" width="6.6" height="18.6" rx="3.3"/><rect x="1886.8" y="800.9" width="6.6" height="18.0" rx="3.3"/><rect x="1894.8" y="799.0" width="6.6" height="20.4" rx="3.3"/><rect x="1902.8" y="797.0" width="6.6" height="18.6" rx="3.3"/><rect x="1918.7" y="795.3" width="6.6" height="20.6" rx="3.3"/><rect x="1926.7" y="796.5" width="6.6" height="15.5" rx="3.3"/><rect x="1934.6" y="794.9" width="6.6" height="15.4" rx="3.3"/><rect x="1942.6" y="792.9" width="6.6" height="20.3" rx="3.3"/><rect x="1950.6" y="794.0" width="6.6" height="17.3" rx="3.3"/><rect x="1958.6" y="795.2" width="6.6" height="15.4" rx="3.3"/><rect x="1966.5" y="796.9" width="6.6" height="15.4" rx="3.3"/><rect x="1974.5" y="796.3" width="6.6" height="19.5" rx="3.3"/><rect x="1982.5" y="798.8" width="6.6" height="18.6" rx="3.3"/><rect x="1990.5" y="799.6" width="6.6" height="15.5" rx="3.3"/><rect x="1998.4" y="797.8" width="6.6" height="18.5" rx="3.3"/><rect x="2006.4" y="799.3" width="6.6" height="16.1" rx="3.3"/><rect x="2014.4" y="799.7" width="6.6" height="16.4" rx="3.3"/><rect x="2022.3" y="798.0" width="6.6" height="21.4" rx="3.3"/><rect x="2030.3" y="798.2" width="6.6" height="21.2" rx="3.3"/><rect x="2038.3" y="798.0" width="6.6" height="19.0" rx="3.3"/><rect x="2046.3" y="798.5" width="6.6" height="18.5" rx="3.3"/><rect x="2054.2" y="795.8" width="6.6" height="20.1" rx="3.3"/><rect x="2062.2" y="794.8" width="6.6" height="17.7" rx="3.3"/><rect x="2070.2" y="793.9" width="6.6" height="20.4" rx="3.3"/><rect x="2078.2" y="794.5" width="6.6" height="15.2" rx="3.3"/><rect x="2086.1" y="794.8" width="6.6" height="16.4" rx="3.3"/><rect x="2094.1" y="794.0" width="6.6" height="18.5" rx="3.3"/><rect x="2102.1" y="792.2" width="6.6" height="17.8" rx="3.3"/><rect x="2110.0" y="794.2" width="6.6" height="16.7" rx="3.3"/><rect x="2118.0" y="792.7" width="6.6" height="18.5" rx="3.3"/><rect x="2126.0" y="794.5" width="6.6" height="20.3" rx="3.3"/><rect x="2134.0" y="799.0" width="6.6" height="17.6" rx="3.3"/><rect x="2141.9" y="804.3" width="6.6" height="18.8" rx="3.3"/><rect x="2149.9" y="811.3" width="6.6" height="19.8" rx="3.3"/></g>
<path d="M96.0 1166.0H1053.2" stroke="#b3b3f6" stroke-width="4"/>
<path d="M96.0 1193.6L98.0 1189.4L100.0 1185.0L102.0 1181.0L104.0 1177.5L106.0 1174.6L108.0 1172.1L110.0 1169.8L112.0 1167.8L113.9 1166.1L115.9 1164.5L117.9 1163.2L119.9 1162.1L121.9 1161.2L123.9 1160.4L125.9 1159.8L127.9 1159.4L129.9 1159.2L131.9 1159.1L133.9 1159.2L135.9 1159.4L137.9 1159.8L139.9 1160.3L141.9 1161.0L143.9 1161.8L145.9 1162.7L147.8 1164.0L149.8 1165.5L151.8 1167.1L153.8 1168.7L155.8 1170.0L157.8 1170.9L159.8 1171.7L161.8 1172.5L163.8 1173.2L165.8 1173.9L167.8 1174.5L169.8 1175.1L171.8 1175.6L173.8 1176.1L175.8 1176.5L177.8 1176.9L179.8 1177.2L181.7 1177.4L183.7 1177.5L185.7 1177.6L187.7 1177.6L189.7 1177.5L191.7 1177.4L193.7 1177.3L195.7 1177.2L197.7 1177.1L199.7 1177.1L201.7 1177.1L203.7 1177.1L205.7 1177.1L207.7 1177.1L209.7 1177.1L211.7 1177.1L213.7 1177.2L215.6 1177.2L217.6 1177.2L219.6 1177.1L221.6 1177.1L223.6 1177.1L225.6 1177.0L227.6 1176.9L229.6 1176.8L231.6 1176.7L233.6 1176.6L235.6 1176.5L237.6 1176.4L239.6 1176.3L241.6 1176.2L243.6 1176.1L245.6 1176.0L247.6 1175.9L249.6 1175.8L251.5 1175.6L253.5 1175.5L255.5 1175.4L257.5 1175.3L259.5 1175.2L261.5 1175.1L263.5 1175.0L265.5 1174.9L267.5 1174.9L269.5 1174.8L271.5 1174.8L273.5 1174.7L275.5 1174.6L277.5 1174.6L279.5 1174.5L281.5 1174.5L283.5 1174.6L285.4 1174.6L287.4 1174.8L289.4 1174.9L291.4 1175.2L293.4 1175.4L295.4 1175.7L297.4 1176.1L299.4 1176.5L301.4 1176.9L303.4 1177.3L305.4 1177.8L307.4 1178.2L309.4 1178.7L311.4 1179.3L313.4 1179.8L315.4 1180.5L317.4 1181.2L319.3 1182.0L321.3 1182.8L323.3 1183.5L325.3 1184.2L327.3 1184.9L329.3 1185.4L331.3 1186.0L333.3 1186.4L335.3 1186.9L337.3 1187.3L339.3 1187.8L341.3 1188.3L343.3 1188.9L345.3 1189.5L347.3 1190.2L349.3 1191.0L351.3 1191.8L353.2 1192.6L355.2 1193.4L357.2 1194.3L359.2 1195.2L361.2 1196.0L363.2 1196.8L365.2 1197.7L367.2 1198.5L369.2 1199.3L371.2 1200.1L373.2 1200.9L375.2 1201.7L377.2 1202.5L379.2 1203.3L381.2 1204.1L383.2 1204.8L385.2 1205.6L387.1 1206.3L389.1 1207.0L391.1 1207.7L393.1 1208.4L395.1 1209.0L397.1 1209.6L399.1 1210.3L401.1 1210.9L403.1 1211.5L405.1 1212.0L407.1 1212.6L409.1 1213.2L411.1 1213.7L413.1 1214.1L415.1 1214.5L417.1 1214.9L419.1 1215.2L421.0 1215.5L423.0 1215.9L425.0 1216.3L427.0 1216.7L429.0 1217.2L431.0 1217.6L433.0 1218.0L435.0 1218.5L437.0 1218.9L439.0 1219.2L441.0 1219.6L443.0 1219.9L445.0 1220.2L447.0 1220.4L449.0 1220.6L451.0 1220.7L453.0 1220.9L454.9 1221.0L456.9 1221.1L458.9 1221.2L460.9 1221.2L462.9 1221.3L464.9 1221.3L466.9 1221.4L468.9 1221.5L470.9 1221.5L472.9 1221.6L474.9 1221.6L476.9 1221.6L478.9 1221.6L480.9 1221.6L482.9 1221.6L484.9 1221.5L486.9 1221.5L488.9 1221.4L490.8 1221.2L492.8 1221.1L494.8 1220.9L496.8 1220.8L498.8 1220.6L500.8 1220.4L502.8 1220.1L504.8 1219.9L506.8 1219.6L508.8 1219.3L510.8 1219.0L512.8 1218.7L514.8 1218.4L516.8 1218.0L518.8 1217.6L520.8 1217.2L522.8 1216.8L524.7 1216.3L526.7 1215.9L528.7 1215.5L530.7 1215.1L532.7 1214.7L534.7 1214.3L536.7 1213.9L538.7 1213.5L540.7 1213.1L542.7 1212.7L544.7 1212.3L546.7 1212.0L548.7 1211.6L550.7 1211.2L552.7 1210.8L554.7 1210.4L556.7 1210.0L558.6 1209.6L560.6 1209.1L562.6 1208.7L564.6 1208.3L566.6 1207.8L568.6 1207.4L570.6 1207.0L572.6 1206.6L574.6 1206.2L576.6 1205.8L578.6 1205.5L580.6 1205.2L582.6 1204.8L584.6 1204.5L586.6 1204.3L588.6 1204.0L590.6 1203.7L592.5 1203.4L594.5 1203.1L596.5 1202.8L598.5 1202.6L600.5 1202.3L602.5 1202.0L604.5 1201.7L606.5 1201.4L608.5 1201.1L610.5 1200.8L612.5 1200.5L614.5 1200.2L616.5 1199.9L618.5 1199.7L620.5 1199.4L622.5 1199.1L624.5 1198.7L626.4 1198.4L628.4 1198.1L630.4 1197.8L632.4 1197.5L634.4 1197.2L636.4 1196.8L638.4 1196.5L640.4 1196.2L642.4 1195.9L644.4 1195.6L646.4 1195.3L648.4 1195.0L650.4 1194.7L652.4 1194.4L654.4 1194.1L656.4 1193.8L658.4 1193.6L660.3 1193.3L662.3 1193.0L664.3 1192.7L666.3 1192.4L668.3 1192.1L670.3 1191.8L672.3 1191.5L674.3 1191.2L676.3 1190.9L678.3 1190.6L680.3 1190.3L682.3 1190.0L684.3 1189.7L686.3 1189.4L688.3 1189.1L690.3 1188.8L692.3 1188.5L694.3 1188.2L696.2 1187.9L698.2 1187.6L700.2 1187.3L702.2 1187.0L704.2 1186.7L706.2 1186.4L708.2 1186.1L710.2 1185.9L712.2 1185.6L714.2 1185.4L716.2 1185.2L718.2 1185.0L720.2 1184.9L722.2 1184.7L724.2 1184.5L726.2 1184.3L728.2 1184.1L730.1 1183.8L732.1 1183.6L734.1 1183.2L736.1 1182.8L738.1 1182.3L740.1 1181.8L742.1 1181.4L744.1 1181.1L746.1 1180.8L748.1 1180.6L750.1 1180.3L752.1 1180.0L754.1 1179.8L756.1 1179.5L758.1 1179.2L760.1 1178.9L762.1 1178.6L764.0 1178.2L766.0 1177.8L768.0 1177.4L770.0 1176.9L772.0 1176.4L774.0 1175.8L776.0 1175.3L778.0 1174.7L780.0 1174.2L782.0 1173.7L784.0 1173.2L786.0 1172.8L788.0 1172.4L790.0 1172.0L792.0 1171.7L794.0 1171.3L796.0 1171.0L797.9 1170.7L799.9 1170.4L801.9 1170.1L803.9 1169.9L805.9 1169.6L807.9 1169.4L809.9 1169.1L811.9 1168.9L813.9 1168.7L815.9 1168.5L817.9 1168.3L819.9 1168.2L821.9 1168.0L823.9 1167.9L825.9 1167.8L827.9 1167.7L829.9 1167.7L831.8 1167.6L833.8 1167.6L835.8 1167.6L837.8 1167.6L839.8 1167.6L841.8 1167.6L843.8 1167.7L845.8 1167.7L847.8 1167.8L849.8 1168.0L851.8 1168.1L853.8 1168.3L855.8 1168.5L857.8 1168.7L859.8 1169.0L861.8 1169.3L863.8 1169.6L865.7 1170.0L867.7 1170.3L869.7 1170.6L871.7 1170.9L873.7 1171.3L875.7 1171.6L877.7 1171.9L879.7 1172.2L881.7 1172.5L883.7 1172.8L885.7 1173.1L887.7 1173.4L889.7 1173.7L891.7 1174.0L893.7 1174.3L895.7 1174.7L897.7 1175.0L899.6 1175.4L901.6 1175.8L903.6 1176.2L905.6 1176.6L907.6 1177.1L909.6 1177.5L911.6 1177.9L913.6 1178.3L915.6 1178.7L917.6 1179.0L919.6 1179.3L921.6 1179.6L923.6 1179.9L925.6 1180.1L927.6 1180.4L929.6 1180.6L931.6 1180.8L933.6 1181.0L935.5 1181.2L937.5 1181.3L939.5 1181.4L941.5 1181.4L943.5 1181.5L945.5 1181.5L947.5 1181.5L949.5 1181.4L951.5 1181.3L953.5 1181.2L955.5 1181.1L957.5 1180.9L959.5 1180.7L961.5 1180.5L963.5 1180.3L965.5 1180.0L967.5 1179.7L969.4 1179.4L971.4 1179.1L973.4 1178.7L975.4 1178.3L977.4 1177.9L979.4 1177.4L981.4 1177.0L983.4 1176.5L985.4 1176.0L987.4 1175.5L989.4 1174.9L991.4 1174.3L993.4 1173.7L995.4 1173.1L997.4 1172.5L999.4 1171.8L1001.4 1171.2L1003.3 1170.5L1005.3 1169.9L1007.3 1169.3L1009.3 1168.6L1011.3 1167.9L1013.3 1167.2L1015.3 1166.5L1017.3 1165.8L1019.3 1165.2L1021.3 1164.6L1023.3 1164.2L1025.3 1163.8L1027.3 1163.6L1029.3 1163.5L1031.3 1163.6L1033.3 1163.8L1035.3 1164.1L1037.2 1164.6L1039.2 1165.2L1041.2 1166.0L1043.2 1166.9L1045.2 1168.1L1047.2 1169.5L1049.2 1171.1L1051.2 1174.0L1053.2 1178.2" fill="none" stroke="#b6b6b6" stroke-width="6.8" stroke-linejoin="round" stroke-linecap="butt" opacity="0.85"/>
<path d="M96.0 1158.2L98.0 1153.8L100.0 1149.3L102.0 1145.2L104.0 1142.3L106.0 1140.4L108.0 1139.2L110.0 1138.4L112.0 1137.6L113.9 1136.8L115.9 1135.9L117.9 1135.2L119.9 1134.6L121.9 1134.1L123.9 1133.8L125.9 1133.7L127.9 1133.8L129.9 1134.0L131.9 1134.3L133.9 1134.8L135.9 1135.3L137.9 1136.0L139.9 1136.8L141.9 1137.7L143.9 1138.6L145.9 1139.5L147.8 1140.3L149.8 1141.2L151.8 1142.1L153.8 1142.9L155.8 1143.6L157.8 1144.2L159.8 1144.7L161.8 1145.1L163.8 1145.6L165.8 1146.0L167.8 1146.4L169.8 1146.8L171.8 1147.2L173.8 1147.5L175.8 1147.9L177.8 1148.2L179.8 1148.5L181.7 1148.8L183.7 1149.1L185.7 1149.3L187.7 1149.6L189.7 1149.8L191.7 1150.0L193.7 1150.2L195.7 1150.3L197.7 1150.4L199.7 1150.5L201.7 1150.6L203.7 1150.6L205.7 1150.6L207.7 1150.5L209.7 1150.4L211.7 1150.3L213.7 1150.2L215.6 1150.0L217.6 1149.9L219.6 1149.7L221.6 1149.6L223.6 1149.4L225.6 1149.2L227.6 1149.0L229.6 1148.8L231.6 1148.6L233.6 1148.3L235.6 1148.1L237.6 1147.9L239.6 1147.6L241.6 1147.4L243.6 1147.2L245.6 1147.1L247.6 1146.9L249.6 1146.7L251.5 1146.6L253.5 1146.4L255.5 1146.2L257.5 1146.1L259.5 1146.0L261.5 1146.0L263.5 1145.9L265.5 1146.0L267.5 1146.0L269.5 1146.2L271.5 1146.4L273.5 1146.6L275.5 1146.8L277.5 1147.1L279.5 1147.4L281.5 1147.8L283.5 1148.2L285.4 1148.6L287.4 1149.1L289.4 1149.6L291.4 1150.1L293.4 1150.7L295.4 1151.3L297.4 1152.0L299.4 1152.7L301.4 1153.4L303.4 1154.1L305.4 1154.8L307.4 1155.6L309.4 1156.4L311.4 1157.1L313.4 1157.9L315.4 1158.6L317.4 1159.4L319.3 1160.2L321.3 1161.0L323.3 1161.9L325.3 1162.8L327.3 1163.8L329.3 1164.8L331.3 1165.9L333.3 1167.0L335.3 1168.1L337.3 1169.3L339.3 1170.5L341.3 1171.7L343.3 1173.0L345.3 1174.3L347.3 1175.7L349.3 1177.1L351.3 1178.6L353.2 1180.3L355.2 1182.1L357.2 1184.2L359.2 1186.5L361.2 1189.0L363.2 1191.6L365.2 1194.2L367.2 1196.8L369.2 1199.5L371.2 1202.2L373.2 1205.0L375.2 1207.8L377.2 1210.6L379.2 1213.5L381.2 1216.4L383.2 1219.4L385.2 1222.4L387.1 1225.5L389.1 1228.6L391.1 1231.6L393.1 1234.7L395.1 1237.7L397.1 1240.7L399.1 1243.7L401.1 1246.5L403.1 1249.4L405.1 1252.2L407.1 1255.0L409.1 1257.8L411.1 1260.5L413.1 1263.2L415.1 1265.9L417.1 1268.6L419.1 1271.2L421.0 1273.8L423.0 1276.3L425.0 1278.9L427.0 1281.4L429.0 1283.8L431.0 1286.3L433.0 1288.7L435.0 1291.1L437.0 1293.5L439.0 1295.9L441.0 1298.2L443.0 1300.6L445.0 1302.8L447.0 1305.1L449.0 1307.3L451.0 1309.6L453.0 1311.8L454.9 1314.0L456.9 1316.2L458.9 1318.5L460.9 1320.7L462.9 1323.0L464.9 1325.3L466.9 1327.6L468.9 1329.9L470.9 1332.1L472.9 1334.4L474.9 1336.6L476.9 1338.9L478.9 1341.0L480.9 1343.2L482.9 1345.3L484.9 1347.4L486.9 1349.5L488.9 1351.5L490.8 1353.5L492.8 1355.5L494.8 1357.5L496.8 1359.4L498.8 1361.4L500.8 1363.2L502.8 1365.1L504.8 1367.0L506.8 1368.8L508.8 1370.6L510.8 1372.4L512.8 1374.1L514.8 1375.8L516.8 1377.4L518.8 1379.0L520.8 1380.5L522.8 1381.9L524.7 1383.2L526.7 1384.4L528.7 1385.6L530.7 1386.6L532.7 1387.6L534.7 1388.5L536.7 1389.3L538.7 1390.1L540.7 1390.8L542.7 1391.6L544.7 1392.2L546.7 1392.9L548.7 1393.4L550.7 1394.0L552.7 1394.5L554.7 1394.9L556.7 1395.3L558.6 1395.7L560.6 1396.2L562.6 1396.5L564.6 1396.9L566.6 1397.2L568.6 1397.4L570.6 1397.5L572.6 1397.5L574.6 1397.4L576.6 1397.2L578.6 1396.9L580.6 1396.4L582.6 1395.8L584.6 1395.2L586.6 1394.4L588.6 1393.6L590.6 1392.6L592.5 1391.7L594.5 1390.6L596.5 1389.6L598.5 1388.5L600.5 1387.4L602.5 1386.2L604.5 1385.0L606.5 1383.7L608.5 1382.4L610.5 1381.0L612.5 1379.6L614.5 1378.1L616.5 1376.6L618.5 1375.0L620.5 1373.5L622.5 1371.9L624.5 1370.2L626.4 1368.5L628.4 1366.8L630.4 1365.0L632.4 1363.2L634.4 1361.4L636.4 1359.5L638.4 1357.6L640.4 1355.6L642.4 1353.7L644.4 1351.7L646.4 1349.6L648.4 1347.5L650.4 1345.4L652.4 1343.3L654.4 1341.1L656.4 1338.9L658.4 1336.7L660.3 1334.4L662.3 1332.2L664.3 1329.9L666.3 1327.6L668.3 1325.3L670.3 1323.0L672.3 1320.6L674.3 1318.2L676.3 1315.8L678.3 1313.4L680.3 1311.0L682.3 1308.5L684.3 1306.0L686.3 1303.5L688.3 1301.0L690.3 1298.5L692.3 1295.9L694.3 1293.3L696.2 1290.7L698.2 1288.1L700.2 1285.4L702.2 1282.8L704.2 1280.1L706.2 1277.5L708.2 1274.9L710.2 1272.3L712.2 1269.7L714.2 1267.1L716.2 1264.4L718.2 1261.8L720.2 1259.2L722.2 1256.6L724.2 1254.0L726.2 1251.4L728.2 1248.9L730.1 1246.4L732.1 1244.0L734.1 1241.8L736.1 1239.8L738.1 1237.8L740.1 1235.7L742.1 1233.4L744.1 1230.8L746.1 1228.0L748.1 1225.3L750.1 1222.4L752.1 1219.6L754.1 1216.7L756.1 1213.8L758.1 1211.0L760.1 1208.3L762.1 1205.6L764.0 1203.0L766.0 1200.5L768.0 1198.1L770.0 1195.8L772.0 1193.5L774.0 1191.2L776.0 1189.0L778.0 1186.8L780.0 1184.7L782.0 1182.6L784.0 1180.6L786.0 1178.6L788.0 1176.6L790.0 1174.6L792.0 1172.7L794.0 1170.8L796.0 1168.9L797.9 1167.1L799.9 1165.4L801.9 1163.6L803.9 1162.0L805.9 1160.3L807.9 1158.8L809.9 1157.3L811.9 1155.9L813.9 1154.5L815.9 1153.2L817.9 1151.9L819.9 1150.7L821.9 1149.5L823.9 1148.4L825.9 1147.3L827.9 1146.3L829.9 1145.3L831.8 1144.4L833.8 1143.5L835.8 1142.7L837.8 1141.9L839.8 1141.1L841.8 1140.4L843.8 1139.8L845.8 1139.2L847.8 1138.6L849.8 1138.0L851.8 1137.5L853.8 1137.0L855.8 1136.6L857.8 1136.1L859.8 1135.8L861.8 1135.4L863.8 1135.1L865.7 1134.8L867.7 1134.6L869.7 1134.3L871.7 1134.1L873.7 1134.0L875.7 1133.8L877.7 1133.7L879.7 1133.6L881.7 1133.5L883.7 1133.5L885.7 1133.5L887.7 1133.5L889.7 1133.6L891.7 1133.6L893.7 1133.7L895.7 1133.8L897.7 1133.9L899.6 1134.0L901.6 1134.2L903.6 1134.4L905.6 1134.6L907.6 1134.9L909.6 1135.1L911.6 1135.3L913.6 1135.6L915.6 1135.8L917.6 1136.0L919.6 1136.3L921.6 1136.5L923.6 1136.7L925.6 1136.9L927.6 1137.2L929.6 1137.4L931.6 1137.6L933.6 1137.8L935.5 1138.0L937.5 1138.2L939.5 1138.3L941.5 1138.4L943.5 1138.5L945.5 1138.5L947.5 1138.6L949.5 1138.6L951.5 1138.5L953.5 1138.5L955.5 1138.5L957.5 1138.4L959.5 1138.4L961.5 1138.4L963.5 1138.4L965.5 1138.4L967.5 1138.5L969.4 1138.5L971.4 1138.6L973.4 1138.7L975.4 1138.7L977.4 1138.7L979.4 1138.7L981.4 1138.7L983.4 1138.6L985.4 1138.4L987.4 1138.1L989.4 1137.8L991.4 1137.4L993.4 1137.0L995.4 1136.5L997.4 1136.1L999.4 1135.6L1001.4 1135.1L1003.3 1134.6L1005.3 1134.2L1007.3 1133.9L1009.3 1133.5L1011.3 1133.2L1013.3 1132.8L1015.3 1132.5L1017.3 1132.3L1019.3 1132.0L1021.3 1131.8L1023.3 1131.7L1025.3 1131.7L1027.3 1131.7L1029.3 1131.9L1031.3 1132.2L1033.3 1132.6L1035.3 1133.0L1037.2 1133.5L1039.2 1134.1L1041.2 1134.7L1043.2 1135.4L1045.2 1136.2L1047.2 1137.1L1049.2 1138.2L1051.2 1140.0L1053.2 1142.8" fill="none" stroke="#c2c28c" stroke-width="6.8" stroke-linejoin="round" stroke-linecap="butt" opacity="0.85"/>
<path d="M104.0 1170.2V1186.2M101.0 1170.2h6M101.0 1186.2h6M112.0 1159.6V1175.6M109.0 1159.6h6M109.0 1175.6h6M119.9 1154.2V1170.2M116.9 1154.2h6M116.9 1170.2h6M127.9 1147.6V1163.6M124.9 1147.6h6M124.9 1163.6h6M135.9 1146.9V1162.9M132.9 1146.9h6M132.9 1162.9h6M143.9 1152.9V1168.9M140.9 1152.9h6M140.9 1168.9h6M159.8 1166.9V1182.9M156.8 1166.9h6M156.8 1182.9h6M167.8 1164.7V1180.7M164.8 1164.7h6M164.8 1180.7h6M175.8 1169.1V1185.1M172.8 1169.1h6M172.8 1185.1h6M183.7 1172.0V1188.0M180.7 1172.0h6M180.7 1188.0h6M199.7 1165.3V1181.3M196.7 1165.3h6M196.7 1181.3h6M207.7 1165.8V1181.8M204.7 1165.8h6M204.7 1181.8h6M215.7 1171.3V1187.3M212.7 1171.3h6M212.7 1187.3h6M223.6 1168.0V1184.0M220.6 1168.0h6M220.6 1184.0h6M239.6 1172.0V1188.0M236.6 1172.0h6M236.6 1188.0h6M247.6 1169.8V1185.8M244.6 1169.8h6M244.6 1185.8h6M255.5 1168.0V1184.0M252.5 1168.0h6M252.5 1184.0h6M263.5 1167.4V1183.4M260.5 1167.4h6M260.5 1183.4h6M279.5 1169.1V1185.1M276.5 1169.1h6M276.5 1185.1h6M287.4 1170.5V1186.5M284.4 1170.5h6M284.4 1186.5h6M303.4 1165.8V1181.8M300.4 1165.8h6M300.4 1181.8h6M319.3 1172.9V1188.9M316.3 1172.9h6M316.3 1188.9h6M327.3 1178.0V1194.0M324.3 1178.0h6M324.3 1194.0h6M343.3 1178.0V1194.0M340.3 1178.0h6M340.3 1194.0h6M359.2 1186.7V1202.7M356.2 1186.7h6M356.2 1202.7h6M367.2 1186.7V1202.7M364.2 1186.7h6M364.2 1202.7h6M383.2 1196.7V1212.7M380.2 1196.7h6M380.2 1212.7h6M399.1 1202.3V1218.3M396.1 1202.3h6M396.1 1218.3h6M407.1 1204.5V1220.5M404.1 1204.5h6M404.1 1220.5h6M423.0 1202.8V1228.8M420.0 1202.8h6M420.0 1228.8h6M439.0 1214.9V1240.9M436.0 1214.9h6M436.0 1240.9h6M447.0 1204.9V1230.9M444.0 1204.9h6M444.0 1230.9h6M462.9 1207.1V1233.1M459.9 1207.1h6M459.9 1233.1h6M478.9 1216.0V1242.0M475.9 1216.0h6M475.9 1242.0h6M486.9 1207.1V1233.1M483.9 1207.1h6M483.9 1233.1h6M502.8 1207.1V1233.1M499.8 1207.1h6M499.8 1233.1h6M526.7 1209.5V1235.5M523.7 1209.5h6M523.7 1235.5h6M542.7 1191.7V1217.7M539.7 1191.7h6M539.7 1217.7h6M550.7 1189.5V1215.5M547.7 1189.5h6M547.7 1215.5h6M558.6 1187.3V1213.3M555.6 1187.3h6M555.6 1213.3h6M566.6 1194.9V1220.9M563.6 1194.9h6M563.6 1220.9h6M582.6 1186.2V1212.2M579.6 1186.2h6M579.6 1212.2h6M598.5 1192.8V1218.8M595.5 1192.8h6M595.5 1218.8h6M606.5 1191.7V1217.7M603.5 1191.7h6M603.5 1217.7h6M622.5 1190.6V1216.6M619.5 1190.6h6M619.5 1216.6h6M630.4 1193.9V1219.9M627.4 1193.9h6M627.4 1219.9h6M638.4 1185.1V1211.1M635.4 1185.1h6M635.4 1211.1h6M646.4 1184.1V1210.1M643.4 1184.1h6M643.4 1210.1h6M662.3 1182.8V1208.8M659.3 1182.8h6M659.3 1208.8h6M662.3 1187.3V1213.3M659.3 1187.3h6M659.3 1213.3h6M670.3 1179.5V1205.5M667.3 1179.5h6M667.3 1205.5h6M678.3 1177.3V1203.3M675.3 1177.3h6M675.3 1203.3h6M686.3 1178.4V1204.4M683.3 1178.4h6M683.3 1204.4h6M702.2 1173.0V1199.0M699.2 1173.0h6M699.2 1199.0h6M718.2 1174.1V1200.1M715.2 1174.1h6M715.2 1200.1h6M726.2 1171.9V1197.9M723.2 1171.9h6M723.2 1197.9h6M742.1 1170.6V1196.6M739.1 1170.6h6M739.1 1196.6h6M758.1 1171.9V1197.9M755.1 1171.9h6M755.1 1197.9h6M766.0 1167.9V1193.9M763.0 1167.9h6M763.0 1193.9h6M782.0 1163.0V1189.0M779.0 1163.0h6M779.0 1189.0h6M797.9 1159.7V1185.7M794.9 1159.7h6M794.9 1185.7h6M805.9 1156.3V1182.3M802.9 1156.3h6M802.9 1182.3h6M821.9 1151.9V1177.9M818.9 1151.9h6M818.9 1177.9h6M837.8 1152.0V1168.0M834.8 1152.0h6M834.8 1168.0h6M845.8 1155.8V1171.8M842.8 1155.8h6M842.8 1171.8h6M853.8 1159.6V1175.6M850.8 1159.6h6M850.8 1175.6h6M861.8 1159.1V1175.1M858.8 1159.1h6M858.8 1175.1h6M877.7 1172.3V1188.3M874.7 1172.3h6M874.7 1188.3h6M885.7 1164.0V1180.0M882.7 1164.0h6M882.7 1180.0h6M893.7 1165.8V1181.8M890.7 1165.8h6M890.7 1181.8h6M901.6 1170.2V1186.2M898.6 1170.2h6M898.6 1186.2h6M917.6 1182.3V1198.3M914.6 1182.3h6M914.6 1198.3h6M925.6 1182.3V1198.3M922.6 1182.3h6M922.6 1198.3h6M933.6 1177.2V1193.2M930.6 1177.2h6M930.6 1193.2h6M941.5 1168.0V1184.0M938.5 1168.0h6M938.5 1184.0h6M957.5 1163.4V1179.4M954.5 1163.4h6M954.5 1179.4h6M965.5 1160.2V1176.2M962.5 1160.2h6M962.5 1176.2h6M973.4 1162.4V1178.4M970.4 1162.4h6M970.4 1178.4h6M981.4 1162.4V1178.4M978.4 1162.4h6M978.4 1178.4h6M997.4 1168.0V1184.0M994.4 1168.0h6M994.4 1184.0h6M1005.3 1165.8V1181.8M1002.3 1165.8h6M1002.3 1181.8h6M1013.3 1169.1V1185.1M1010.3 1169.1h6M1010.3 1185.1h6M1021.3 1163.4V1179.4M1018.3 1163.4h6M1018.3 1179.4h6M1053.2 1170.2V1186.2M1050.2 1170.2h6M1050.2 1186.2h6" stroke="#8e8e8e" stroke-width="1.8" fill="none"/><path d="M100.6 1178.2a3.4 3.4 0 1 0 6.8 0a3.4 3.4 0 1 0 -6.8 0M108.6 1167.6a3.4 3.4 0 1 0 6.8 0a3.4 3.4 0 1 0 -6.8 0M116.5 1162.2a3.4 3.4 0 1 0 6.8 0a3.4 3.4 0 1 0 -6.8 0M124.5 1155.6a3.4 3.4 0 1 0 6.8 0a3.4 3.4 0 1 0 -6.8 0M132.5 1154.9a3.4 3.4 0 1 0 6.8 0a3.4 3.4 0 1 0 -6.8 0M140.5 1160.9a3.4 3.4 0 1 0 6.8 0a3.4 3.4 0 1 0 -6.8 0M156.4 1174.9a3.4 3.4 0 1 0 6.8 0a3.4 3.4 0 1 0 -6.8 0M164.4 1172.7a3.4 3.4 0 1 0 6.8 0a3.4 3.4 0 1 0 -6.8 0M172.4 1177.1a3.4 3.4 0 1 0 6.8 0a3.4 3.4 0 1 0 -6.8 0M180.3 1180.0a3.4 3.4 0 1 0 6.8 0a3.4 3.4 0 1 0 -6.8 0M196.3 1173.3a3.4 3.4 0 1 0 6.8 0a3.4 3.4 0 1 0 -6.8 0M204.3 1173.8a3.4 3.4 0 1 0 6.8 0a3.4 3.4 0 1 0 -6.8 0M212.3 1179.3a3.4 3.4 0 1 0 6.8 0a3.4 3.4 0 1 0 -6.8 0M220.2 1176.0a3.4 3.4 0 1 0 6.8 0a3.4 3.4 0 1 0 -6.8 0M236.2 1180.0a3.4 3.4 0 1 0 6.8 0a3.4 3.4 0 1 0 -6.8 0M244.2 1177.8a3.4 3.4 0 1 0 6.8 0a3.4 3.4 0 1 0 -6.8 0M252.1 1176.0a3.4 3.4 0 1 0 6.8 0a3.4 3.4 0 1 0 -6.8 0M260.1 1175.4a3.4 3.4 0 1 0 6.8 0a3.4 3.4 0 1 0 -6.8 0M276.1 1177.1a3.4 3.4 0 1 0 6.8 0a3.4 3.4 0 1 0 -6.8 0M284.0 1178.5a3.4 3.4 0 1 0 6.8 0a3.4 3.4 0 1 0 -6.8 0M300.0 1173.8a3.4 3.4 0 1 0 6.8 0a3.4 3.4 0 1 0 -6.8 0M315.9 1180.9a3.4 3.4 0 1 0 6.8 0a3.4 3.4 0 1 0 -6.8 0M323.9 1186.0a3.4 3.4 0 1 0 6.8 0a3.4 3.4 0 1 0 -6.8 0M339.9 1186.0a3.4 3.4 0 1 0 6.8 0a3.4 3.4 0 1 0 -6.8 0M355.8 1194.7a3.4 3.4 0 1 0 6.8 0a3.4 3.4 0 1 0 -6.8 0M363.8 1194.7a3.4 3.4 0 1 0 6.8 0a3.4 3.4 0 1 0 -6.8 0M379.8 1204.7a3.4 3.4 0 1 0 6.8 0a3.4 3.4 0 1 0 -6.8 0M395.7 1210.3a3.4 3.4 0 1 0 6.8 0a3.4 3.4 0 1 0 -6.8 0M403.7 1212.5a3.4 3.4 0 1 0 6.8 0a3.4 3.4 0 1 0 -6.8 0M419.6 1215.8a3.4 3.4 0 1 0 6.8 0a3.4 3.4 0 1 0 -6.8 0M435.6 1227.9a3.4 3.4 0 1 0 6.8 0a3.4 3.4 0 1 0 -6.8 0M443.6 1217.9a3.4 3.4 0 1 0 6.8 0a3.4 3.4 0 1 0 -6.8 0M459.5 1220.1a3.4 3.4 0 1 0 6.8 0a3.4 3.4 0 1 0 -6.8 0M475.5 1229.0a3.4 3.4 0 1 0 6.8 0a3.4 3.4 0 1 0 -6.8 0M483.5 1220.1a3.4 3.4 0 1 0 6.8 0a3.4 3.4 0 1 0 -6.8 0M499.4 1220.1a3.4 3.4 0 1 0 6.8 0a3.4 3.4 0 1 0 -6.8 0M523.3 1222.5a3.4 3.4 0 1 0 6.8 0a3.4 3.4 0 1 0 -6.8 0M539.3 1204.7a3.4 3.4 0 1 0 6.8 0a3.4 3.4 0 1 0 -6.8 0M547.3 1202.5a3.4 3.4 0 1 0 6.8 0a3.4 3.4 0 1 0 -6.8 0M555.2 1200.3a3.4 3.4 0 1 0 6.8 0a3.4 3.4 0 1 0 -6.8 0M563.2 1207.9a3.4 3.4 0 1 0 6.8 0a3.4 3.4 0 1 0 -6.8 0M579.2 1199.2a3.4 3.4 0 1 0 6.8 0a3.4 3.4 0 1 0 -6.8 0M595.1 1205.8a3.4 3.4 0 1 0 6.8 0a3.4 3.4 0 1 0 -6.8 0M603.1 1204.7a3.4 3.4 0 1 0 6.8 0a3.4 3.4 0 1 0 -6.8 0M619.1 1203.6a3.4 3.4 0 1 0 6.8 0a3.4 3.4 0 1 0 -6.8 0M627.0 1206.9a3.4 3.4 0 1 0 6.8 0a3.4 3.4 0 1 0 -6.8 0M635.0 1198.1a3.4 3.4 0 1 0 6.8 0a3.4 3.4 0 1 0 -6.8 0M643.0 1197.1a3.4 3.4 0 1 0 6.8 0a3.4 3.4 0 1 0 -6.8 0M658.9 1195.8a3.4 3.4 0 1 0 6.8 0a3.4 3.4 0 1 0 -6.8 0M658.9 1200.3a3.4 3.4 0 1 0 6.8 0a3.4 3.4 0 1 0 -6.8 0M666.9 1192.5a3.4 3.4 0 1 0 6.8 0a3.4 3.4 0 1 0 -6.8 0M674.9 1190.3a3.4 3.4 0 1 0 6.8 0a3.4 3.4 0 1 0 -6.8 0M682.9 1191.4a3.4 3.4 0 1 0 6.8 0a3.4 3.4 0 1 0 -6.8 0M698.8 1186.0a3.4 3.4 0 1 0 6.8 0a3.4 3.4 0 1 0 -6.8 0M714.8 1187.1a3.4 3.4 0 1 0 6.8 0a3.4 3.4 0 1 0 -6.8 0M722.8 1184.9a3.4 3.4 0 1 0 6.8 0a3.4 3.4 0 1 0 -6.8 0M738.7 1183.6a3.4 3.4 0 1 0 6.8 0a3.4 3.4 0 1 0 -6.8 0M754.7 1184.9a3.4 3.4 0 1 0 6.8 0a3.4 3.4 0 1 0 -6.8 0M762.6 1180.9a3.4 3.4 0 1 0 6.8 0a3.4 3.4 0 1 0 -6.8 0M778.6 1176.0a3.4 3.4 0 1 0 6.8 0a3.4 3.4 0 1 0 -6.8 0M794.5 1172.7a3.4 3.4 0 1 0 6.8 0a3.4 3.4 0 1 0 -6.8 0M802.5 1169.3a3.4 3.4 0 1 0 6.8 0a3.4 3.4 0 1 0 -6.8 0M818.5 1164.9a3.4 3.4 0 1 0 6.8 0a3.4 3.4 0 1 0 -6.8 0M834.4 1160.0a3.4 3.4 0 1 0 6.8 0a3.4 3.4 0 1 0 -6.8 0M842.4 1163.8a3.4 3.4 0 1 0 6.8 0a3.4 3.4 0 1 0 -6.8 0M850.4 1167.6a3.4 3.4 0 1 0 6.8 0a3.4 3.4 0 1 0 -6.8 0M858.4 1167.1a3.4 3.4 0 1 0 6.8 0a3.4 3.4 0 1 0 -6.8 0M874.3 1180.3a3.4 3.4 0 1 0 6.8 0a3.4 3.4 0 1 0 -6.8 0M882.3 1172.0a3.4 3.4 0 1 0 6.8 0a3.4 3.4 0 1 0 -6.8 0M890.3 1173.8a3.4 3.4 0 1 0 6.8 0a3.4 3.4 0 1 0 -6.8 0M898.2 1178.2a3.4 3.4 0 1 0 6.8 0a3.4 3.4 0 1 0 -6.8 0M914.2 1190.3a3.4 3.4 0 1 0 6.8 0a3.4 3.4 0 1 0 -6.8 0M922.2 1190.3a3.4 3.4 0 1 0 6.8 0a3.4 3.4 0 1 0 -6.8 0M930.2 1185.2a3.4 3.4 0 1 0 6.8 0a3.4 3.4 0 1 0 -6.8 0M938.1 1176.0a3.4 3.4 0 1 0 6.8 0a3.4 3.4 0 1 0 -6.8 0M954.1 1171.4a3.4 3.4 0 1 0 6.8 0a3.4 3.4 0 1 0 -6.8 0M962.1 1168.2a3.4 3.4 0 1 0 6.8 0a3.4 3.4 0 1 0 -6.8 0M970.0 1170.4a3.4 3.4 0 1 0 6.8 0a3.4 3.4 0 1 0 -6.8 0M978.0 1170.4a3.4 3.4 0 1 0 6.8 0a3.4 3.4 0 1 0 -6.8 0M994.0 1176.0a3.4 3.4 0 1 0 6.8 0a3.4 3.4 0 1 0 -6.8 0M1001.9 1173.8a3.4 3.4 0 1 0 6.8 0a3.4 3.4 0 1 0 -6.8 0M1009.9 1177.1a3.4 3.4 0 1 0 6.8 0a3.4 3.4 0 1 0 -6.8 0M1017.9 1171.4a3.4 3.4 0 1 0 6.8 0a3.4 3.4 0 1 0 -6.8 0M1049.8 1178.2a3.4 3.4 0 1 0 6.8 0a3.4 3.4 0 1 0 -6.8 0" fill="#8e8e8e"/>
<path d="M104.0 1135.2V1148.2M101.0 1135.2h6M101.0 1148.2h6M112.0 1135.2V1148.2M109.0 1135.2h6M109.0 1148.2h6M119.9 1135.2V1148.2M116.9 1135.2h6M116.9 1148.2h6M127.9 1133.0V1146.0M124.9 1133.0h6M124.9 1146.0h6M135.9 1130.8V1143.8M132.9 1130.8h6M132.9 1143.8h6M143.9 1134.1V1147.1M140.9 1134.1h6M140.9 1147.1h6M159.8 1129.2V1142.2M156.8 1129.2h6M156.8 1142.2h6M167.8 1137.3V1150.3M164.8 1137.3h6M164.8 1150.3h6M175.8 1131.4V1144.4M172.8 1131.4h6M172.8 1144.4h6M183.7 1144.1V1157.1M180.7 1144.1h6M180.7 1157.1h6M199.7 1143.0V1156.0M196.7 1143.0h6M196.7 1156.0h6M207.7 1138.4V1151.4M204.7 1138.4h6M204.7 1151.4h6M215.7 1144.1V1157.1M212.7 1144.1h6M212.7 1157.1h6M223.6 1149.5V1162.5M220.6 1149.5h6M220.6 1162.5h6M239.6 1152.8V1165.8M236.6 1152.8h6M236.6 1165.8h6M247.6 1147.3V1160.3M244.6 1147.3h6M244.6 1160.3h6M255.5 1137.3V1150.3M252.5 1137.3h6M252.5 1150.3h6M263.5 1138.4V1151.4M260.5 1138.4h6M260.5 1151.4h6M279.5 1154.1V1167.1M276.5 1154.1h6M276.5 1167.1h6M287.4 1151.7V1164.7M284.4 1151.7h6M284.4 1164.7h6M303.4 1144.1V1157.1M300.4 1144.1h6M300.4 1157.1h6M319.3 1152.8V1165.8M316.3 1152.8h6M316.3 1165.8h6M327.3 1152.8V1165.8M324.3 1152.8h6M324.3 1165.8h6M343.3 1159.5V1172.5M340.3 1159.5h6M340.3 1172.5h6M359.2 1171.7V1184.7M356.2 1171.7h6M356.2 1184.7h6M367.2 1181.7V1194.7M364.2 1181.7h6M364.2 1194.7h6M383.2 1207.1V1220.1M380.2 1207.1h6M380.2 1220.1h6M399.1 1235.8V1248.8M396.1 1235.8h6M396.1 1248.8h6M407.1 1245.8V1258.8M404.1 1245.8h6M404.1 1258.8h6M423.0 1270.1V1283.1M420.0 1270.1h6M420.0 1283.1h6M439.0 1290.1V1303.1M436.0 1290.1h6M436.0 1303.1h6M447.0 1298.8V1311.8M444.0 1298.8h6M444.0 1311.8h6M462.9 1314.4V1327.4M459.9 1314.4h6M459.9 1327.4h6M478.9 1335.3V1348.3M475.9 1335.3h6M475.9 1348.3h6M486.9 1340.9V1353.9M483.9 1340.9h6M483.9 1353.9h6M502.8 1355.3V1368.3M499.8 1355.3h6M499.8 1368.3h6M526.7 1372.9V1385.9M523.7 1372.9h6M523.7 1385.9h6M542.7 1374.0V1387.0M539.7 1374.0h6M539.7 1387.0h6M542.7 1390.7V1403.7M539.7 1390.7h6M539.7 1403.7h6M550.7 1389.6V1402.6M547.7 1389.6h6M547.7 1402.6h6M558.6 1392.9V1405.9M555.6 1392.9h6M555.6 1405.9h6M566.6 1388.5V1401.5M563.6 1388.5h6M563.6 1401.5h6M582.6 1387.4V1400.4M579.6 1387.4h6M579.6 1400.4h6M598.5 1377.4V1390.4M595.5 1377.4h6M595.5 1390.4h6M606.5 1371.8V1384.8M603.5 1371.8h6M603.5 1384.8h6M622.5 1359.6V1372.6M619.5 1359.6h6M619.5 1372.6h6M630.4 1355.3V1368.3M627.4 1355.3h6M627.4 1368.3h6M638.4 1346.4V1359.4M635.4 1346.4h6M635.4 1359.4h6M638.4 1367.4V1380.4M635.4 1367.4h6M635.4 1380.4h6M646.4 1340.9V1353.9M643.4 1340.9h6M643.4 1353.9h6M646.4 1359.6V1372.6M643.4 1359.6h6M643.4 1372.6h6M662.3 1330.9V1343.9M659.3 1330.9h6M659.3 1343.9h6M662.3 1346.4V1359.4M659.3 1346.4h6M659.3 1359.4h6M670.3 1322.0V1335.0M667.3 1322.0h6M667.3 1335.0h6M678.3 1311.0V1324.0M675.3 1311.0h6M675.3 1324.0h6M686.3 1301.1V1314.1M683.3 1301.1h6M683.3 1314.1h6M702.2 1283.4V1296.4M699.2 1283.4h6M699.2 1296.4h6M718.2 1261.2V1274.2M715.2 1261.2h6M715.2 1274.2h6M726.2 1250.1V1263.1M723.2 1250.1h6M723.2 1263.1h6M742.1 1225.8V1238.8M739.1 1225.8h6M739.1 1238.8h6M758.1 1209.3V1222.3M755.1 1209.3h6M755.1 1222.3h6M766.0 1196.0V1209.0M763.0 1196.0h6M763.0 1209.0h6M782.0 1174.9V1187.9M779.0 1174.9h6M779.0 1187.9h6M797.9 1156.2V1169.2M794.9 1156.2h6M794.9 1169.2h6M805.9 1147.3V1160.3M802.9 1147.3h6M802.9 1160.3h6M821.9 1138.4V1151.4M818.9 1138.4h6M818.9 1151.4h6M837.8 1136.3V1149.3M834.8 1136.3h6M834.8 1149.3h6M845.8 1133.0V1146.0M842.8 1133.0h6M842.8 1146.0h6M853.8 1135.2V1148.2M850.8 1135.2h6M850.8 1148.2h6M861.8 1129.2V1142.2M858.8 1129.2h6M858.8 1142.2h6M877.7 1130.8V1143.8M874.7 1130.8h6M874.7 1143.8h6M885.7 1130.8V1143.8M882.7 1130.8h6M882.7 1143.8h6M893.7 1133.0V1146.0M890.7 1133.0h6M890.7 1146.0h6M901.6 1128.4V1141.4M898.6 1128.4h6M898.6 1141.4h6M917.6 1131.9V1144.9M914.6 1131.9h6M914.6 1144.9h6M925.6 1131.4V1144.4M922.6 1131.4h6M922.6 1144.4h6M933.6 1133.5V1146.5M930.6 1133.5h6M930.6 1146.5h6M941.5 1134.1V1147.1M938.5 1134.1h6M938.5 1147.1h6M957.5 1124.1V1137.1M954.5 1124.1h6M954.5 1137.1h6M965.5 1125.2V1138.2M962.5 1125.2h6M962.5 1138.2h6M973.4 1131.4V1144.4M970.4 1131.4h6M970.4 1144.4h6M981.4 1131.4V1144.4M978.4 1131.4h6M978.4 1144.4h6M997.4 1134.1V1147.1M994.4 1134.1h6M994.4 1147.1h6M1005.3 1128.4V1141.4M1002.3 1128.4h6M1002.3 1141.4h6M1013.3 1127.0V1140.0M1010.3 1127.0h6M1010.3 1140.0h6M1021.3 1130.8V1143.8M1018.3 1130.8h6M1018.3 1143.8h6M1053.2 1136.3V1149.3M1050.2 1136.3h6M1050.2 1149.3h6" stroke="#c3c32a" stroke-width="1.8" fill="none"/><path d="M100.6 1141.7a3.4 3.4 0 1 0 6.8 0a3.4 3.4 0 1 0 -6.8 0M108.6 1141.7a3.4 3.4 0 1 0 6.8 0a3.4 3.4 0 1 0 -6.8 0M116.5 1141.7a3.4 3.4 0 1 0 6.8 0a3.4 3.4 0 1 0 -6.8 0M124.5 1139.5a3.4 3.4 0 1 0 6.8 0a3.4 3.4 0 1 0 -6.8 0M132.5 1137.3a3.4 3.4 0 1 0 6.8 0a3.4 3.4 0 1 0 -6.8 0M140.5 1140.6a3.4 3.4 0 1 0 6.8 0a3.4 3.4 0 1 0 -6.8 0M156.4 1135.7a3.4 3.4 0 1 0 6.8 0a3.4 3.4 0 1 0 -6.8 0M164.4 1143.8a3.4 3.4 0 1 0 6.8 0a3.4 3.4 0 1 0 -6.8 0M172.4 1137.9a3.4 3.4 0 1 0 6.8 0a3.4 3.4 0 1 0 -6.8 0M180.3 1150.6a3.4 3.4 0 1 0 6.8 0a3.4 3.4 0 1 0 -6.8 0M196.3 1149.5a3.4 3.4 0 1 0 6.8 0a3.4 3.4 0 1 0 -6.8 0M204.3 1144.9a3.4 3.4 0 1 0 6.8 0a3.4 3.4 0 1 0 -6.8 0M212.3 1150.6a3.4 3.4 0 1 0 6.8 0a3.4 3.4 0 1 0 -6.8 0M220.2 1156.0a3.4 3.4 0 1 0 6.8 0a3.4 3.4 0 1 0 -6.8 0M236.2 1159.3a3.4 3.4 0 1 0 6.8 0a3.4 3.4 0 1 0 -6.8 0M244.2 1153.8a3.4 3.4 0 1 0 6.8 0a3.4 3.4 0 1 0 -6.8 0M252.1 1143.8a3.4 3.4 0 1 0 6.8 0a3.4 3.4 0 1 0 -6.8 0M260.1 1144.9a3.4 3.4 0 1 0 6.8 0a3.4 3.4 0 1 0 -6.8 0M276.1 1160.6a3.4 3.4 0 1 0 6.8 0a3.4 3.4 0 1 0 -6.8 0M284.0 1158.2a3.4 3.4 0 1 0 6.8 0a3.4 3.4 0 1 0 -6.8 0M300.0 1150.6a3.4 3.4 0 1 0 6.8 0a3.4 3.4 0 1 0 -6.8 0M315.9 1159.3a3.4 3.4 0 1 0 6.8 0a3.4 3.4 0 1 0 -6.8 0M323.9 1159.3a3.4 3.4 0 1 0 6.8 0a3.4 3.4 0 1 0 -6.8 0M339.9 1166.0a3.4 3.4 0 1 0 6.8 0a3.4 3.4 0 1 0 -6.8 0M355.8 1178.2a3.4 3.4 0 1 0 6.8 0a3.4 3.4 0 1 0 -6.8 0M363.8 1188.2a3.4 3.4 0 1 0 6.8 0a3.4 3.4 0 1 0 -6.8 0M379.8 1213.6a3.4 3.4 0 1 0 6.8 0a3.4 3.4 0 1 0 -6.8 0M395.7 1242.3a3.4 3.4 0 1 0 6.8 0a3.4 3.4 0 1 0 -6.8 0M403.7 1252.3a3.4 3.4 0 1 0 6.8 0a3.4 3.4 0 1 0 -6.8 0M419.6 1276.6a3.4 3.4 0 1 0 6.8 0a3.4 3.4 0 1 0 -6.8 0M435.6 1296.6a3.4 3.4 0 1 0 6.8 0a3.4 3.4 0 1 0 -6.8 0M443.6 1305.3a3.4 3.4 0 1 0 6.8 0a3.4 3.4 0 1 0 -6.8 0M459.5 1320.9a3.4 3.4 0 1 0 6.8 0a3.4 3.4 0 1 0 -6.8 0M475.5 1341.8a3.4 3.4 0 1 0 6.8 0a3.4 3.4 0 1 0 -6.8 0M483.5 1347.4a3.4 3.4 0 1 0 6.8 0a3.4 3.4 0 1 0 -6.8 0M499.4 1361.8a3.4 3.4 0 1 0 6.8 0a3.4 3.4 0 1 0 -6.8 0M523.3 1379.4a3.4 3.4 0 1 0 6.8 0a3.4 3.4 0 1 0 -6.8 0M539.3 1380.5a3.4 3.4 0 1 0 6.8 0a3.4 3.4 0 1 0 -6.8 0M539.3 1397.2a3.4 3.4 0 1 0 6.8 0a3.4 3.4 0 1 0 -6.8 0M547.3 1396.1a3.4 3.4 0 1 0 6.8 0a3.4 3.4 0 1 0 -6.8 0M555.2 1399.4a3.4 3.4 0 1 0 6.8 0a3.4 3.4 0 1 0 -6.8 0M563.2 1395.0a3.4 3.4 0 1 0 6.8 0a3.4 3.4 0 1 0 -6.8 0M579.2 1393.9a3.4 3.4 0 1 0 6.8 0a3.4 3.4 0 1 0 -6.8 0M595.1 1383.9a3.4 3.4 0 1 0 6.8 0a3.4 3.4 0 1 0 -6.8 0M603.1 1378.3a3.4 3.4 0 1 0 6.8 0a3.4 3.4 0 1 0 -6.8 0M619.1 1366.1a3.4 3.4 0 1 0 6.8 0a3.4 3.4 0 1 0 -6.8 0M627.0 1361.8a3.4 3.4 0 1 0 6.8 0a3.4 3.4 0 1 0 -6.8 0M635.0 1352.9a3.4 3.4 0 1 0 6.8 0a3.4 3.4 0 1 0 -6.8 0M635.0 1373.9a3.4 3.4 0 1 0 6.8 0a3.4 3.4 0 1 0 -6.8 0M643.0 1347.4a3.4 3.4 0 1 0 6.8 0a3.4 3.4 0 1 0 -6.8 0M643.0 1366.1a3.4 3.4 0 1 0 6.8 0a3.4 3.4 0 1 0 -6.8 0M658.9 1337.4a3.4 3.4 0 1 0 6.8 0a3.4 3.4 0 1 0 -6.8 0M658.9 1352.9a3.4 3.4 0 1 0 6.8 0a3.4 3.4 0 1 0 -6.8 0M666.9 1328.5a3.4 3.4 0 1 0 6.8 0a3.4 3.4 0 1 0 -6.8 0M674.9 1317.5a3.4 3.4 0 1 0 6.8 0a3.4 3.4 0 1 0 -6.8 0M682.9 1307.6a3.4 3.4 0 1 0 6.8 0a3.4 3.4 0 1 0 -6.8 0M698.8 1289.9a3.4 3.4 0 1 0 6.8 0a3.4 3.4 0 1 0 -6.8 0M714.8 1267.7a3.4 3.4 0 1 0 6.8 0a3.4 3.4 0 1 0 -6.8 0M722.8 1256.6a3.4 3.4 0 1 0 6.8 0a3.4 3.4 0 1 0 -6.8 0M738.7 1232.3a3.4 3.4 0 1 0 6.8 0a3.4 3.4 0 1 0 -6.8 0M754.7 1215.8a3.4 3.4 0 1 0 6.8 0a3.4 3.4 0 1 0 -6.8 0M762.6 1202.5a3.4 3.4 0 1 0 6.8 0a3.4 3.4 0 1 0 -6.8 0M778.6 1181.4a3.4 3.4 0 1 0 6.8 0a3.4 3.4 0 1 0 -6.8 0M794.5 1162.7a3.4 3.4 0 1 0 6.8 0a3.4 3.4 0 1 0 -6.8 0M802.5 1153.8a3.4 3.4 0 1 0 6.8 0a3.4 3.4 0 1 0 -6.8 0M818.5 1144.9a3.4 3.4 0 1 0 6.8 0a3.4 3.4 0 1 0 -6.8 0M834.4 1142.8a3.4 3.4 0 1 0 6.8 0a3.4 3.4 0 1 0 -6.8 0M842.4 1139.5a3.4 3.4 0 1 0 6.8 0a3.4 3.4 0 1 0 -6.8 0M850.4 1141.7a3.4 3.4 0 1 0 6.8 0a3.4 3.4 0 1 0 -6.8 0M858.4 1135.7a3.4 3.4 0 1 0 6.8 0a3.4 3.4 0 1 0 -6.8 0M874.3 1137.3a3.4 3.4 0 1 0 6.8 0a3.4 3.4 0 1 0 -6.8 0M882.3 1137.3a3.4 3.4 0 1 0 6.8 0a3.4 3.4 0 1 0 -6.8 0M890.3 1139.5a3.4 3.4 0 1 0 6.8 0a3.4 3.4 0 1 0 -6.8 0M898.2 1134.9a3.4 3.4 0 1 0 6.8 0a3.4 3.4 0 1 0 -6.8 0M914.2 1138.4a3.4 3.4 0 1 0 6.8 0a3.4 3.4 0 1 0 -6.8 0M922.2 1137.9a3.4 3.4 0 1 0 6.8 0a3.4 3.4 0 1 0 -6.8 0M930.2 1140.0a3.4 3.4 0 1 0 6.8 0a3.4 3.4 0 1 0 -6.8 0M938.1 1140.6a3.4 3.4 0 1 0 6.8 0a3.4 3.4 0 1 0 -6.8 0M954.1 1130.6a3.4 3.4 0 1 0 6.8 0a3.4 3.4 0 1 0 -6.8 0M962.1 1131.7a3.4 3.4 0 1 0 6.8 0a3.4 3.4 0 1 0 -6.8 0M970.0 1137.9a3.4 3.4 0 1 0 6.8 0a3.4 3.4 0 1 0 -6.8 0M978.0 1137.9a3.4 3.4 0 1 0 6.8 0a3.4 3.4 0 1 0 -6.8 0M994.0 1140.6a3.4 3.4 0 1 0 6.8 0a3.4 3.4 0 1 0 -6.8 0M1001.9 1134.9a3.4 3.4 0 1 0 6.8 0a3.4 3.4 0 1 0 -6.8 0M1009.9 1133.5a3.4 3.4 0 1 0 6.8 0a3.4 3.4 0 1 0 -6.8 0M1017.9 1137.3a3.4 3.4 0 1 0 6.8 0a3.4 3.4 0 1 0 -6.8 0M1049.8 1142.8a3.4 3.4 0 1 0 6.8 0a3.4 3.4 0 1 0 -6.8 0" fill="#c3c32a"/>
<path d="M1197.3 1165.5H2154.0" stroke="#b3b3f6" stroke-width="4"/>
<path d="M1197.3 1186.0L1199.3 1184.4L1201.3 1182.7L1203.3 1181.0L1205.3 1179.2L1207.3 1177.6L1209.3 1176.1L1211.3 1174.8L1213.2 1173.8L1215.2 1173.1L1217.2 1172.5L1219.2 1172.0L1221.2 1171.6L1223.2 1171.3L1225.2 1171.1L1227.2 1171.0L1229.2 1170.8L1231.2 1170.7L1233.2 1170.7L1235.2 1170.6L1237.2 1170.5L1239.2 1170.5L1241.1 1170.5L1243.1 1170.6L1245.1 1170.7L1247.1 1170.8L1249.1 1171.0L1251.1 1171.1L1253.1 1171.3L1255.1 1171.5L1257.1 1171.6L1259.1 1171.8L1261.1 1171.9L1263.1 1172.1L1265.1 1172.3L1267.1 1172.5L1269.1 1172.7L1271.0 1173.0L1273.0 1173.2L1275.0 1173.4L1277.0 1173.6L1279.0 1173.8L1281.0 1174.0L1283.0 1174.2L1285.0 1174.4L1287.0 1174.6L1289.0 1174.8L1291.0 1175.0L1293.0 1175.2L1295.0 1175.4L1297.0 1175.6L1298.9 1175.8L1300.9 1176.0L1302.9 1176.1L1304.9 1176.2L1306.9 1176.4L1308.9 1176.5L1310.9 1176.6L1312.9 1176.7L1314.9 1176.8L1316.9 1176.9L1318.9 1177.0L1320.9 1177.0L1322.9 1177.1L1324.9 1177.1L1326.9 1177.2L1328.8 1177.2L1330.8 1177.2L1332.8 1177.2L1334.8 1177.2L1336.8 1177.2L1338.8 1177.2L1340.8 1177.2L1342.8 1177.2L1344.8 1177.1L1346.8 1177.1L1348.8 1177.0L1350.8 1176.9L1352.8 1176.8L1354.8 1176.7L1356.7 1176.5L1358.7 1176.4L1360.7 1176.3L1362.7 1176.2L1364.7 1176.1L1366.7 1176.0L1368.7 1176.0L1370.7 1176.0L1372.7 1176.0L1374.7 1176.0L1376.7 1176.0L1378.7 1176.1L1380.7 1176.1L1382.7 1176.2L1384.7 1176.4L1386.6 1176.6L1388.6 1176.9L1390.6 1177.2L1392.6 1177.6L1394.6 1178.1L1396.6 1178.7L1398.6 1179.3L1400.6 1179.9L1402.6 1180.6L1404.6 1181.3L1406.6 1182.0L1408.6 1182.7L1410.6 1183.3L1412.6 1184.0L1414.6 1184.6L1416.5 1185.1L1418.5 1185.7L1420.5 1186.3L1422.5 1186.9L1424.5 1187.5L1426.5 1188.0L1428.5 1188.6L1430.5 1189.2L1432.5 1189.8L1434.5 1190.4L1436.5 1191.0L1438.5 1191.6L1440.5 1192.2L1442.5 1192.9L1444.4 1193.5L1446.4 1194.1L1448.4 1194.8L1450.4 1195.4L1452.4 1196.0L1454.4 1196.6L1456.4 1197.1L1458.4 1197.7L1460.4 1198.2L1462.4 1198.8L1464.4 1199.3L1466.4 1199.8L1468.4 1200.3L1470.4 1200.8L1472.4 1201.3L1474.3 1201.7L1476.3 1202.1L1478.3 1202.5L1480.3 1202.9L1482.3 1203.2L1484.3 1203.5L1486.3 1203.8L1488.3 1204.1L1490.3 1204.3L1492.3 1204.5L1494.3 1204.7L1496.3 1204.9L1498.3 1205.1L1500.3 1205.3L1502.2 1205.4L1504.2 1205.5L1506.2 1205.6L1508.2 1205.6L1510.2 1205.7L1512.2 1205.7L1514.2 1205.7L1516.2 1205.7L1518.2 1205.8L1520.2 1205.8L1522.2 1205.9L1524.2 1206.0L1526.2 1206.0L1528.2 1206.2L1530.2 1206.3L1532.1 1206.4L1534.1 1206.5L1536.1 1206.6L1538.1 1206.7L1540.1 1206.8L1542.1 1206.9L1544.1 1206.9L1546.1 1207.0L1548.1 1207.0L1550.1 1207.0L1552.1 1207.0L1554.1 1207.0L1556.1 1207.0L1558.1 1207.0L1560.0 1207.0L1562.0 1207.0L1564.0 1206.9L1566.0 1206.9L1568.0 1206.9L1570.0 1207.0L1572.0 1207.0L1574.0 1207.0L1576.0 1207.0L1578.0 1207.0L1580.0 1207.0L1582.0 1207.0L1584.0 1207.0L1586.0 1207.0L1588.0 1207.0L1589.9 1206.9L1591.9 1206.8L1593.9 1206.8L1595.9 1206.7L1597.9 1206.6L1599.9 1206.5L1601.9 1206.4L1603.9 1206.3L1605.9 1206.2L1607.9 1206.0L1609.9 1205.9L1611.9 1205.7L1613.9 1205.6L1615.9 1205.4L1617.8 1205.2L1619.8 1205.0L1621.8 1204.8L1623.8 1204.6L1625.8 1204.4L1627.8 1204.2L1629.8 1203.9L1631.8 1203.7L1633.8 1203.5L1635.8 1203.3L1637.8 1203.1L1639.8 1202.9L1641.8 1202.7L1643.8 1202.5L1645.8 1202.3L1647.7 1202.1L1649.7 1201.9L1651.7 1201.7L1653.7 1201.5L1655.7 1201.4L1657.7 1201.3L1659.7 1201.2L1661.7 1201.1L1663.7 1201.0L1665.7 1200.9L1667.7 1200.8L1669.7 1200.7L1671.7 1200.6L1673.7 1200.5L1675.7 1200.5L1677.6 1200.4L1679.6 1200.3L1681.6 1200.2L1683.6 1200.1L1685.6 1200.0L1687.6 1199.9L1689.6 1199.8L1691.6 1199.7L1693.6 1199.6L1695.6 1199.5L1697.6 1199.4L1699.6 1199.3L1701.6 1199.2L1703.6 1199.0L1705.5 1198.9L1707.5 1198.8L1709.5 1198.7L1711.5 1198.6L1713.5 1198.5L1715.5 1198.4L1717.5 1198.3L1719.5 1198.2L1721.5 1198.2L1723.5 1198.2L1725.5 1198.2L1727.5 1198.2L1729.5 1198.2L1731.5 1198.2L1733.5 1198.2L1735.4 1198.3L1737.4 1198.3L1739.4 1198.3L1741.4 1198.2L1743.4 1198.2L1745.4 1198.1L1747.4 1198.1L1749.4 1198.0L1751.4 1197.9L1753.4 1197.8L1755.4 1197.7L1757.4 1197.6L1759.4 1197.4L1761.4 1197.3L1763.3 1197.2L1765.3 1197.1L1767.3 1197.0L1769.3 1196.9L1771.3 1196.8L1773.3 1196.7L1775.3 1196.6L1777.3 1196.5L1779.3 1196.4L1781.3 1196.3L1783.3 1196.1L1785.3 1196.0L1787.3 1195.8L1789.3 1195.7L1791.3 1195.5L1793.2 1195.4L1795.2 1195.2L1797.2 1195.0L1799.2 1194.8L1801.2 1194.6L1803.2 1194.4L1805.2 1194.2L1807.2 1193.9L1809.2 1193.7L1811.2 1193.3L1813.2 1192.9L1815.2 1192.4L1817.2 1192.0L1819.2 1191.6L1821.1 1191.3L1823.1 1191.1L1825.1 1190.9L1827.1 1190.7L1829.1 1190.5L1831.1 1190.4L1833.1 1190.2L1835.1 1190.0L1837.1 1189.9L1839.1 1189.7L1841.1 1189.4L1843.1 1189.2L1845.1 1188.9L1847.1 1188.7L1849.1 1188.4L1851.0 1188.1L1853.0 1187.8L1855.0 1187.5L1857.0 1187.2L1859.0 1186.9L1861.0 1186.6L1863.0 1186.2L1865.0 1185.9L1867.0 1185.5L1869.0 1185.2L1871.0 1184.8L1873.0 1184.4L1875.0 1184.0L1877.0 1183.6L1878.9 1183.2L1880.9 1182.8L1882.9 1182.4L1884.9 1181.9L1886.9 1181.5L1888.9 1181.0L1890.9 1180.5L1892.9 1180.0L1894.9 1179.5L1896.9 1178.9L1898.9 1178.4L1900.9 1177.9L1902.9 1177.4L1904.9 1176.9L1906.9 1176.4L1908.8 1175.9L1910.8 1175.5L1912.8 1175.0L1914.8 1174.6L1916.8 1174.2L1918.8 1173.7L1920.8 1173.3L1922.8 1173.0L1924.8 1172.6L1926.8 1172.2L1928.8 1171.9L1930.8 1171.6L1932.8 1171.3L1934.8 1171.1L1936.7 1170.8L1938.7 1170.6L1940.7 1170.4L1942.7 1170.3L1944.7 1170.1L1946.7 1169.9L1948.7 1169.8L1950.7 1169.6L1952.7 1169.5L1954.7 1169.3L1956.7 1169.2L1958.7 1169.0L1960.7 1168.9L1962.7 1168.7L1964.7 1168.6L1966.6 1168.5L1968.6 1168.4L1970.6 1168.4L1972.6 1168.4L1974.6 1168.4L1976.6 1168.4L1978.6 1168.5L1980.6 1168.7L1982.6 1168.8L1984.6 1169.0L1986.6 1169.2L1988.6 1169.4L1990.6 1169.7L1992.6 1169.9L1994.6 1170.2L1996.5 1170.5L1998.5 1170.8L2000.5 1171.2L2002.5 1171.5L2004.5 1171.9L2006.5 1172.4L2008.5 1172.8L2010.5 1173.2L2012.5 1173.7L2014.5 1174.1L2016.5 1174.5L2018.5 1174.9L2020.5 1175.2L2022.5 1175.5L2024.4 1175.8L2026.4 1176.1L2028.4 1176.4L2030.4 1176.6L2032.4 1176.9L2034.4 1177.2L2036.4 1177.5L2038.4 1177.8L2040.4 1178.1L2042.4 1178.5L2044.4 1178.8L2046.4 1179.2L2048.4 1179.6L2050.4 1180.0L2052.4 1180.3L2054.3 1180.8L2056.3 1181.2L2058.3 1181.6L2060.3 1182.1L2062.3 1182.6L2064.3 1183.1L2066.3 1183.6L2068.3 1184.2L2070.3 1184.8L2072.3 1185.5L2074.3 1186.1L2076.3 1186.7L2078.3 1187.4L2080.3 1188.0L2082.2 1188.6L2084.2 1189.1L2086.2 1189.6L2088.2 1190.1L2090.2 1190.6L2092.2 1191.0L2094.2 1191.5L2096.2 1191.9L2098.2 1192.3L2100.2 1192.7L2102.2 1193.0L2104.2 1193.3L2106.2 1193.5L2108.2 1193.7L2110.2 1193.9L2112.1 1194.0L2114.1 1194.1L2116.1 1194.1L2118.1 1194.1L2120.1 1194.1L2122.1 1194.0L2124.1 1194.0L2126.1 1193.9L2128.1 1193.7L2130.1 1193.6L2132.1 1193.4L2134.1 1193.1L2136.1 1192.7L2138.1 1192.2L2140.0 1191.6L2142.0 1190.9L2144.0 1190.0L2146.0 1189.0L2148.0 1188.0L2150.0 1187.0L2152.0 1185.9L2154.0 1184.9" fill="none" stroke="#b6b6b6" stroke-width="6.8" stroke-linejoin="round" stroke-linecap="butt" opacity="0.85"/>
<path d="M1197.3 1206.9L1199.3 1207.1L1201.3 1207.2L1203.3 1207.4L1205.3 1207.5L1207.3 1207.6L1209.3 1207.8L1211.3 1207.9L1213.2 1208.0L1215.2 1208.1L1217.2 1208.3L1219.2 1208.4L1221.2 1208.5L1223.2 1208.6L1225.2 1208.6L1227.2 1208.7L1229.2 1208.8L1231.2 1208.9L1233.2 1209.0L1235.2 1209.1L1237.2 1209.2L1239.2 1209.3L1241.1 1209.4L1243.1 1209.5L1245.1 1209.6L1247.1 1209.6L1249.1 1209.7L1251.1 1209.8L1253.1 1209.9L1255.1 1210.1L1257.1 1210.2L1259.1 1210.3L1261.1 1210.5L1263.1 1210.7L1265.1 1210.9L1267.1 1211.1L1269.1 1211.3L1271.0 1211.5L1273.0 1211.7L1275.0 1211.9L1277.0 1212.1L1279.0 1212.4L1281.0 1212.6L1283.0 1212.8L1285.0 1213.0L1287.0 1213.2L1289.0 1213.4L1291.0 1213.6L1293.0 1213.8L1295.0 1214.1L1297.0 1214.3L1298.9 1214.5L1300.9 1214.7L1302.9 1214.9L1304.9 1215.1L1306.9 1215.3L1308.9 1215.5L1310.9 1215.7L1312.9 1216.0L1314.9 1216.2L1316.9 1216.4L1318.9 1216.5L1320.9 1216.7L1322.9 1216.9L1324.9 1217.0L1326.9 1217.2L1328.8 1217.3L1330.8 1217.5L1332.8 1217.6L1334.8 1217.7L1336.8 1217.8L1338.8 1217.9L1340.8 1218.0L1342.8 1218.0L1344.8 1218.0L1346.8 1218.0L1348.8 1218.0L1350.8 1217.9L1352.8 1217.8L1354.8 1217.7L1356.7 1217.6L1358.7 1217.4L1360.7 1217.3L1362.7 1217.2L1364.7 1217.1L1366.7 1217.0L1368.7 1216.9L1370.7 1216.9L1372.7 1216.8L1374.7 1216.7L1376.7 1216.7L1378.7 1216.6L1380.7 1216.6L1382.7 1216.6L1384.7 1216.6L1386.6 1216.7L1388.6 1216.8L1390.6 1217.0L1392.6 1217.2L1394.6 1217.6L1396.6 1217.9L1398.6 1218.3L1400.6 1218.8L1402.6 1219.2L1404.6 1219.7L1406.6 1220.2L1408.6 1220.6L1410.6 1221.0L1412.6 1221.4L1414.6 1221.7L1416.5 1222.0L1418.5 1222.3L1420.5 1222.5L1422.5 1222.8L1424.5 1223.0L1426.5 1223.3L1428.5 1223.6L1430.5 1223.9L1432.5 1224.2L1434.5 1224.6L1436.5 1225.0L1438.5 1225.4L1440.5 1225.9L1442.5 1226.4L1444.4 1226.9L1446.4 1227.4L1448.4 1227.9L1450.4 1228.5L1452.4 1229.1L1454.4 1229.6L1456.4 1230.2L1458.4 1230.8L1460.4 1231.5L1462.4 1232.1L1464.4 1232.8L1466.4 1233.5L1468.4 1234.2L1470.4 1235.0L1472.4 1235.7L1474.3 1236.4L1476.3 1237.1L1478.3 1237.7L1480.3 1238.4L1482.3 1239.0L1484.3 1239.7L1486.3 1240.3L1488.3 1241.0L1490.3 1241.6L1492.3 1242.2L1494.3 1242.9L1496.3 1243.5L1498.3 1244.1L1500.3 1244.7L1502.2 1245.3L1504.2 1245.9L1506.2 1246.5L1508.2 1247.0L1510.2 1247.6L1512.2 1248.2L1514.2 1248.7L1516.2 1249.3L1518.2 1250.0L1520.2 1250.6L1522.2 1251.3L1524.2 1252.0L1526.2 1252.8L1528.2 1253.5L1530.2 1254.3L1532.1 1255.2L1534.1 1256.0L1536.1 1256.8L1538.1 1257.6L1540.1 1258.4L1542.1 1259.2L1544.1 1259.9L1546.1 1260.5L1548.1 1261.2L1550.1 1261.8L1552.1 1262.4L1554.1 1263.0L1556.1 1263.5L1558.1 1264.1L1560.0 1264.7L1562.0 1265.3L1564.0 1265.9L1566.0 1266.6L1568.0 1267.3L1570.0 1268.0L1572.0 1268.8L1574.0 1269.6L1576.0 1270.4L1578.0 1271.1L1580.0 1271.9L1582.0 1272.8L1584.0 1273.6L1586.0 1274.4L1588.0 1275.2L1589.9 1276.0L1591.9 1276.8L1593.9 1277.6L1595.9 1278.4L1597.9 1279.2L1599.9 1280.0L1601.9 1280.8L1603.9 1281.7L1605.9 1282.5L1607.9 1283.3L1609.9 1284.1L1611.9 1284.9L1613.9 1285.7L1615.9 1286.5L1617.8 1287.3L1619.8 1288.1L1621.8 1288.9L1623.8 1289.7L1625.8 1290.5L1627.8 1291.2L1629.8 1292.0L1631.8 1292.7L1633.8 1293.4L1635.8 1294.1L1637.8 1294.7L1639.8 1295.4L1641.8 1296.0L1643.8 1296.7L1645.8 1297.3L1647.7 1297.9L1649.7 1298.4L1651.7 1299.0L1653.7 1299.5L1655.7 1300.0L1657.7 1300.5L1659.7 1301.0L1661.7 1301.4L1663.7 1301.9L1665.7 1302.3L1667.7 1302.7L1669.7 1303.1L1671.7 1303.4L1673.7 1303.7L1675.7 1303.9L1677.6 1304.1L1679.6 1304.3L1681.6 1304.4L1683.6 1304.5L1685.6 1304.5L1687.6 1304.5L1689.6 1304.4L1691.6 1304.4L1693.6 1304.3L1695.6 1304.2L1697.6 1304.1L1699.6 1304.0L1701.6 1303.9L1703.6 1303.8L1705.5 1303.7L1707.5 1303.6L1709.5 1303.4L1711.5 1303.2L1713.5 1303.0L1715.5 1302.7L1717.5 1302.5L1719.5 1302.1L1721.5 1301.7L1723.5 1301.3L1725.5 1300.9L1727.5 1300.4L1729.5 1299.8L1731.5 1299.3L1733.5 1298.7L1735.4 1298.1L1737.4 1297.4L1739.4 1296.7L1741.4 1296.0L1743.4 1295.2L1745.4 1294.3L1747.4 1293.5L1749.4 1292.5L1751.4 1291.5L1753.4 1290.5L1755.4 1289.5L1757.4 1288.4L1759.4 1287.3L1761.4 1286.2L1763.3 1285.1L1765.3 1284.0L1767.3 1282.9L1769.3 1281.8L1771.3 1280.7L1773.3 1279.5L1775.3 1278.3L1777.3 1277.2L1779.3 1276.0L1781.3 1274.7L1783.3 1273.5L1785.3 1272.2L1787.3 1271.0L1789.3 1269.6L1791.3 1268.2L1793.2 1266.8L1795.2 1265.3L1797.2 1263.9L1799.2 1262.4L1801.2 1260.9L1803.2 1259.5L1805.2 1258.1L1807.2 1256.8L1809.2 1255.5L1811.2 1254.5L1813.2 1253.8L1815.2 1253.2L1817.2 1252.6L1819.2 1251.6L1821.1 1250.3L1823.1 1248.9L1825.1 1247.4L1827.1 1245.9L1829.1 1244.3L1831.1 1242.7L1833.1 1241.0L1835.1 1239.4L1837.1 1237.7L1839.1 1236.1L1841.1 1234.5L1843.1 1232.9L1845.1 1231.3L1847.1 1229.6L1849.1 1228.0L1851.0 1226.4L1853.0 1224.7L1855.0 1223.1L1857.0 1221.5L1859.0 1219.9L1861.0 1218.3L1863.0 1216.8L1865.0 1215.3L1867.0 1213.7L1869.0 1212.2L1871.0 1210.7L1873.0 1209.2L1875.0 1207.7L1877.0 1206.3L1878.9 1204.9L1880.9 1203.5L1882.9 1202.3L1884.9 1201.1L1886.9 1200.0L1888.9 1198.9L1890.9 1197.9L1892.9 1197.0L1894.9 1196.1L1896.9 1195.3L1898.9 1194.6L1900.9 1193.8L1902.9 1193.2L1904.9 1192.5L1906.9 1191.9L1908.8 1191.4L1910.8 1190.9L1912.8 1190.4L1914.8 1190.0L1916.8 1189.7L1918.8 1189.4L1920.8 1189.1L1922.8 1188.9L1924.8 1188.7L1926.8 1188.5L1928.8 1188.3L1930.8 1188.2L1932.8 1188.1L1934.8 1188.0L1936.7 1187.9L1938.7 1187.9L1940.7 1187.9L1942.7 1187.9L1944.7 1188.0L1946.7 1188.0L1948.7 1188.1L1950.7 1188.2L1952.7 1188.2L1954.7 1188.3L1956.7 1188.3L1958.7 1188.3L1960.7 1188.4L1962.7 1188.4L1964.7 1188.5L1966.6 1188.6L1968.6 1188.7L1970.6 1188.9L1972.6 1189.1L1974.6 1189.3L1976.6 1189.6L1978.6 1189.9L1980.6 1190.2L1982.6 1190.6L1984.6 1191.0L1986.6 1191.4L1988.6 1191.9L1990.6 1192.3L1992.6 1192.7L1994.6 1193.2L1996.5 1193.6L1998.5 1194.0L2000.5 1194.4L2002.5 1194.9L2004.5 1195.3L2006.5 1195.8L2008.5 1196.2L2010.5 1196.6L2012.5 1197.1L2014.5 1197.4L2016.5 1197.8L2018.5 1198.1L2020.5 1198.4L2022.5 1198.7L2024.4 1199.0L2026.4 1199.2L2028.4 1199.4L2030.4 1199.6L2032.4 1199.8L2034.4 1200.0L2036.4 1200.1L2038.4 1200.3L2040.4 1200.4L2042.4 1200.5L2044.4 1200.5L2046.4 1200.5L2048.4 1200.5L2050.4 1200.4L2052.4 1200.4L2054.3 1200.3L2056.3 1200.3L2058.3 1200.3L2060.3 1200.3L2062.3 1200.4L2064.3 1200.5L2066.3 1200.6L2068.3 1200.8L2070.3 1201.0L2072.3 1201.3L2074.3 1201.5L2076.3 1201.8L2078.3 1202.0L2080.3 1202.2L2082.2 1202.4L2084.2 1202.5L2086.2 1202.6L2088.2 1202.7L2090.2 1202.7L2092.2 1202.7L2094.2 1202.6L2096.2 1202.6L2098.2 1202.5L2100.2 1202.5L2102.2 1202.5L2104.2 1202.5L2106.2 1202.5L2108.2 1202.6L2110.2 1202.7L2112.1 1202.8L2114.1 1203.0L2116.1 1203.1L2118.1 1203.3L2120.1 1203.5L2122.1 1203.7L2124.1 1203.9L2126.1 1204.2L2128.1 1204.5L2130.1 1204.9L2132.1 1205.3L2134.1 1205.7L2136.1 1206.3L2138.1 1207.0L2140.0 1207.8L2142.0 1208.9L2144.0 1210.3L2146.0 1212.0L2148.0 1214.0L2150.0 1216.1L2152.0 1218.2L2154.0 1220.2" fill="none" stroke="#c2c28c" stroke-width="6.8" stroke-linejoin="round" stroke-linecap="butt" opacity="0.85"/>
<path d="M1204.5 1199.1V1218.1M1201.5 1199.1h6M1201.5 1218.1h6M1220.4 1199.0V1216.0M1217.4 1199.0h6M1217.4 1216.0h6M1228.4 1197.5V1219.5M1225.4 1197.5h6M1225.4 1219.5h6M1236.4 1196.3V1222.5M1233.4 1196.3h6M1233.4 1222.5h6M1252.3 1195.0V1223.2M1249.3 1195.0h6M1249.3 1223.2h6M1260.3 1197.5V1225.5M1257.3 1197.5h6M1257.3 1225.5h6M1268.3 1198.5V1226.4M1265.3 1198.5h6M1265.3 1226.4h6M1276.2 1202.3V1219.5M1273.2 1202.3h6M1273.2 1219.5h6M1284.2 1200.3V1223.1M1281.2 1200.3h6M1281.2 1223.1h6M1292.2 1198.4V1227.2M1289.2 1198.4h6M1289.2 1227.2h6M1308.1 1203.0V1227.7M1305.1 1203.0h6M1305.1 1227.7h6M1324.1 1206.9V1226.3M1321.1 1206.9h6M1321.1 1226.3h6M1332.0 1207.0V1232.2M1329.0 1207.0h6M1329.0 1232.2h6M1340.0 1208.3V1226.5M1337.0 1208.3h6M1337.0 1226.5h6M1356.0 1207.1V1226.3M1353.0 1207.1h6M1353.0 1226.3h6M1363.9 1203.3V1227.2M1360.9 1203.3h6M1360.9 1227.2h6M1371.9 1203.7V1228.9M1368.9 1203.7h6M1368.9 1228.9h6M1379.9 1202.8V1226.5M1376.9 1202.8h6M1376.9 1226.5h6M1387.8 1206.8V1229.2M1384.8 1206.8h6M1384.8 1229.2h6M1403.8 1210.7V1233.0M1400.8 1210.7h6M1400.8 1233.0h6M1411.8 1210.0V1233.0M1408.8 1210.0h6M1408.8 1233.0h6M1419.7 1210.2V1234.1M1416.7 1210.2h6M1416.7 1234.1h6M1427.7 1207.5V1238.1M1424.7 1207.5h6M1424.7 1238.1h6M1443.7 1210.8V1237.9M1440.7 1210.8h6M1440.7 1237.9h6M1451.6 1215.0V1240.1M1448.6 1215.0h6M1448.6 1240.1h6M1459.6 1220.6V1240.4M1456.6 1220.6h6M1456.6 1240.4h6M1467.6 1221.7V1244.9M1464.6 1221.7h6M1464.6 1244.9h6M1483.5 1230.3V1250.3M1480.5 1230.3h6M1480.5 1250.3h6M1491.5 1230.5V1251.8M1488.5 1230.5h6M1488.5 1251.8h6M1531.3 1242.4V1266.2M1528.3 1242.4h6M1528.3 1266.2h6M1539.3 1250.8V1267.2M1536.3 1250.8h6M1536.3 1267.2h6M1547.3 1246.9V1271.5M1544.3 1246.9h6M1544.3 1271.5h6M1563.2 1253.0V1277.5M1560.2 1253.0h6M1560.2 1277.5h6M1571.2 1259.5V1279.1M1568.2 1259.5h6M1568.2 1279.1h6M1579.2 1261.7V1284.5M1576.2 1261.7h6M1576.2 1284.5h6M1587.2 1260.6V1288.3M1584.2 1260.6h6M1584.2 1288.3h6M1603.1 1272.3V1291.3M1600.1 1272.3h6M1600.1 1291.3h6M1611.1 1273.3V1298.6M1608.1 1273.3h6M1608.1 1298.6h6M1619.0 1277.0V1299.3M1616.0 1277.0h6M1616.0 1299.3h6M1627.0 1278.7V1302.7M1624.0 1278.7h6M1624.0 1302.7h6M1643.0 1282.9V1305.0M1640.0 1282.9h6M1640.0 1305.0h6M1650.9 1291.0V1309.5M1647.9 1291.0h6M1647.9 1309.5h6M1658.9 1287.4V1314.0M1655.9 1287.4h6M1655.9 1314.0h6M1666.9 1291.3V1316.0M1663.9 1291.3h6M1663.9 1316.0h6M1706.7 1291.0V1316.5M1703.7 1291.0h6M1703.7 1316.5h6M1722.7 1285.7V1313.8M1719.7 1285.7h6M1719.7 1313.8h6M1730.7 1285.7V1312.6M1727.7 1285.7h6M1727.7 1312.6h6M1738.6 1285.1V1311.2M1735.6 1285.1h6M1735.6 1311.2h6M1746.6 1287.7V1303.7M1743.6 1287.7h6M1743.6 1303.7h6M1762.6 1273.5V1297.8M1759.6 1273.5h6M1759.6 1297.8h6M1770.5 1265.3V1292.4M1767.5 1265.3h6M1767.5 1292.4h6M1802.4 1251.8V1270.0M1799.4 1251.8h6M1799.4 1270.0h6M1810.4 1243.6V1267.6M1807.4 1243.6h6M1807.4 1267.6h6M1818.4 1240.1V1261.6M1815.4 1240.1h6M1815.4 1261.6h6M1842.3 1218.4V1245.2M1839.3 1218.4h6M1839.3 1245.2h6M1850.2 1212.0V1243.2M1847.2 1212.0h6M1847.2 1243.2h6M1866.2 1200.0V1230.4M1863.2 1200.0h6M1863.2 1230.4h6M1882.1 1192.3V1218.0M1879.1 1192.3h6M1879.1 1218.0h6M1890.1 1186.5V1211.7M1887.1 1186.5h6M1887.1 1211.7h6M1906.1 1176.0V1203.8M1903.1 1176.0h6M1903.1 1203.8h6M1922.0 1175.1V1205.4M1919.0 1175.1h6M1919.0 1205.4h6M1953.9 1178.1V1198.0M1950.9 1178.1h6M1950.9 1198.0h6M1961.9 1175.1V1203.8M1958.9 1175.1h6M1958.9 1203.8h6M1969.8 1180.8V1200.2M1966.8 1180.8h6M1966.8 1200.2h6M1977.8 1175.1V1201.7M1974.8 1175.1h6M1974.8 1201.7h6M1985.8 1181.0V1199.9M1982.8 1181.0h6M1982.8 1199.9h6M1993.8 1179.1V1205.4M1990.8 1179.1h6M1990.8 1205.4h6M2009.7 1183.8V1207.2M2006.7 1183.8h6M2006.7 1207.2h6M2017.7 1185.7V1209.6M2014.7 1185.7h6M2014.7 1209.6h6M2025.6 1186.6V1208.7M2022.6 1186.6h6M2022.6 1208.7h6M2033.6 1189.7V1211.9M2030.6 1189.7h6M2030.6 1211.9h6M2041.6 1187.0V1208.4M2038.6 1187.0h6M2038.6 1208.4h6M2057.5 1191.1V1208.8M2054.5 1191.1h6M2054.5 1208.8h6M2073.5 1187.1V1213.3M2070.5 1187.1h6M2070.5 1213.3h6M2081.5 1189.9V1212.8M2078.5 1189.9h6M2078.5 1212.8h6M2089.4 1188.5V1218.6M2086.4 1188.5h6M2086.4 1218.6h6M2097.4 1189.8V1218.0M2094.4 1189.8h6M2094.4 1218.0h6M2105.4 1194.5V1213.0M2102.4 1194.5h6M2102.4 1213.0h6M2113.3 1192.7V1214.0M2110.3 1192.7h6M2110.3 1214.0h6M2121.3 1193.0V1211.7M2118.3 1193.0h6M2118.3 1211.7h6M2129.3 1193.2V1216.0M2126.3 1193.2h6M2126.3 1216.0h6M2137.3 1197.9V1217.0M2134.3 1197.9h6M2134.3 1217.0h6M2145.2 1197.1V1224.4M2142.2 1197.1h6M2142.2 1224.4h6M2153.2 1203.9V1232.4M2150.2 1203.9h6M2150.2 1232.4h6" stroke="#c3c32a" stroke-width="1.8" fill="none"/><path d="M1233.9 1201.3a2.5 2.5 0 1 0 5.0 0a2.5 2.5 0 1 0 -5.0 0M1233.9 1218.2a2.5 2.5 0 1 0 5.0 0a2.5 2.5 0 1 0 -5.0 0M1249.8 1199.7a2.5 2.5 0 1 0 5.0 0a2.5 2.5 0 1 0 -5.0 0M1249.8 1218.0a2.5 2.5 0 1 0 5.0 0a2.5 2.5 0 1 0 -5.0 0M1257.8 1201.6a2.5 2.5 0 1 0 5.0 0a2.5 2.5 0 1 0 -5.0 0M1257.8 1221.0a2.5 2.5 0 1 0 5.0 0a2.5 2.5 0 1 0 -5.0 0M1265.8 1222.2a2.5 2.5 0 1 0 5.0 0a2.5 2.5 0 1 0 -5.0 0M1289.7 1203.3a2.5 2.5 0 1 0 5.0 0a2.5 2.5 0 1 0 -5.0 0M1289.7 1222.4a2.5 2.5 0 1 0 5.0 0a2.5 2.5 0 1 0 -5.0 0M1329.5 1227.8a2.5 2.5 0 1 0 5.0 0a2.5 2.5 0 1 0 -5.0 0M1425.2 1213.3a2.5 2.5 0 1 0 5.0 0a2.5 2.5 0 1 0 -5.0 0M1425.2 1232.5a2.5 2.5 0 1 0 5.0 0a2.5 2.5 0 1 0 -5.0 0M1441.2 1216.4a2.5 2.5 0 1 0 5.0 0a2.5 2.5 0 1 0 -5.0 0M1449.1 1219.9a2.5 2.5 0 1 0 5.0 0a2.5 2.5 0 1 0 -5.0 0M1584.7 1264.8a2.5 2.5 0 1 0 5.0 0a2.5 2.5 0 1 0 -5.0 0M1608.6 1277.3a2.5 2.5 0 1 0 5.0 0a2.5 2.5 0 1 0 -5.0 0M1656.4 1291.6a2.5 2.5 0 1 0 5.0 0a2.5 2.5 0 1 0 -5.0 0M1656.4 1309.1a2.5 2.5 0 1 0 5.0 0a2.5 2.5 0 1 0 -5.0 0M1720.2 1289.9a2.5 2.5 0 1 0 5.0 0a2.5 2.5 0 1 0 -5.0 0M1736.1 1289.4a2.5 2.5 0 1 0 5.0 0a2.5 2.5 0 1 0 -5.0 0M1736.1 1306.3a2.5 2.5 0 1 0 5.0 0a2.5 2.5 0 1 0 -5.0 0M1768.0 1270.2a2.5 2.5 0 1 0 5.0 0a2.5 2.5 0 1 0 -5.0 0M1839.8 1223.5a2.5 2.5 0 1 0 5.0 0a2.5 2.5 0 1 0 -5.0 0M1839.8 1241.1a2.5 2.5 0 1 0 5.0 0a2.5 2.5 0 1 0 -5.0 0M1847.7 1217.5a2.5 2.5 0 1 0 5.0 0a2.5 2.5 0 1 0 -5.0 0M1847.7 1237.4a2.5 2.5 0 1 0 5.0 0a2.5 2.5 0 1 0 -5.0 0M1863.7 1205.1a2.5 2.5 0 1 0 5.0 0a2.5 2.5 0 1 0 -5.0 0M1863.7 1225.2a2.5 2.5 0 1 0 5.0 0a2.5 2.5 0 1 0 -5.0 0M1879.6 1213.2a2.5 2.5 0 1 0 5.0 0a2.5 2.5 0 1 0 -5.0 0M1887.6 1190.7a2.5 2.5 0 1 0 5.0 0a2.5 2.5 0 1 0 -5.0 0M1903.6 1181.2a2.5 2.5 0 1 0 5.0 0a2.5 2.5 0 1 0 -5.0 0M1919.5 1179.7a2.5 2.5 0 1 0 5.0 0a2.5 2.5 0 1 0 -5.0 0M1919.5 1199.9a2.5 2.5 0 1 0 5.0 0a2.5 2.5 0 1 0 -5.0 0M1959.4 1180.1a2.5 2.5 0 1 0 5.0 0a2.5 2.5 0 1 0 -5.0 0M1959.4 1198.3a2.5 2.5 0 1 0 5.0 0a2.5 2.5 0 1 0 -5.0 0M1975.3 1179.8a2.5 2.5 0 1 0 5.0 0a2.5 2.5 0 1 0 -5.0 0M2071.0 1191.9a2.5 2.5 0 1 0 5.0 0a2.5 2.5 0 1 0 -5.0 0M2086.9 1193.5a2.5 2.5 0 1 0 5.0 0a2.5 2.5 0 1 0 -5.0 0M2086.9 1214.2a2.5 2.5 0 1 0 5.0 0a2.5 2.5 0 1 0 -5.0 0M2094.9 1213.3a2.5 2.5 0 1 0 5.0 0a2.5 2.5 0 1 0 -5.0 0M2142.7 1201.3a2.5 2.5 0 1 0 5.0 0a2.5 2.5 0 1 0 -5.0 0M2150.7 1208.5a2.5 2.5 0 1 0 5.0 0a2.5 2.5 0 1 0 -5.0 0M2150.7 1227.6a2.5 2.5 0 1 0 5.0 0a2.5 2.5 0 1 0 -5.0 0" fill="#c3c32a"/><g fill="#c3c32a"><rect x="1201.2" y="1200.6" width="6.6" height="14.5" rx="3.3"/><rect x="1209.1" y="1198.7" width="6.6" height="19.7" rx="3.3"/><rect x="1217.1" y="1200.9" width="6.6" height="14.5" rx="3.3"/><rect x="1225.1" y="1198.8" width="6.6" height="18.2" rx="3.3"/><rect x="1233.1" y="1202.9" width="6.6" height="14.3" rx="3.3"/><rect x="1241.0" y="1198.4" width="6.6" height="20.1" rx="3.3"/><rect x="1249.0" y="1201.2" width="6.6" height="14.9" rx="3.3"/><rect x="1257.0" y="1202.4" width="6.6" height="17.5" rx="3.3"/><rect x="1265.0" y="1203.2" width="6.6" height="18.0" rx="3.3"/><rect x="1272.9" y="1202.9" width="6.6" height="15.7" rx="3.3"/><rect x="1280.9" y="1203.7" width="6.6" height="16.0" rx="3.3"/><rect x="1288.9" y="1204.9" width="6.6" height="15.9" rx="3.3"/><rect x="1296.8" y="1204.3" width="6.6" height="18.7" rx="3.3"/><rect x="1304.8" y="1204.9" width="6.6" height="20.3" rx="3.3"/><rect x="1312.8" y="1207.8" width="6.6" height="19.0" rx="3.3"/><rect x="1320.8" y="1207.5" width="6.6" height="16.2" rx="3.3"/><rect x="1328.7" y="1210.6" width="6.6" height="16.2" rx="3.3"/><rect x="1336.7" y="1209.9" width="6.6" height="15.9" rx="3.3"/><rect x="1344.7" y="1208.4" width="6.6" height="19.7" rx="3.3"/><rect x="1352.7" y="1206.6" width="6.6" height="20.3" rx="3.3"/><rect x="1360.6" y="1206.9" width="6.6" height="18.1" rx="3.3"/><rect x="1368.6" y="1206.3" width="6.6" height="20.3" rx="3.3"/><rect x="1376.6" y="1205.8" width="6.6" height="18.7" rx="3.3"/><rect x="1384.5" y="1209.7" width="6.6" height="15.0" rx="3.3"/><rect x="1400.5" y="1212.7" width="6.6" height="15.9" rx="3.3"/><rect x="1408.5" y="1214.3" width="6.6" height="16.1" rx="3.3"/><rect x="1416.4" y="1214.4" width="6.6" height="17.6" rx="3.3"/><rect x="1424.4" y="1215.7" width="6.6" height="14.4" rx="3.3"/><rect x="1440.4" y="1218.8" width="6.6" height="14.7" rx="3.3"/><rect x="1448.3" y="1221.4" width="6.6" height="14.7" rx="3.3"/><rect x="1456.3" y="1222.3" width="6.6" height="17.6" rx="3.3"/><rect x="1464.3" y="1224.3" width="6.6" height="17.6" rx="3.3"/><rect x="1480.2" y="1231.8" width="6.6" height="18.2" rx="3.3"/><rect x="1488.2" y="1233.0" width="6.6" height="16.3" rx="3.3"/><rect x="1496.2" y="1234.1" width="6.6" height="18.1" rx="3.3"/><rect x="1504.1" y="1238.3" width="6.6" height="19.5" rx="3.3"/><rect x="1520.1" y="1241.7" width="6.6" height="18.3" rx="3.3"/><rect x="1528.0" y="1243.8" width="6.6" height="20.0" rx="3.3"/><rect x="1536.0" y="1251.3" width="6.6" height="15.5" rx="3.3"/><rect x="1544.0" y="1251.5" width="6.6" height="18.7" rx="3.3"/><rect x="1559.9" y="1257.2" width="6.6" height="16.4" rx="3.3"/><rect x="1567.9" y="1259.9" width="6.6" height="16.9" rx="3.3"/><rect x="1575.9" y="1261.7" width="6.6" height="19.5" rx="3.3"/><rect x="1583.9" y="1265.8" width="6.6" height="20.2" rx="3.3"/><rect x="1599.8" y="1273.5" width="6.6" height="15.6" rx="3.3"/><rect x="1607.8" y="1278.1" width="6.6" height="15.9" rx="3.3"/><rect x="1615.7" y="1279.0" width="6.6" height="20.3" rx="3.3"/><rect x="1623.7" y="1280.2" width="6.6" height="20.2" rx="3.3"/><rect x="1639.7" y="1286.2" width="6.6" height="17.8" rx="3.3"/><rect x="1647.6" y="1292.8" width="6.6" height="14.8" rx="3.3"/><rect x="1655.6" y="1292.5" width="6.6" height="15.0" rx="3.3"/><rect x="1663.6" y="1294.5" width="6.6" height="16.8" rx="3.3"/><rect x="1679.5" y="1294.2" width="6.6" height="18.6" rx="3.3"/><rect x="1687.5" y="1294.9" width="6.6" height="18.4" rx="3.3"/><rect x="1695.5" y="1294.1" width="6.6" height="18.8" rx="3.3"/><rect x="1703.4" y="1293.3" width="6.6" height="20.3" rx="3.3"/><rect x="1719.4" y="1290.8" width="6.6" height="19.9" rx="3.3"/><rect x="1727.4" y="1288.8" width="6.6" height="19.3" rx="3.3"/><rect x="1735.3" y="1290.3" width="6.6" height="14.3" rx="3.3"/><rect x="1743.3" y="1287.6" width="6.6" height="15.1" rx="3.3"/><rect x="1759.3" y="1275.9" width="6.6" height="18.0" rx="3.3"/><rect x="1767.2" y="1271.8" width="6.6" height="17.3" rx="3.3"/><rect x="1775.2" y="1268.2" width="6.6" height="16.0" rx="3.3"/><rect x="1783.2" y="1263.2" width="6.6" height="18.2" rx="3.3"/><rect x="1799.1" y="1251.9" width="6.6" height="17.6" rx="3.3"/><rect x="1807.1" y="1246.1" width="6.6" height="19.8" rx="3.3"/><rect x="1815.1" y="1243.5" width="6.6" height="15.1" rx="3.3"/><rect x="1823.0" y="1237.7" width="6.6" height="19.7" rx="3.3"/><rect x="1839.0" y="1225.3" width="6.6" height="14.9" rx="3.3"/><rect x="1846.9" y="1219.8" width="6.6" height="15.2" rx="3.3"/><rect x="1854.9" y="1211.6" width="6.6" height="19.6" rx="3.3"/><rect x="1862.9" y="1206.9" width="6.6" height="16.3" rx="3.3"/><rect x="1878.8" y="1195.7" width="6.6" height="15.9" rx="3.3"/><rect x="1886.8" y="1191.6" width="6.6" height="15.6" rx="3.3"/><rect x="1894.8" y="1187.9" width="6.6" height="15.7" rx="3.3"/><rect x="1902.8" y="1183.1" width="6.6" height="16.3" rx="3.3"/><rect x="1918.7" y="1181.0" width="6.6" height="16.7" rx="3.3"/><rect x="1926.7" y="1177.0" width="6.6" height="20.2" rx="3.3"/><rect x="1934.6" y="1181.4" width="6.6" height="15.9" rx="3.3"/><rect x="1942.6" y="1178.5" width="6.6" height="18.7" rx="3.3"/><rect x="1950.6" y="1179.9" width="6.6" height="17.4" rx="3.3"/><rect x="1958.6" y="1181.9" width="6.6" height="14.3" rx="3.3"/><rect x="1966.5" y="1180.4" width="6.6" height="18.4" rx="3.3"/><rect x="1974.5" y="1181.1" width="6.6" height="16.2" rx="3.3"/><rect x="1982.5" y="1182.3" width="6.6" height="16.8" rx="3.3"/><rect x="1990.5" y="1182.8" width="6.6" height="20.0" rx="3.3"/><rect x="1998.4" y="1185.3" width="6.6" height="17.6" rx="3.3"/><rect x="2006.4" y="1187.4" width="6.6" height="16.9" rx="3.3"/><rect x="2014.4" y="1190.1" width="6.6" height="15.6" rx="3.3"/><rect x="2022.3" y="1190.7" width="6.6" height="14.8" rx="3.3"/><rect x="2030.3" y="1191.5" width="6.6" height="18.8" rx="3.3"/><rect x="2038.3" y="1191.1" width="6.6" height="15.8" rx="3.3"/><rect x="2046.3" y="1191.1" width="6.6" height="18.1" rx="3.3"/><rect x="2054.2" y="1192.2" width="6.6" height="17.3" rx="3.3"/><rect x="2062.2" y="1191.8" width="6.6" height="19.0" rx="3.3"/><rect x="2070.2" y="1193.5" width="6.6" height="15.4" rx="3.3"/><rect x="2078.2" y="1191.9" width="6.6" height="19.4" rx="3.3"/><rect x="2086.1" y="1195.2" width="6.6" height="17.9" rx="3.3"/><rect x="2094.1" y="1194.5" width="6.6" height="17.4" rx="3.3"/><rect x="2102.1" y="1194.6" width="6.6" height="17.2" rx="3.3"/><rect x="2110.0" y="1195.0" width="6.6" height="17.5" rx="3.3"/><rect x="2118.0" y="1195.0" width="6.6" height="15.9" rx="3.3"/><rect x="2126.0" y="1194.7" width="6.6" height="18.5" rx="3.3"/><rect x="2134.0" y="1198.4" width="6.6" height="16.8" rx="3.3"/><rect x="2141.9" y="1202.3" width="6.6" height="18.5" rx="3.3"/><rect x="2149.9" y="1209.7" width="6.6" height="16.4" rx="3.3"/></g>
<path d="M1204.5 1165.2V1192.6M1201.5 1165.2h6M1201.5 1192.6h6M1212.4 1158.8V1190.0M1209.4 1158.8h6M1209.4 1190.0h6M1220.4 1153.7V1189.9M1217.4 1153.7h6M1217.4 1189.9h6M1228.4 1156.4V1183.1M1225.4 1156.4h6M1225.4 1183.1h6M1236.4 1156.4V1181.9M1233.4 1156.4h6M1233.4 1181.9h6M1244.3 1153.6V1189.0M1241.3 1153.6h6M1241.3 1189.0h6M1252.3 1149.7V1185.5M1249.3 1149.7h6M1249.3 1185.5h6M1260.3 1155.9V1190.4M1257.3 1155.9h6M1257.3 1190.4h6M1268.3 1160.5V1185.9M1265.3 1160.5h6M1265.3 1185.9h6M1276.2 1161.2V1187.4M1273.2 1161.2h6M1273.2 1187.4h6M1284.2 1157.8V1189.7M1281.2 1157.8h6M1281.2 1189.7h6M1292.2 1163.6V1188.7M1289.2 1163.6h6M1289.2 1188.7h6M1300.1 1153.4V1191.8M1297.1 1153.4h6M1297.1 1191.8h6M1308.1 1156.3V1198.1M1305.1 1156.3h6M1305.1 1198.1h6M1316.1 1155.2V1195.0M1313.1 1155.2h6M1313.1 1195.0h6M1324.1 1159.7V1194.4M1321.1 1159.7h6M1321.1 1194.4h6M1332.0 1164.7V1191.0M1329.0 1164.7h6M1329.0 1191.0h6M1340.0 1159.1V1200.8M1337.0 1159.1h6M1337.0 1200.8h6M1348.0 1165.9V1189.2M1345.0 1165.9h6M1345.0 1189.2h6M1356.0 1164.7V1187.7M1353.0 1164.7h6M1353.0 1187.7h6M1363.9 1161.0V1186.9M1360.9 1161.0h6M1360.9 1186.9h6M1371.9 1159.2V1195.5M1368.9 1159.2h6M1368.9 1195.5h6M1379.9 1161.1V1197.1M1376.9 1161.1h6M1376.9 1197.1h6M1387.8 1161.2V1192.6M1384.8 1161.2h6M1384.8 1192.6h6M1403.8 1169.8V1193.9M1400.8 1169.8h6M1400.8 1193.9h6M1411.8 1160.8V1202.2M1408.8 1160.8h6M1408.8 1202.2h6M1419.7 1166.3V1204.0M1416.7 1166.3h6M1416.7 1204.0h6M1427.7 1172.4V1202.6M1424.7 1172.4h6M1424.7 1202.6h6M1443.7 1176.9V1207.8M1440.7 1176.9h6M1440.7 1207.8h6M1451.6 1177.6V1213.2M1448.6 1177.6h6M1448.6 1213.2h6M1459.6 1177.5V1212.2M1456.6 1177.5h6M1456.6 1212.2h6M1467.6 1183.0V1219.0M1464.6 1183.0h6M1464.6 1219.0h6M1483.5 1187.6V1215.8M1480.5 1187.6h6M1480.5 1215.8h6M1491.5 1189.4V1221.3M1488.5 1189.4h6M1488.5 1221.3h6M1499.5 1184.7V1222.4M1496.5 1184.7h6M1496.5 1222.4h6M1507.4 1186.9V1221.5M1504.4 1186.9h6M1504.4 1221.5h6M1523.4 1194.3V1219.1M1520.4 1194.3h6M1520.4 1219.1h6M1531.3 1188.1V1227.7M1528.3 1188.1h6M1528.3 1227.7h6M1539.3 1192.6V1219.2M1536.3 1192.6h6M1536.3 1219.2h6M1547.3 1191.4V1220.4M1544.3 1191.4h6M1544.3 1220.4h6M1563.2 1189.0V1224.1M1560.2 1189.0h6M1560.2 1224.1h6M1571.2 1189.8V1219.2M1568.2 1189.8h6M1568.2 1219.2h6M1579.2 1185.3V1230.1M1576.2 1185.3h6M1576.2 1230.1h6M1587.2 1184.8V1226.2M1584.2 1184.8h6M1584.2 1226.2h6M1603.1 1194.3V1223.6M1600.1 1194.3h6M1600.1 1223.6h6M1611.1 1186.1V1224.0M1608.1 1186.1h6M1608.1 1224.0h6M1619.0 1191.0V1221.1M1616.0 1191.0h6M1616.0 1221.1h6M1627.0 1184.9V1220.2M1624.0 1184.9h6M1624.0 1220.2h6M1643.0 1188.0V1215.7M1640.0 1188.0h6M1640.0 1215.7h6M1650.9 1181.0V1220.7M1647.9 1181.0h6M1647.9 1220.7h6M1658.9 1189.5V1211.7M1655.9 1189.5h6M1655.9 1211.7h6M1666.9 1182.1V1223.3M1663.9 1182.1h6M1663.9 1223.3h6M1682.8 1185.2V1211.4M1679.8 1185.2h6M1679.8 1211.4h6M1690.8 1180.5V1217.9M1687.8 1180.5h6M1687.8 1217.9h6M1698.8 1180.7V1217.6M1695.8 1180.7h6M1695.8 1217.6h6M1706.7 1176.0V1218.5M1703.7 1176.0h6M1703.7 1218.5h6M1722.7 1176.9V1216.7M1719.7 1176.9h6M1719.7 1216.7h6M1730.7 1184.3V1214.0M1727.7 1184.3h6M1727.7 1214.0h6M1738.6 1181.9V1216.2M1735.6 1181.9h6M1735.6 1216.2h6M1746.6 1183.5V1215.5M1743.6 1183.5h6M1743.6 1215.5h6M1762.6 1174.4V1217.0M1759.6 1174.4h6M1759.6 1217.0h6M1770.5 1184.2V1212.9M1767.5 1184.2h6M1767.5 1212.9h6M1778.5 1181.8V1211.8M1775.5 1181.8h6M1775.5 1211.8h6M1786.5 1181.8V1206.0M1783.5 1181.8h6M1783.5 1206.0h6M1802.4 1177.0V1218.7M1799.4 1177.0h6M1799.4 1218.7h6M1810.4 1181.2V1202.3M1807.4 1181.2h6M1807.4 1202.3h6M1818.4 1172.4V1208.3M1815.4 1172.4h6M1815.4 1208.3h6M1826.3 1174.1V1211.3M1823.3 1174.1h6M1823.3 1211.3h6M1842.3 1177.8V1203.8M1839.3 1177.8h6M1839.3 1203.8h6M1850.2 1175.5V1199.2M1847.2 1175.5h6M1847.2 1199.2h6M1858.2 1172.5V1202.3M1855.2 1172.5h6M1855.2 1202.3h6M1866.2 1170.1V1200.0M1863.2 1170.1h6M1863.2 1200.0h6M1882.1 1162.2V1201.1M1879.1 1162.2h6M1879.1 1201.1h6M1890.1 1167.3V1193.1M1887.1 1167.3h6M1887.1 1193.1h6M1898.1 1160.0V1194.4M1895.1 1160.0h6M1895.1 1194.4h6M1906.1 1158.3V1194.7M1903.1 1158.3h6M1903.1 1194.7h6M1922.0 1161.2V1184.9M1919.0 1161.2h6M1919.0 1184.9h6M1930.0 1159.4V1181.1M1927.0 1159.4h6M1927.0 1181.1h6M1937.9 1150.6V1192.2M1934.9 1150.6h6M1934.9 1192.2h6M1945.9 1156.5V1187.7M1942.9 1156.5h6M1942.9 1187.7h6M1953.9 1155.1V1182.3M1950.9 1155.1h6M1950.9 1182.3h6M1961.9 1148.7V1184.0M1958.9 1148.7h6M1958.9 1184.0h6M1969.8 1153.0V1186.1M1966.8 1153.0h6M1966.8 1186.1h6M1977.8 1152.3V1183.3M1974.8 1152.3h6M1974.8 1183.3h6M1985.8 1158.3V1179.5M1982.8 1158.3h6M1982.8 1179.5h6M1993.8 1152.4V1185.7M1990.8 1152.4h6M1990.8 1185.7h6M2001.7 1157.6V1184.9M1998.7 1157.6h6M1998.7 1184.9h6M2009.7 1157.9V1188.6M2006.7 1157.9h6M2006.7 1188.6h6M2017.7 1156.7V1189.7M2014.7 1156.7h6M2014.7 1189.7h6M2025.6 1156.7V1193.9M2022.6 1156.7h6M2022.6 1193.9h6M2033.6 1164.1V1187.6M2030.6 1164.1h6M2030.6 1187.6h6M2041.6 1162.8V1197.8M2038.6 1162.8h6M2038.6 1197.8h6M2049.6 1164.5V1201.2M2046.6 1164.5h6M2046.6 1201.2h6M2057.5 1170.6V1191.6M2054.5 1170.6h6M2054.5 1191.6h6M2065.5 1163.4V1204.5M2062.5 1163.4h6M2062.5 1204.5h6M2073.5 1171.4V1197.6M2070.5 1171.4h6M2070.5 1197.6h6M2081.5 1177.9V1198.7M2078.5 1177.9h6M2078.5 1198.7h6M2089.4 1175.3V1205.7M2086.4 1175.3h6M2086.4 1205.7h6M2097.4 1174.1V1210.0M2094.4 1174.1h6M2094.4 1210.0h6M2105.4 1176.7V1211.5M2102.4 1176.7h6M2102.4 1211.5h6M2113.3 1178.7V1212.4M2110.3 1178.7h6M2110.3 1212.4h6M2121.3 1183.8V1205.1M2118.3 1183.8h6M2118.3 1205.1h6M2129.3 1175.0V1211.5M2126.3 1175.0h6M2126.3 1211.5h6M2137.3 1180.6V1204.9M2134.3 1180.6h6M2134.3 1204.9h6M2145.2 1171.9V1207.1M2142.2 1171.9h6M2142.2 1207.1h6M2153.2 1166.3V1204.1M2150.2 1166.3h6M2150.2 1204.1h6" stroke="#8e8e8e" stroke-width="1.8" fill="none"/><path d="M1202.0 1170.1a2.5 2.5 0 1 0 5.0 0a2.5 2.5 0 1 0 -5.0 0M1202.0 1188.4a2.5 2.5 0 1 0 5.0 0a2.5 2.5 0 1 0 -5.0 0M1209.9 1164.0a2.5 2.5 0 1 0 5.0 0a2.5 2.5 0 1 0 -5.0 0M1209.9 1185.1a2.5 2.5 0 1 0 5.0 0a2.5 2.5 0 1 0 -5.0 0M1217.9 1160.2a2.5 2.5 0 1 0 5.0 0a2.5 2.5 0 1 0 -5.0 0M1217.9 1184.2a2.5 2.5 0 1 0 5.0 0a2.5 2.5 0 1 0 -5.0 0M1241.8 1158.7a2.5 2.5 0 1 0 5.0 0a2.5 2.5 0 1 0 -5.0 0M1241.8 1182.4a2.5 2.5 0 1 0 5.0 0a2.5 2.5 0 1 0 -5.0 0M1249.8 1156.6a2.5 2.5 0 1 0 5.0 0a2.5 2.5 0 1 0 -5.0 0M1249.8 1181.1a2.5 2.5 0 1 0 5.0 0a2.5 2.5 0 1 0 -5.0 0M1257.8 1160.8a2.5 2.5 0 1 0 5.0 0a2.5 2.5 0 1 0 -5.0 0M1257.8 1183.7a2.5 2.5 0 1 0 5.0 0a2.5 2.5 0 1 0 -5.0 0M1265.8 1164.7a2.5 2.5 0 1 0 5.0 0a2.5 2.5 0 1 0 -5.0 0M1273.7 1183.3a2.5 2.5 0 1 0 5.0 0a2.5 2.5 0 1 0 -5.0 0M1281.7 1163.0a2.5 2.5 0 1 0 5.0 0a2.5 2.5 0 1 0 -5.0 0M1281.7 1185.0a2.5 2.5 0 1 0 5.0 0a2.5 2.5 0 1 0 -5.0 0M1297.6 1160.8a2.5 2.5 0 1 0 5.0 0a2.5 2.5 0 1 0 -5.0 0M1297.6 1186.4a2.5 2.5 0 1 0 5.0 0a2.5 2.5 0 1 0 -5.0 0M1305.6 1164.5a2.5 2.5 0 1 0 5.0 0a2.5 2.5 0 1 0 -5.0 0M1305.6 1189.7a2.5 2.5 0 1 0 5.0 0a2.5 2.5 0 1 0 -5.0 0M1313.6 1163.6a2.5 2.5 0 1 0 5.0 0a2.5 2.5 0 1 0 -5.0 0M1313.6 1188.7a2.5 2.5 0 1 0 5.0 0a2.5 2.5 0 1 0 -5.0 0M1321.6 1165.3a2.5 2.5 0 1 0 5.0 0a2.5 2.5 0 1 0 -5.0 0M1321.6 1188.7a2.5 2.5 0 1 0 5.0 0a2.5 2.5 0 1 0 -5.0 0M1329.5 1169.3a2.5 2.5 0 1 0 5.0 0a2.5 2.5 0 1 0 -5.0 0M1337.5 1166.3a2.5 2.5 0 1 0 5.0 0a2.5 2.5 0 1 0 -5.0 0M1337.5 1192.0a2.5 2.5 0 1 0 5.0 0a2.5 2.5 0 1 0 -5.0 0M1361.4 1165.6a2.5 2.5 0 1 0 5.0 0a2.5 2.5 0 1 0 -5.0 0M1369.4 1165.5a2.5 2.5 0 1 0 5.0 0a2.5 2.5 0 1 0 -5.0 0M1369.4 1189.3a2.5 2.5 0 1 0 5.0 0a2.5 2.5 0 1 0 -5.0 0M1377.4 1166.0a2.5 2.5 0 1 0 5.0 0a2.5 2.5 0 1 0 -5.0 0M1377.4 1190.6a2.5 2.5 0 1 0 5.0 0a2.5 2.5 0 1 0 -5.0 0M1385.3 1166.8a2.5 2.5 0 1 0 5.0 0a2.5 2.5 0 1 0 -5.0 0M1385.3 1188.2a2.5 2.5 0 1 0 5.0 0a2.5 2.5 0 1 0 -5.0 0M1409.3 1169.1a2.5 2.5 0 1 0 5.0 0a2.5 2.5 0 1 0 -5.0 0M1409.3 1195.7a2.5 2.5 0 1 0 5.0 0a2.5 2.5 0 1 0 -5.0 0M1417.2 1172.4a2.5 2.5 0 1 0 5.0 0a2.5 2.5 0 1 0 -5.0 0M1417.2 1197.7a2.5 2.5 0 1 0 5.0 0a2.5 2.5 0 1 0 -5.0 0M1425.2 1177.2a2.5 2.5 0 1 0 5.0 0a2.5 2.5 0 1 0 -5.0 0M1425.2 1198.0a2.5 2.5 0 1 0 5.0 0a2.5 2.5 0 1 0 -5.0 0M1441.2 1182.0a2.5 2.5 0 1 0 5.0 0a2.5 2.5 0 1 0 -5.0 0M1441.2 1202.8a2.5 2.5 0 1 0 5.0 0a2.5 2.5 0 1 0 -5.0 0M1449.1 1184.6a2.5 2.5 0 1 0 5.0 0a2.5 2.5 0 1 0 -5.0 0M1449.1 1206.5a2.5 2.5 0 1 0 5.0 0a2.5 2.5 0 1 0 -5.0 0M1457.1 1183.9a2.5 2.5 0 1 0 5.0 0a2.5 2.5 0 1 0 -5.0 0M1457.1 1207.6a2.5 2.5 0 1 0 5.0 0a2.5 2.5 0 1 0 -5.0 0M1465.1 1189.7a2.5 2.5 0 1 0 5.0 0a2.5 2.5 0 1 0 -5.0 0M1465.1 1212.2a2.5 2.5 0 1 0 5.0 0a2.5 2.5 0 1 0 -5.0 0M1481.0 1191.8a2.5 2.5 0 1 0 5.0 0a2.5 2.5 0 1 0 -5.0 0M1489.0 1193.5a2.5 2.5 0 1 0 5.0 0a2.5 2.5 0 1 0 -5.0 0M1489.0 1215.2a2.5 2.5 0 1 0 5.0 0a2.5 2.5 0 1 0 -5.0 0M1497.0 1192.7a2.5 2.5 0 1 0 5.0 0a2.5 2.5 0 1 0 -5.0 0M1497.0 1215.4a2.5 2.5 0 1 0 5.0 0a2.5 2.5 0 1 0 -5.0 0M1504.9 1193.1a2.5 2.5 0 1 0 5.0 0a2.5 2.5 0 1 0 -5.0 0M1504.9 1215.8a2.5 2.5 0 1 0 5.0 0a2.5 2.5 0 1 0 -5.0 0M1528.8 1194.4a2.5 2.5 0 1 0 5.0 0a2.5 2.5 0 1 0 -5.0 0M1528.8 1220.6a2.5 2.5 0 1 0 5.0 0a2.5 2.5 0 1 0 -5.0 0M1536.8 1196.6a2.5 2.5 0 1 0 5.0 0a2.5 2.5 0 1 0 -5.0 0M1536.8 1214.9a2.5 2.5 0 1 0 5.0 0a2.5 2.5 0 1 0 -5.0 0M1544.8 1196.4a2.5 2.5 0 1 0 5.0 0a2.5 2.5 0 1 0 -5.0 0M1560.7 1195.3a2.5 2.5 0 1 0 5.0 0a2.5 2.5 0 1 0 -5.0 0M1560.7 1217.8a2.5 2.5 0 1 0 5.0 0a2.5 2.5 0 1 0 -5.0 0M1568.7 1194.6a2.5 2.5 0 1 0 5.0 0a2.5 2.5 0 1 0 -5.0 0M1576.7 1194.5a2.5 2.5 0 1 0 5.0 0a2.5 2.5 0 1 0 -5.0 0M1576.7 1221.3a2.5 2.5 0 1 0 5.0 0a2.5 2.5 0 1 0 -5.0 0M1584.7 1192.9a2.5 2.5 0 1 0 5.0 0a2.5 2.5 0 1 0 -5.0 0M1584.7 1220.1a2.5 2.5 0 1 0 5.0 0a2.5 2.5 0 1 0 -5.0 0M1600.6 1218.6a2.5 2.5 0 1 0 5.0 0a2.5 2.5 0 1 0 -5.0 0M1608.6 1193.2a2.5 2.5 0 1 0 5.0 0a2.5 2.5 0 1 0 -5.0 0M1608.6 1217.6a2.5 2.5 0 1 0 5.0 0a2.5 2.5 0 1 0 -5.0 0M1616.5 1195.6a2.5 2.5 0 1 0 5.0 0a2.5 2.5 0 1 0 -5.0 0M1616.5 1216.1a2.5 2.5 0 1 0 5.0 0a2.5 2.5 0 1 0 -5.0 0M1624.5 1191.0a2.5 2.5 0 1 0 5.0 0a2.5 2.5 0 1 0 -5.0 0M1624.5 1215.0a2.5 2.5 0 1 0 5.0 0a2.5 2.5 0 1 0 -5.0 0M1640.5 1193.2a2.5 2.5 0 1 0 5.0 0a2.5 2.5 0 1 0 -5.0 0M1648.4 1187.6a2.5 2.5 0 1 0 5.0 0a2.5 2.5 0 1 0 -5.0 0M1648.4 1213.8a2.5 2.5 0 1 0 5.0 0a2.5 2.5 0 1 0 -5.0 0M1664.4 1189.6a2.5 2.5 0 1 0 5.0 0a2.5 2.5 0 1 0 -5.0 0M1664.4 1215.3a2.5 2.5 0 1 0 5.0 0a2.5 2.5 0 1 0 -5.0 0M1680.3 1189.7a2.5 2.5 0 1 0 5.0 0a2.5 2.5 0 1 0 -5.0 0M1680.3 1207.3a2.5 2.5 0 1 0 5.0 0a2.5 2.5 0 1 0 -5.0 0M1688.3 1187.9a2.5 2.5 0 1 0 5.0 0a2.5 2.5 0 1 0 -5.0 0M1688.3 1210.7a2.5 2.5 0 1 0 5.0 0a2.5 2.5 0 1 0 -5.0 0M1696.3 1186.8a2.5 2.5 0 1 0 5.0 0a2.5 2.5 0 1 0 -5.0 0M1696.3 1212.1a2.5 2.5 0 1 0 5.0 0a2.5 2.5 0 1 0 -5.0 0M1704.2 1183.5a2.5 2.5 0 1 0 5.0 0a2.5 2.5 0 1 0 -5.0 0M1704.2 1211.3a2.5 2.5 0 1 0 5.0 0a2.5 2.5 0 1 0 -5.0 0M1720.2 1184.6a2.5 2.5 0 1 0 5.0 0a2.5 2.5 0 1 0 -5.0 0M1720.2 1211.3a2.5 2.5 0 1 0 5.0 0a2.5 2.5 0 1 0 -5.0 0M1728.2 1189.1a2.5 2.5 0 1 0 5.0 0a2.5 2.5 0 1 0 -5.0 0M1728.2 1209.6a2.5 2.5 0 1 0 5.0 0a2.5 2.5 0 1 0 -5.0 0M1736.1 1186.5a2.5 2.5 0 1 0 5.0 0a2.5 2.5 0 1 0 -5.0 0M1736.1 1209.4a2.5 2.5 0 1 0 5.0 0a2.5 2.5 0 1 0 -5.0 0M1744.1 1188.2a2.5 2.5 0 1 0 5.0 0a2.5 2.5 0 1 0 -5.0 0M1744.1 1210.6a2.5 2.5 0 1 0 5.0 0a2.5 2.5 0 1 0 -5.0 0M1760.1 1182.3a2.5 2.5 0 1 0 5.0 0a2.5 2.5 0 1 0 -5.0 0M1760.1 1210.3a2.5 2.5 0 1 0 5.0 0a2.5 2.5 0 1 0 -5.0 0M1768.0 1207.8a2.5 2.5 0 1 0 5.0 0a2.5 2.5 0 1 0 -5.0 0M1776.0 1186.4a2.5 2.5 0 1 0 5.0 0a2.5 2.5 0 1 0 -5.0 0M1776.0 1206.1a2.5 2.5 0 1 0 5.0 0a2.5 2.5 0 1 0 -5.0 0M1799.9 1183.0a2.5 2.5 0 1 0 5.0 0a2.5 2.5 0 1 0 -5.0 0M1799.9 1210.1a2.5 2.5 0 1 0 5.0 0a2.5 2.5 0 1 0 -5.0 0M1815.9 1178.8a2.5 2.5 0 1 0 5.0 0a2.5 2.5 0 1 0 -5.0 0M1815.9 1203.4a2.5 2.5 0 1 0 5.0 0a2.5 2.5 0 1 0 -5.0 0M1823.8 1180.7a2.5 2.5 0 1 0 5.0 0a2.5 2.5 0 1 0 -5.0 0M1823.8 1204.3a2.5 2.5 0 1 0 5.0 0a2.5 2.5 0 1 0 -5.0 0M1855.7 1176.9a2.5 2.5 0 1 0 5.0 0a2.5 2.5 0 1 0 -5.0 0M1855.7 1197.1a2.5 2.5 0 1 0 5.0 0a2.5 2.5 0 1 0 -5.0 0M1863.7 1175.3a2.5 2.5 0 1 0 5.0 0a2.5 2.5 0 1 0 -5.0 0M1863.7 1194.4a2.5 2.5 0 1 0 5.0 0a2.5 2.5 0 1 0 -5.0 0M1879.6 1169.5a2.5 2.5 0 1 0 5.0 0a2.5 2.5 0 1 0 -5.0 0M1879.6 1195.7a2.5 2.5 0 1 0 5.0 0a2.5 2.5 0 1 0 -5.0 0M1887.6 1171.7a2.5 2.5 0 1 0 5.0 0a2.5 2.5 0 1 0 -5.0 0M1887.6 1188.8a2.5 2.5 0 1 0 5.0 0a2.5 2.5 0 1 0 -5.0 0M1895.6 1165.7a2.5 2.5 0 1 0 5.0 0a2.5 2.5 0 1 0 -5.0 0M1895.6 1189.6a2.5 2.5 0 1 0 5.0 0a2.5 2.5 0 1 0 -5.0 0M1903.6 1164.9a2.5 2.5 0 1 0 5.0 0a2.5 2.5 0 1 0 -5.0 0M1903.6 1188.9a2.5 2.5 0 1 0 5.0 0a2.5 2.5 0 1 0 -5.0 0M1935.4 1157.3a2.5 2.5 0 1 0 5.0 0a2.5 2.5 0 1 0 -5.0 0M1935.4 1184.5a2.5 2.5 0 1 0 5.0 0a2.5 2.5 0 1 0 -5.0 0M1943.4 1161.4a2.5 2.5 0 1 0 5.0 0a2.5 2.5 0 1 0 -5.0 0M1943.4 1181.8a2.5 2.5 0 1 0 5.0 0a2.5 2.5 0 1 0 -5.0 0M1959.4 1155.6a2.5 2.5 0 1 0 5.0 0a2.5 2.5 0 1 0 -5.0 0M1959.4 1178.1a2.5 2.5 0 1 0 5.0 0a2.5 2.5 0 1 0 -5.0 0M1967.3 1157.9a2.5 2.5 0 1 0 5.0 0a2.5 2.5 0 1 0 -5.0 0M1967.3 1179.9a2.5 2.5 0 1 0 5.0 0a2.5 2.5 0 1 0 -5.0 0M1975.3 1158.0a2.5 2.5 0 1 0 5.0 0a2.5 2.5 0 1 0 -5.0 0M1975.3 1178.7a2.5 2.5 0 1 0 5.0 0a2.5 2.5 0 1 0 -5.0 0M1991.3 1158.4a2.5 2.5 0 1 0 5.0 0a2.5 2.5 0 1 0 -5.0 0M1991.3 1181.3a2.5 2.5 0 1 0 5.0 0a2.5 2.5 0 1 0 -5.0 0M1999.2 1161.7a2.5 2.5 0 1 0 5.0 0a2.5 2.5 0 1 0 -5.0 0M1999.2 1180.5a2.5 2.5 0 1 0 5.0 0a2.5 2.5 0 1 0 -5.0 0M2007.2 1163.1a2.5 2.5 0 1 0 5.0 0a2.5 2.5 0 1 0 -5.0 0M2007.2 1182.5a2.5 2.5 0 1 0 5.0 0a2.5 2.5 0 1 0 -5.0 0M2015.2 1162.4a2.5 2.5 0 1 0 5.0 0a2.5 2.5 0 1 0 -5.0 0M2015.2 1185.2a2.5 2.5 0 1 0 5.0 0a2.5 2.5 0 1 0 -5.0 0M2023.1 1163.7a2.5 2.5 0 1 0 5.0 0a2.5 2.5 0 1 0 -5.0 0M2023.1 1188.3a2.5 2.5 0 1 0 5.0 0a2.5 2.5 0 1 0 -5.0 0M2039.1 1168.0a2.5 2.5 0 1 0 5.0 0a2.5 2.5 0 1 0 -5.0 0M2039.1 1191.2a2.5 2.5 0 1 0 5.0 0a2.5 2.5 0 1 0 -5.0 0M2047.1 1169.4a2.5 2.5 0 1 0 5.0 0a2.5 2.5 0 1 0 -5.0 0M2047.1 1194.6a2.5 2.5 0 1 0 5.0 0a2.5 2.5 0 1 0 -5.0 0M2063.0 1169.4a2.5 2.5 0 1 0 5.0 0a2.5 2.5 0 1 0 -5.0 0M2063.0 1196.7a2.5 2.5 0 1 0 5.0 0a2.5 2.5 0 1 0 -5.0 0M2086.9 1179.5a2.5 2.5 0 1 0 5.0 0a2.5 2.5 0 1 0 -5.0 0M2086.9 1201.6a2.5 2.5 0 1 0 5.0 0a2.5 2.5 0 1 0 -5.0 0M2094.9 1179.1a2.5 2.5 0 1 0 5.0 0a2.5 2.5 0 1 0 -5.0 0M2094.9 1203.7a2.5 2.5 0 1 0 5.0 0a2.5 2.5 0 1 0 -5.0 0M2102.9 1182.5a2.5 2.5 0 1 0 5.0 0a2.5 2.5 0 1 0 -5.0 0M2102.9 1205.7a2.5 2.5 0 1 0 5.0 0a2.5 2.5 0 1 0 -5.0 0M2110.8 1184.5a2.5 2.5 0 1 0 5.0 0a2.5 2.5 0 1 0 -5.0 0M2110.8 1205.8a2.5 2.5 0 1 0 5.0 0a2.5 2.5 0 1 0 -5.0 0M2126.8 1182.3a2.5 2.5 0 1 0 5.0 0a2.5 2.5 0 1 0 -5.0 0M2126.8 1205.1a2.5 2.5 0 1 0 5.0 0a2.5 2.5 0 1 0 -5.0 0M2142.7 1178.9a2.5 2.5 0 1 0 5.0 0a2.5 2.5 0 1 0 -5.0 0M2142.7 1201.4a2.5 2.5 0 1 0 5.0 0a2.5 2.5 0 1 0 -5.0 0M2150.7 1173.2a2.5 2.5 0 1 0 5.0 0a2.5 2.5 0 1 0 -5.0 0M2150.7 1198.2a2.5 2.5 0 1 0 5.0 0a2.5 2.5 0 1 0 -5.0 0" fill="#8e8e8e"/><g fill="#8e8e8e"><rect x="1201.2" y="1171.7" width="6.6" height="15.7" rx="3.3"/><rect x="1209.1" y="1165.9" width="6.6" height="17.6" rx="3.3"/><rect x="1217.1" y="1163.5" width="6.6" height="18.3" rx="3.3"/><rect x="1225.1" y="1160.5" width="6.6" height="18.7" rx="3.3"/><rect x="1233.1" y="1159.7" width="6.6" height="19.0" rx="3.3"/><rect x="1241.0" y="1160.4" width="6.6" height="18.7" rx="3.3"/><rect x="1249.0" y="1160.2" width="6.6" height="19.8" rx="3.3"/><rect x="1257.0" y="1162.3" width="6.6" height="18.1" rx="3.3"/><rect x="1265.0" y="1165.6" width="6.6" height="16.1" rx="3.3"/><rect x="1272.9" y="1165.4" width="6.6" height="17.3" rx="3.3"/><rect x="1280.9" y="1164.9" width="6.6" height="18.7" rx="3.3"/><rect x="1288.9" y="1167.2" width="6.6" height="18.3" rx="3.3"/><rect x="1296.8" y="1164.8" width="6.6" height="19.5" rx="3.3"/><rect x="1304.8" y="1169.4" width="6.6" height="15.1" rx="3.3"/><rect x="1312.8" y="1168.8" width="6.6" height="16.8" rx="3.3"/><rect x="1320.8" y="1167.6" width="6.6" height="18.7" rx="3.3"/><rect x="1328.7" y="1170.7" width="6.6" height="16.0" rx="3.3"/><rect x="1336.7" y="1170.3" width="6.6" height="16.3" rx="3.3"/><rect x="1344.7" y="1168.4" width="6.6" height="18.7" rx="3.3"/><rect x="1352.7" y="1166.4" width="6.6" height="18.3" rx="3.3"/><rect x="1360.6" y="1166.9" width="6.6" height="16.3" rx="3.3"/><rect x="1368.6" y="1168.5" width="6.6" height="17.9" rx="3.3"/><rect x="1376.6" y="1167.7" width="6.6" height="19.7" rx="3.3"/><rect x="1384.5" y="1169.0" width="6.6" height="18.2" rx="3.3"/><rect x="1400.5" y="1172.2" width="6.6" height="19.0" rx="3.3"/><rect x="1408.5" y="1174.1" width="6.6" height="18.4" rx="3.3"/><rect x="1416.4" y="1175.3" width="6.6" height="19.5" rx="3.3"/><rect x="1424.4" y="1178.8" width="6.6" height="17.9" rx="3.3"/><rect x="1440.4" y="1183.8" width="6.6" height="17.3" rx="3.3"/><rect x="1448.3" y="1188.3" width="6.6" height="14.7" rx="3.3"/><rect x="1456.3" y="1187.0" width="6.6" height="19.3" rx="3.3"/><rect x="1464.3" y="1193.1" width="6.6" height="15.5" rx="3.3"/><rect x="1480.2" y="1192.6" width="6.6" height="19.5" rx="3.3"/><rect x="1488.2" y="1194.3" width="6.6" height="18.3" rx="3.3"/><rect x="1496.2" y="1197.3" width="6.6" height="14.4" rx="3.3"/><rect x="1504.1" y="1195.9" width="6.6" height="17.5" rx="3.3"/><rect x="1520.1" y="1196.8" width="6.6" height="18.7" rx="3.3"/><rect x="1528.0" y="1197.5" width="6.6" height="19.2" rx="3.3"/><rect x="1536.0" y="1197.3" width="6.6" height="16.7" rx="3.3"/><rect x="1544.0" y="1198.1" width="6.6" height="18.9" rx="3.3"/><rect x="1559.9" y="1198.3" width="6.6" height="16.4" rx="3.3"/><rect x="1567.9" y="1196.0" width="6.6" height="19.4" rx="3.3"/><rect x="1575.9" y="1200.3" width="6.6" height="15.5" rx="3.3"/><rect x="1583.9" y="1197.7" width="6.6" height="19.7" rx="3.3"/><rect x="1599.8" y="1197.9" width="6.6" height="19.0" rx="3.3"/><rect x="1607.8" y="1197.0" width="6.6" height="17.5" rx="3.3"/><rect x="1615.7" y="1196.9" width="6.6" height="17.5" rx="3.3"/><rect x="1623.7" y="1193.9" width="6.6" height="19.2" rx="3.3"/><rect x="1639.7" y="1195.1" width="6.6" height="16.0" rx="3.3"/><rect x="1647.6" y="1190.8" width="6.6" height="19.4" rx="3.3"/><rect x="1655.6" y="1191.9" width="6.6" height="18.9" rx="3.3"/><rect x="1663.6" y="1193.7" width="6.6" height="16.8" rx="3.3"/><rect x="1679.5" y="1190.9" width="6.6" height="15.5" rx="3.3"/><rect x="1687.5" y="1192.0" width="6.6" height="14.8" rx="3.3"/><rect x="1695.5" y="1189.5" width="6.6" height="20.2" rx="3.3"/><rect x="1703.4" y="1187.8" width="6.6" height="19.7" rx="3.3"/><rect x="1719.4" y="1189.1" width="6.6" height="20.1" rx="3.3"/><rect x="1727.4" y="1190.7" width="6.6" height="17.7" rx="3.3"/><rect x="1735.3" y="1187.8" width="6.6" height="18.0" rx="3.3"/><rect x="1743.3" y="1189.5" width="6.6" height="19.5" rx="3.3"/><rect x="1759.3" y="1186.8" width="6.6" height="20.1" rx="3.3"/><rect x="1767.2" y="1187.6" width="6.6" height="18.5" rx="3.3"/><rect x="1775.2" y="1187.8" width="6.6" height="15.9" rx="3.3"/><rect x="1783.2" y="1185.2" width="6.6" height="19.3" rx="3.3"/><rect x="1799.1" y="1185.8" width="6.6" height="19.1" rx="3.3"/><rect x="1807.1" y="1184.2" width="6.6" height="16.4" rx="3.3"/><rect x="1815.1" y="1181.9" width="6.6" height="19.9" rx="3.3"/><rect x="1823.0" y="1184.0" width="6.6" height="16.5" rx="3.3"/><rect x="1839.0" y="1181.2" width="6.6" height="18.8" rx="3.3"/><rect x="1846.9" y="1179.7" width="6.6" height="15.6" rx="3.3"/><rect x="1854.9" y="1178.0" width="6.6" height="17.2" rx="3.3"/><rect x="1862.9" y="1177.2" width="6.6" height="14.9" rx="3.3"/><rect x="1878.8" y="1173.6" width="6.6" height="20.0" rx="3.3"/><rect x="1886.8" y="1172.8" width="6.6" height="15.0" rx="3.3"/><rect x="1894.8" y="1168.1" width="6.6" height="20.0" rx="3.3"/><rect x="1902.8" y="1168.2" width="6.6" height="18.4" rx="3.3"/><rect x="1918.7" y="1165.3" width="6.6" height="15.7" rx="3.3"/><rect x="1926.7" y="1160.6" width="6.6" height="20.1" rx="3.3"/><rect x="1934.6" y="1160.8" width="6.6" height="19.4" rx="3.3"/><rect x="1942.6" y="1163.1" width="6.6" height="16.1" rx="3.3"/><rect x="1950.6" y="1158.9" width="6.6" height="19.7" rx="3.3"/><rect x="1958.6" y="1159.2" width="6.6" height="16.3" rx="3.3"/><rect x="1966.5" y="1159.5" width="6.6" height="17.6" rx="3.3"/><rect x="1974.5" y="1160.5" width="6.6" height="17.0" rx="3.3"/><rect x="1982.5" y="1159.6" width="6.6" height="18.9" rx="3.3"/><rect x="1990.5" y="1161.0" width="6.6" height="19.1" rx="3.3"/><rect x="1998.4" y="1162.4" width="6.6" height="17.1" rx="3.3"/><rect x="2006.4" y="1164.9" width="6.6" height="14.7" rx="3.3"/><rect x="2014.4" y="1164.8" width="6.6" height="19.2" rx="3.3"/><rect x="2022.3" y="1167.3" width="6.6" height="18.7" rx="3.3"/><rect x="2030.3" y="1168.0" width="6.6" height="17.5" rx="3.3"/><rect x="2038.3" y="1169.9" width="6.6" height="18.0" rx="3.3"/><rect x="2046.3" y="1171.0" width="6.6" height="20.3" rx="3.3"/><rect x="2054.2" y="1170.4" width="6.6" height="20.2" rx="3.3"/><rect x="2062.2" y="1172.1" width="6.6" height="20.1" rx="3.3"/><rect x="2070.2" y="1175.8" width="6.6" height="19.2" rx="3.3"/><rect x="2078.2" y="1179.0" width="6.6" height="17.0" rx="3.3"/><rect x="2086.1" y="1180.5" width="6.6" height="20.3" rx="3.3"/><rect x="2094.1" y="1180.8" width="6.6" height="19.8" rx="3.3"/><rect x="2102.1" y="1184.9" width="6.6" height="18.2" rx="3.3"/><rect x="2110.0" y="1187.1" width="6.6" height="15.4" rx="3.3"/><rect x="2118.0" y="1185.5" width="6.6" height="17.2" rx="3.3"/><rect x="2126.0" y="1186.4" width="6.6" height="15.6" rx="3.3"/><rect x="2134.0" y="1182.8" width="6.6" height="19.3" rx="3.3"/><rect x="2141.9" y="1182.7" width="6.6" height="16.3" rx="3.3"/><rect x="2149.9" y="1176.7" width="6.6" height="18.8" rx="3.3"/></g>
<path d="M327.3 45.6V135.5M327.3 185.4V594.0" stroke="#101a68" stroke-width="3.6" stroke-dasharray="4.5 5.1" fill="none"/>
<path d="M821.9 45.6V135.5M821.9 185.4V594.0" stroke="#101a68" stroke-width="3.6" stroke-dasharray="4.5 5.1" fill="none"/>
<path d="M1409.4 54.3V152.5M1409.4 199.5V602.7" stroke="#101a68" stroke-width="3.6" stroke-dasharray="4.5 5.1" fill="none"/>
<path d="M1940.3 54.3V153.8M1940.3 200.0V602.7" stroke="#101a68" stroke-width="3.6" stroke-dasharray="4.5 5.1" fill="none"/>
<path d="M327.3 705.5V1013.7" stroke="#101a68" stroke-width="3.6" stroke-dasharray="4.5 5.1" fill="none"/>
<path d="M821.9 705.5V843.0M821.9 979.0V1013.7" stroke="#101a68" stroke-width="3.6" stroke-dasharray="4.5 5.1" fill="none"/>
<path d="M1410.6 714.0V1025.0" stroke="#101a68" stroke-width="3.6" stroke-dasharray="4.5 5.1" fill="none"/>
<path d="M1939.5 714.0V853.0M1939.5 987.0V1025.0" stroke="#101a68" stroke-width="3.6" stroke-dasharray="4.5 5.1" fill="none"/>
<path d="M327.3 1128.6V1436.4" stroke="#101a68" stroke-width="3.6" stroke-dasharray="4.5 5.1" fill="none"/>
<path d="M821.9 1128.6V1190.0M821.9 1243.0V1436.4" stroke="#101a68" stroke-width="3.6" stroke-dasharray="4.5 5.1" fill="none"/>
<path d="M1410.6 1128.0V1436.3" stroke="#101a68" stroke-width="3.6" stroke-dasharray="4.5 5.1" fill="none"/>
<path d="M1940.3 1128.0V1345.0M1940.3 1398.0V1436.3" stroke="#101a68" stroke-width="3.6" stroke-dasharray="4.5 5.1" fill="none"/>
<path d="M135.9 37.6v8M135.9 596.0v-8M175.8 37.6v16M175.8 596.0v-16M215.7 37.6v8M215.7 596.0v-8M255.5 37.6v16M255.5 596.0v-16M295.4 37.6v8M295.4 596.0v-8M335.3 37.6v16M335.3 596.0v-16M375.2 37.6v8M375.2 596.0v-8M415.1 37.6v16M415.1 596.0v-16M455.0 37.6v8M455.0 596.0v-8M494.8 37.6v16M494.8 596.0v-16M534.7 37.6v8M534.7 596.0v-8M574.6 37.6v16M574.6 596.0v-16M614.5 37.6v8M614.5 596.0v-8M654.4 37.6v16M654.4 596.0v-16M694.2 37.6v8M694.2 596.0v-8M734.1 37.6v16M734.1 596.0v-16M774.0 37.6v8M774.0 596.0v-8M813.9 37.6v16M813.9 596.0v-16M853.8 37.6v8M853.8 596.0v-8M893.7 37.6v16M893.7 596.0v-16M933.6 37.6v8M933.6 596.0v-8M973.4 37.6v16M973.4 596.0v-16M1013.3 37.6v8M1013.3 596.0v-8M96.0 569.4h8M1053.2 569.4h-8M96.0 542.8h8M1053.2 542.8h-8M96.0 516.2h16M1053.2 516.2h-16M96.0 489.6h8M1053.2 489.6h-8M96.0 463.0h8M1053.2 463.0h-8M96.0 436.5h16M1053.2 436.5h-16M96.0 409.9h8M1053.2 409.9h-8M96.0 383.3h8M1053.2 383.3h-8M96.0 356.7h16M1053.2 356.7h-16M96.0 330.1h8M1053.2 330.1h-8M96.0 303.5h8M1053.2 303.5h-8M96.0 276.9h16M1053.2 276.9h-16M96.0 250.3h8M1053.2 250.3h-8M96.0 223.7h8M1053.2 223.7h-8M96.0 197.1h16M1053.2 197.1h-16M96.0 170.6h8M1053.2 170.6h-8M96.0 144.0h8M1053.2 144.0h-8M96.0 117.4h16M1053.2 117.4h-16M96.0 90.8h8M1053.2 90.8h-8M96.0 64.2h8M1053.2 64.2h-8" stroke="#000" stroke-width="3" fill="none"/>
<rect x="96.0" y="37.6" width="957.2" height="558.4" fill="none" stroke="#000" stroke-width="3.0"/>
<g font-size="28.2"><text x="96.0" y="636.5" text-anchor="middle">0</text><text x="175.8" y="636.5" text-anchor="middle">2</text><text x="255.5" y="636.5" text-anchor="middle">4</text><text x="335.3" y="636.5" text-anchor="middle">6</text><text x="415.1" y="636.5" text-anchor="middle">8</text><text x="494.8" y="636.5" text-anchor="middle">10</text><text x="574.6" y="636.5" text-anchor="middle">12</text><text x="654.4" y="636.5" text-anchor="middle">14</text><text x="734.1" y="636.5" text-anchor="middle">16</text><text x="813.9" y="636.5" text-anchor="middle">18</text><text x="893.7" y="636.5" text-anchor="middle">20</text><text x="973.4" y="636.5" text-anchor="middle">22</text><text x="1053.2" y="636.5" text-anchor="middle">24</text><text x="80.1" y="605.8" text-anchor="end">180</text><text x="80.1" y="526.0" text-anchor="end">195</text><text x="80.1" y="446.3" text-anchor="end">210</text><text x="80.1" y="366.5" text-anchor="end">225</text><text x="80.1" y="286.7" text-anchor="end">240</text><text x="80.1" y="206.9" text-anchor="end">255</text><text x="80.1" y="127.2" text-anchor="end">270</text><text x="80.1" y="47.4" text-anchor="end">285</text></g>
<text x="574.6" y="666.5" text-anchor="middle" font-weight="bold" font-size="26.9">LTST (hr)</text>
<path d="M135.9 697.5v8M135.9 1015.7v-8M175.8 697.5v16M175.8 1015.7v-16M215.7 697.5v8M215.7 1015.7v-8M255.5 697.5v16M255.5 1015.7v-16M295.4 697.5v8M295.4 1015.7v-8M335.3 697.5v16M335.3 1015.7v-16M375.2 697.5v8M375.2 1015.7v-8M415.1 697.5v16M415.1 1015.7v-16M455.0 697.5v8M455.0 1015.7v-8M494.8 697.5v16M494.8 1015.7v-16M534.7 697.5v8M534.7 1015.7v-8M574.6 697.5v16M574.6 1015.7v-16M614.5 697.5v8M614.5 1015.7v-8M654.4 697.5v16M654.4 1015.7v-16M694.2 697.5v8M694.2 1015.7v-8M734.1 697.5v16M734.1 1015.7v-16M774.0 697.5v8M774.0 1015.7v-8M813.9 697.5v16M813.9 1015.7v-16M853.8 697.5v8M853.8 1015.7v-8M893.7 697.5v16M893.7 1015.7v-16M933.6 697.5v8M933.6 1015.7v-8M973.4 697.5v16M973.4 1015.7v-16M1013.3 697.5v8M1013.3 1015.7v-8M96.0 993.0h8M1053.2 993.0h-8M96.0 970.2h16M1053.2 970.2h-16M96.0 947.5h8M1053.2 947.5h-8M96.0 924.8h16M1053.2 924.8h-16M96.0 902.1h8M1053.2 902.1h-8M96.0 879.3h16M1053.2 879.3h-16M96.0 856.6h8M1053.2 856.6h-8M96.0 833.9h16M1053.2 833.9h-16M96.0 811.1h8M1053.2 811.1h-8M96.0 788.4h16M1053.2 788.4h-16M96.0 765.7h8M1053.2 765.7h-8M96.0 743.0h16M1053.2 743.0h-16M96.0 720.2h8M1053.2 720.2h-8" stroke="#000" stroke-width="3" fill="none"/>
<rect x="96.0" y="697.5" width="957.2" height="318.2" fill="none" stroke="#000" stroke-width="3.0"/>
<g font-size="28.2"><text x="96.0" y="1056.2" text-anchor="middle">0</text><text x="175.8" y="1056.2" text-anchor="middle">2</text><text x="255.5" y="1056.2" text-anchor="middle">4</text><text x="335.3" y="1056.2" text-anchor="middle">6</text><text x="415.1" y="1056.2" text-anchor="middle">8</text><text x="494.8" y="1056.2" text-anchor="middle">10</text><text x="574.6" y="1056.2" text-anchor="middle">12</text><text x="654.4" y="1056.2" text-anchor="middle">14</text><text x="734.1" y="1056.2" text-anchor="middle">16</text><text x="813.9" y="1056.2" text-anchor="middle">18</text><text x="893.7" y="1056.2" text-anchor="middle">20</text><text x="973.4" y="1056.2" text-anchor="middle">22</text><text x="1053.2" y="1056.2" text-anchor="middle">24</text><text x="80.1" y="1025.5" text-anchor="end">-50</text><text x="80.1" y="980.0" text-anchor="end">-40</text><text x="80.1" y="934.6" text-anchor="end">-30</text><text x="80.1" y="889.1" text-anchor="end">-20</text><text x="80.1" y="843.7" text-anchor="end">-10</text><text x="80.1" y="798.2" text-anchor="end">0</text><text x="80.1" y="752.8" text-anchor="end">10</text><text x="80.1" y="707.3" text-anchor="end">20</text></g>
<text x="574.6" y="1086.2" text-anchor="middle" font-weight="bold" font-size="26.9">LTST (hr)</text>
<path d="M135.9 1120.6v8M135.9 1438.4v-8M175.8 1120.6v16M175.8 1438.4v-16M215.7 1120.6v8M215.7 1438.4v-8M255.5 1120.6v16M255.5 1438.4v-16M295.4 1120.6v8M295.4 1438.4v-8M335.3 1120.6v16M335.3 1438.4v-16M375.2 1120.6v8M375.2 1438.4v-8M415.1 1120.6v16M415.1 1438.4v-16M455.0 1120.6v8M455.0 1438.4v-8M494.8 1120.6v16M494.8 1438.4v-16M534.7 1120.6v8M534.7 1438.4v-8M574.6 1120.6v16M574.6 1438.4v-16M614.5 1120.6v8M614.5 1438.4v-8M654.4 1120.6v16M654.4 1438.4v-16M694.2 1120.6v8M694.2 1438.4v-8M734.1 1120.6v16M734.1 1438.4v-16M774.0 1120.6v8M774.0 1438.4v-8M813.9 1120.6v16M813.9 1438.4v-16M853.8 1120.6v8M853.8 1438.4v-8M893.7 1120.6v16M893.7 1438.4v-16M933.6 1120.6v8M933.6 1438.4v-8M973.4 1120.6v16M973.4 1438.4v-16M1013.3 1120.6v8M1013.3 1438.4v-8M96.0 1393.0h8M1053.2 1393.0h-8M96.0 1347.6h16M1053.2 1347.6h-16M96.0 1302.2h8M1053.2 1302.2h-8M96.0 1256.8h16M1053.2 1256.8h-16M96.0 1211.4h8M1053.2 1211.4h-8M96.0 1166.0h16M1053.2 1166.0h-16" stroke="#000" stroke-width="3" fill="none"/>
<rect x="96.0" y="1120.6" width="957.2" height="317.8" fill="none" stroke="#000" stroke-width="3.0"/>
<g font-size="28.2"><text x="96.0" y="1478.9" text-anchor="middle">0</text><text x="175.8" y="1478.9" text-anchor="middle">2</text><text x="255.5" y="1478.9" text-anchor="middle">4</text><text x="335.3" y="1478.9" text-anchor="middle">6</text><text x="415.1" y="1478.9" text-anchor="middle">8</text><text x="494.8" y="1478.9" text-anchor="middle">10</text><text x="574.6" y="1478.9" text-anchor="middle">12</text><text x="654.4" y="1478.9" text-anchor="middle">14</text><text x="734.1" y="1478.9" text-anchor="middle">16</text><text x="813.9" y="1478.9" text-anchor="middle">18</text><text x="893.7" y="1478.9" text-anchor="middle">20</text><text x="973.4" y="1478.9" text-anchor="middle">22</text><text x="1053.2" y="1478.9" text-anchor="middle">24</text><text x="80.1" y="1448.2" text-anchor="end">-1.5</text><text x="80.1" y="1357.4" text-anchor="end">-1</text><text x="80.1" y="1266.6" text-anchor="end">-0.5</text><text x="80.1" y="1175.8" text-anchor="end">0</text></g>
<text x="574.6" y="1508.9" text-anchor="middle" font-weight="bold" font-size="26.9">LTST (hr)</text>
<path d="M1237.2 46.3v8M1237.2 604.7v-8M1277.0 46.3v16M1277.0 604.7v-16M1316.9 46.3v8M1316.9 604.7v-8M1356.8 46.3v16M1356.8 604.7v-16M1396.6 46.3v8M1396.6 604.7v-8M1436.5 46.3v16M1436.5 604.7v-16M1476.3 46.3v8M1476.3 604.7v-8M1516.2 46.3v16M1516.2 604.7v-16M1556.1 46.3v8M1556.1 604.7v-8M1595.9 46.3v16M1595.9 604.7v-16M1635.8 46.3v8M1635.8 604.7v-8M1675.7 46.3v16M1675.7 604.7v-16M1715.5 46.3v8M1715.5 604.7v-8M1755.4 46.3v16M1755.4 604.7v-16M1795.2 46.3v8M1795.2 604.7v-8M1835.1 46.3v16M1835.1 604.7v-16M1875.0 46.3v8M1875.0 604.7v-8M1914.8 46.3v16M1914.8 604.7v-16M1954.7 46.3v8M1954.7 604.7v-8M1994.5 46.3v16M1994.5 604.7v-16M2034.4 46.3v8M2034.4 604.7v-8M2074.3 46.3v16M2074.3 604.7v-16M2114.1 46.3v8M2114.1 604.7v-8M1197.3 578.1h8M2154.0 578.1h-8M1197.3 551.5h8M2154.0 551.5h-8M1197.3 524.9h16M2154.0 524.9h-16M1197.3 498.3h8M2154.0 498.3h-8M1197.3 471.7h8M2154.0 471.7h-8M1197.3 445.2h16M2154.0 445.2h-16M1197.3 418.6h8M2154.0 418.6h-8M1197.3 392.0h8M2154.0 392.0h-8M1197.3 365.4h16M2154.0 365.4h-16M1197.3 338.8h8M2154.0 338.8h-8M1197.3 312.2h8M2154.0 312.2h-8M1197.3 285.6h16M2154.0 285.6h-16M1197.3 259.0h8M2154.0 259.0h-8M1197.3 232.4h8M2154.0 232.4h-8M1197.3 205.8h16M2154.0 205.8h-16M1197.3 179.3h8M2154.0 179.3h-8M1197.3 152.7h8M2154.0 152.7h-8M1197.3 126.1h16M2154.0 126.1h-16M1197.3 99.5h8M2154.0 99.5h-8M1197.3 72.9h8M2154.0 72.9h-8" stroke="#000" stroke-width="3" fill="none"/>
<rect x="1197.3" y="46.3" width="956.7" height="558.4" fill="none" stroke="#000" stroke-width="3.0"/>
<g font-size="28.2"><text x="1197.3" y="645.2" text-anchor="middle">0</text><text x="1277.0" y="645.2" text-anchor="middle">2</text><text x="1356.8" y="645.2" text-anchor="middle">4</text><text x="1436.5" y="645.2" text-anchor="middle">6</text><text x="1516.2" y="645.2" text-anchor="middle">8</text><text x="1595.9" y="645.2" text-anchor="middle">10</text><text x="1675.7" y="645.2" text-anchor="middle">12</text><text x="1755.4" y="645.2" text-anchor="middle">14</text><text x="1835.1" y="645.2" text-anchor="middle">16</text><text x="1914.8" y="645.2" text-anchor="middle">18</text><text x="1994.5" y="645.2" text-anchor="middle">20</text><text x="2074.3" y="645.2" text-anchor="middle">22</text><text x="2154.0" y="645.2" text-anchor="middle">24</text><text x="1181.4" y="614.5" text-anchor="end">180</text><text x="1181.4" y="534.7" text-anchor="end">195</text><text x="1181.4" y="455.0" text-anchor="end">210</text><text x="1181.4" y="375.2" text-anchor="end">225</text><text x="1181.4" y="295.4" text-anchor="end">240</text><text x="1181.4" y="215.6" text-anchor="end">255</text><text x="1181.4" y="135.9" text-anchor="end">270</text><text x="1181.4" y="56.1" text-anchor="end">285</text></g>
<text x="1675.7" y="675.2" text-anchor="middle" font-weight="bold" font-size="26.9">LTST (hr)</text>
<path d="M1237.2 706.0v8M1237.2 1027.0v-8M1277.0 706.0v16M1277.0 1027.0v-16M1316.9 706.0v8M1316.9 1027.0v-8M1356.8 706.0v16M1356.8 1027.0v-16M1396.6 706.0v8M1396.6 1027.0v-8M1436.5 706.0v16M1436.5 1027.0v-16M1476.3 706.0v8M1476.3 1027.0v-8M1516.2 706.0v16M1516.2 1027.0v-16M1556.1 706.0v8M1556.1 1027.0v-8M1595.9 706.0v16M1595.9 1027.0v-16M1635.8 706.0v8M1635.8 1027.0v-8M1675.7 706.0v16M1675.7 1027.0v-16M1715.5 706.0v8M1715.5 1027.0v-8M1755.4 706.0v16M1755.4 1027.0v-16M1795.2 706.0v8M1795.2 1027.0v-8M1835.1 706.0v16M1835.1 1027.0v-16M1875.0 706.0v8M1875.0 1027.0v-8M1914.8 706.0v16M1914.8 1027.0v-16M1954.7 706.0v8M1954.7 1027.0v-8M1994.5 706.0v16M1994.5 1027.0v-16M2034.4 706.0v8M2034.4 1027.0v-8M2074.3 706.0v16M2074.3 1027.0v-16M2114.1 706.0v8M2114.1 1027.0v-8M1197.3 1004.1h8M2154.0 1004.1h-8M1197.3 981.1h16M2154.0 981.1h-16M1197.3 958.2h8M2154.0 958.2h-8M1197.3 935.3h16M2154.0 935.3h-16M1197.3 912.4h8M2154.0 912.4h-8M1197.3 889.4h16M2154.0 889.4h-16M1197.3 866.5h8M2154.0 866.5h-8M1197.3 843.6h16M2154.0 843.6h-16M1197.3 820.6h8M2154.0 820.6h-8M1197.3 797.7h16M2154.0 797.7h-16M1197.3 774.8h8M2154.0 774.8h-8M1197.3 751.9h16M2154.0 751.9h-16M1197.3 728.9h8M2154.0 728.9h-8" stroke="#000" stroke-width="3" fill="none"/>
<rect x="1197.3" y="706.0" width="956.7" height="321.0" fill="none" stroke="#000" stroke-width="3.0"/>
<g font-size="28.2"><text x="1197.3" y="1067.5" text-anchor="middle">0</text><text x="1277.0" y="1067.5" text-anchor="middle">2</text><text x="1356.8" y="1067.5" text-anchor="middle">4</text><text x="1436.5" y="1067.5" text-anchor="middle">6</text><text x="1516.2" y="1067.5" text-anchor="middle">8</text><text x="1595.9" y="1067.5" text-anchor="middle">10</text><text x="1675.7" y="1067.5" text-anchor="middle">12</text><text x="1755.4" y="1067.5" text-anchor="middle">14</text><text x="1835.1" y="1067.5" text-anchor="middle">16</text><text x="1914.8" y="1067.5" text-anchor="middle">18</text><text x="1994.5" y="1067.5" text-anchor="middle">20</text><text x="2074.3" y="1067.5" text-anchor="middle">22</text><text x="2154.0" y="1067.5" text-anchor="middle">24</text><text x="1181.4" y="1036.8" text-anchor="end">-50</text><text x="1181.4" y="990.9" text-anchor="end">-40</text><text x="1181.4" y="945.1" text-anchor="end">-30</text><text x="1181.4" y="899.2" text-anchor="end">-20</text><text x="1181.4" y="853.4" text-anchor="end">-10</text><text x="1181.4" y="807.5" text-anchor="end">0</text><text x="1181.4" y="761.7" text-anchor="end">10</text><text x="1181.4" y="715.8" text-anchor="end">20</text></g>
<text x="1675.7" y="1097.5" text-anchor="middle" font-weight="bold" font-size="26.9">LTST (hr)</text>
<path d="M1237.2 1120.0v8M1237.2 1438.3v-8M1277.0 1120.0v16M1277.0 1438.3v-16M1316.9 1120.0v8M1316.9 1438.3v-8M1356.8 1120.0v16M1356.8 1438.3v-16M1396.6 1120.0v8M1396.6 1438.3v-8M1436.5 1120.0v16M1436.5 1438.3v-16M1476.3 1120.0v8M1476.3 1438.3v-8M1516.2 1120.0v16M1516.2 1438.3v-16M1556.1 1120.0v8M1556.1 1438.3v-8M1595.9 1120.0v16M1595.9 1438.3v-16M1635.8 1120.0v8M1635.8 1438.3v-8M1675.7 1120.0v16M1675.7 1438.3v-16M1715.5 1120.0v8M1715.5 1438.3v-8M1755.4 1120.0v16M1755.4 1438.3v-16M1795.2 1120.0v8M1795.2 1438.3v-8M1835.1 1120.0v16M1835.1 1438.3v-16M1875.0 1120.0v8M1875.0 1438.3v-8M1914.8 1120.0v16M1914.8 1438.3v-16M1954.7 1120.0v8M1954.7 1438.3v-8M1994.5 1120.0v16M1994.5 1438.3v-16M2034.4 1120.0v8M2034.4 1438.3v-8M2074.3 1120.0v16M2074.3 1438.3v-16M2114.1 1120.0v8M2114.1 1438.3v-8M1197.3 1392.8h8M2154.0 1392.8h-8M1197.3 1347.4h16M2154.0 1347.4h-16M1197.3 1301.9h8M2154.0 1301.9h-8M1197.3 1256.4h16M2154.0 1256.4h-16M1197.3 1210.9h8M2154.0 1210.9h-8M1197.3 1165.5h16M2154.0 1165.5h-16" stroke="#000" stroke-width="3" fill="none"/>
<rect x="1197.3" y="1120.0" width="956.7" height="318.3" fill="none" stroke="#000" stroke-width="3.0"/>
<g font-size="28.2"><text x="1197.3" y="1478.8" text-anchor="middle">0</text><text x="1277.0" y="1478.8" text-anchor="middle">2</text><text x="1356.8" y="1478.8" text-anchor="middle">4</text><text x="1436.5" y="1478.8" text-anchor="middle">6</text><text x="1516.2" y="1478.8" text-anchor="middle">8</text><text x="1595.9" y="1478.8" text-anchor="middle">10</text><text x="1675.7" y="1478.8" text-anchor="middle">12</text><text x="1755.4" y="1478.8" text-anchor="middle">14</text><text x="1835.1" y="1478.8" text-anchor="middle">16</text><text x="1914.8" y="1478.8" text-anchor="middle">18</text><text x="1994.5" y="1478.8" text-anchor="middle">20</text><text x="2074.3" y="1478.8" text-anchor="middle">22</text><text x="2154.0" y="1478.8" text-anchor="middle">24</text><text x="1181.4" y="1448.1" text-anchor="end">-1.5</text><text x="1181.4" y="1357.2" text-anchor="end">-1</text><text x="1181.4" y="1266.2" text-anchor="end">-0.5</text><text x="1181.4" y="1175.3" text-anchor="end">0</text></g>
<text x="1675.7" y="1508.8" text-anchor="middle" font-weight="bold" font-size="26.9">LTST (hr)</text>
<text x="440" y="23.3" font-weight="bold" font-size="31" xml:space="preserve">Sols 20-22,  Ls=16</text>
<text x="1523" y="31.5" font-weight="bold" font-size="31" xml:space="preserve">Sols 140-150,  Ls=73</text>
<text transform="translate(20.2,317.0) rotate(-90)" text-anchor="middle" font-weight="bold" font-size="26.9">Temp (K)</text>
<text transform="translate(27.2,856.6) rotate(-90)" text-anchor="middle" font-weight="bold" font-size="26.9"><tspan font-weight="normal">&#916;</tspan>T/dz (K/m)</text>
<text transform="translate(20.0,1279.5) rotate(-90)" text-anchor="middle" font-weight="bold" font-size="26.9"><tspan font-weight="normal">&#916;</tspan>T/dz (K/m)</text>
<text transform="translate(1120.0,325.5) rotate(-90)" text-anchor="middle" font-weight="bold" font-size="26.9">Temp (K)</text>
<text transform="translate(1127.0,866.5) rotate(-90)" text-anchor="middle" font-weight="bold" font-size="26.9"><tspan font-weight="normal">&#916;</tspan>T/dz (K/m)</text>
<text transform="translate(1121.0,1279.2) rotate(-90)" text-anchor="middle" font-weight="bold" font-size="26.9"><tspan font-weight="normal">&#916;</tspan>T/dz (K/m)</text>
<text x="119.5" y="98.3" font-size="57">a</text>
<text x="119.8" y="860" font-size="57">b</text>
<text x="129.5" y="1249" font-size="57">c</text>
<text x="1220" y="106.7" font-size="57">d</text>
<text x="1227.5" y="760.3" font-size="57">e</text>
<text x="1224" y="1179.6" font-size="57">f</text>
<g fill="#3a6b9c" font-weight="bold" font-size="31"><text x="265.5" y="173">Sunrise</text><text x="780" y="174.7">Sunset</text><text x="1369" y="185.7">Sunrise</text><text x="1884.3" y="187.5">Sunset</text></g>
<rect x="727.0" y="56.1" width="293" height="50" fill="#fff"/><text x="731.0" y="93.1" font-weight="bold" font-size="30" xml:space="preserve">TI=260 <tspan dx="2.5">J&#183;m</tspan><tspan font-size="19" dy="-10">-2</tspan><tspan dy="10" dx="1">&#183;K</tspan><tspan font-size="19" dy="-10">-1</tspan><tspan dy="10" dx="1.5">&#183;s</tspan><tspan font-size="19" dy="-10" dx="0.5">-1/2</tspan></text>
<rect x="1830.5" y="69.2" width="293" height="50" fill="#fff"/><text x="1834.5" y="106.2" font-weight="bold" font-size="30" xml:space="preserve">TI=545 <tspan dx="2.5">J&#183;m</tspan><tspan font-size="19" dy="-10">-2</tspan><tspan dy="10" dx="1">&#183;K</tspan><tspan font-size="19" dy="-10">-1</tspan><tspan dy="10" dx="1.5">&#183;s</tspan><tspan font-size="19" dy="-10" dx="0.5">-1/2</tspan></text>
<text x="775.5" y="877.0" fill="#9d9d3a" font-weight="bold" font-size="30" xml:space="preserve">(T<tspan font-size="19" dy="8">surf</tspan><tspan dy="-8"> - T</tspan><tspan font-size="19" dy="8">z=40m</tspan><tspan dy="-8">) / </tspan><tspan font-weight="normal">&#916;</tspan>z</text>
<text x="775.5" y="919.3" fill="#2e8c64" font-weight="bold" font-size="30" xml:space="preserve">(T<tspan font-size="19" dy="8">surf</tspan><tspan dy="-8"> - T</tspan><tspan font-size="19" dy="8">z=1.45m</tspan><tspan dy="-8">) /</tspan><tspan font-weight="normal">&#916;</tspan>z</text>
<text x="775.5" y="961.6" fill="#1212c8" font-weight="bold" font-size="30" xml:space="preserve">(T<tspan font-size="19" dy="8">surf</tspan><tspan dy="-8"> - T</tspan><tspan font-size="19" dy="8">z=0.85m</tspan><tspan dy="-8">) /</tspan><tspan font-weight="normal">&#916;</tspan>z</text>
<text x="1879.5" y="890.5" fill="#9d9d3a" font-weight="bold" font-size="30" xml:space="preserve">(T<tspan font-size="19" dy="8">surf</tspan><tspan dy="-8"> - T</tspan><tspan font-size="19" dy="8">z=40m</tspan><tspan dy="-8">) / </tspan><tspan font-weight="normal">&#916;</tspan>z</text>
<text x="1879.5" y="932.8" fill="#2e8c64" font-weight="bold" font-size="30" xml:space="preserve">(T<tspan font-size="19" dy="8">surf</tspan><tspan dy="-8"> - T</tspan><tspan font-size="19" dy="8">z=1.45m</tspan><tspan dy="-8">) /</tspan><tspan font-weight="normal">&#916;</tspan>z</text>
<text x="1879.5" y="975.1" fill="#1212c8" font-weight="bold" font-size="30" xml:space="preserve">(T<tspan font-size="19" dy="8">surf</tspan><tspan dy="-8"> - T</tspan><tspan font-size="19" dy="8">z=0.85m</tspan><tspan dy="-8">) /</tspan><tspan font-weight="normal">&#916;</tspan>z</text>
<text x="780.2" y="1229.3" fill="#9d9d3a" font-weight="bold" font-size="30" xml:space="preserve">(T<tspan font-size="19" dy="8">surf</tspan><tspan dy="-8"> - T</tspan><tspan font-size="19" dy="8">z=40m</tspan><tspan dy="-8">) / </tspan><tspan font-weight="normal">&#916;</tspan>z</text>
<text x="1890.0" y="1382.9" fill="#9d9d3a" font-weight="bold" font-size="30" xml:space="preserve">(T<tspan font-size="19" dy="8">surf</tspan><tspan dy="-8"> - T</tspan><tspan font-size="19" dy="8">z=40m</tspan><tspan dy="-8">) / </tspan><tspan font-weight="normal">&#916;</tspan>z</text>
</svg></body></html>
